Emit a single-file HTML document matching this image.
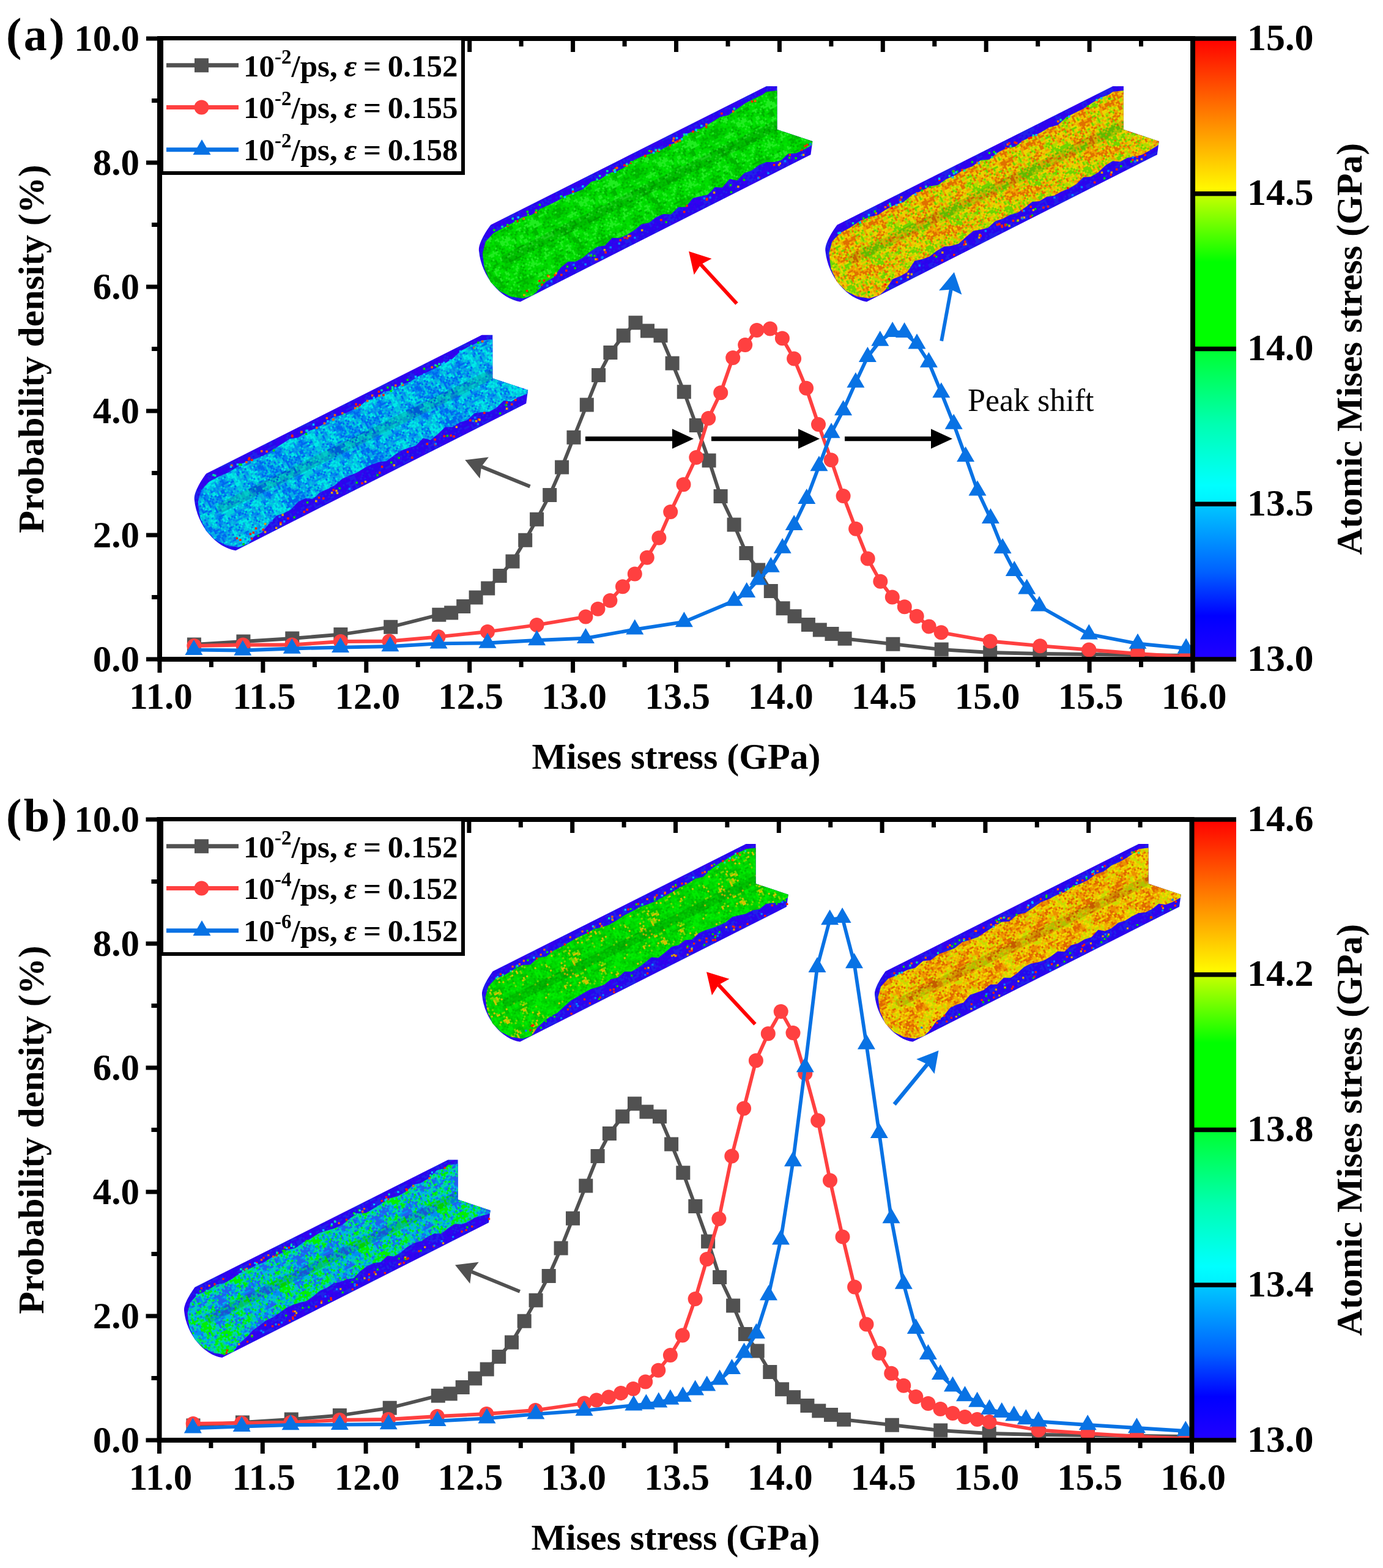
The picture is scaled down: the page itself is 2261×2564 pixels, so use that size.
<!DOCTYPE html><html><head><meta charset="utf-8"><style>html,body{margin:0;padding:0;background:#fff;}svg{display:block;}#fig{width:2261px;height:2564px;overflow:hidden;}</style></head><body><div id="fig">
<svg width="2261" height="2564" viewBox="0 0 2261 2564" font-family="Liberation Serif, Times New Roman, serif" font-weight="bold">
<defs><linearGradient id="jet" x1="0" y1="0" x2="0" y2="1"><stop offset="0" stop-color="#ff0000"/><stop offset="0.125" stop-color="#ff8000"/><stop offset="0.249" stop-color="#ffff00"/><stop offset="0.251" stop-color="#c8ff00"/><stop offset="0.36" stop-color="#00ff00"/><stop offset="0.499" stop-color="#00ff00"/><stop offset="0.501" stop-color="#00ff30"/><stop offset="0.62" stop-color="#00ffb0"/><stop offset="0.72" stop-color="#00ffff"/><stop offset="0.749" stop-color="#00f0ff"/><stop offset="0.751" stop-color="#00c8ff"/><stop offset="0.86" stop-color="#0060ff"/><stop offset="0.93" stop-color="#0000ff"/><stop offset="1" stop-color="#2200ff"/></linearGradient><pattern id="pt_cyan" width="144" height="144" patternUnits="userSpaceOnUse" patternTransform="rotate(-26.7)"><rect width="144" height="144" fill="#0aa0e8"/><path fill="#0068f0" d="M0 0h3v3h-3zm12 0h3v3h-3zm27 0h3v3h-3zm30 0h3v3h-3zm3 0h3v3h-3zm3 0h3v3h-3zm36 0h3v3h-3zm3 0h3v3h-3zm-108 3h3v3h-3zm21 0h3v3h-3zm12 0h3v3h-3zm3 0h3v3h-3zm9 0h3v3h-3zm15 0h3v3h-3zm6 0h3v3h-3zm42 0h3v3h-3zm27 0h3v3h-3zm-108 3h3v3h-3zm3 0h3v3h-3zm9 0h3v3h-3zm9 0h3v3h-3zm12 0h3v3h-3zm6 0h3v3h-3zm3 0h3v3h-3zm36 0h3v3h-3zm3 0h3v3h-3zm3 0h3v3h-3zm3 0h3v3h-3zm-114 3h3v3h-3zm21 0h3v3h-3zm6 0h3v3h-3zm3 0h3v3h-3zm3 0h3v3h-3zm12 0h3v3h-3zm27 0h3v3h-3zm12 0h3v3h-3zm21 0h3v3h-3zm15 0h3v3h-3zm3 0h3v3h-3zm-123 3h3v3h-3zm30 0h3v3h-3zm3 0h3v3h-3zm9 0h3v3h-3zm12 0h3v3h-3zm15 0h3v3h-3zm45 0h3v3h-3zm3 0h3v3h-3zm-84 3h3v3h-3zm12 0h3v3h-3zm3 0h3v3h-3zm21 0h3v3h-3zm12 0h3v3h-3zm18 0h3v3h-3zm3 0h3v3h-3zm-66 3h3v3h-3zm9 0h3v3h-3zm27 0h3v3h-3zm6 0h3v3h-3zm9 0h3v3h-3zm12 0h3v3h-3zm3 0h3v3h-3zm21 0h3v3h-3zm-129 3h3v3h-3zm33 0h3v3h-3zm6 0h3v3h-3zm15 0h3v3h-3zm9 0h3v3h-3zm6 0h3v3h-3zm9 0h3v3h-3zm3 0h3v3h-3zm6 0h3v3h-3zm9 0h3v3h-3zm3 0h3v3h-3zm27 0h3v3h-3zm-120 3h3v3h-3zm27 0h3v3h-3zm3 0h3v3h-3zm15 0h3v3h-3zm6 0h3v3h-3zm12 0h3v3h-3zm9 0h3v3h-3zm6 0h3v3h-3zm9 0h3v3h-3zm6 0h3v3h-3zm6 0h3v3h-3zm3 0h3v3h-3zm12 0h3v3h-3zm-108 3h3v3h-3zm27 0h3v3h-3zm15 0h3v3h-3zm3 0h3v3h-3zm6 0h3v3h-3zm15 0h3v3h-3zm6 0h3v3h-3zm6 0h3v3h-3zm27 0h3v3h-3zm-108 3h3v3h-3zm15 0h3v3h-3zm3 0h3v3h-3zm15 0h3v3h-3zm3 0h3v3h-3zm6 0h3v3h-3zm12 0h3v3h-3zm15 0h3v3h-3zm21 0h3v3h-3zm21 0h3v3h-3zm-117 3h3v3h-3zm3 0h3v3h-3zm6 0h3v3h-3zm3 0h3v3h-3zm24 0h3v3h-3zm9 0h3v3h-3zm3 0h3v3h-3zm12 0h3v3h-3zm3 0h3v3h-3zm3 0h3v3h-3zm-60 3h3v3h-3zm6 0h3v3h-3zm3 0h3v3h-3zm3 0h3v3h-3zm9 0h3v3h-3zm24 0h3v3h-3zm18 0h3v3h-3zm3 0h3v3h-3zm9 0h3v3h-3zm24 0h3v3h-3zm-99 3h3v3h-3zm6 0h3v3h-3zm3 0h3v3h-3zm3 0h3v3h-3zm24 0h3v3h-3zm6 0h3v3h-3zm18 0h3v3h-3zm15 0h3v3h-3zm-72 3h3v3h-3zm3 0h3v3h-3zm3 0h3v3h-3zm3 0h3v3h-3zm63 0h3v3h-3zm-72 3h3v3h-3zm6 0h3v3h-3zm3 0h3v3h-3zm3 0h3v3h-3zm36 0h3v3h-3zm-51 3h3v3h-3zm12 0h3v3h-3zm27 0h3v3h-3zm-42 3h3v3h-3zm21 0h3v3h-3zm21 0h3v3h-3zm12 0h3v3h-3zm24 0h3v3h-3zm3 0h3v3h-3zm3 0h3v3h-3zm21 0h3v3h-3zm30 0h3v3h-3zm-117 3h3v3h-3zm3 0h3v3h-3zm3 0h3v3h-3zm9 0h3v3h-3zm3 0h3v3h-3zm6 0h3v3h-3zm6 0h3v3h-3zm6 0h3v3h-3zm21 0h3v3h-3zm3 0h3v3h-3zm27 0h3v3h-3zm21 0h3v3h-3zm6 0h3v3h-3zm-111 3h3v3h-3zm3 0h3v3h-3zm45 0h3v3h-3zm6 0h3v3h-3zm-54 3h3v3h-3zm24 0h3v3h-3zm3 0h3v3h-3zm6 0h3v3h-3zm3 0h3v3h-3zm33 0h3v3h-3zm6 0h3v3h-3zm12 0h3v3h-3zm3 0h3v3h-3zm18 0h3v3h-3zm-120 3h3v3h-3zm36 0h3v3h-3zm9 0h3v3h-3zm3 0h3v3h-3zm15 0h3v3h-3zm27 0h3v3h-3zm9 0h3v3h-3zm6 0h3v3h-3zm6 0h3v3h-3zm-111 3h3v3h-3zm39 0h3v3h-3zm6 0h3v3h-3zm6 0h3v3h-3zm12 0h3v3h-3zm12 0h3v3h-3zm33 0h3v3h-3zm-120 3h3v3h-3zm63 0h3v3h-3zm3 0h3v3h-3zm3 0h3v3h-3zm63 0h3v3h-3zm-123 3h3v3h-3zm45 0h3v3h-3zm9 0h3v3h-3zm-45 3h3v3h-3zm21 0h3v3h-3zm3 0h3v3h-3zm9 0h3v3h-3zm3 0h3v3h-3zm15 0h3v3h-3zm3 0h3v3h-3zm3 0h3v3h-3zm12 0h3v3h-3zm3 0h3v3h-3zm9 0h3v3h-3zm21 0h3v3h-3zm18 0h3v3h-3zm-132 3h3v3h-3zm9 0h3v3h-3zm30 0h3v3h-3zm6 0h3v3h-3zm3 0h3v3h-3zm9 0h3v3h-3zm3 0h3v3h-3zm18 0h3v3h-3zm3 0h3v3h-3zm45 0h3v3h-3zm-120 3h3v3h-3zm6 0h3v3h-3zm30 0h3v3h-3zm3 0h3v3h-3zm3 0h3v3h-3zm3 0h3v3h-3zm3 0h3v3h-3zm3 0h3v3h-3zm3 0h3v3h-3zm6 0h3v3h-3zm3 0h3v3h-3zm27 0h3v3h-3zm-57 3h3v3h-3zm9 0h3v3h-3zm3 0h3v3h-3zm3 0h3v3h-3zm3 0h3v3h-3zm6 0h3v3h-3zm6 0h3v3h-3zm6 0h3v3h-3zm18 0h3v3h-3zm33 0h3v3h-3zm-120 3h3v3h-3zm30 0h3v3h-3zm3 0h3v3h-3zm9 0h3v3h-3zm15 0h3v3h-3zm18 0h3v3h-3zm15 0h3v3h-3zm21 0h3v3h-3zm12 0h3v3h-3zm-117 3h3v3h-3zm39 0h3v3h-3zm6 0h3v3h-3zm6 0h3v3h-3zm-45 3h3v3h-3zm39 0h3v3h-3zm3 0h3v3h-3zm21 0h3v3h-3zm9 0h3v3h-3zm12 0h3v3h-3zm3 0h3v3h-3zm-105 3h3v3h-3zm21 0h3v3h-3zm39 0h3v3h-3zm18 0h3v3h-3zm3 0h3v3h-3zm21 0h3v3h-3zm-54 3h3v3h-3zm3 0h3v3h-3zm3 0h3v3h-3zm3 0h3v3h-3zm-66 3h3v3h-3zm60 0h3v3h-3zm9 0h3v3h-3zm3 0h3v3h-3zm60 0h3v3h-3zm-81 3h3v3h-3zm9 0h3v3h-3zm3 0h3v3h-3zm3 0h3v3h-3zm3 0h3v3h-3zm3 0h3v3h-3zm15 0h3v3h-3zm27 0h3v3h-3zm-114 3h3v3h-3zm3 0h3v3h-3zm42 0h3v3h-3zm54 0h3v3h-3zm9 0h3v3h-3zm9 0h3v3h-3zm-117 3h3v3h-3zm3 0h3v3h-3zm3 0h3v3h-3zm63 0h3v3h-3zm18 0h3v3h-3zm12 0h3v3h-3zm3 0h3v3h-3zm27 0h3v3h-3zm6 0h3v3h-3zm3 0h3v3h-3zm-102 3h3v3h-3zm3 0h3v3h-3zm9 0h3v3h-3zm75 0h3v3h-3zm15 0h3v3h-3zm-117 3h3v3h-3zm6 0h3v3h-3zm6 0h3v3h-3zm6 0h3v3h-3zm6 0h3v3h-3zm3 0h3v3h-3zm3 0h3v3h-3zm78 0h3v3h-3zm9 0h3v3h-3zm-123 3h3v3h-3zm3 0h3v3h-3zm3 0h3v3h-3zm15 0h3v3h-3zm3 0h3v3h-3zm9 0h3v3h-3zm66 0h3v3h-3zm-93 3h3v3h-3zm15 0h3v3h-3zm3 0h3v3h-3zm18 0h3v3h-3zm15 0h3v3h-3zm-69 3h3v3h-3zm21 0h3v3h-3zm3 0h3v3h-3zm21 0h3v3h-3zm12 0h3v3h-3zm24 0h3v3h-3zm6 0h3v3h-3zm6 0h3v3h-3zm3 0h3v3h-3zm3 0h3v3h-3zm15 0h3v3h-3zm-114 3h3v3h-3zm18 0h3v3h-3zm18 0h3v3h-3zm9 0h3v3h-3zm18 0h3v3h-3zm54 0h3v3h-3zm-120 3h3v3h-3zm18 0h3v3h-3zm27 0h3v3h-3zm15 0h3v3h-3zm3 0h3v3h-3zm-63 3h3v3h-3zm3 0h3v3h-3zm21 0h3v3h-3zm3 0h3v3h-3zm12 0h3v3h-3zm12 0h3v3h-3zm6 0h3v3h-3zm3 0h3v3h-3zm3 0h3v3h-3zm9 0h3v3h-3zm57 0h3v3h-3zm-126 3h3v3h-3zm3 0h3v3h-3zm12 0h3v3h-3zm3 0h3v3h-3zm3 0h3v3h-3zm30 0h3v3h-3zm3 0h3v3h-3zm3 0h3v3h-3zm3 0h3v3h-3zm3 0h3v3h-3zm-30 3h3v3h-3zm33 0h3v3h-3zm9 0h3v3h-3zm42 0h3v3h-3z"/><path fill="#00d0dc" d="M9 0h3v3h-3zm6 0h3v3h-3zm45 0h3v3h-3zm3 0h3v3h-3zm27 0h3v3h-3zm15 0h3v3h-3zm24 0h3v3h-3zm6 0h3v3h-3zm-132 3h3v3h-3zm15 0h3v3h-3zm12 0h3v3h-3zm24 0h3v3h-3zm6 0h3v3h-3zm24 0h3v3h-3zm39 0h3v3h-3zm6 0h3v3h-3zm9 0h3v3h-3zm-138 3h3v3h-3zm3 0h3v3h-3zm3 0h3v3h-3zm36 0h3v3h-3zm6 0h3v3h-3zm12 0h3v3h-3zm24 0h3v3h-3zm3 0h3v3h-3zm6 0h3v3h-3zm45 0h3v3h-3zm-138 3h3v3h-3zm15 0h3v3h-3zm48 0h3v3h-3zm45 0h3v3h-3zm24 0h3v3h-3zm-117 3h3v3h-3zm6 0h3v3h-3zm33 0h3v3h-3zm9 0h3v3h-3zm27 0h3v3h-3zm21 0h3v3h-3zm21 0h3v3h-3zm-132 3h3v3h-3zm21 0h3v3h-3zm24 0h3v3h-3zm12 0h3v3h-3zm12 0h3v3h-3zm3 0h3v3h-3zm12 0h3v3h-3zm12 0h3v3h-3zm6 0h3v3h-3zm-102 3h3v3h-3zm9 0h3v3h-3zm51 0h3v3h-3zm21 0h3v3h-3zm21 0h3v3h-3zm9 0h3v3h-3zm27 0h3v3h-3zm-126 3h3v3h-3zm12 0h3v3h-3zm21 0h3v3h-3zm21 0h3v3h-3zm39 0h3v3h-3zm33 0h3v3h-3zm-135 3h3v3h-3zm24 0h3v3h-3zm15 0h3v3h-3zm3 0h3v3h-3zm27 0h3v3h-3zm39 0h3v3h-3zm12 0h3v3h-3zm9 0h3v3h-3zm6 0h3v3h-3zm-120 3h3v3h-3zm9 0h3v3h-3zm3 0h3v3h-3zm3 0h3v3h-3zm42 0h3v3h-3zm27 0h3v3h-3zm30 0h3v3h-3zm3 0h3v3h-3zm-135 3h3v3h-3zm3 0h3v3h-3zm15 0h3v3h-3zm21 0h3v3h-3zm36 0h3v3h-3zm15 0h3v3h-3zm18 0h3v3h-3zm6 0h3v3h-3zm9 0h3v3h-3zm-36 3h3v3h-3zm24 0h3v3h-3zm9 0h3v3h-3zm6 0h3v3h-3zm9 0h3v3h-3zm6 0h3v3h-3zm-129 3h3v3h-3zm24 0h3v3h-3zm9 0h3v3h-3zm3 0h3v3h-3zm3 0h3v3h-3zm9 0h3v3h-3zm6 0h3v3h-3zm27 0h3v3h-3zm3 0h3v3h-3zm21 0h3v3h-3zm9 0h3v3h-3zm6 0h3v3h-3zm3 0h3v3h-3zm-135 3h3v3h-3zm39 0h3v3h-3zm3 0h3v3h-3zm18 0h3v3h-3zm18 0h3v3h-3zm9 0h3v3h-3zm6 0h3v3h-3zm15 0h3v3h-3zm9 0h3v3h-3zm15 0h3v3h-3zm3 0h3v3h-3zm-132 3h3v3h-3zm24 0h3v3h-3zm6 0h3v3h-3zm9 0h3v3h-3zm3 0h3v3h-3zm15 0h3v3h-3zm6 0h3v3h-3zm3 0h3v3h-3zm6 0h3v3h-3zm3 0h3v3h-3zm24 0h3v3h-3zm6 0h3v3h-3zm21 0h3v3h-3zm6 0h3v3h-3zm6 0h3v3h-3zm-114 3h3v3h-3zm6 0h3v3h-3zm12 0h3v3h-3zm24 0h3v3h-3zm24 0h3v3h-3zm3 0h3v3h-3zm3 0h3v3h-3zm12 0h3v3h-3zm3 0h3v3h-3zm9 0h3v3h-3zm6 0h3v3h-3zm-123 3h3v3h-3zm27 0h3v3h-3zm21 0h3v3h-3zm12 0h3v3h-3zm3 0h3v3h-3zm6 0h3v3h-3zm15 0h3v3h-3zm12 0h3v3h-3zm12 0h3v3h-3zm24 0h3v3h-3zm-135 3h3v3h-3zm33 0h3v3h-3zm3 0h3v3h-3zm27 0h3v3h-3zm6 0h3v3h-3zm24 0h3v3h-3zm3 0h3v3h-3zm3 0h3v3h-3zm3 0h3v3h-3zm3 0h3v3h-3zm12 0h3v3h-3zm-114 3h3v3h-3zm6 0h3v3h-3zm39 0h3v3h-3zm12 0h3v3h-3zm6 0h3v3h-3zm21 0h3v3h-3zm6 0h3v3h-3zm3 0h3v3h-3zm3 0h3v3h-3zm3 0h3v3h-3zm3 0h3v3h-3zm15 0h3v3h-3zm-123 3h3v3h-3zm9 0h3v3h-3zm3 0h3v3h-3zm36 0h3v3h-3zm48 0h3v3h-3zm3 0h3v3h-3zm-93 3h3v3h-3zm39 0h3v3h-3zm21 0h3v3h-3zm3 0h3v3h-3zm30 0h3v3h-3zm12 0h3v3h-3zm30 0h3v3h-3zm-141 3h3v3h-3zm6 0h3v3h-3zm18 0h3v3h-3zm45 0h3v3h-3zm3 0h3v3h-3zm51 0h3v3h-3zm6 0h3v3h-3zm-117 3h3v3h-3zm15 0h3v3h-3zm21 0h3v3h-3zm27 0h3v3h-3zm33 0h3v3h-3zm6 0h3v3h-3zm-108 3h3v3h-3zm3 0h3v3h-3zm15 0h3v3h-3zm9 0h3v3h-3zm3 0h3v3h-3zm42 0h3v3h-3zm51 0h3v3h-3zm9 0h3v3h-3zm-138 3h3v3h-3zm9 0h3v3h-3zm18 0h3v3h-3zm6 0h3v3h-3zm18 0h3v3h-3zm3 0h3v3h-3zm36 0h3v3h-3zm6 0h3v3h-3zm12 0h3v3h-3zm9 0h3v3h-3zm-114 3h3v3h-3zm15 0h3v3h-3zm6 0h3v3h-3zm75 0h3v3h-3zm-96 3h3v3h-3zm33 0h3v3h-3zm15 0h3v3h-3zm45 0h3v3h-3zm6 0h3v3h-3zm15 0h3v3h-3zm6 0h3v3h-3zm-105 3h3v3h-3zm6 0h3v3h-3zm12 0h3v3h-3zm66 0h3v3h-3zm18 0h3v3h-3zm9 0h3v3h-3zm-129 3h3v3h-3zm39 0h3v3h-3zm15 0h3v3h-3zm42 0h3v3h-3zm18 0h3v3h-3zm9 0h3v3h-3zm15 0h3v3h-3zm-135 3h3v3h-3zm18 0h3v3h-3zm6 0h3v3h-3zm9 0h3v3h-3zm48 0h3v3h-3zm18 0h3v3h-3zm9 0h3v3h-3zm3 0h3v3h-3zm6 0h3v3h-3zm3 0h3v3h-3zm12 0h3v3h-3zm6 0h3v3h-3zm-138 3h3v3h-3zm3 0h3v3h-3zm18 0h3v3h-3zm3 0h3v3h-3zm6 0h3v3h-3zm3 0h3v3h-3zm54 0h3v3h-3zm24 0h3v3h-3zm24 0h3v3h-3zm-138 3h3v3h-3zm33 0h3v3h-3zm3 0h3v3h-3zm24 0h3v3h-3zm12 0h3v3h-3zm9 0h3v3h-3zm21 0h3v3h-3zm24 0h3v3h-3zm3 0h3v3h-3zm-117 3h3v3h-3zm3 0h3v3h-3zm108 0h3v3h-3zm-120 3h3v3h-3zm18 0h3v3h-3zm18 0h3v3h-3zm15 0h3v3h-3zm15 0h3v3h-3zm27 0h3v3h-3zm3 0h3v3h-3zm-84 3h3v3h-3zm18 0h3v3h-3zm3 0h3v3h-3zm3 0h3v3h-3zm18 0h3v3h-3zm27 0h3v3h-3zm-78 3h3v3h-3zm12 0h3v3h-3zm60 0h3v3h-3zm3 0h3v3h-3zm21 0h3v3h-3zm9 0h3v3h-3zm18 0h3v3h-3zm3 0h3v3h-3zm-111 3h3v3h-3zm9 0h3v3h-3zm6 0h3v3h-3zm12 0h3v3h-3zm6 0h3v3h-3zm9 0h3v3h-3zm12 0h3v3h-3zm15 0h3v3h-3zm3 0h3v3h-3zm39 0h3v3h-3zm-105 3h3v3h-3zm21 0h3v3h-3zm9 0h3v3h-3zm24 0h3v3h-3zm3 0h3v3h-3zm39 0h3v3h-3zm3 0h3v3h-3zm15 0h3v3h-3zm-135 3h3v3h-3zm63 0h3v3h-3zm3 0h3v3h-3zm9 0h3v3h-3zm6 0h3v3h-3zm6 0h3v3h-3zm9 0h3v3h-3zm3 0h3v3h-3zm21 0h3v3h-3zm-66 3h3v3h-3zm3 0h3v3h-3zm12 0h3v3h-3zm9 0h3v3h-3zm24 0h3v3h-3zm6 0h3v3h-3zm6 0h3v3h-3zm6 0h3v3h-3zm-123 3h3v3h-3zm3 0h3v3h-3zm6 0h3v3h-3zm15 0h3v3h-3zm63 0h3v3h-3zm12 0h3v3h-3zm3 0h3v3h-3zm3 0h3v3h-3zm3 0h3v3h-3zm-102 3h3v3h-3zm9 0h3v3h-3zm30 0h3v3h-3zm18 0h3v3h-3zm3 0h3v3h-3zm21 0h3v3h-3zm12 0h3v3h-3zm24 0h3v3h-3zm3 0h3v3h-3zm3 0h3v3h-3zm-120 3h3v3h-3zm3 0h3v3h-3zm48 0h3v3h-3zm42 0h3v3h-3zm30 0h3v3h-3zm3 0h3v3h-3zm-138 3h3v3h-3zm36 0h3v3h-3zm48 0h3v3h-3zm21 0h3v3h-3zm3 0h3v3h-3zm3 0h3v3h-3zm21 0h3v3h-3zm3 0h3v3h-3zm-99 3h3v3h-3zm99 0h3v3h-3zm-129 3h3v3h-3zm39 0h3v3h-3zm42 0h3v3h-3zm9 0h3v3h-3zm24 0h3v3h-3zm15 0h3v3h-3zm-108 3h3v3h-3zm63 0h3v3h-3zm15 0h3v3h-3zm33 0h3v3h-3zm-120 3h3v3h-3zm15 0h3v3h-3zm27 0h3v3h-3zm24 0h3v3h-3zm24 0h3v3h-3zm27 0h3v3h-3z"/><path fill="#00e8e8" d="M3 0h3v3h-3zm48 0h3v3h-3zm3 0h3v3h-3zm33 0h3v3h-3zm9 0h3v3h-3zm3 0h3v3h-3zm27 0h3v3h-3zm6 0h3v3h-3zm6 0h3v3h-3zm-123 3h3v3h-3zm9 0h3v3h-3zm33 0h3v3h-3zm42 0h3v3h-3zm33 0h3v3h-3zm3 0h3v3h-3zm-117 3h3v3h-3zm39 0h3v3h-3zm6 0h3v3h-3zm15 0h3v3h-3zm57 0h3v3h-3zm-117 3h3v3h-3zm3 0h3v3h-3zm63 0h3v3h-3zm39 0h3v3h-3zm12 0h3v3h-3zm-111 3h3v3h-3zm3 0h3v3h-3zm66 0h3v3h-3zm45 0h3v3h-3zm-120 3h3v3h-3zm72 0h3v3h-3zm3 0h3v3h-3zm30 0h3v3h-3zm3 0h3v3h-3zm6 0h3v3h-3zm3 0h3v3h-3zm3 0h3v3h-3zm-135 3h3v3h-3zm9 0h3v3h-3zm6 0h3v3h-3zm3 0h3v3h-3zm45 0h3v3h-3zm3 0h3v3h-3zm27 0h3v3h-3zm36 0h3v3h-3zm3 0h3v3h-3zm-120 3h3v3h-3zm6 0h3v3h-3zm6 0h3v3h-3zm-9 3h3v3h-3zm3 0h3v3h-3zm-15 3h3v3h-3zm15 0h3v3h-3zm45 0h3v3h-3zm6 0h3v3h-3zm36 0h3v3h-3zm-75 3h3v3h-3zm36 0h3v3h-3zm36 0h3v3h-3zm6 0h3v3h-3zm27 0h3v3h-3zm-138 3h3v3h-3zm42 0h3v3h-3zm33 0h3v3h-3zm15 0h3v3h-3zm12 0h3v3h-3zm3 0h3v3h-3zm24 0h3v3h-3zm9 0h3v3h-3zm-138 3h3v3h-3zm33 0h3v3h-3zm6 0h3v3h-3zm18 0h3v3h-3zm6 0h3v3h-3zm24 0h3v3h-3zm27 0h3v3h-3zm6 0h3v3h-3zm9 0h3v3h-3zm9 0h3v3h-3zm3 0h3v3h-3zm-108 3h3v3h-3zm3 0h3v3h-3zm12 0h3v3h-3zm6 0h3v3h-3zm12 0h3v3h-3zm15 0h3v3h-3zm18 0h3v3h-3zm3 0h3v3h-3zm21 0h3v3h-3zm6 0h3v3h-3zm9 0h3v3h-3zm3 0h3v3h-3zm-117 3h3v3h-3zm6 0h3v3h-3zm6 0h3v3h-3zm3 0h3v3h-3zm12 0h3v3h-3zm3 0h3v3h-3zm18 0h3v3h-3zm21 0h3v3h-3zm3 0h3v3h-3zm3 0h3v3h-3zm27 0h3v3h-3zm-126 3h3v3h-3zm39 0h3v3h-3zm33 0h3v3h-3zm3 0h3v3h-3zm42 0h3v3h-3zm3 0h3v3h-3zm12 0h3v3h-3zm-96 3h3v3h-3zm3 0h3v3h-3zm54 0h3v3h-3zm3 0h3v3h-3zm3 0h3v3h-3zm6 0h3v3h-3zm6 0h3v3h-3zm6 0h3v3h-3zm12 0h3v3h-3zm3 0h3v3h-3zm-63 3h3v3h-3zm45 0h3v3h-3zm12 0h3v3h-3zm-126 3h3v3h-3zm3 0h3v3h-3zm30 0h3v3h-3zm39 0h3v3h-3zm3 0h3v3h-3zm18 0h3v3h-3zm-87 3h3v3h-3zm39 0h3v3h-3zm24 0h3v3h-3zm18 0h3v3h-3zm6 0h3v3h-3zm45 0h3v3h-3zm3 0h3v3h-3zm-141 3h3v3h-3zm3 0h3v3h-3zm6 0h3v3h-3zm12 0h3v3h-3zm18 0h3v3h-3zm33 0h3v3h-3zm15 0h3v3h-3zm6 0h3v3h-3zm33 0h3v3h-3zm3 0h3v3h-3zm-126 3h3v3h-3zm6 0h3v3h-3zm27 0h3v3h-3zm3 0h3v3h-3zm6 0h3v3h-3zm3 0h3v3h-3zm42 0h3v3h-3zm18 0h3v3h-3zm24 0h3v3h-3zm3 0h3v3h-3zm-135 3h3v3h-3zm18 0h3v3h-3zm3 0h3v3h-3zm12 0h3v3h-3zm6 0h3v3h-3zm6 0h3v3h-3zm-30 3h3v3h-3zm24 0h3v3h-3zm12 0h3v3h-3zm39 0h3v3h-3zm42 0h3v3h-3zm-102 3h3v3h-3zm12 0h3v3h-3zm69 0h3v3h-3zm18 0h3v3h-3zm-123 3h3v3h-3zm21 0h3v3h-3zm6 0h3v3h-3zm48 0h3v3h-3zm27 0h3v3h-3zm3 0h3v3h-3zm3 0h3v3h-3zm3 0h3v3h-3zm3 0h3v3h-3zm6 0h3v3h-3zm-120 3h3v3h-3zm6 0h3v3h-3zm12 0h3v3h-3zm3 0h3v3h-3zm6 0h3v3h-3zm9 0h3v3h-3zm18 0h3v3h-3zm51 0h3v3h-3zm9 0h3v3h-3zm6 0h3v3h-3zm-120 3h3v3h-3zm21 0h3v3h-3zm3 0h3v3h-3zm12 0h3v3h-3zm51 0h3v3h-3zm15 0h3v3h-3zm9 0h3v3h-3zm21 0h3v3h-3zm-132 3h3v3h-3zm18 0h3v3h-3zm6 0h3v3h-3zm3 0h3v3h-3zm3 0h3v3h-3zm6 0h3v3h-3zm51 0h3v3h-3zm24 0h3v3h-3zm3 0h3v3h-3zm6 0h3v3h-3zm-102 3h3v3h-3zm9 0h3v3h-3zm6 0h3v3h-3zm3 0h3v3h-3zm51 0h3v3h-3zm3 0h3v3h-3zm21 0h3v3h-3zm-117 3h3v3h-3zm9 0h3v3h-3zm30 0h3v3h-3zm6 0h3v3h-3zm3 0h3v3h-3zm45 0h3v3h-3zm27 0h3v3h-3zm9 0h3v3h-3zm-123 3h3v3h-3zm9 0h3v3h-3zm15 0h3v3h-3zm15 0h3v3h-3zm9 0h3v3h-3zm3 0h3v3h-3zm18 0h3v3h-3zm21 0h3v3h-3zm27 0h3v3h-3zm15 0h3v3h-3zm-138 3h3v3h-3zm18 0h3v3h-3zm3 0h3v3h-3zm3 0h3v3h-3zm3 0h3v3h-3zm9 0h3v3h-3zm3 0h3v3h-3zm12 0h3v3h-3zm3 0h3v3h-3zm39 0h3v3h-3zm3 0h3v3h-3zm3 0h3v3h-3zm3 0h3v3h-3zm3 0h3v3h-3zm36 0h3v3h-3zm-126 3h3v3h-3zm9 0h3v3h-3zm9 0h3v3h-3zm3 0h3v3h-3zm45 0h3v3h-3zm24 0h3v3h-3zm15 0h3v3h-3zm15 0h3v3h-3zm3 0h3v3h-3zm-135 3h3v3h-3zm24 0h3v3h-3zm3 0h3v3h-3zm12 0h3v3h-3zm45 0h3v3h-3zm9 0h3v3h-3zm6 0h3v3h-3zm6 0h3v3h-3zm9 0h3v3h-3zm3 0h3v3h-3zm-111 3h3v3h-3zm12 0h3v3h-3zm3 0h3v3h-3zm6 0h3v3h-3zm3 0h3v3h-3zm9 0h3v3h-3zm3 0h3v3h-3zm54 0h3v3h-3zm6 0h3v3h-3zm3 0h3v3h-3zm12 0h3v3h-3zm-102 3h3v3h-3zm15 0h3v3h-3zm69 0h3v3h-3zm9 0h3v3h-3zm3 0h3v3h-3zm6 0h3v3h-3zm3 0h3v3h-3zm-105 3h3v3h-3zm3 0h3v3h-3zm12 0h3v3h-3zm21 0h3v3h-3zm39 0h3v3h-3zm3 0h3v3h-3zm12 0h3v3h-3zm3 0h3v3h-3zm6 0h3v3h-3zm3 0h3v3h-3zm-96 3h3v3h-3zm30 0h3v3h-3zm6 0h3v3h-3zm15 0h3v3h-3zm24 0h3v3h-3zm9 0h3v3h-3zm6 0h3v3h-3zm3 0h3v3h-3zm-102 3h3v3h-3zm54 0h3v3h-3zm18 0h3v3h-3zm3 0h3v3h-3zm3 0h3v3h-3zm12 0h3v3h-3zm6 0h3v3h-3zm-48 3h3v3h-3zm9 0h3v3h-3zm12 0h3v3h-3zm3 0h3v3h-3zm36 0h3v3h-3zm3 0h3v3h-3zm9 0h3v3h-3zm-111 3h3v3h-3zm3 0h3v3h-3zm36 0h3v3h-3zm18 0h3v3h-3zm18 0h3v3h-3zm15 0h3v3h-3zm21 0h3v3h-3zm3 0h3v3h-3zm-138 3h3v3h-3zm72 0h3v3h-3zm6 0h3v3h-3zm54 0h3v3h-3zm-117 3h3v3h-3zm3 0h3v3h-3zm15 0h3v3h-3zm39 0h3v3h-3zm3 0h3v3h-3zm6 0h3v3h-3zm48 0h3v3h-3zm9 0h3v3h-3zm-69 3h3v3h-3zm6 0h3v3h-3zm3 0h3v3h-3zm3 0h3v3h-3zm3 0h3v3h-3zm6 0h3v3h-3zm3 0h3v3h-3zm6 0h3v3h-3zm3 0h3v3h-3zm3 0h3v3h-3zm3 0h3v3h-3zm6 0h3v3h-3zm12 0h3v3h-3zm3 0h3v3h-3zm3 0h3v3h-3zm-117 3h3v3h-3zm63 0h3v3h-3zm3 0h3v3h-3zm3 0h3v3h-3zm6 0h3v3h-3zm9 0h3v3h-3zm9 0h3v3h-3zm3 0h3v3h-3zm-102 3h3v3h-3zm36 0h3v3h-3zm39 0h3v3h-3zm9 0h3v3h-3zm3 0h3v3h-3zm3 0h3v3h-3zm3 0h3v3h-3zm6 0h3v3h-3zm18 0h3v3h-3zm15 0h3v3h-3zm-129 3h3v3h-3zm3 0h3v3h-3zm15 0h3v3h-3zm12 0h3v3h-3zm15 0h3v3h-3zm30 0h3v3h-3zm3 0h3v3h-3zm3 0h3v3h-3zm12 0h3v3h-3zm12 0h3v3h-3zm9 0h3v3h-3zm3 0h3v3h-3zm3 0h3v3h-3z"/><path fill="#0088f0" d="M21 0h3v3h-3zm9 0h3v3h-3zm3 0h3v3h-3zm45 0h3v3h-3zm6 0h3v3h-3zm18 0h3v3h-3zm15 0h3v3h-3zm24 0h3v3h-3zm-132 3h3v3h-3zm12 0h3v3h-3zm12 0h3v3h-3zm3 0h3v3h-3zm9 0h3v3h-3zm18 0h3v3h-3zm6 0h3v3h-3zm6 0h3v3h-3zm27 0h3v3h-3zm6 0h3v3h-3zm3 0h3v3h-3zm6 0h3v3h-3zm-105 3h3v3h-3zm15 0h3v3h-3zm3 0h3v3h-3zm9 0h3v3h-3zm51 0h3v3h-3zm6 0h3v3h-3zm6 0h3v3h-3zm3 0h3v3h-3zm3 0h3v3h-3zm15 0h3v3h-3zm6 0h3v3h-3zm-117 3h3v3h-3zm18 0h3v3h-3zm42 0h3v3h-3zm9 0h3v3h-3zm12 0h3v3h-3zm3 0h3v3h-3zm6 0h3v3h-3zm-72 3h3v3h-3zm3 0h3v3h-3zm9 0h3v3h-3zm36 0h3v3h-3zm3 0h3v3h-3zm18 0h3v3h-3zm9 0h3v3h-3zm6 0h3v3h-3zm3 0h3v3h-3zm-114 3h3v3h-3zm3 0h3v3h-3zm18 0h3v3h-3zm12 0h3v3h-3zm6 0h3v3h-3zm6 0h3v3h-3zm12 0h3v3h-3zm6 0h3v3h-3zm12 0h3v3h-3zm3 0h3v3h-3zm18 0h3v3h-3zm12 0h3v3h-3zm-105 3h3v3h-3zm9 0h3v3h-3zm12 0h3v3h-3zm3 0h3v3h-3zm3 0h3v3h-3zm3 0h3v3h-3zm18 0h3v3h-3zm21 0h3v3h-3zm24 0h3v3h-3zm18 0h3v3h-3zm-99 3h3v3h-3zm24 0h3v3h-3zm6 0h3v3h-3zm12 0h3v3h-3zm24 0h3v3h-3zm9 0h3v3h-3zm9 0h3v3h-3zm6 0h3v3h-3zm3 0h3v3h-3zm3 0h3v3h-3zm6 0h3v3h-3zm-111 3h3v3h-3zm3 0h3v3h-3zm12 0h3v3h-3zm6 0h3v3h-3zm18 0h3v3h-3zm12 0h3v3h-3zm36 0h3v3h-3zm21 0h3v3h-3zm24 0h3v3h-3zm-138 3h3v3h-3zm6 0h3v3h-3zm33 0h3v3h-3zm3 0h3v3h-3zm6 0h3v3h-3zm9 0h3v3h-3zm27 0h3v3h-3zm9 0h3v3h-3zm3 0h3v3h-3zm30 0h3v3h-3zm-114 3h3v3h-3zm15 0h3v3h-3zm6 0h3v3h-3zm12 0h3v3h-3zm33 0h3v3h-3zm12 0h3v3h-3zm48 0h3v3h-3zm-132 3h3v3h-3zm48 0h3v3h-3zm24 0h3v3h-3zm3 0h3v3h-3zm12 0h3v3h-3zm-90 3h3v3h-3zm18 0h3v3h-3zm18 0h3v3h-3zm57 0h3v3h-3zm12 0h3v3h-3zm-105 3h3v3h-3zm6 0h3v3h-3zm12 0h3v3h-3zm3 0h3v3h-3zm3 0h3v3h-3zm75 0h3v3h-3zm6 0h3v3h-3zm3 0h3v3h-3zm-114 3h3v3h-3zm81 0h3v3h-3zm9 0h3v3h-3zm21 0h3v3h-3zm12 0h3v3h-3zm-75 3h3v3h-3zm3 0h3v3h-3zm3 0h3v3h-3zm12 0h3v3h-3zm-42 3h3v3h-3zm18 0h3v3h-3zm30 0h3v3h-3zm9 0h3v3h-3zm3 0h3v3h-3zm3 0h3v3h-3zm-87 3h3v3h-3zm21 0h3v3h-3zm3 0h3v3h-3zm6 0h3v3h-3zm24 0h3v3h-3zm24 0h3v3h-3zm3 0h3v3h-3zm48 0h3v3h-3zm3 0h3v3h-3zm-111 3h3v3h-3zm36 0h3v3h-3zm30 0h3v3h-3zm42 0h3v3h-3zm-105 3h3v3h-3zm9 0h3v3h-3zm9 0h3v3h-3zm12 0h3v3h-3zm3 0h3v3h-3zm54 0h3v3h-3zm3 0h3v3h-3zm3 0h3v3h-3zm3 0h3v3h-3zm12 0h3v3h-3zm3 0h3v3h-3zm-123 3h3v3h-3zm3 0h3v3h-3zm3 0h3v3h-3zm39 0h3v3h-3zm21 0h3v3h-3zm3 0h3v3h-3zm3 0h3v3h-3zm21 0h3v3h-3zm3 0h3v3h-3zm15 0h3v3h-3zm-105 3h3v3h-3zm3 0h3v3h-3zm21 0h3v3h-3zm12 0h3v3h-3zm3 0h3v3h-3zm24 0h3v3h-3zm6 0h3v3h-3zm9 0h3v3h-3zm3 0h3v3h-3zm18 0h3v3h-3zm24 0h3v3h-3zm-78 3h3v3h-3zm30 0h3v3h-3zm9 0h3v3h-3zm-57 3h3v3h-3zm3 0h3v3h-3zm6 0h3v3h-3zm3 0h3v3h-3zm18 0h3v3h-3zm6 0h3v3h-3zm12 0h3v3h-3zm12 0h3v3h-3zm3 0h3v3h-3zm3 0h3v3h-3zm3 0h3v3h-3zm6 0h3v3h-3zm3 0h3v3h-3zm3 0h3v3h-3zm-123 3h3v3h-3zm12 0h3v3h-3zm3 0h3v3h-3zm21 0h3v3h-3zm30 0h3v3h-3zm6 0h3v3h-3zm12 0h3v3h-3zm45 0h3v3h-3zm3 0h3v3h-3zm3 0h3v3h-3zm3 0h3v3h-3zm-141 3h3v3h-3zm15 0h3v3h-3zm33 0h3v3h-3zm48 0h3v3h-3zm9 0h3v3h-3zm33 0h3v3h-3zm-123 3h3v3h-3zm6 0h3v3h-3zm24 0h3v3h-3zm27 0h3v3h-3zm6 0h3v3h-3zm3 0h3v3h-3zm-42 3h3v3h-3zm9 0h3v3h-3zm39 0h3v3h-3zm12 0h3v3h-3zm27 0h3v3h-3zm6 0h3v3h-3zm3 0h3v3h-3zm-123 3h3v3h-3zm9 0h3v3h-3zm30 0h3v3h-3zm24 0h3v3h-3zm24 0h3v3h-3zm-99 3h3v3h-3zm6 0h3v3h-3zm45 0h3v3h-3zm12 0h3v3h-3zm3 0h3v3h-3zm9 0h3v3h-3zm33 0h3v3h-3zm-96 3h3v3h-3zm6 0h3v3h-3zm33 0h3v3h-3zm3 0h3v3h-3zm27 0h3v3h-3zm3 0h3v3h-3zm39 0h3v3h-3zm-99 3h3v3h-3zm39 0h3v3h-3zm45 0h3v3h-3zm27 0h3v3h-3zm-87 3h3v3h-3zm12 0h3v3h-3zm3 0h3v3h-3zm9 0h3v3h-3zm9 0h3v3h-3zm3 0h3v3h-3zm48 0h3v3h-3zm3 0h3v3h-3zm-135 3h3v3h-3zm6 0h3v3h-3zm6 0h3v3h-3zm15 0h3v3h-3zm21 0h3v3h-3zm27 0h3v3h-3zm39 0h3v3h-3zm12 0h3v3h-3zm-117 3h3v3h-3zm3 0h3v3h-3zm36 0h3v3h-3zm3 0h3v3h-3zm3 0h3v3h-3zm12 0h3v3h-3zm45 0h3v3h-3zm12 0h3v3h-3zm3 0h3v3h-3zm-126 3h3v3h-3zm3 0h3v3h-3zm9 0h3v3h-3zm3 0h3v3h-3zm12 0h3v3h-3zm57 0h3v3h-3zm9 0h3v3h-3zm3 0h3v3h-3zm42 0h3v3h-3zm-126 3h3v3h-3zm54 0h3v3h-3zm3 0h3v3h-3zm69 0h3v3h-3zm3 0h3v3h-3zm-132 3h3v3h-3zm6 0h3v3h-3zm21 0h3v3h-3zm6 0h3v3h-3zm30 0h3v3h-3zm-63 3h3v3h-3zm12 0h3v3h-3zm6 0h3v3h-3zm3 0h3v3h-3zm3 0h3v3h-3zm9 0h3v3h-3zm3 0h3v3h-3zm18 0h3v3h-3zm15 0h3v3h-3zm18 0h3v3h-3zm33 0h3v3h-3zm6 0h3v3h-3zm-111 3h3v3h-3zm6 0h3v3h-3zm48 0h3v3h-3zm54 0h3v3h-3zm3 0h3v3h-3zm-126 3h3v3h-3zm24 0h3v3h-3zm9 0h3v3h-3zm9 0h3v3h-3zm45 0h3v3h-3zm36 0h3v3h-3zm-99 3h3v3h-3zm9 0h3v3h-3zm9 0h3v3h-3zm3 0h3v3h-3zm33 0h3v3h-3zm9 0h3v3h-3zm12 0h3v3h-3zm3 0h3v3h-3zm30 0h3v3h-3zm-99 3h3v3h-3zm3 0h3v3h-3zm9 0h3v3h-3zm3 0h3v3h-3zm9 0h3v3h-3zm21 0h3v3h-3zm27 0h3v3h-3zm6 0h3v3h-3zm3 0h3v3h-3zm18 0h3v3h-3zm-129 3h3v3h-3zm18 0h3v3h-3zm15 0h3v3h-3zm12 0h3v3h-3zm21 0h3v3h-3zm18 0h3v3h-3zm3 0h3v3h-3zm-96 3h3v3h-3zm3 0h3v3h-3zm33 0h3v3h-3zm12 0h3v3h-3zm3 0h3v3h-3zm12 0h3v3h-3zm6 0h3v3h-3zm24 0h3v3h-3zm21 0h3v3h-3zm24 0h3v3h-3zm-132 3h3v3h-3zm12 0h3v3h-3zm9 0h3v3h-3zm6 0h3v3h-3zm6 0h3v3h-3zm12 0h3v3h-3zm12 0h3v3h-3zm51 0h3v3h-3zm6 0h3v3h-3zm-123 3h3v3h-3zm15 0h3v3h-3zm27 0h3v3h-3zm6 0h3v3h-3zm21 0h3v3h-3zm6 0h3v3h-3zm3 0h3v3h-3zm33 0h3v3h-3zm21 0h3v3h-3zm-132 3h3v3h-3zm6 0h3v3h-3zm48 0h3v3h-3zm9 0h3v3h-3zm3 0h3v3h-3zm6 0h3v3h-3zm3 0h3v3h-3zm6 0h3v3h-3zm33 0h3v3h-3z"/><path fill="#00b8e4" d="M18 0h3v3h-3zm27 0h3v3h-3zm3 0h3v3h-3zm33 0h3v3h-3zm12 0h3v3h-3zm27 0h3v3h-3zm3 0h3v3h-3zm-111 3h3v3h-3zm36 0h3v3h-3zm33 0h3v3h-3zm9 0h3v3h-3zm3 0h3v3h-3zm3 0h3v3h-3zm30 0h3v3h-3zm-111 3h3v3h-3zm111 0h3v3h-3zm6 0h3v3h-3zm-129 3h3v3h-3zm42 0h3v3h-3zm21 0h3v3h-3zm9 0h3v3h-3zm45 0h3v3h-3zm18 0h3v3h-3zm3 0h3v3h-3zm-132 3h3v3h-3zm36 0h3v3h-3zm12 0h3v3h-3zm12 0h3v3h-3zm3 0h3v3h-3zm12 0h3v3h-3zm3 0h3v3h-3zm48 0h3v3h-3zm-126 3h3v3h-3zm3 0h3v3h-3zm3 0h3v3h-3zm12 0h3v3h-3zm6 0h3v3h-3zm30 0h3v3h-3zm51 0h3v3h-3zm15 0h3v3h-3zm12 0h3v3h-3zm-117 3h3v3h-3zm15 0h3v3h-3zm6 0h3v3h-3zm3 0h3v3h-3zm9 0h3v3h-3zm6 0h3v3h-3zm24 0h3v3h-3zm27 0h3v3h-3zm12 0h3v3h-3zm15 0h3v3h-3zm-135 3h3v3h-3zm30 0h3v3h-3zm15 0h3v3h-3zm24 0h3v3h-3zm15 0h3v3h-3zm27 0h3v3h-3zm15 0h3v3h-3zm3 0h3v3h-3zm6 0h3v3h-3zm-126 3h3v3h-3zm39 0h3v3h-3zm21 0h3v3h-3zm27 0h3v3h-3zm27 0h3v3h-3zm6 0h3v3h-3zm-120 3h3v3h-3zm9 0h3v3h-3zm24 0h3v3h-3zm57 0h3v3h-3zm6 0h3v3h-3zm9 0h3v3h-3zm6 0h3v3h-3zm12 0h3v3h-3zm3 0h3v3h-3zm-135 3h3v3h-3zm48 0h3v3h-3zm3 0h3v3h-3zm30 0h3v3h-3zm39 0h3v3h-3zm3 0h3v3h-3zm-111 3h3v3h-3zm3 0h3v3h-3zm3 0h3v3h-3zm3 0h3v3h-3zm3 0h3v3h-3zm24 0h3v3h-3zm6 0h3v3h-3zm12 0h3v3h-3zm6 0h3v3h-3zm15 0h3v3h-3zm6 0h3v3h-3zm9 0h3v3h-3zm6 0h3v3h-3zm3 0h3v3h-3zm6 0h3v3h-3zm-45 3h3v3h-3zm3 0h3v3h-3zm21 0h3v3h-3zm-99 3h3v3h-3zm54 0h3v3h-3zm6 0h3v3h-3zm9 0h3v3h-3zm3 0h3v3h-3zm15 0h3v3h-3zm6 0h3v3h-3zm24 0h3v3h-3zm6 0h3v3h-3zm-69 3h3v3h-3zm48 0h3v3h-3zm9 0h3v3h-3zm24 0h3v3h-3zm-135 3h3v3h-3zm6 0h3v3h-3zm6 0h3v3h-3zm27 0h3v3h-3zm15 0h3v3h-3zm30 0h3v3h-3zm3 0h3v3h-3zm15 0h3v3h-3zm3 0h3v3h-3zm27 0h3v3h-3zm3 0h3v3h-3zm3 0h3v3h-3zm-138 3h3v3h-3zm12 0h3v3h-3zm30 0h3v3h-3zm12 0h3v3h-3zm51 0h3v3h-3zm12 0h3v3h-3zm3 0h3v3h-3zm3 0h3v3h-3zm9 0h3v3h-3zm6 0h3v3h-3zm-132 3h3v3h-3zm3 0h3v3h-3zm6 0h3v3h-3zm24 0h3v3h-3zm3 0h3v3h-3zm18 0h3v3h-3zm12 0h3v3h-3zm48 0h3v3h-3zm15 0h3v3h-3zm-129 3h3v3h-3zm9 0h3v3h-3zm48 0h3v3h-3zm12 0h3v3h-3zm42 0h3v3h-3zm6 0h3v3h-3zm9 0h3v3h-3zm6 0h3v3h-3zm-138 3h3v3h-3zm48 0h3v3h-3zm9 0h3v3h-3zm3 0h3v3h-3zm9 0h3v3h-3zm6 0h3v3h-3zm12 0h3v3h-3zm15 0h3v3h-3zm-69 3h3v3h-3zm6 0h3v3h-3zm6 0h3v3h-3zm42 0h3v3h-3zm30 0h3v3h-3zm12 0h3v3h-3zm-120 3h3v3h-3zm18 0h3v3h-3zm63 0h3v3h-3zm9 0h3v3h-3zm-93 3h3v3h-3zm15 0h3v3h-3zm6 0h3v3h-3zm6 0h3v3h-3zm21 0h3v3h-3zm24 0h3v3h-3zm3 0h3v3h-3zm15 0h3v3h-3zm18 0h3v3h-3zm9 0h3v3h-3zm3 0h3v3h-3zm9 0h3v3h-3zm-138 3h3v3h-3zm18 0h3v3h-3zm3 0h3v3h-3zm6 0h3v3h-3zm15 0h3v3h-3zm18 0h3v3h-3zm3 0h3v3h-3zm33 0h3v3h-3zm3 0h3v3h-3zm-93 3h3v3h-3zm18 0h3v3h-3zm12 0h3v3h-3zm36 0h3v3h-3zm6 0h3v3h-3zm3 0h3v3h-3zm3 0h3v3h-3zm21 0h3v3h-3zm9 0h3v3h-3zm6 0h3v3h-3zm-111 3h3v3h-3zm3 0h3v3h-3zm18 0h3v3h-3zm6 0h3v3h-3zm3 0h3v3h-3zm12 0h3v3h-3zm12 0h3v3h-3zm3 0h3v3h-3zm21 0h3v3h-3zm42 0h3v3h-3zm-66 3h3v3h-3zm30 0h3v3h-3zm6 0h3v3h-3zm6 0h3v3h-3zm24 0h3v3h-3zm3 0h3v3h-3zm-129 3h3v3h-3zm30 0h3v3h-3zm12 0h3v3h-3zm39 0h3v3h-3zm57 0h3v3h-3zm-138 3h3v3h-3zm42 0h3v3h-3zm42 0h3v3h-3zm3 0h3v3h-3zm15 0h3v3h-3zm27 0h3v3h-3zm-123 3h3v3h-3zm9 0h3v3h-3zm12 0h3v3h-3zm51 0h3v3h-3zm18 0h3v3h-3zm-69 3h3v3h-3zm12 0h3v3h-3zm27 0h3v3h-3zm9 0h3v3h-3zm9 0h3v3h-3zm9 0h3v3h-3zm3 0h3v3h-3zm9 0h3v3h-3zm3 0h3v3h-3zm6 0h3v3h-3zm9 0h3v3h-3zm6 0h3v3h-3zm9 0h3v3h-3zm-138 3h3v3h-3zm6 0h3v3h-3zm3 0h3v3h-3zm27 0h3v3h-3zm3 0h3v3h-3zm36 0h3v3h-3zm27 0h3v3h-3zm12 0h3v3h-3zm3 0h3v3h-3zm21 0h3v3h-3zm-138 3h3v3h-3zm3 0h3v3h-3zm36 0h3v3h-3zm3 0h3v3h-3zm33 0h3v3h-3zm30 0h3v3h-3zm9 0h3v3h-3zm3 0h3v3h-3zm6 0h3v3h-3zm3 0h3v3h-3zm9 0h3v3h-3zm-129 3h3v3h-3zm9 0h3v3h-3zm24 0h3v3h-3zm3 0h3v3h-3zm6 0h3v3h-3zm36 0h3v3h-3zm15 0h3v3h-3zm27 0h3v3h-3zm-111 3h3v3h-3zm6 0h3v3h-3zm21 0h3v3h-3zm45 0h3v3h-3zm3 0h3v3h-3zm6 0h3v3h-3zm6 0h3v3h-3zm9 0h3v3h-3zm15 0h3v3h-3zm-75 3h3v3h-3zm3 0h3v3h-3zm69 0h3v3h-3zm-120 3h3v3h-3zm9 0h3v3h-3zm9 0h3v3h-3zm33 0h3v3h-3zm15 0h3v3h-3zm9 0h3v3h-3zm3 0h3v3h-3zm42 0h3v3h-3zm3 0h3v3h-3zm6 0h3v3h-3zm-123 3h3v3h-3zm18 0h3v3h-3zm15 0h3v3h-3zm6 0h3v3h-3zm12 0h3v3h-3zm12 0h3v3h-3zm3 0h3v3h-3zm36 0h3v3h-3zm18 0h3v3h-3zm-132 3h3v3h-3zm18 0h3v3h-3zm39 0h3v3h-3zm27 0h3v3h-3zm6 0h3v3h-3zm30 0h3v3h-3zm12 0h3v3h-3zm-126 3h3v3h-3zm12 0h3v3h-3zm39 0h3v3h-3zm39 0h3v3h-3zm3 0h3v3h-3zm18 0h3v3h-3zm6 0h3v3h-3zm-99 3h3v3h-3zm30 0h3v3h-3zm3 0h3v3h-3zm9 0h3v3h-3zm3 0h3v3h-3zm69 0h3v3h-3zm-138 3h3v3h-3zm3 0h3v3h-3zm12 0h3v3h-3zm15 0h3v3h-3zm15 0h3v3h-3zm33 0h3v3h-3zm45 0h3v3h-3zm-117 3h3v3h-3zm3 0h3v3h-3zm9 0h3v3h-3zm12 0h3v3h-3zm3 0h3v3h-3zm36 0h3v3h-3zm12 0h3v3h-3zm45 0h3v3h-3zm3 0h3v3h-3zm-120 3h3v3h-3zm15 0h3v3h-3zm3 0h3v3h-3zm15 0h3v3h-3zm18 0h3v3h-3zm33 0h3v3h-3zm9 0h3v3h-3zm21 0h3v3h-3zm3 0h3v3h-3zm-114 3h3v3h-3zm9 0h3v3h-3zm3 0h3v3h-3zm6 0h3v3h-3zm3 0h3v3h-3zm15 0h3v3h-3zm39 0h3v3h-3zm24 0h3v3h-3zm9 0h3v3h-3zm3 0h3v3h-3zm-111 3h3v3h-3zm6 0h3v3h-3zm30 0h3v3h-3zm54 0h3v3h-3zm30 0h3v3h-3zm6 0h3v3h-3zm-126 3h3v3h-3zm21 0h3v3h-3zm3 0h3v3h-3zm15 0h3v3h-3zm30 0h3v3h-3zm6 0h3v3h-3zm27 0h3v3h-3zm15 0h3v3h-3zm6 0h3v3h-3zm-132 3h3v3h-3zm18 0h3v3h-3zm3 0h3v3h-3zm24 0h3v3h-3zm48 0h3v3h-3zm3 0h3v3h-3zm12 0h3v3h-3zm12 0h3v3h-3zm15 0h3v3h-3z"/></pattern>
<pattern id="pt_green" width="144" height="144" patternUnits="userSpaceOnUse" patternTransform="rotate(-26.7)"><rect width="144" height="144" fill="#00d400"/><path fill="#00dc00" d="M0 0h3v3h-3zm18 0h3v3h-3zm3 0h3v3h-3zm12 0h3v3h-3zm-27 3h3v3h-3zm3 0h3v3h-3zm6 0h3v3h-3zm87 0h3v3h-3zm3 0h3v3h-3zm3 0h3v3h-3zm30 0h3v3h-3zm-132 3h3v3h-3zm21 0h3v3h-3zm15 0h3v3h-3zm3 0h3v3h-3zm57 0h3v3h-3zm33 0h3v3h-3zm-111 3h3v3h-3zm21 0h3v3h-3zm9 0h3v3h-3zm12 0h3v3h-3zm3 0h3v3h-3zm9 0h3v3h-3zm3 0h3v3h-3zm3 0h3v3h-3zm6 0h3v3h-3zm21 0h3v3h-3zm6 0h3v3h-3zm3 0h3v3h-3zm3 0h3v3h-3zm-120 3h3v3h-3zm36 0h3v3h-3zm3 0h3v3h-3zm24 0h3v3h-3zm3 0h3v3h-3zm42 0h3v3h-3zm3 0h3v3h-3zm15 0h3v3h-3zm9 0h3v3h-3zm-87 3h3v3h-3zm3 0h3v3h-3zm3 0h3v3h-3zm12 0h3v3h-3zm24 0h3v3h-3zm24 0h3v3h-3zm15 0h3v3h-3zm-132 3h3v3h-3zm9 0h3v3h-3zm9 0h3v3h-3zm6 0h3v3h-3zm6 0h3v3h-3zm6 0h3v3h-3zm12 0h3v3h-3zm3 0h3v3h-3zm3 0h3v3h-3zm3 0h3v3h-3zm3 0h3v3h-3zm12 0h3v3h-3zm21 0h3v3h-3zm6 0h3v3h-3zm3 0h3v3h-3zm3 0h3v3h-3zm15 0h3v3h-3zm15 0h3v3h-3zm6 0h3v3h-3zm-72 3h3v3h-3zm18 0h3v3h-3zm36 0h3v3h-3zm3 0h3v3h-3zm-102 3h3v3h-3zm9 0h3v3h-3zm30 0h3v3h-3zm27 0h3v3h-3zm30 0h3v3h-3zm18 0h3v3h-3zm-138 3h3v3h-3zm6 0h3v3h-3zm3 0h3v3h-3zm18 0h3v3h-3zm3 0h3v3h-3zm9 0h3v3h-3zm24 0h3v3h-3zm6 0h3v3h-3zm24 0h3v3h-3zm3 0h3v3h-3zm6 0h3v3h-3zm9 0h3v3h-3zm-78 3h3v3h-3zm15 0h3v3h-3zm6 0h3v3h-3zm12 0h3v3h-3zm39 0h3v3h-3zm9 0h3v3h-3zm3 0h3v3h-3zm6 0h3v3h-3zm9 0h3v3h-3zm-126 3h3v3h-3zm15 0h3v3h-3zm12 0h3v3h-3zm36 0h3v3h-3zm36 0h3v3h-3zm3 0h3v3h-3zm3 0h3v3h-3zm6 0h3v3h-3zm21 0h3v3h-3zm-135 3h3v3h-3zm12 0h3v3h-3zm6 0h3v3h-3zm6 0h3v3h-3zm12 0h3v3h-3zm6 0h3v3h-3zm3 0h3v3h-3zm24 0h3v3h-3zm36 0h3v3h-3zm9 0h3v3h-3zm-93 3h3v3h-3zm9 0h3v3h-3zm6 0h3v3h-3zm18 0h3v3h-3zm3 0h3v3h-3zm3 0h3v3h-3zm24 0h3v3h-3zm-84 3h3v3h-3zm9 0h3v3h-3zm18 0h3v3h-3zm9 0h3v3h-3zm27 0h3v3h-3zm9 0h3v3h-3zm12 0h3v3h-3zm36 0h3v3h-3zm12 0h3v3h-3zm6 0h3v3h-3zm-126 3h3v3h-3zm6 0h3v3h-3zm33 0h3v3h-3zm18 0h3v3h-3zm33 0h3v3h-3zm6 0h3v3h-3zm12 0h3v3h-3zm9 0h3v3h-3zm6 0h3v3h-3zm3 0h3v3h-3zm-114 3h3v3h-3zm3 0h3v3h-3zm21 0h3v3h-3zm48 0h3v3h-3zm9 0h3v3h-3zm3 0h3v3h-3zm3 0h3v3h-3zm6 0h3v3h-3zm12 0h3v3h-3zm-66 3h3v3h-3zm3 0h3v3h-3zm6 0h3v3h-3zm54 0h3v3h-3zm9 0h3v3h-3zm-135 3h3v3h-3zm15 0h3v3h-3zm48 0h3v3h-3zm15 0h3v3h-3zm39 0h3v3h-3zm6 0h3v3h-3zm6 0h3v3h-3zm-114 3h3v3h-3zm18 0h3v3h-3zm18 0h3v3h-3zm9 0h3v3h-3zm51 0h3v3h-3zm9 0h3v3h-3zm18 0h3v3h-3zm-120 3h3v3h-3zm12 0h3v3h-3zm24 0h3v3h-3zm3 0h3v3h-3zm3 0h3v3h-3zm15 0h3v3h-3zm24 0h3v3h-3zm6 0h3v3h-3zm30 0h3v3h-3zm-138 3h3v3h-3zm6 0h3v3h-3zm6 0h3v3h-3zm15 0h3v3h-3zm3 0h3v3h-3zm3 0h3v3h-3zm3 0h3v3h-3zm21 0h3v3h-3zm3 0h3v3h-3zm3 0h3v3h-3zm33 0h3v3h-3zm9 0h3v3h-3zm21 0h3v3h-3zm9 0h3v3h-3zm-114 3h3v3h-3zm51 0h3v3h-3zm33 0h3v3h-3zm3 0h3v3h-3zm30 0h3v3h-3zm-138 3h3v3h-3zm33 0h3v3h-3zm6 0h3v3h-3zm24 0h3v3h-3zm6 0h3v3h-3zm39 0h3v3h-3zm6 0h3v3h-3zm15 0h3v3h-3zm-117 3h3v3h-3zm9 0h3v3h-3zm6 0h3v3h-3zm3 0h3v3h-3zm6 0h3v3h-3zm6 0h3v3h-3zm30 0h3v3h-3zm18 0h3v3h-3zm9 0h3v3h-3zm12 0h3v3h-3zm24 0h3v3h-3zm-132 3h3v3h-3zm3 0h3v3h-3zm15 0h3v3h-3zm6 0h3v3h-3zm12 0h3v3h-3zm9 0h3v3h-3zm9 0h3v3h-3zm3 0h3v3h-3zm6 0h3v3h-3zm48 0h3v3h-3zm3 0h3v3h-3zm-117 3h3v3h-3zm15 0h3v3h-3zm6 0h3v3h-3zm9 0h3v3h-3zm3 0h3v3h-3zm9 0h3v3h-3zm18 0h3v3h-3zm3 0h3v3h-3zm3 0h3v3h-3zm24 0h3v3h-3zm12 0h3v3h-3zm-96 3h3v3h-3zm27 0h3v3h-3zm108 0h3v3h-3zm-135 3h3v3h-3zm9 0h3v3h-3zm6 0h3v3h-3zm15 0h3v3h-3zm57 0h3v3h-3zm3 0h3v3h-3zm18 0h3v3h-3zm18 0h3v3h-3zm-102 3h3v3h-3zm12 0h3v3h-3zm15 0h3v3h-3zm3 0h3v3h-3zm24 0h3v3h-3zm-72 3h3v3h-3zm12 0h3v3h-3zm15 0h3v3h-3zm27 0h3v3h-3zm63 0h3v3h-3zm9 0h3v3h-3zm-111 3h3v3h-3zm6 0h3v3h-3zm9 0h3v3h-3zm51 0h3v3h-3zm21 0h3v3h-3zm6 0h3v3h-3zm-90 3h3v3h-3zm60 0h3v3h-3zm33 0h3v3h-3zm3 0h3v3h-3zm3 0h3v3h-3zm-129 3h3v3h-3zm3 0h3v3h-3zm3 0h3v3h-3zm57 0h3v3h-3zm21 0h3v3h-3zm12 0h3v3h-3zm3 0h3v3h-3zm-96 3h3v3h-3zm21 0h3v3h-3zm3 0h3v3h-3zm75 0h3v3h-3zm36 0h3v3h-3zm3 0h3v3h-3zm-141 3h3v3h-3zm9 0h3v3h-3zm12 0h3v3h-3zm6 0h3v3h-3zm33 0h3v3h-3zm33 0h3v3h-3zm6 0h3v3h-3zm21 0h3v3h-3zm9 0h3v3h-3zm-120 3h3v3h-3zm3 0h3v3h-3zm24 0h3v3h-3zm12 0h3v3h-3zm9 0h3v3h-3zm81 0h3v3h-3zm-126 3h3v3h-3zm9 0h3v3h-3zm3 0h3v3h-3zm6 0h3v3h-3zm21 0h3v3h-3zm12 0h3v3h-3zm27 0h3v3h-3zm6 0h3v3h-3zm24 0h3v3h-3zm-36 3h3v3h-3zm3 0h3v3h-3zm6 0h3v3h-3zm24 0h3v3h-3zm6 0h3v3h-3zm3 0h3v3h-3zm12 0h3v3h-3zm-129 3h3v3h-3zm9 0h3v3h-3zm15 0h3v3h-3zm3 0h3v3h-3zm15 0h3v3h-3zm27 0h3v3h-3zm6 0h3v3h-3zm3 0h3v3h-3zm3 0h3v3h-3zm6 0h3v3h-3zm18 0h3v3h-3zm6 0h3v3h-3zm6 0h3v3h-3zm-120 3h3v3h-3zm9 0h3v3h-3zm15 0h3v3h-3zm27 0h3v3h-3zm9 0h3v3h-3zm15 0h3v3h-3zm3 0h3v3h-3zm42 0h3v3h-3zm-120 3h3v3h-3zm6 0h3v3h-3zm9 0h3v3h-3zm6 0h3v3h-3zm9 0h3v3h-3zm3 0h3v3h-3zm39 0h3v3h-3zm15 0h3v3h-3zm6 0h3v3h-3zm15 0h3v3h-3zm3 0h3v3h-3zm9 0h3v3h-3zm-126 3h3v3h-3zm27 0h3v3h-3zm9 0h3v3h-3zm36 0h3v3h-3zm3 0h3v3h-3zm21 0h3v3h-3zm24 0h3v3h-3zm-81 3h3v3h-3zm15 0h3v3h-3zm24 0h3v3h-3zm24 0h3v3h-3zm-84 3h3v3h-3zm12 0h3v3h-3zm6 0h3v3h-3zm42 0h3v3h-3zm36 0h3v3h-3zm9 0h3v3h-3zm-117 3h3v3h-3zm24 0h3v3h-3zm72 0h3v3h-3zm9 0h3v3h-3zm-81 3h3v3h-3zm27 0h3v3h-3zm6 0h3v3h-3zm27 0h3v3h-3zm21 0h3v3h-3zm18 0h3v3h-3zm-60 3h3v3h-3zm6 0h3v3h-3zm24 0h3v3h-3zm3 0h3v3h-3zm3 0h3v3h-3zm15 0h3v3h-3zm3 0h3v3h-3zm15 0h3v3h-3z"/><path fill="#00c800" d="M6 0h3v3h-3zm21 0h3v3h-3zm30 0h3v3h-3zm15 0h3v3h-3zm9 0h3v3h-3zm6 0h3v3h-3zm18 0h3v3h-3zm-105 3h3v3h-3zm33 0h3v3h-3zm24 0h3v3h-3zm6 0h3v3h-3zm3 0h3v3h-3zm3 0h3v3h-3zm3 0h3v3h-3zm3 0h3v3h-3zm15 0h3v3h-3zm6 0h3v3h-3zm3 0h3v3h-3zm15 0h3v3h-3zm27 0h3v3h-3zm-123 3h3v3h-3zm15 0h3v3h-3zm21 0h3v3h-3zm12 0h3v3h-3zm6 0h3v3h-3zm3 0h3v3h-3zm15 0h3v3h-3zm6 0h3v3h-3zm9 0h3v3h-3zm6 0h3v3h-3zm3 0h3v3h-3zm3 0h3v3h-3zm-117 3h3v3h-3zm27 0h3v3h-3zm21 0h3v3h-3zm3 0h3v3h-3zm9 0h3v3h-3zm3 0h3v3h-3zm24 0h3v3h-3zm-72 3h3v3h-3zm15 0h3v3h-3zm24 0h3v3h-3zm6 0h3v3h-3zm12 0h3v3h-3zm9 0h3v3h-3zm3 0h3v3h-3zm36 0h3v3h-3zm-102 3h3v3h-3zm12 0h3v3h-3zm30 0h3v3h-3zm81 0h3v3h-3zm-138 3h3v3h-3zm18 0h3v3h-3zm48 0h3v3h-3zm54 0h3v3h-3zm-42 3h3v3h-3zm57 0h3v3h-3zm-111 3h3v3h-3zm57 0h3v3h-3zm12 0h3v3h-3zm15 0h3v3h-3zm30 0h3v3h-3zm-138 3h3v3h-3zm30 0h3v3h-3zm27 0h3v3h-3zm12 0h3v3h-3zm3 0h3v3h-3zm6 0h3v3h-3zm9 0h3v3h-3zm24 0h3v3h-3zm-93 3h3v3h-3zm15 0h3v3h-3zm39 0h3v3h-3zm27 0h3v3h-3zm6 0h3v3h-3zm12 0h3v3h-3zm-120 3h3v3h-3zm15 0h3v3h-3zm99 0h3v3h-3zm9 0h3v3h-3zm-123 3h3v3h-3zm30 0h3v3h-3zm6 0h3v3h-3zm48 0h3v3h-3zm27 0h3v3h-3zm15 0h3v3h-3zm-111 3h3v3h-3zm21 0h3v3h-3zm15 0h3v3h-3zm24 0h3v3h-3zm9 0h3v3h-3zm15 0h3v3h-3zm3 0h3v3h-3zm6 0h3v3h-3zm3 0h3v3h-3zm3 0h3v3h-3zm3 0h3v3h-3zm6 0h3v3h-3zm6 0h3v3h-3zm-87 3h3v3h-3zm9 0h3v3h-3zm6 0h3v3h-3zm21 0h3v3h-3zm6 0h3v3h-3zm21 0h3v3h-3zm9 0h3v3h-3zm3 0h3v3h-3zm9 0h3v3h-3zm-120 3h3v3h-3zm18 0h3v3h-3zm9 0h3v3h-3zm12 0h3v3h-3zm15 0h3v3h-3zm24 0h3v3h-3zm51 0h3v3h-3zm-129 3h3v3h-3zm6 0h3v3h-3zm9 0h3v3h-3zm15 0h3v3h-3zm3 0h3v3h-3zm3 0h3v3h-3zm3 0h3v3h-3zm33 0h3v3h-3zm3 0h3v3h-3zm15 0h3v3h-3zm21 0h3v3h-3zm-102 3h3v3h-3zm6 0h3v3h-3zm6 0h3v3h-3zm24 0h3v3h-3zm39 0h3v3h-3zm-69 3h3v3h-3zm3 0h3v3h-3zm24 0h3v3h-3zm6 0h3v3h-3zm42 0h3v3h-3zm21 0h3v3h-3zm12 0h3v3h-3zm-108 3h3v3h-3zm21 0h3v3h-3zm6 0h3v3h-3zm33 0h3v3h-3zm27 0h3v3h-3zm18 0h3v3h-3zm3 0h3v3h-3zm-45 3h3v3h-3zm12 0h3v3h-3zm27 0h3v3h-3zm6 0h3v3h-3zm-90 3h3v3h-3zm42 0h3v3h-3zm6 0h3v3h-3zm33 0h3v3h-3zm3 0h3v3h-3zm18 0h3v3h-3zm-132 3h3v3h-3zm18 0h3v3h-3zm15 0h3v3h-3zm9 0h3v3h-3zm15 0h3v3h-3zm12 0h3v3h-3zm-75 3h3v3h-3zm18 0h3v3h-3zm27 0h3v3h-3zm24 0h3v3h-3zm9 0h3v3h-3zm15 0h3v3h-3zm24 0h3v3h-3zm18 0h3v3h-3zm-114 3h3v3h-3zm33 0h3v3h-3zm24 0h3v3h-3zm3 0h3v3h-3zm12 0h3v3h-3zm9 0h3v3h-3zm36 0h3v3h-3zm-141 3h3v3h-3zm84 0h3v3h-3zm3 0h3v3h-3zm6 0h3v3h-3zm6 0h3v3h-3zm6 0h3v3h-3zm18 0h3v3h-3zm6 0h3v3h-3zm3 0h3v3h-3zm3 0h3v3h-3zm-84 3h3v3h-3zm6 0h3v3h-3zm12 0h3v3h-3zm15 0h3v3h-3zm12 0h3v3h-3zm12 0h3v3h-3zm3 0h3v3h-3zm9 0h3v3h-3zm12 0h3v3h-3zm3 0h3v3h-3zm3 0h3v3h-3zm3 0h3v3h-3zm-132 3h3v3h-3zm3 0h3v3h-3zm24 0h3v3h-3zm3 0h3v3h-3zm12 0h3v3h-3zm3 0h3v3h-3zm6 0h3v3h-3zm3 0h3v3h-3zm12 0h3v3h-3zm3 0h3v3h-3zm9 0h3v3h-3zm3 0h3v3h-3zm9 0h3v3h-3zm18 0h3v3h-3zm15 0h3v3h-3zm-108 3h3v3h-3zm3 0h3v3h-3zm21 0h3v3h-3zm9 0h3v3h-3zm21 0h3v3h-3zm3 0h3v3h-3zm6 0h3v3h-3zm18 0h3v3h-3zm12 0h3v3h-3zm3 0h3v3h-3zm6 0h3v3h-3zm-114 3h3v3h-3zm15 0h3v3h-3zm21 0h3v3h-3zm30 0h3v3h-3zm18 0h3v3h-3zm6 0h3v3h-3zm21 0h3v3h-3zm3 0h3v3h-3zm9 0h3v3h-3zm3 0h3v3h-3zm-138 3h3v3h-3zm9 0h3v3h-3zm6 0h3v3h-3zm3 0h3v3h-3zm33 0h3v3h-3zm48 0h3v3h-3zm9 0h3v3h-3zm3 0h3v3h-3zm6 0h3v3h-3zm3 0h3v3h-3zm3 0h3v3h-3zm-120 3h3v3h-3zm3 0h3v3h-3zm45 0h3v3h-3zm6 0h3v3h-3zm6 0h3v3h-3zm3 0h3v3h-3zm15 0h3v3h-3zm6 0h3v3h-3zm48 0h3v3h-3zm6 0h3v3h-3zm-138 3h3v3h-3zm45 0h3v3h-3zm12 0h3v3h-3zm12 0h3v3h-3zm6 0h3v3h-3zm9 0h3v3h-3zm24 0h3v3h-3zm-96 3h3v3h-3zm9 0h3v3h-3zm12 0h3v3h-3zm18 0h3v3h-3zm6 0h3v3h-3zm9 0h3v3h-3zm6 0h3v3h-3zm3 0h3v3h-3zm15 0h3v3h-3zm18 0h3v3h-3zm24 0h3v3h-3zm-102 3h3v3h-3zm3 0h3v3h-3zm63 0h3v3h-3zm18 0h3v3h-3zm18 0h3v3h-3zm-120 3h3v3h-3zm24 0h3v3h-3zm39 0h3v3h-3zm3 0h3v3h-3zm15 0h3v3h-3zm6 0h3v3h-3zm6 0h3v3h-3zm-102 3h3v3h-3zm33 0h3v3h-3zm21 0h3v3h-3zm3 0h3v3h-3zm21 0h3v3h-3zm33 0h3v3h-3zm18 0h3v3h-3zm-126 3h3v3h-3zm6 0h3v3h-3zm21 0h3v3h-3zm6 0h3v3h-3zm3 0h3v3h-3zm39 0h3v3h-3zm3 0h3v3h-3zm27 0h3v3h-3zm3 0h3v3h-3zm9 0h3v3h-3zm-123 3h3v3h-3zm33 0h3v3h-3zm6 0h3v3h-3zm27 0h3v3h-3zm36 0h3v3h-3zm36 0h3v3h-3zm-126 3h3v3h-3zm33 0h3v3h-3zm6 0h3v3h-3zm15 0h3v3h-3zm36 0h3v3h-3zm3 0h3v3h-3zm15 0h3v3h-3zm6 0h3v3h-3zm6 0h3v3h-3zm-123 3h3v3h-3zm39 0h3v3h-3zm36 0h3v3h-3zm3 0h3v3h-3zm18 0h3v3h-3zm15 0h3v3h-3zm-120 3h3v3h-3zm12 0h3v3h-3zm15 0h3v3h-3zm15 0h3v3h-3zm3 0h3v3h-3zm12 0h3v3h-3zm30 0h3v3h-3zm6 0h3v3h-3zm6 0h3v3h-3zm6 0h3v3h-3zm24 0h3v3h-3zm3 0h3v3h-3zm3 0h3v3h-3zm-132 3h3v3h-3zm36 0h3v3h-3zm6 0h3v3h-3zm18 0h3v3h-3zm51 0h3v3h-3zm6 0h3v3h-3zm-78 3h3v3h-3zm3 0h3v3h-3zm27 0h3v3h-3zm45 0h3v3h-3zm-69 3h3v3h-3zm6 0h3v3h-3zm3 0h3v3h-3zm27 0h3v3h-3zm3 0h3v3h-3zm6 0h3v3h-3zm15 0h3v3h-3zm21 0h3v3h-3zm3 0h3v3h-3zm-120 3h3v3h-3zm9 0h3v3h-3zm3 0h3v3h-3zm15 0h3v3h-3zm3 0h3v3h-3zm39 0h3v3h-3zm3 0h3v3h-3zm3 0h3v3h-3zm24 0h3v3h-3zm6 0h3v3h-3zm6 0h3v3h-3zm12 0h3v3h-3zm-138 3h3v3h-3zm45 0h3v3h-3zm3 0h3v3h-3zm12 0h3v3h-3zm6 0h3v3h-3zm6 0h3v3h-3zm33 0h3v3h-3zm-105 3h3v3h-3zm9 0h3v3h-3zm9 0h3v3h-3zm6 0h3v3h-3zm30 0h3v3h-3zm3 0h3v3h-3zm9 0h3v3h-3zm30 0h3v3h-3zm15 0h3v3h-3zm18 0h3v3h-3z"/><path fill="#00b400" d="M3 0h3v3h-3zm12 0h3v3h-3zm9 0h3v3h-3zm36 0h3v3h-3zm3 0h3v3h-3zm3 0h3v3h-3zm9 0h3v3h-3zm3 0h3v3h-3zm6 0h3v3h-3zm6 0h3v3h-3zm3 0h3v3h-3zm6 0h3v3h-3zm-78 3h3v3h-3zm3 0h3v3h-3zm30 0h3v3h-3zm24 0h3v3h-3zm3 0h3v3h-3zm3 0h3v3h-3zm3 0h3v3h-3zm24 0h3v3h-3zm-111 3h3v3h-3zm21 0h3v3h-3zm15 0h3v3h-3zm3 0h3v3h-3zm12 0h3v3h-3zm9 0h3v3h-3zm18 0h3v3h-3zm3 0h3v3h-3zm12 0h3v3h-3zm-72 3h3v3h-3zm9 0h3v3h-3zm3 0h3v3h-3zm3 0h3v3h-3zm72 0h3v3h-3zm6 0h3v3h-3zm-81 3h3v3h-3zm3 0h3v3h-3zm15 0h3v3h-3zm6 0h3v3h-3zm60 0h3v3h-3zm-84 3h3v3h-3zm3 0h3v3h-3zm27 0h3v3h-3zm3 0h3v3h-3zm48 0h3v3h-3zm24 0h3v3h-3zm-24 3h3v3h-3zm3 0h3v3h-3zm21 0h3v3h-3zm-138 3h3v3h-3zm3 0h3v3h-3zm3 0h3v3h-3zm60 0h3v3h-3zm27 0h3v3h-3zm48 0h3v3h-3zm-123 3h3v3h-3zm42 0h3v3h-3zm6 0h3v3h-3zm3 0h3v3h-3zm6 0h3v3h-3zm24 0h3v3h-3zm24 0h3v3h-3zm-45 3h3v3h-3zm21 0h3v3h-3zm18 0h3v3h-3zm21 0h3v3h-3zm-126 3h3v3h-3zm60 0h3v3h-3zm6 0h3v3h-3zm3 0h3v3h-3zm12 0h3v3h-3zm3 0h3v3h-3zm3 0h3v3h-3zm-90 3h3v3h-3zm9 0h3v3h-3zm12 0h3v3h-3zm6 0h3v3h-3zm12 0h3v3h-3zm30 0h3v3h-3zm12 0h3v3h-3zm3 0h3v3h-3zm27 0h3v3h-3zm12 0h3v3h-3zm-114 3h3v3h-3zm15 0h3v3h-3zm18 0h3v3h-3zm3 0h3v3h-3zm21 0h3v3h-3zm3 0h3v3h-3zm3 0h3v3h-3zm6 0h3v3h-3zm18 0h3v3h-3zm15 0h3v3h-3zm3 0h3v3h-3zm6 0h3v3h-3zm3 0h3v3h-3zm3 0h3v3h-3zm3 0h3v3h-3zm-111 3h3v3h-3zm3 0h3v3h-3zm12 0h3v3h-3zm39 0h3v3h-3zm24 0h3v3h-3zm15 0h3v3h-3zm12 0h3v3h-3zm3 0h3v3h-3zm6 0h3v3h-3zm-141 3h3v3h-3zm24 0h3v3h-3zm3 0h3v3h-3zm18 0h3v3h-3zm3 0h3v3h-3zm6 0h3v3h-3zm9 0h3v3h-3zm6 0h3v3h-3zm12 0h3v3h-3zm27 0h3v3h-3zm3 0h3v3h-3zm27 0h3v3h-3zm-120 3h3v3h-3zm9 0h3v3h-3zm21 0h3v3h-3zm3 0h3v3h-3zm27 0h3v3h-3zm30 0h3v3h-3zm6 0h3v3h-3zm-90 3h3v3h-3zm60 0h3v3h-3zm3 0h3v3h-3zm51 0h3v3h-3zm-60 3h3v3h-3zm6 0h3v3h-3zm3 0h3v3h-3zm6 0h3v3h-3zm39 0h3v3h-3zm-48 3h3v3h-3zm3 0h3v3h-3zm3 0h3v3h-3zm45 0h3v3h-3zm-78 3h3v3h-3zm3 0h3v3h-3zm27 0h3v3h-3zm3 0h3v3h-3zm42 0h3v3h-3zm-105 3h3v3h-3zm21 0h3v3h-3zm42 0h3v3h-3zm3 0h3v3h-3zm33 0h3v3h-3zm9 0h3v3h-3zm-93 3h3v3h-3zm3 0h3v3h-3zm6 0h3v3h-3zm3 0h3v3h-3zm12 0h3v3h-3zm24 0h3v3h-3zm9 0h3v3h-3zm3 0h3v3h-3zm27 0h3v3h-3zm-84 3h3v3h-3zm3 0h3v3h-3zm6 0h3v3h-3zm3 0h3v3h-3zm12 0h3v3h-3zm15 0h3v3h-3zm3 0h3v3h-3zm3 0h3v3h-3zm3 0h3v3h-3zm27 0h3v3h-3zm9 0h3v3h-3zm3 0h3v3h-3zm-90 3h3v3h-3zm3 0h3v3h-3zm39 0h3v3h-3zm6 0h3v3h-3zm3 0h3v3h-3zm33 0h3v3h-3zm-120 3h3v3h-3zm9 0h3v3h-3zm3 0h3v3h-3zm21 0h3v3h-3zm9 0h3v3h-3zm6 0h3v3h-3zm33 0h3v3h-3zm27 0h3v3h-3zm3 0h3v3h-3zm3 0h3v3h-3zm3 0h3v3h-3zm3 0h3v3h-3zm3 0h3v3h-3zm3 0h3v3h-3zm6 0h3v3h-3zm-96 3h3v3h-3zm39 0h3v3h-3zm45 0h3v3h-3zm12 0h3v3h-3zm3 0h3v3h-3zm-93 3h3v3h-3zm6 0h3v3h-3zm33 0h3v3h-3zm30 0h3v3h-3zm6 0h3v3h-3zm3 0h3v3h-3zm3 0h3v3h-3zm-72 3h3v3h-3zm15 0h3v3h-3zm9 0h3v3h-3zm15 0h3v3h-3zm6 0h3v3h-3zm9 0h3v3h-3zm9 0h3v3h-3zm9 0h3v3h-3zm-90 3h3v3h-3zm3 0h3v3h-3zm3 0h3v3h-3zm6 0h3v3h-3zm3 0h3v3h-3zm12 0h3v3h-3zm33 0h3v3h-3zm3 0h3v3h-3zm6 0h3v3h-3zm27 0h3v3h-3zm-96 3h3v3h-3zm12 0h3v3h-3zm3 0h3v3h-3zm18 0h3v3h-3zm3 0h3v3h-3zm6 0h3v3h-3zm24 0h3v3h-3zm3 0h3v3h-3zm3 0h3v3h-3zm3 0h3v3h-3zm-84 3h3v3h-3zm6 0h3v3h-3zm9 0h3v3h-3zm3 0h3v3h-3zm9 0h3v3h-3zm18 0h3v3h-3zm3 0h3v3h-3zm3 0h3v3h-3zm24 0h3v3h-3zm36 0h3v3h-3zm-141 3h3v3h-3zm9 0h3v3h-3zm6 0h3v3h-3zm15 0h3v3h-3zm6 0h3v3h-3zm18 0h3v3h-3zm15 0h3v3h-3zm3 0h3v3h-3zm6 0h3v3h-3zm6 0h3v3h-3zm21 0h3v3h-3zm3 0h3v3h-3zm15 0h3v3h-3zm6 0h3v3h-3zm-123 3h3v3h-3zm6 0h3v3h-3zm21 0h3v3h-3zm18 0h3v3h-3zm3 0h3v3h-3zm9 0h3v3h-3zm3 0h3v3h-3zm36 0h3v3h-3zm3 0h3v3h-3zm3 0h3v3h-3zm6 0h3v3h-3zm24 0h3v3h-3zm-108 3h3v3h-3zm9 0h3v3h-3zm27 0h3v3h-3zm15 0h3v3h-3zm6 0h3v3h-3zm18 0h3v3h-3zm3 0h3v3h-3zm30 0h3v3h-3zm-129 3h3v3h-3zm3 0h3v3h-3zm30 0h3v3h-3zm18 0h3v3h-3zm3 0h3v3h-3zm6 0h3v3h-3zm15 0h3v3h-3zm3 0h3v3h-3zm18 0h3v3h-3zm3 0h3v3h-3zm3 0h3v3h-3zm3 0h3v3h-3zm-81 3h3v3h-3zm3 0h3v3h-3zm6 0h3v3h-3zm21 0h3v3h-3zm3 0h3v3h-3zm6 0h3v3h-3zm12 0h3v3h-3zm21 0h3v3h-3zm6 0h3v3h-3zm3 0h3v3h-3zm24 0h3v3h-3zm-96 3h3v3h-3zm3 0h3v3h-3zm45 0h3v3h-3zm15 0h3v3h-3zm3 0h3v3h-3zm3 0h3v3h-3zm3 0h3v3h-3zm6 0h3v3h-3zm21 0h3v3h-3zm-102 3h3v3h-3zm9 0h3v3h-3zm18 0h3v3h-3zm39 0h3v3h-3zm3 0h3v3h-3zm3 0h3v3h-3zm30 0h3v3h-3zm-129 3h3v3h-3zm3 0h3v3h-3zm24 0h3v3h-3zm6 0h3v3h-3zm3 0h3v3h-3zm3 0h3v3h-3zm15 0h3v3h-3zm42 0h3v3h-3zm3 0h3v3h-3zm-99 3h3v3h-3zm9 0h3v3h-3zm18 0h3v3h-3zm3 0h3v3h-3zm3 0h3v3h-3zm18 0h3v3h-3zm12 0h3v3h-3zm66 0h3v3h-3zm-120 3h3v3h-3zm21 0h3v3h-3zm3 0h3v3h-3zm3 0h3v3h-3zm6 0h3v3h-3zm6 0h3v3h-3zm72 0h3v3h-3zm-81 3h3v3h-3zm3 0h3v3h-3zm3 0h3v3h-3zm-39 3h3v3h-3zm27 0h3v3h-3zm6 0h3v3h-3zm3 0h3v3h-3zm9 0h3v3h-3zm36 0h3v3h-3zm-99 3h3v3h-3zm3 0h3v3h-3zm21 0h3v3h-3zm27 0h3v3h-3zm6 0h3v3h-3zm39 0h3v3h-3zm15 0h3v3h-3zm6 0h3v3h-3zm12 0h3v3h-3zm3 0h3v3h-3zm3 0h3v3h-3zm6 0h3v3h-3zm-141 3h3v3h-3zm3 0h3v3h-3zm42 0h3v3h-3zm3 0h3v3h-3zm21 0h3v3h-3zm15 0h3v3h-3zm54 0h3v3h-3zm-90 3h3v3h-3zm18 0h3v3h-3zm12 0h3v3h-3zm51 0h3v3h-3zm-54 3h3v3h-3zm3 0h3v3h-3zm3 0h3v3h-3zm3 0h3v3h-3zm3 0h3v3h-3zm-81 3h3v3h-3zm54 0h3v3h-3zm12 0h3v3h-3zm9 0h3v3h-3zm3 0h3v3h-3zm3 0h3v3h-3zm6 0h3v3h-3zm48 0h3v3h-3z"/><path fill="#00e400" d="M9 0h3v3h-3zm21 0h3v3h-3zm18 0h3v3h-3zm3 0h3v3h-3zm45 0h3v3h-3zm30 0h3v3h-3zm12 0h3v3h-3zm-111 3h3v3h-3zm24 0h3v3h-3zm66 0h3v3h-3zm-114 3h3v3h-3zm27 0h3v3h-3zm18 0h3v3h-3zm15 0h3v3h-3zm6 0h3v3h-3zm57 0h3v3h-3zm6 0h3v3h-3zm-129 3h3v3h-3zm3 0h3v3h-3zm12 0h3v3h-3zm21 0h3v3h-3zm18 0h3v3h-3zm39 0h3v3h-3zm3 0h3v3h-3zm33 0h3v3h-3zm3 0h3v3h-3zm3 0h3v3h-3zm-138 3h3v3h-3zm9 0h3v3h-3zm9 0h3v3h-3zm3 0h3v3h-3zm6 0h3v3h-3zm18 0h3v3h-3zm3 0h3v3h-3zm39 0h3v3h-3zm36 0h3v3h-3zm-123 3h3v3h-3zm9 0h3v3h-3zm15 0h3v3h-3zm15 0h3v3h-3zm33 0h3v3h-3zm9 0h3v3h-3zm9 0h3v3h-3zm12 0h3v3h-3zm9 0h3v3h-3zm12 0h3v3h-3zm3 0h3v3h-3zm-120 3h3v3h-3zm21 0h3v3h-3zm12 0h3v3h-3zm39 0h3v3h-3zm6 0h3v3h-3zm3 0h3v3h-3zm24 0h3v3h-3zm15 0h3v3h-3zm3 0h3v3h-3zm3 0h3v3h-3zm-123 3h3v3h-3zm3 0h3v3h-3zm3 0h3v3h-3zm9 0h3v3h-3zm3 0h3v3h-3zm12 0h3v3h-3zm6 0h3v3h-3zm12 0h3v3h-3zm18 0h3v3h-3zm27 0h3v3h-3zm3 0h3v3h-3zm3 0h3v3h-3zm9 0h3v3h-3zm3 0h3v3h-3zm-117 3h3v3h-3zm9 0h3v3h-3zm3 0h3v3h-3zm21 0h3v3h-3zm9 0h3v3h-3zm9 0h3v3h-3zm48 0h3v3h-3zm30 0h3v3h-3zm-114 3h3v3h-3zm6 0h3v3h-3zm12 0h3v3h-3zm48 0h3v3h-3zm21 0h3v3h-3zm21 0h3v3h-3zm9 0h3v3h-3zm-126 3h3v3h-3zm15 0h3v3h-3zm18 0h3v3h-3zm3 0h3v3h-3zm6 0h3v3h-3zm9 0h3v3h-3zm3 0h3v3h-3zm6 0h3v3h-3zm15 0h3v3h-3zm-81 3h3v3h-3zm24 0h3v3h-3zm15 0h3v3h-3zm12 0h3v3h-3zm3 0h3v3h-3zm3 0h3v3h-3zm15 0h3v3h-3zm9 0h3v3h-3zm3 0h3v3h-3zm48 0h3v3h-3zm-78 3h3v3h-3zm9 0h3v3h-3zm3 0h3v3h-3zm27 0h3v3h-3zm-87 3h3v3h-3zm9 0h3v3h-3zm120 0h3v3h-3zm-132 3h3v3h-3zm27 0h3v3h-3zm39 0h3v3h-3zm21 0h3v3h-3zm3 0h3v3h-3zm3 0h3v3h-3zm3 0h3v3h-3zm30 0h3v3h-3zm-120 3h3v3h-3zm57 0h3v3h-3zm24 0h3v3h-3zm6 0h3v3h-3zm3 0h3v3h-3zm15 0h3v3h-3zm9 0h3v3h-3zm-126 3h3v3h-3zm3 0h3v3h-3zm45 0h3v3h-3zm9 0h3v3h-3zm3 0h3v3h-3zm6 0h3v3h-3zm9 0h3v3h-3zm15 0h3v3h-3zm33 0h3v3h-3zm6 0h3v3h-3zm6 0h3v3h-3zm-135 3h3v3h-3zm6 0h3v3h-3zm18 0h3v3h-3zm18 0h3v3h-3zm3 0h3v3h-3zm15 0h3v3h-3zm57 0h3v3h-3zm3 0h3v3h-3zm-108 3h3v3h-3zm15 0h3v3h-3zm12 0h3v3h-3zm6 0h3v3h-3zm6 0h3v3h-3zm12 0h3v3h-3zm12 0h3v3h-3zm3 0h3v3h-3zm21 0h3v3h-3zm3 0h3v3h-3zm3 0h3v3h-3zm6 0h3v3h-3zm30 0h3v3h-3zm-141 3h3v3h-3zm15 0h3v3h-3zm9 0h3v3h-3zm3 0h3v3h-3zm51 0h3v3h-3zm6 0h3v3h-3zm12 0h3v3h-3zm9 0h3v3h-3zm6 0h3v3h-3zm24 0h3v3h-3zm3 0h3v3h-3zm-114 3h3v3h-3zm12 0h3v3h-3zm6 0h3v3h-3zm3 0h3v3h-3zm9 0h3v3h-3zm21 0h3v3h-3zm6 0h3v3h-3zm30 0h3v3h-3zm9 0h3v3h-3zm12 0h3v3h-3zm-117 3h3v3h-3zm3 0h3v3h-3zm51 0h3v3h-3zm45 0h3v3h-3zm24 0h3v3h-3zm-135 3h3v3h-3zm3 0h3v3h-3zm12 0h3v3h-3zm12 0h3v3h-3zm3 0h3v3h-3zm6 0h3v3h-3zm21 0h3v3h-3zm57 0h3v3h-3zm24 0h3v3h-3zm-129 3h3v3h-3zm18 0h3v3h-3zm21 0h3v3h-3zm15 0h3v3h-3zm36 0h3v3h-3zm15 0h3v3h-3zm6 0h3v3h-3zm-123 3h3v3h-3zm9 0h3v3h-3zm54 0h3v3h-3zm30 0h3v3h-3zm-78 3h3v3h-3zm15 0h3v3h-3zm15 0h3v3h-3zm9 0h3v3h-3zm15 0h3v3h-3zm3 0h3v3h-3zm24 0h3v3h-3zm12 0h3v3h-3zm3 0h3v3h-3zm-108 3h3v3h-3zm42 0h3v3h-3zm48 0h3v3h-3zm-90 3h3v3h-3zm18 0h3v3h-3zm9 0h3v3h-3zm12 0h3v3h-3zm66 0h3v3h-3zm-108 3h3v3h-3zm12 0h3v3h-3zm6 0h3v3h-3zm12 0h3v3h-3zm3 0h3v3h-3zm39 0h3v3h-3zm3 0h3v3h-3zm9 0h3v3h-3zm54 0h3v3h-3zm3 0h3v3h-3zm-132 3h3v3h-3zm6 0h3v3h-3zm3 0h3v3h-3zm6 0h3v3h-3zm63 0h3v3h-3zm12 0h3v3h-3zm42 0h3v3h-3zm-138 3h3v3h-3zm18 0h3v3h-3zm21 0h3v3h-3zm45 0h3v3h-3zm3 0h3v3h-3zm12 0h3v3h-3zm30 0h3v3h-3zm-111 3h3v3h-3zm54 0h3v3h-3zm51 0h3v3h-3zm12 0h3v3h-3zm-123 3h3v3h-3zm3 0h3v3h-3zm6 0h3v3h-3zm21 0h3v3h-3zm12 0h3v3h-3zm18 0h3v3h-3zm9 0h3v3h-3zm15 0h3v3h-3zm21 0h3v3h-3zm15 0h3v3h-3zm6 0h3v3h-3zm-129 3h3v3h-3zm36 0h3v3h-3zm75 0h3v3h-3zm6 0h3v3h-3zm-129 3h3v3h-3zm6 0h3v3h-3zm9 0h3v3h-3zm15 0h3v3h-3zm15 0h3v3h-3zm3 0h3v3h-3zm18 0h3v3h-3zm15 0h3v3h-3zm9 0h3v3h-3zm3 0h3v3h-3zm27 0h3v3h-3zm3 0h3v3h-3zm6 0h3v3h-3zm-111 3h3v3h-3zm36 0h3v3h-3zm72 0h3v3h-3zm9 0h3v3h-3zm6 0h3v3h-3zm-126 3h3v3h-3zm3 0h3v3h-3zm3 0h3v3h-3zm3 0h3v3h-3zm3 0h3v3h-3zm45 0h3v3h-3zm6 0h3v3h-3zm3 0h3v3h-3zm6 0h3v3h-3zm15 0h3v3h-3zm21 0h3v3h-3zm3 0h3v3h-3zm3 0h3v3h-3zm-126 3h3v3h-3zm30 0h3v3h-3zm24 0h3v3h-3zm24 0h3v3h-3zm12 0h3v3h-3zm6 0h3v3h-3zm24 0h3v3h-3zm6 0h3v3h-3zm-123 3h3v3h-3zm12 0h3v3h-3zm9 0h3v3h-3zm36 0h3v3h-3zm27 0h3v3h-3zm24 0h3v3h-3zm15 0h3v3h-3zm-126 3h3v3h-3zm3 0h3v3h-3zm87 0h3v3h-3zm6 0h3v3h-3zm3 0h3v3h-3zm9 0h3v3h-3zm6 0h3v3h-3zm21 0h3v3h-3zm-135 3h3v3h-3zm24 0h3v3h-3zm6 0h3v3h-3zm3 0h3v3h-3zm27 0h3v3h-3zm9 0h3v3h-3zm3 0h3v3h-3zm18 0h3v3h-3zm3 0h3v3h-3zm-54 3h3v3h-3zm45 0h3v3h-3zm24 0h3v3h-3zm9 0h3v3h-3zm9 0h3v3h-3zm12 0h3v3h-3zm-138 3h3v3h-3zm9 0h3v3h-3zm9 0h3v3h-3zm12 0h3v3h-3zm36 0h3v3h-3zm15 0h3v3h-3zm9 0h3v3h-3zm12 0h3v3h-3zm6 0h3v3h-3zm15 0h3v3h-3zm6 0h3v3h-3zm-126 3h3v3h-3zm9 0h3v3h-3zm18 0h3v3h-3zm3 0h3v3h-3zm24 0h3v3h-3zm9 0h3v3h-3zm12 0h3v3h-3zm9 0h3v3h-3zm48 0h3v3h-3zm-132 3h3v3h-3zm3 0h3v3h-3zm3 0h3v3h-3zm3 0h3v3h-3zm6 0h3v3h-3zm3 0h3v3h-3zm48 0h3v3h-3zm-69 3h3v3h-3zm6 0h3v3h-3zm3 0h3v3h-3zm9 0h3v3h-3zm12 0h3v3h-3zm27 0h3v3h-3zm21 0h3v3h-3zm15 0h3v3h-3zm3 0h3v3h-3zm18 0h3v3h-3zm6 0h3v3h-3zm12 0h3v3h-3zm-129 3h3v3h-3zm93 0h3v3h-3zm3 0h3v3h-3zm6 0h3v3h-3zm12 0h3v3h-3zm3 0h3v3h-3zm18 0h3v3h-3zm-138 3h3v3h-3zm48 0h3v3h-3zm57 0h3v3h-3zm27 0h3v3h-3z"/><path fill="#20ec20" d="M36 0h3v3h-3zm6 0h3v3h-3zm3 0h3v3h-3zm75 0h3v3h-3zm3 0h3v3h-3zm6 0h3v3h-3zm3 0h3v3h-3zm3 0h3v3h-3zm-117 3h3v3h-3zm12 0h3v3h-3zm6 0h3v3h-3zm3 0h3v3h-3zm3 0h3v3h-3zm3 0h3v3h-3zm3 0h3v3h-3zm72 0h3v3h-3zm3 0h3v3h-3zm3 0h3v3h-3zm3 0h3v3h-3zm3 0h3v3h-3zm3 0h3v3h-3zm-126 3h3v3h-3zm3 0h3v3h-3zm96 0h3v3h-3zm12 0h3v3h-3zm3 0h3v3h-3zm6 0h3v3h-3zm9 0h3v3h-3zm3 0h3v3h-3zm-132 3h3v3h-3zm3 0h3v3h-3zm60 0h3v3h-3zm30 0h3v3h-3zm24 0h3v3h-3zm3 0h3v3h-3zm12 0h3v3h-3zm-135 3h3v3h-3zm57 0h3v3h-3zm30 0h3v3h-3zm3 0h3v3h-3zm3 0h3v3h-3zm3 0h3v3h-3zm3 0h3v3h-3zm3 0h3v3h-3zm24 0h3v3h-3zm9 0h3v3h-3zm-135 3h3v3h-3zm6 0h3v3h-3zm3 0h3v3h-3zm6 0h3v3h-3zm24 0h3v3h-3zm30 0h3v3h-3zm3 0h3v3h-3zm18 0h3v3h-3zm3 0h3v3h-3zm6 0h3v3h-3zm24 0h3v3h-3zm6 0h3v3h-3zm-123 3h3v3h-3zm3 0h3v3h-3zm18 0h3v3h-3zm9 0h3v3h-3zm66 0h3v3h-3zm-90 3h3v3h-3zm12 0h3v3h-3zm3 0h3v3h-3zm3 0h3v3h-3zm6 0h3v3h-3zm6 0h3v3h-3zm3 0h3v3h-3zm9 0h3v3h-3zm18 0h3v3h-3zm6 0h3v3h-3zm12 0h3v3h-3zm36 0h3v3h-3zm-132 3h3v3h-3zm6 0h3v3h-3zm3 0h3v3h-3zm12 0h3v3h-3zm9 0h3v3h-3zm9 0h3v3h-3zm3 0h3v3h-3zm9 0h3v3h-3zm6 0h3v3h-3zm15 0h3v3h-3zm9 0h3v3h-3zm6 0h3v3h-3zm21 0h3v3h-3zm18 0h3v3h-3zm-111 3h3v3h-3zm6 0h3v3h-3zm21 0h3v3h-3zm3 0h3v3h-3zm3 0h3v3h-3zm3 0h3v3h-3zm3 0h3v3h-3zm3 0h3v3h-3zm30 0h3v3h-3zm21 0h3v3h-3zm12 0h3v3h-3zm3 0h3v3h-3zm6 0h3v3h-3zm12 0h3v3h-3zm-141 3h3v3h-3zm27 0h3v3h-3zm30 0h3v3h-3zm-33 3h3v3h-3zm27 0h3v3h-3zm15 0h3v3h-3zm6 0h3v3h-3zm9 0h3v3h-3zm-72 3h3v3h-3zm54 0h3v3h-3zm30 0h3v3h-3zm6 0h3v3h-3zm-87 3h3v3h-3zm57 0h3v3h-3zm3 0h3v3h-3zm18 0h3v3h-3zm3 0h3v3h-3zm3 0h3v3h-3zm30 0h3v3h-3zm-117 3h3v3h-3zm27 0h3v3h-3zm24 0h3v3h-3zm30 0h3v3h-3zm-87 3h3v3h-3zm33 0h3v3h-3zm3 0h3v3h-3zm24 0h3v3h-3zm3 0h3v3h-3zm9 0h3v3h-3zm15 0h3v3h-3zm6 0h3v3h-3zm24 0h3v3h-3zm9 0h3v3h-3zm-120 3h3v3h-3zm6 0h3v3h-3zm18 0h3v3h-3zm21 0h3v3h-3zm9 0h3v3h-3zm30 0h3v3h-3zm12 0h3v3h-3zm21 0h3v3h-3zm-123 3h3v3h-3zm6 0h3v3h-3zm9 0h3v3h-3zm15 0h3v3h-3zm6 0h3v3h-3zm9 0h3v3h-3zm15 0h3v3h-3zm42 0h3v3h-3zm3 0h3v3h-3zm15 0h3v3h-3zm3 0h3v3h-3zm9 0h3v3h-3zm6 0h3v3h-3zm-141 3h3v3h-3zm6 0h3v3h-3zm3 0h3v3h-3zm6 0h3v3h-3zm15 0h3v3h-3zm3 0h3v3h-3zm3 0h3v3h-3zm6 0h3v3h-3zm15 0h3v3h-3zm3 0h3v3h-3zm9 0h3v3h-3zm3 0h3v3h-3zm21 0h3v3h-3zm15 0h3v3h-3zm15 0h3v3h-3zm-120 3h3v3h-3zm3 0h3v3h-3zm3 0h3v3h-3zm3 0h3v3h-3zm18 0h3v3h-3zm42 0h3v3h-3zm3 0h3v3h-3zm18 0h3v3h-3zm9 0h3v3h-3zm15 0h3v3h-3zm3 0h3v3h-3zm-120 3h3v3h-3zm6 0h3v3h-3zm6 0h3v3h-3zm3 0h3v3h-3zm3 0h3v3h-3zm48 0h3v3h-3zm3 0h3v3h-3zm3 0h3v3h-3zm33 0h3v3h-3zm36 0h3v3h-3zm-120 3h3v3h-3zm51 0h3v3h-3zm36 0h3v3h-3zm3 0h3v3h-3zm6 0h3v3h-3zm-117 3h3v3h-3zm63 0h3v3h-3zm12 0h3v3h-3zm24 0h3v3h-3zm24 0h3v3h-3zm-63 3h3v3h-3zm15 0h3v3h-3zm36 0h3v3h-3zm24 0h3v3h-3zm6 0h3v3h-3zm-138 3h3v3h-3zm30 0h3v3h-3zm27 0h3v3h-3zm15 0h3v3h-3zm33 0h3v3h-3zm-99 3h3v3h-3zm3 0h3v3h-3zm6 0h3v3h-3zm6 0h3v3h-3zm9 0h3v3h-3zm3 0h3v3h-3zm27 0h3v3h-3zm15 0h3v3h-3zm24 0h3v3h-3zm-96 3h3v3h-3zm3 0h3v3h-3zm3 0h3v3h-3zm6 0h3v3h-3zm6 0h3v3h-3zm3 0h3v3h-3zm45 0h3v3h-3zm9 0h3v3h-3zm18 0h3v3h-3zm15 0h3v3h-3zm-99 3h3v3h-3zm9 0h3v3h-3zm3 0h3v3h-3zm-24 3h3v3h-3zm6 0h3v3h-3zm60 0h3v3h-3zm42 0h3v3h-3zm-111 3h3v3h-3zm3 0h3v3h-3zm60 0h3v3h-3zm3 0h3v3h-3zm3 0h3v3h-3zm21 0h3v3h-3zm-63 3h3v3h-3zm6 0h3v3h-3zm27 0h3v3h-3zm3 0h3v3h-3zm63 0h3v3h-3zm-102 3h3v3h-3zm66 0h3v3h-3zm9 0h3v3h-3zm-99 3h3v3h-3zm21 0h3v3h-3zm6 0h3v3h-3zm12 0h3v3h-3zm3 0h3v3h-3zm51 0h3v3h-3zm3 0h3v3h-3zm21 0h3v3h-3zm-99 3h3v3h-3zm3 0h3v3h-3zm6 0h3v3h-3zm24 0h3v3h-3zm21 0h3v3h-3zm45 0h3v3h-3zm3 0h3v3h-3zm6 0h3v3h-3zm-108 3h3v3h-3zm3 0h3v3h-3zm30 0h3v3h-3zm3 0h3v3h-3zm3 0h3v3h-3zm15 0h3v3h-3zm3 0h3v3h-3zm21 0h3v3h-3zm30 0h3v3h-3zm6 0h3v3h-3zm-126 3h3v3h-3zm18 0h3v3h-3zm6 0h3v3h-3zm15 0h3v3h-3zm3 0h3v3h-3zm3 0h3v3h-3zm24 0h3v3h-3zm57 0h3v3h-3zm-129 3h3v3h-3zm51 0h3v3h-3zm39 0h3v3h-3zm3 0h3v3h-3zm3 0h3v3h-3zm-99 3h3v3h-3zm18 0h3v3h-3zm9 0h3v3h-3zm27 0h3v3h-3zm6 0h3v3h-3zm12 0h3v3h-3zm3 0h3v3h-3zm57 0h3v3h-3zm-123 3h3v3h-3zm12 0h3v3h-3zm3 0h3v3h-3zm33 0h3v3h-3zm18 0h3v3h-3zm3 0h3v3h-3zm3 0h3v3h-3zm15 0h3v3h-3zm3 0h3v3h-3zm-75 3h3v3h-3zm3 0h3v3h-3zm33 0h3v3h-3zm21 0h3v3h-3zm-81 3h3v3h-3zm9 0h3v3h-3zm69 0h3v3h-3zm21 0h3v3h-3zm3 0h3v3h-3zm9 0h3v3h-3zm6 0h3v3h-3zm3 0h3v3h-3zm9 0h3v3h-3zm6 0h3v3h-3zm-135 3h3v3h-3zm24 0h3v3h-3zm9 0h3v3h-3zm36 0h3v3h-3zm12 0h3v3h-3zm24 0h3v3h-3zm-96 3h3v3h-3zm30 0h3v3h-3zm39 0h3v3h-3zm3 0h3v3h-3zm6 0h3v3h-3zm3 0h3v3h-3zm12 0h3v3h-3zm36 0h3v3h-3zm-126 3h3v3h-3zm6 0h3v3h-3zm48 0h3v3h-3zm18 0h3v3h-3zm15 0h3v3h-3zm6 0h3v3h-3zm3 0h3v3h-3zm-81 3h3v3h-3zm6 0h3v3h-3zm6 0h3v3h-3zm24 0h3v3h-3zm39 0h3v3h-3zm3 0h3v3h-3zm3 0h3v3h-3zm-72 3h3v3h-3zm3 0h3v3h-3zm12 0h3v3h-3zm3 0h3v3h-3zm3 0h3v3h-3zm6 0h3v3h-3zm42 0h3v3h-3zm-96 3h3v3h-3zm3 0h3v3h-3zm3 0h3v3h-3zm9 0h3v3h-3zm3 0h3v3h-3zm6 0h3v3h-3zm3 0h3v3h-3zm3 0h3v3h-3zm3 0h3v3h-3zm72 0h3v3h-3zm3 0h3v3h-3zm9 0h3v3h-3zm12 0h3v3h-3zm-126 3h3v3h-3zm9 0h3v3h-3zm6 0h3v3h-3zm3 0h3v3h-3zm3 0h3v3h-3zm3 0h3v3h-3zm3 0h3v3h-3zm3 0h3v3h-3zm3 0h3v3h-3zm33 0h3v3h-3zm39 0h3v3h-3zm9 0h3v3h-3zm6 0h3v3h-3z"/></pattern>
<pattern id="pt_orange" width="144" height="144" patternUnits="userSpaceOnUse" patternTransform="rotate(-26.7)"><rect width="144" height="144" fill="#f0c400"/><path fill="#70d400" d="M0 0h3v3h-3zm18 0h3v3h-3zm6 0h3v3h-3zm6 0h3v3h-3zm3 0h3v3h-3zm3 0h3v3h-3zm3 0h3v3h-3zm27 0h3v3h-3zm3 0h3v3h-3zm3 0h3v3h-3zm6 0h3v3h-3zm3 0h3v3h-3zm6 0h3v3h-3zm9 0h3v3h-3zm3 0h3v3h-3zm6 0h3v3h-3zm6 0h3v3h-3zm-81 3h3v3h-3zm3 0h3v3h-3zm27 0h3v3h-3zm12 0h3v3h-3zm3 0h3v3h-3zm3 0h3v3h-3zm3 0h3v3h-3zm21 0h3v3h-3zm9 0h3v3h-3zm3 0h3v3h-3zm-90 3h3v3h-3zm3 0h3v3h-3zm6 0h3v3h-3zm33 0h3v3h-3zm6 0h3v3h-3zm3 0h3v3h-3zm15 0h3v3h-3zm9 0h3v3h-3zm-24 3h3v3h-3zm3 0h3v3h-3zm6 0h3v3h-3zm3 0h3v3h-3zm48 0h3v3h-3zm-123 3h3v3h-3zm9 0h3v3h-3zm42 0h3v3h-3zm9 0h3v3h-3zm6 0h3v3h-3zm3 0h3v3h-3zm3 0h3v3h-3zm3 0h3v3h-3zm12 0h3v3h-3zm3 0h3v3h-3zm-78 3h3v3h-3zm48 0h3v3h-3zm6 0h3v3h-3zm9 0h3v3h-3zm9 0h3v3h-3zm3 0h3v3h-3zm9 0h3v3h-3zm12 0h3v3h-3zm15 0h3v3h-3zm-126 3h3v3h-3zm6 0h3v3h-3zm6 0h3v3h-3zm39 0h3v3h-3zm21 0h3v3h-3zm3 0h3v3h-3zm6 0h3v3h-3zm3 0h3v3h-3zm6 0h3v3h-3zm15 0h3v3h-3zm3 0h3v3h-3zm3 0h3v3h-3zm12 0h3v3h-3zm-54 3h3v3h-3zm3 0h3v3h-3zm3 0h3v3h-3zm3 0h3v3h-3zm30 0h3v3h-3zm21 0h3v3h-3zm-138 3h3v3h-3zm21 0h3v3h-3zm63 0h3v3h-3zm3 0h3v3h-3zm12 0h3v3h-3zm6 0h3v3h-3zm24 0h3v3h-3zm-126 3h3v3h-3zm18 0h3v3h-3zm6 0h3v3h-3zm105 0h3v3h-3zm3 0h3v3h-3zm3 0h3v3h-3zm3 0h3v3h-3zm-141 3h3v3h-3zm6 0h3v3h-3zm21 0h3v3h-3zm12 0h3v3h-3zm18 0h3v3h-3zm39 0h3v3h-3zm33 0h3v3h-3zm9 0h3v3h-3zm3 0h3v3h-3zm-141 3h3v3h-3zm3 0h3v3h-3zm15 0h3v3h-3zm3 0h3v3h-3zm3 0h3v3h-3zm6 0h3v3h-3zm60 0h3v3h-3zm12 0h3v3h-3zm12 0h3v3h-3zm6 0h3v3h-3zm6 0h3v3h-3zm-120 3h3v3h-3zm9 0h3v3h-3zm3 0h3v3h-3zm3 0h3v3h-3zm3 0h3v3h-3zm3 0h3v3h-3zm6 0h3v3h-3zm9 0h3v3h-3zm9 0h3v3h-3zm6 0h3v3h-3zm18 0h3v3h-3zm42 0h3v3h-3zm-99 3h3v3h-3zm6 0h3v3h-3zm3 0h3v3h-3zm6 0h3v3h-3zm15 0h3v3h-3zm33 0h3v3h-3zm30 0h3v3h-3zm3 0h3v3h-3zm-114 3h3v3h-3zm12 0h3v3h-3zm9 0h3v3h-3zm3 0h3v3h-3zm3 0h3v3h-3zm12 0h3v3h-3zm9 0h3v3h-3zm6 0h3v3h-3zm21 0h3v3h-3zm3 0h3v3h-3zm3 0h3v3h-3zm3 0h3v3h-3zm36 0h3v3h-3zm18 0h3v3h-3zm-120 3h3v3h-3zm6 0h3v3h-3zm15 0h3v3h-3zm24 0h3v3h-3zm12 0h3v3h-3zm3 0h3v3h-3zm30 0h3v3h-3zm9 0h3v3h-3zm-90 3h3v3h-3zm3 0h3v3h-3zm30 0h3v3h-3zm6 0h3v3h-3zm21 0h3v3h-3zm6 0h3v3h-3zm27 0h3v3h-3zm3 0h3v3h-3zm-96 3h3v3h-3zm24 0h3v3h-3zm3 0h3v3h-3zm18 0h3v3h-3zm9 0h3v3h-3zm3 0h3v3h-3zm6 0h3v3h-3zm36 0h3v3h-3zm-93 3h3v3h-3zm3 0h3v3h-3zm3 0h3v3h-3zm39 0h3v3h-3zm3 0h3v3h-3zm6 0h3v3h-3zm-84 3h3v3h-3zm6 0h3v3h-3zm120 0h3v3h-3zm-123 3h3v3h-3zm27 0h3v3h-3zm9 0h3v3h-3zm15 0h3v3h-3zm6 0h3v3h-3zm27 0h3v3h-3zm39 0h3v3h-3zm-126 3h3v3h-3zm3 0h3v3h-3zm3 0h3v3h-3zm3 0h3v3h-3zm36 0h3v3h-3zm-39 3h3v3h-3zm3 0h3v3h-3zm-9 3h3v3h-3zm3 0h3v3h-3zm3 0h3v3h-3zm3 0h3v3h-3zm3 0h3v3h-3zm30 0h3v3h-3zm18 0h3v3h-3zm-60 3h3v3h-3zm6 0h3v3h-3zm3 0h3v3h-3zm27 0h3v3h-3zm3 0h3v3h-3zm30 0h3v3h-3zm12 0h3v3h-3zm-78 3h3v3h-3zm3 0h3v3h-3zm30 0h3v3h-3zm3 0h3v3h-3zm3 0h3v3h-3zm15 0h3v3h-3zm21 0h3v3h-3zm3 0h3v3h-3zm6 0h3v3h-3zm3 0h3v3h-3zm6 0h3v3h-3zm-93 3h3v3h-3zm6 0h3v3h-3zm3 0h3v3h-3zm9 0h3v3h-3zm3 0h3v3h-3zm3 0h3v3h-3zm9 0h3v3h-3zm3 0h3v3h-3zm27 0h3v3h-3zm12 0h3v3h-3zm18 0h3v3h-3zm-99 3h3v3h-3zm24 0h3v3h-3zm18 0h3v3h-3zm3 0h3v3h-3zm48 0h3v3h-3zm3 0h3v3h-3zm15 0h3v3h-3zm3 0h3v3h-3zm3 0h3v3h-3zm9 0h3v3h-3zm12 0h3v3h-3zm-114 3h3v3h-3zm39 0h3v3h-3zm15 0h3v3h-3zm15 0h3v3h-3zm6 0h3v3h-3zm3 0h3v3h-3zm3 0h3v3h-3zm-84 3h3v3h-3zm3 0h3v3h-3zm81 0h3v3h-3zm18 0h3v3h-3zm6 0h3v3h-3zm6 0h3v3h-3zm-126 3h3v3h-3zm9 0h3v3h-3zm3 0h3v3h-3zm3 0h3v3h-3zm3 0h3v3h-3zm6 0h3v3h-3zm45 0h3v3h-3zm3 0h3v3h-3zm-57 3h3v3h-3zm3 0h3v3h-3zm45 0h3v3h-3zm3 0h3v3h-3zm3 0h3v3h-3zm3 0h3v3h-3zm3 0h3v3h-3zm6 0h3v3h-3zm3 0h3v3h-3zm-72 3h3v3h-3zm60 0h3v3h-3zm-63 3h3v3h-3zm9 0h3v3h-3zm18 0h3v3h-3zm-21 3h3v3h-3zm21 0h3v3h-3zm24 0h3v3h-3zm12 3h3v3h-3zm48 0h3v3h-3zm3 0h3v3h-3zm3 0h3v3h-3zm-129 3h3v3h-3zm12 0h3v3h-3zm51 0h3v3h-3zm3 0h3v3h-3zm6 0h3v3h-3zm-60 3h3v3h-3zm12 0h3v3h-3zm3 0h3v3h-3zm3 0h3v3h-3zm96 0h3v3h-3zm9 0h3v3h-3zm-111 3h3v3h-3zm45 0h3v3h-3zm24 0h3v3h-3zm27 0h3v3h-3zm3 0h3v3h-3zm-108 3h3v3h-3zm42 0h3v3h-3zm12 0h3v3h-3zm15 0h3v3h-3zm12 0h3v3h-3zm21 0h3v3h-3zm6 0h3v3h-3zm-120 3h3v3h-3zm18 0h3v3h-3zm9 0h3v3h-3zm3 0h3v3h-3zm24 0h3v3h-3zm12 0h3v3h-3zm51 0h3v3h-3zm6 0h3v3h-3zm-78 3h3v3h-3zm36 0h3v3h-3zm42 0h3v3h-3zm-120 3h3v3h-3zm117 0h3v3h-3zm3 0h3v3h-3zm3 0h3v3h-3zm6 0h3v3h-3zm-141 3h3v3h-3zm3 0h3v3h-3zm3 0h3v3h-3zm3 0h3v3h-3zm3 0h3v3h-3zm30 0h3v3h-3zm42 0h3v3h-3zm3 0h3v3h-3zm9 0h3v3h-3zm21 0h3v3h-3zm9 0h3v3h-3zm3 0h3v3h-3zm6 0h3v3h-3zm3 0h3v3h-3zm-138 3h3v3h-3zm3 0h3v3h-3zm3 0h3v3h-3zm3 0h3v3h-3zm3 0h3v3h-3zm3 0h3v3h-3zm54 0h3v3h-3zm15 0h3v3h-3zm36 0h3v3h-3zm15 0h3v3h-3zm3 0h3v3h-3zm3 0h3v3h-3zm-132 3h3v3h-3zm9 0h3v3h-3zm18 0h3v3h-3zm33 0h3v3h-3zm6 0h3v3h-3zm6 0h3v3h-3zm9 0h3v3h-3zm6 0h3v3h-3zm18 0h3v3h-3zm12 0h3v3h-3zm6 0h3v3h-3zm3 0h3v3h-3zm6 0h3v3h-3zm-138 3h3v3h-3zm9 0h3v3h-3zm3 0h3v3h-3zm48 0h3v3h-3zm3 0h3v3h-3zm3 0h3v3h-3zm9 0h3v3h-3zm6 0h3v3h-3zm3 0h3v3h-3zm3 0h3v3h-3zm3 0h3v3h-3zm15 0h3v3h-3zm-102 3h3v3h-3zm33 0h3v3h-3zm30 0h3v3h-3zm3 0h3v3h-3zm3 0h3v3h-3zm6 0h3v3h-3zm3 0h3v3h-3zm3 0h3v3h-3zm3 0h3v3h-3zm6 0h3v3h-3zm3 0h3v3h-3zm36 0h3v3h-3z"/><path fill="#e07000" d="M3 0h3v3h-3zm6 0h3v3h-3zm36 0h3v3h-3zm6 0h3v3h-3zm81 0h3v3h-3zm3 0h3v3h-3zm-135 3h3v3h-3zm12 0h3v3h-3zm39 0h3v3h-3zm15 0h3v3h-3zm-60 3h3v3h-3zm6 0h3v3h-3zm3 0h3v3h-3zm24 0h3v3h-3zm9 0h3v3h-3zm60 0h3v3h-3zm12 0h3v3h-3zm6 0h3v3h-3zm-123 3h3v3h-3zm9 0h3v3h-3zm36 0h3v3h-3zm18 0h3v3h-3zm48 0h3v3h-3zm3 0h3v3h-3zm9 0h3v3h-3zm-96 3h3v3h-3zm3 0h3v3h-3zm3 0h3v3h-3zm75 0h3v3h-3zm18 0h3v3h-3zm-123 3h3v3h-3zm9 0h3v3h-3zm6 0h3v3h-3zm6 0h3v3h-3zm12 0h3v3h-3zm9 0h3v3h-3zm3 0h3v3h-3zm33 0h3v3h-3zm30 0h3v3h-3zm9 0h3v3h-3zm9 0h3v3h-3zm-102 3h3v3h-3zm9 0h3v3h-3zm3 0h3v3h-3zm24 0h3v3h-3zm3 0h3v3h-3zm-42 3h3v3h-3zm6 0h3v3h-3zm3 0h3v3h-3zm3 0h3v3h-3zm3 0h3v3h-3zm6 0h3v3h-3zm3 0h3v3h-3zm9 0h3v3h-3zm6 0h3v3h-3zm6 0h3v3h-3zm27 0h3v3h-3zm21 0h3v3h-3zm-90 3h3v3h-3zm3 0h3v3h-3zm12 0h3v3h-3zm6 0h3v3h-3zm3 0h3v3h-3zm3 0h3v3h-3zm6 0h3v3h-3zm6 0h3v3h-3zm9 0h3v3h-3zm15 0h3v3h-3zm-81 3h3v3h-3zm18 0h3v3h-3zm24 0h3v3h-3zm6 0h3v3h-3zm3 0h3v3h-3zm6 0h3v3h-3zm9 0h3v3h-3zm3 0h3v3h-3zm6 0h3v3h-3zm21 0h3v3h-3zm3 0h3v3h-3zm-69 3h3v3h-3zm18 0h3v3h-3zm9 0h3v3h-3zm9 0h3v3h-3zm3 0h3v3h-3zm3 0h3v3h-3zm9 0h3v3h-3zm-84 3h3v3h-3zm45 0h3v3h-3zm9 0h3v3h-3zm9 0h3v3h-3zm27 0h3v3h-3zm12 0h3v3h-3zm6 0h3v3h-3zm-48 3h3v3h-3zm15 0h3v3h-3zm15 0h3v3h-3zm30 0h3v3h-3zm-120 3h3v3h-3zm75 0h3v3h-3zm3 0h3v3h-3zm42 0h3v3h-3zm-120 3h3v3h-3zm33 0h3v3h-3zm-36 3h3v3h-3zm9 0h3v3h-3zm39 0h3v3h-3zm48 0h3v3h-3zm-102 3h3v3h-3zm3 0h3v3h-3zm9 0h3v3h-3zm21 0h3v3h-3zm6 0h3v3h-3zm6 0h3v3h-3zm3 0h3v3h-3zm57 0h3v3h-3zm-102 3h3v3h-3zm6 0h3v3h-3zm36 0h3v3h-3zm15 0h3v3h-3zm18 0h3v3h-3zm24 0h3v3h-3zm36 0h3v3h-3zm-126 3h3v3h-3zm3 0h3v3h-3zm3 0h3v3h-3zm6 0h3v3h-3zm3 0h3v3h-3zm33 0h3v3h-3zm24 0h3v3h-3zm18 0h3v3h-3zm18 0h3v3h-3zm9 0h3v3h-3zm-108 3h3v3h-3zm39 0h3v3h-3zm3 0h3v3h-3zm6 0h3v3h-3zm3 0h3v3h-3zm27 0h3v3h-3zm12 0h3v3h-3zm3 0h3v3h-3zm3 0h3v3h-3zm-102 3h3v3h-3zm6 0h3v3h-3zm51 0h3v3h-3zm15 0h3v3h-3zm6 0h3v3h-3zm3 0h3v3h-3zm9 0h3v3h-3zm6 0h3v3h-3zm3 0h3v3h-3zm3 0h3v3h-3zm3 0h3v3h-3zm12 0h3v3h-3zm3 0h3v3h-3zm3 0h3v3h-3zm3 0h3v3h-3zm-114 3h3v3h-3zm3 0h3v3h-3zm6 0h3v3h-3zm6 0h3v3h-3zm33 0h3v3h-3zm3 0h3v3h-3zm21 0h3v3h-3zm3 0h3v3h-3zm6 0h3v3h-3zm6 0h3v3h-3zm-81 3h3v3h-3zm3 0h3v3h-3zm6 0h3v3h-3zm15 0h3v3h-3zm15 0h3v3h-3zm21 0h3v3h-3zm3 0h3v3h-3zm3 0h3v3h-3zm6 0h3v3h-3zm9 0h3v3h-3zm12 0h3v3h-3zm6 0h3v3h-3zm9 0h3v3h-3zm-90 3h3v3h-3zm3 0h3v3h-3zm24 0h3v3h-3zm18 0h3v3h-3zm6 0h3v3h-3zm3 0h3v3h-3zm3 0h3v3h-3zm3 0h3v3h-3zm21 0h3v3h-3zm9 0h3v3h-3zm-33 3h3v3h-3zm3 0h3v3h-3zm6 0h3v3h-3zm3 0h3v3h-3zm15 0h3v3h-3zm-84 3h3v3h-3zm6 0h3v3h-3zm57 0h3v3h-3zm12 0h3v3h-3zm-108 3h3v3h-3zm39 0h3v3h-3zm63 0h3v3h-3zm6 0h3v3h-3zm-111 3h3v3h-3zm12 0h3v3h-3zm6 0h3v3h-3zm87 0h3v3h-3zm-117 3h3v3h-3zm108 0h3v3h-3zm-102 3h3v3h-3zm3 0h3v3h-3zm21 0h3v3h-3zm3 0h3v3h-3zm84 0h3v3h-3zm6 0h3v3h-3zm-69 3h3v3h-3zm3 0h3v3h-3zm6 0h3v3h-3zm21 0h3v3h-3zm3 0h3v3h-3zm24 0h3v3h-3zm6 0h3v3h-3zm3 0h3v3h-3zm9 0h3v3h-3zm-129 3h3v3h-3zm9 0h3v3h-3zm27 0h3v3h-3zm3 0h3v3h-3zm9 0h3v3h-3zm6 0h3v3h-3zm12 0h3v3h-3zm39 0h3v3h-3zm6 0h3v3h-3zm3 0h3v3h-3zm3 0h3v3h-3zm18 0h3v3h-3zm-138 3h3v3h-3zm3 0h3v3h-3zm3 0h3v3h-3zm6 0h3v3h-3zm12 0h3v3h-3zm15 0h3v3h-3zm12 0h3v3h-3zm3 0h3v3h-3zm3 0h3v3h-3zm3 0h3v3h-3zm18 0h3v3h-3zm9 0h3v3h-3zm27 0h3v3h-3zm6 0h3v3h-3zm9 0h3v3h-3zm3 0h3v3h-3zm9 0h3v3h-3zm-129 3h3v3h-3zm18 0h3v3h-3zm9 0h3v3h-3zm18 0h3v3h-3zm9 0h3v3h-3zm21 0h3v3h-3zm9 0h3v3h-3zm3 0h3v3h-3zm3 0h3v3h-3zm6 0h3v3h-3zm3 0h3v3h-3zm3 0h3v3h-3zm6 0h3v3h-3zm3 0h3v3h-3zm3 0h3v3h-3zm12 0h3v3h-3zm3 0h3v3h-3zm-138 3h3v3h-3zm36 0h3v3h-3zm18 0h3v3h-3zm18 0h3v3h-3zm15 0h3v3h-3zm6 0h3v3h-3zm3 0h3v3h-3zm3 0h3v3h-3zm3 0h3v3h-3zm3 0h3v3h-3zm24 0h3v3h-3zm-129 3h3v3h-3zm6 0h3v3h-3zm6 0h3v3h-3zm3 0h3v3h-3zm15 0h3v3h-3zm18 0h3v3h-3zm39 0h3v3h-3zm3 0h3v3h-3zm9 0h3v3h-3zm6 0h3v3h-3zm6 0h3v3h-3zm3 0h3v3h-3zm21 0h3v3h-3zm-138 3h3v3h-3zm45 0h3v3h-3zm3 0h3v3h-3zm3 0h3v3h-3zm9 0h3v3h-3zm3 0h3v3h-3zm3 0h3v3h-3zm51 0h3v3h-3zm-96 3h3v3h-3zm6 0h3v3h-3zm18 0h3v3h-3zm3 0h3v3h-3zm3 0h3v3h-3zm3 0h3v3h-3zm3 0h3v3h-3zm3 0h3v3h-3zm3 0h3v3h-3zm9 0h3v3h-3zm42 0h3v3h-3zm6 0h3v3h-3zm18 0h3v3h-3zm-126 3h3v3h-3zm36 0h3v3h-3zm3 0h3v3h-3zm12 0h3v3h-3zm21 0h3v3h-3zm12 0h3v3h-3zm9 0h3v3h-3zm9 0h3v3h-3zm3 0h3v3h-3zm21 0h3v3h-3zm-132 3h3v3h-3zm9 0h3v3h-3zm9 0h3v3h-3zm21 0h3v3h-3zm3 0h3v3h-3zm6 0h3v3h-3zm3 0h3v3h-3zm57 0h3v3h-3zm3 0h3v3h-3zm15 0h3v3h-3zm-129 3h3v3h-3zm39 0h3v3h-3zm6 0h3v3h-3zm57 0h3v3h-3zm-84 3h3v3h-3zm9 0h3v3h-3zm9 0h3v3h-3zm21 0h3v3h-3zm33 0h3v3h-3zm6 0h3v3h-3zm3 0h3v3h-3zm9 0h3v3h-3zm-84 3h3v3h-3zm15 0h3v3h-3zm6 0h3v3h-3zm15 0h3v3h-3zm3 0h3v3h-3zm6 0h3v3h-3zm24 0h3v3h-3zm9 0h3v3h-3zm3 0h3v3h-3zm-84 3h3v3h-3zm6 0h3v3h-3zm9 0h3v3h-3zm21 0h3v3h-3zm33 0h3v3h-3zm6 0h3v3h-3zm3 0h3v3h-3zm-78 3h3v3h-3zm9 0h3v3h-3zm3 0h3v3h-3zm21 0h3v3h-3zm15 0h3v3h-3zm-45 3h3v3h-3zm3 0h3v3h-3zm3 0h3v3h-3zm12 0h3v3h-3zm6 0h3v3h-3zm6 0h3v3h-3zm-21 3h3v3h-3zm12 0h3v3h-3zm3 0h3v3h-3zm48 0h3v3h-3zm15 0h3v3h-3zm6 0h3v3h-3zm3 0h3v3h-3zm-75 3h3v3h-3zm3 0h3v3h-3zm6 0h3v3h-3zm57 0h3v3h-3z"/><path fill="#b0dc00" d="M15 0h3v3h-3zm45 0h3v3h-3zm24 0h3v3h-3zm6 0h3v3h-3zm18 0h3v3h-3zm6 0h3v3h-3zm15 0h3v3h-3zm-126 3h3v3h-3zm15 0h3v3h-3zm6 0h3v3h-3zm12 0h3v3h-3zm3 0h3v3h-3zm30 0h3v3h-3zm15 0h3v3h-3zm6 0h3v3h-3zm3 0h3v3h-3zm3 0h3v3h-3zm3 0h3v3h-3zm9 0h3v3h-3zm12 0h3v3h-3zm12 0h3v3h-3zm6 0h3v3h-3zm-138 3h3v3h-3zm18 0h3v3h-3zm12 0h3v3h-3zm15 0h3v3h-3zm12 0h3v3h-3zm3 0h3v3h-3zm3 0h3v3h-3zm18 0h3v3h-3zm3 0h3v3h-3zm3 0h3v3h-3zm9 0h3v3h-3zm9 0h3v3h-3zm27 0h3v3h-3zm3 0h3v3h-3zm-135 3h3v3h-3zm21 0h3v3h-3zm3 0h3v3h-3zm21 0h3v3h-3zm27 0h3v3h-3zm-72 3h3v3h-3zm18 0h3v3h-3zm39 0h3v3h-3zm3 0h3v3h-3zm33 0h3v3h-3zm3 0h3v3h-3zm24 0h3v3h-3zm3 0h3v3h-3zm-114 3h3v3h-3zm45 0h3v3h-3zm12 0h3v3h-3zm15 0h3v3h-3zm12 0h3v3h-3zm9 0h3v3h-3zm3 0h3v3h-3zm33 0h3v3h-3zm-87 3h3v3h-3zm21 0h3v3h-3zm3 0h3v3h-3zm12 0h3v3h-3zm18 0h3v3h-3zm6 0h3v3h-3zm12 0h3v3h-3zm-120 3h3v3h-3zm12 0h3v3h-3zm60 0h3v3h-3zm18 0h3v3h-3zm9 0h3v3h-3zm6 0h3v3h-3zm3 0h3v3h-3zm3 0h3v3h-3zm9 0h3v3h-3zm12 0h3v3h-3zm-111 3h3v3h-3zm3 0h3v3h-3zm9 0h3v3h-3zm66 0h3v3h-3zm6 0h3v3h-3zm12 0h3v3h-3zm18 0h3v3h-3zm3 0h3v3h-3zm-141 3h3v3h-3zm9 0h3v3h-3zm15 0h3v3h-3zm66 0h3v3h-3zm30 0h3v3h-3zm-111 3h3v3h-3zm24 0h3v3h-3zm18 0h3v3h-3zm15 0h3v3h-3zm42 0h3v3h-3zm9 0h3v3h-3zm-111 3h3v3h-3zm6 0h3v3h-3zm30 0h3v3h-3zm3 0h3v3h-3zm39 0h3v3h-3zm21 0h3v3h-3zm27 0h3v3h-3zm3 0h3v3h-3zm3 0h3v3h-3zm-138 3h3v3h-3zm9 0h3v3h-3zm27 0h3v3h-3zm3 0h3v3h-3zm9 0h3v3h-3zm15 0h3v3h-3zm9 0h3v3h-3zm9 0h3v3h-3zm15 0h3v3h-3zm-96 3h3v3h-3zm21 0h3v3h-3zm18 0h3v3h-3zm6 0h3v3h-3zm9 0h3v3h-3zm6 0h3v3h-3zm3 0h3v3h-3zm15 0h3v3h-3zm12 0h3v3h-3zm3 0h3v3h-3zm12 0h3v3h-3zm15 0h3v3h-3zm18 0h3v3h-3zm3 0h3v3h-3zm-123 3h3v3h-3zm45 0h3v3h-3zm3 0h3v3h-3zm6 0h3v3h-3zm21 0h3v3h-3zm6 0h3v3h-3zm15 0h3v3h-3zm3 0h3v3h-3zm6 0h3v3h-3zm3 0h3v3h-3zm6 0h3v3h-3zm-123 3h3v3h-3zm12 0h3v3h-3zm6 0h3v3h-3zm21 0h3v3h-3zm18 0h3v3h-3zm24 0h3v3h-3zm3 0h3v3h-3zm3 0h3v3h-3zm27 0h3v3h-3zm3 0h3v3h-3zm3 0h3v3h-3zm6 0h3v3h-3zm-117 3h3v3h-3zm6 0h3v3h-3zm45 0h3v3h-3zm15 0h3v3h-3zm6 0h3v3h-3zm27 0h3v3h-3zm12 0h3v3h-3zm-129 3h3v3h-3zm33 0h3v3h-3zm3 0h3v3h-3zm39 0h3v3h-3zm18 0h3v3h-3zm27 0h3v3h-3zm12 0h3v3h-3zm3 0h3v3h-3zm-72 3h3v3h-3zm3 0h3v3h-3zm66 0h3v3h-3zm-132 3h3v3h-3zm24 0h3v3h-3zm6 0h3v3h-3zm6 0h3v3h-3zm6 0h3v3h-3zm51 0h3v3h-3zm15 0h3v3h-3zm27 0h3v3h-3zm3 0h3v3h-3zm3 0h3v3h-3zm-132 3h3v3h-3zm3 0h3v3h-3zm12 0h3v3h-3zm3 0h3v3h-3zm81 0h3v3h-3zm15 0h3v3h-3zm3 0h3v3h-3zm-126 3h3v3h-3zm45 0h3v3h-3zm78 0h3v3h-3zm3 0h3v3h-3zm-120 3h3v3h-3zm9 0h3v3h-3zm54 0h3v3h-3zm6 0h3v3h-3zm9 0h3v3h-3zm-36 3h3v3h-3zm9 0h3v3h-3zm18 0h3v3h-3zm45 0h3v3h-3zm15 0h3v3h-3zm-129 3h3v3h-3zm9 0h3v3h-3zm21 0h3v3h-3zm9 0h3v3h-3zm42 0h3v3h-3zm-18 3h3v3h-3zm6 0h3v3h-3zm21 0h3v3h-3zm6 0h3v3h-3zm6 0h3v3h-3zm-108 3h3v3h-3zm9 0h3v3h-3zm24 0h3v3h-3zm21 0h3v3h-3zm6 0h3v3h-3zm3 0h3v3h-3zm9 0h3v3h-3zm3 0h3v3h-3zm27 0h3v3h-3zm36 0h3v3h-3zm-117 3h3v3h-3zm9 0h3v3h-3zm6 0h3v3h-3zm3 0h3v3h-3zm21 0h3v3h-3zm39 0h3v3h-3zm3 0h3v3h-3zm6 0h3v3h-3zm15 0h3v3h-3zm6 0h3v3h-3zm3 0h3v3h-3zm3 0h3v3h-3zm6 0h3v3h-3zm-99 3h3v3h-3zm24 0h3v3h-3zm6 0h3v3h-3zm3 0h3v3h-3zm9 0h3v3h-3zm3 0h3v3h-3zm9 0h3v3h-3zm27 0h3v3h-3zm18 0h3v3h-3zm-138 3h3v3h-3zm27 0h3v3h-3zm18 0h3v3h-3zm18 0h3v3h-3zm12 0h3v3h-3zm3 0h3v3h-3zm12 0h3v3h-3zm6 0h3v3h-3zm-96 3h3v3h-3zm72 0h3v3h-3zm18 0h3v3h-3zm6 0h3v3h-3zm3 0h3v3h-3zm-102 3h3v3h-3zm15 0h3v3h-3zm6 0h3v3h-3zm78 0h3v3h-3zm33 0h3v3h-3zm-105 3h3v3h-3zm3 0h3v3h-3zm33 0h3v3h-3zm21 0h3v3h-3zm15 0h3v3h-3zm9 0h3v3h-3zm3 0h3v3h-3zm-105 3h3v3h-3zm9 0h3v3h-3zm6 0h3v3h-3zm42 0h3v3h-3zm6 0h3v3h-3zm48 0h3v3h-3zm-105 3h3v3h-3zm9 0h3v3h-3zm12 0h3v3h-3zm15 0h3v3h-3zm24 0h3v3h-3zm51 0h3v3h-3zm6 0h3v3h-3zm6 0h3v3h-3zm-114 3h3v3h-3zm3 0h3v3h-3zm39 0h3v3h-3zm12 0h3v3h-3zm24 0h3v3h-3zm21 0h3v3h-3zm3 0h3v3h-3zm-108 3h3v3h-3zm12 0h3v3h-3zm54 0h3v3h-3zm21 0h3v3h-3zm33 0h3v3h-3zm6 0h3v3h-3zm-75 3h3v3h-3zm9 0h3v3h-3zm6 0h3v3h-3zm18 0h3v3h-3zm6 0h3v3h-3zm3 0h3v3h-3zm18 0h3v3h-3zm-111 3h3v3h-3zm75 0h3v3h-3zm3 0h3v3h-3zm9 0h3v3h-3zm18 0h3v3h-3zm3 0h3v3h-3zm9 0h3v3h-3zm3 0h3v3h-3zm-105 3h3v3h-3zm42 0h3v3h-3zm6 0h3v3h-3zm3 0h3v3h-3zm3 0h3v3h-3zm9 0h3v3h-3zm18 0h3v3h-3zm9 0h3v3h-3zm6 0h3v3h-3zm15 0h3v3h-3zm-135 3h3v3h-3zm12 0h3v3h-3zm48 0h3v3h-3zm6 0h3v3h-3zm48 0h3v3h-3zm15 0h3v3h-3zm3 0h3v3h-3zm3 0h3v3h-3zm-132 3h3v3h-3zm36 0h3v3h-3zm6 0h3v3h-3zm24 0h3v3h-3zm3 0h3v3h-3zm9 0h3v3h-3zm9 0h3v3h-3zm30 0h3v3h-3zm9 0h3v3h-3zm3 0h3v3h-3zm-129 3h3v3h-3zm21 0h3v3h-3zm6 0h3v3h-3zm15 0h3v3h-3zm18 0h3v3h-3zm18 0h3v3h-3zm-72 3h3v3h-3zm6 0h3v3h-3zm33 0h3v3h-3zm12 0h3v3h-3zm3 0h3v3h-3zm3 0h3v3h-3zm9 0h3v3h-3zm27 0h3v3h-3zm12 0h3v3h-3zm3 0h3v3h-3zm9 0h3v3h-3zm-90 3h3v3h-3zm9 0h3v3h-3zm24 0h3v3h-3zm18 0h3v3h-3zm3 0h3v3h-3zm6 0h3v3h-3zm27 0h3v3h-3zm-129 3h3v3h-3zm6 0h3v3h-3zm9 0h3v3h-3zm24 0h3v3h-3zm9 0h3v3h-3zm15 0h3v3h-3zm15 0h3v3h-3zm15 0h3v3h-3zm6 0h3v3h-3zm-99 3h3v3h-3zm18 0h3v3h-3zm54 0h3v3h-3zm54 0h3v3h-3zm15 0h3v3h-3zm-141 3h3v3h-3zm9 0h3v3h-3zm6 0h3v3h-3zm3 0h3v3h-3zm6 0h3v3h-3zm6 0h3v3h-3zm36 0h3v3h-3zm12 0h3v3h-3zm15 0h3v3h-3zm18 0h3v3h-3zm9 0h3v3h-3zm12 0h3v3h-3z"/><path fill="#e8d800" d="M93 0h3v3h-3zm27 0h3v3h-3zm3 0h3v3h-3zm-102 3h3v3h-3zm36 0h3v3h-3zm6 0h3v3h-3zm24 0h3v3h-3zm30 0h3v3h-3zm12 0h3v3h-3zm12 0h3v3h-3zm-138 3h3v3h-3zm18 0h3v3h-3zm15 0h3v3h-3zm15 0h3v3h-3zm42 0h3v3h-3zm9 0h3v3h-3zm39 0h3v3h-3zm-126 3h3v3h-3zm3 0h3v3h-3zm36 0h3v3h-3zm42 0h3v3h-3zm6 0h3v3h-3zm3 0h3v3h-3zm3 0h3v3h-3zm24 0h3v3h-3zm-126 3h3v3h-3zm3 0h3v3h-3zm66 0h3v3h-3zm15 0h3v3h-3zm36 0h3v3h-3zm12 0h3v3h-3zm-138 3h3v3h-3zm126 0h3v3h-3zm-123 3h3v3h-3zm9 0h3v3h-3zm12 0h3v3h-3zm12 0h3v3h-3zm18 0h3v3h-3zm3 0h3v3h-3zm6 0h3v3h-3zm33 0h3v3h-3zm33 0h3v3h-3zm6 0h3v3h-3zm-129 3h3v3h-3zm12 0h3v3h-3zm87 0h3v3h-3zm27 0h3v3h-3zm9 0h3v3h-3zm-138 3h3v3h-3zm3 0h3v3h-3zm3 0h3v3h-3zm9 0h3v3h-3zm48 0h3v3h-3zm6 0h3v3h-3zm9 0h3v3h-3zm36 0h3v3h-3zm6 0h3v3h-3zm3 0h3v3h-3zm9 0h3v3h-3zm-129 3h3v3h-3zm9 0h3v3h-3zm18 0h3v3h-3zm42 0h3v3h-3zm9 0h3v3h-3zm21 0h3v3h-3zm18 0h3v3h-3zm6 0h3v3h-3zm-105 3h3v3h-3zm21 0h3v3h-3zm18 0h3v3h-3zm51 0h3v3h-3zm6 0h3v3h-3zm6 0h3v3h-3zm9 0h3v3h-3zm-120 3h3v3h-3zm18 0h3v3h-3zm3 0h3v3h-3zm3 0h3v3h-3zm18 0h3v3h-3zm30 0h3v3h-3zm21 0h3v3h-3zm21 0h3v3h-3zm12 0h3v3h-3zm-129 3h3v3h-3zm48 0h3v3h-3zm33 0h3v3h-3zm30 0h3v3h-3zm3 0h3v3h-3zm15 0h3v3h-3zm-135 3h3v3h-3zm9 0h3v3h-3zm15 0h3v3h-3zm21 0h3v3h-3zm6 0h3v3h-3zm15 0h3v3h-3zm3 0h3v3h-3zm21 0h3v3h-3zm12 0h3v3h-3zm18 0h3v3h-3zm9 0h3v3h-3zm-129 3h3v3h-3zm81 0h3v3h-3zm3 0h3v3h-3zm39 0h3v3h-3zm12 0h3v3h-3zm-108 3h3v3h-3zm18 0h3v3h-3zm30 0h3v3h-3zm24 0h3v3h-3zm6 0h3v3h-3zm9 0h3v3h-3zm12 0h3v3h-3zm-123 3h3v3h-3zm42 0h3v3h-3zm3 0h3v3h-3zm27 0h3v3h-3zm15 0h3v3h-3zm12 0h3v3h-3zm24 0h3v3h-3zm3 0h3v3h-3zm-87 3h3v3h-3zm15 0h3v3h-3zm3 0h3v3h-3zm3 0h3v3h-3zm18 0h3v3h-3zm27 0h3v3h-3zm9 0h3v3h-3zm-123 3h3v3h-3zm6 0h3v3h-3zm3 0h3v3h-3zm39 0h3v3h-3zm3 0h3v3h-3zm18 0h3v3h-3zm6 0h3v3h-3zm30 0h3v3h-3zm21 0h3v3h-3zm15 0h3v3h-3zm-129 3h3v3h-3zm3 0h3v3h-3zm12 0h3v3h-3zm18 0h3v3h-3zm9 0h3v3h-3zm12 0h3v3h-3zm15 0h3v3h-3zm6 0h3v3h-3zm3 0h3v3h-3zm30 0h3v3h-3zm3 0h3v3h-3zm-123 3h3v3h-3zm39 0h3v3h-3zm6 0h3v3h-3zm6 0h3v3h-3zm9 0h3v3h-3zm15 0h3v3h-3zm-60 3h3v3h-3zm3 0h3v3h-3zm3 0h3v3h-3zm3 0h3v3h-3zm15 0h3v3h-3zm21 0h3v3h-3zm21 0h3v3h-3zm3 0h3v3h-3zm6 0h3v3h-3zm21 0h3v3h-3zm6 0h3v3h-3zm12 0h3v3h-3zm6 0h3v3h-3zm-105 3h3v3h-3zm15 0h3v3h-3zm3 0h3v3h-3zm75 0h3v3h-3zm6 0h3v3h-3zm-99 3h3v3h-3zm6 0h3v3h-3zm6 0h3v3h-3zm24 0h3v3h-3zm3 0h3v3h-3zm3 0h3v3h-3zm18 0h3v3h-3zm9 0h3v3h-3zm15 0h3v3h-3zm15 0h3v3h-3zm9 0h3v3h-3zm-114 3h3v3h-3zm36 0h3v3h-3zm3 0h3v3h-3zm6 0h3v3h-3zm30 0h3v3h-3zm27 0h3v3h-3zm6 0h3v3h-3zm6 0h3v3h-3zm-108 3h3v3h-3zm3 0h3v3h-3zm39 0h3v3h-3zm6 0h3v3h-3zm9 0h3v3h-3zm36 0h3v3h-3zm9 0h3v3h-3zm-129 3h3v3h-3zm33 0h3v3h-3zm9 0h3v3h-3zm3 0h3v3h-3zm36 0h3v3h-3zm3 0h3v3h-3zm6 0h3v3h-3zm36 0h3v3h-3zm3 0h3v3h-3zm3 0h3v3h-3zm6 0h3v3h-3zm-135 3h3v3h-3zm42 0h3v3h-3zm6 0h3v3h-3zm3 0h3v3h-3zm6 0h3v3h-3zm12 0h3v3h-3zm15 0h3v3h-3zm15 0h3v3h-3zm-87 3h3v3h-3zm27 0h3v3h-3zm12 0h3v3h-3zm63 0h3v3h-3zm6 0h3v3h-3zm6 0h3v3h-3zm3 0h3v3h-3zm-129 3h3v3h-3zm39 0h3v3h-3zm15 0h3v3h-3zm15 0h3v3h-3zm33 0h3v3h-3zm6 0h3v3h-3zm24 0h3v3h-3zm-123 3h3v3h-3zm24 0h3v3h-3zm3 0h3v3h-3zm30 0h3v3h-3zm36 0h3v3h-3zm21 0h3v3h-3zm9 0h3v3h-3zm-132 3h3v3h-3zm27 0h3v3h-3zm3 0h3v3h-3zm30 0h3v3h-3zm21 0h3v3h-3zm15 0h3v3h-3zm27 0h3v3h-3zm-111 3h3v3h-3zm18 0h3v3h-3zm6 0h3v3h-3zm33 0h3v3h-3zm21 0h3v3h-3zm-87 3h3v3h-3zm33 0h3v3h-3zm6 0h3v3h-3zm33 0h3v3h-3zm3 0h3v3h-3zm48 0h3v3h-3zm-123 3h3v3h-3zm9 0h3v3h-3zm12 0h3v3h-3zm6 0h3v3h-3zm6 0h3v3h-3zm39 0h3v3h-3zm-81 3h3v3h-3zm45 0h3v3h-3zm12 0h3v3h-3zm12 0h3v3h-3zm3 0h3v3h-3zm6 0h3v3h-3zm63 0h3v3h-3zm-138 3h3v3h-3zm6 0h3v3h-3zm3 0h3v3h-3zm18 0h3v3h-3zm3 0h3v3h-3zm3 0h3v3h-3zm39 0h3v3h-3zm12 0h3v3h-3zm3 0h3v3h-3zm3 0h3v3h-3zm6 0h3v3h-3zm6 0h3v3h-3zm24 0h3v3h-3zm3 0h3v3h-3zm-123 3h3v3h-3zm30 0h3v3h-3zm48 0h3v3h-3zm3 0h3v3h-3zm6 0h3v3h-3zm6 0h3v3h-3zm9 0h3v3h-3zm18 0h3v3h-3zm-120 3h3v3h-3zm27 0h3v3h-3zm3 0h3v3h-3zm3 0h3v3h-3zm30 0h3v3h-3zm6 0h3v3h-3zm3 0h3v3h-3zm6 0h3v3h-3zm21 0h3v3h-3zm3 0h3v3h-3zm-84 3h3v3h-3zm9 0h3v3h-3zm30 0h3v3h-3zm3 0h3v3h-3zm30 0h3v3h-3zm-84 3h3v3h-3zm9 0h3v3h-3zm21 0h3v3h-3zm6 0h3v3h-3zm3 0h3v3h-3zm30 0h3v3h-3zm3 0h3v3h-3zm9 0h3v3h-3zm3 0h3v3h-3zm12 0h3v3h-3zm6 0h3v3h-3zm12 0h3v3h-3zm-126 3h3v3h-3zm15 0h3v3h-3zm9 0h3v3h-3zm9 0h3v3h-3zm72 0h3v3h-3zm6 0h3v3h-3zm27 0h3v3h-3zm-141 3h3v3h-3zm3 0h3v3h-3zm12 0h3v3h-3zm3 0h3v3h-3zm39 0h3v3h-3zm24 0h3v3h-3zm3 0h3v3h-3zm15 0h3v3h-3zm39 0h3v3h-3zm-120 3h3v3h-3zm15 0h3v3h-3zm3 0h3v3h-3zm9 0h3v3h-3zm6 0h3v3h-3zm12 0h3v3h-3zm12 0h3v3h-3zm30 0h3v3h-3zm6 0h3v3h-3zm30 0h3v3h-3zm-123 3h3v3h-3zm27 0h3v3h-3zm21 0h3v3h-3zm39 0h3v3h-3zm3 0h3v3h-3zm3 0h3v3h-3zm3 0h3v3h-3zm-111 3h3v3h-3zm9 0h3v3h-3zm48 0h3v3h-3zm6 0h3v3h-3zm18 0h3v3h-3zm3 0h3v3h-3zm15 0h3v3h-3zm9 0h3v3h-3zm9 0h3v3h-3zm3 0h3v3h-3zm6 0h3v3h-3zm9 0h3v3h-3zm-132 3h3v3h-3zm3 0h3v3h-3zm12 0h3v3h-3zm3 0h3v3h-3zm18 0h3v3h-3zm3 0h3v3h-3zm12 0h3v3h-3zm18 0h3v3h-3zm21 0h3v3h-3zm6 0h3v3h-3zm27 0h3v3h-3zm3 0h3v3h-3zm-129 3h3v3h-3zm9 0h3v3h-3zm21 0h3v3h-3zm3 0h3v3h-3zm6 0h3v3h-3zm3 0h3v3h-3zm15 0h3v3h-3zm63 0h3v3h-3zm15 0h3v3h-3z"/><path fill="#f0a000" d="M12 0h3v3h-3zm30 0h3v3h-3zm6 0h3v3h-3zm15 0h3v3h-3zm12 0h3v3h-3zm66 0h3v3h-3zm-132 3h3v3h-3zm6 0h3v3h-3zm12 0h3v3h-3zm21 0h3v3h-3zm75 0h3v3h-3zm3 0h3v3h-3zm9 0h3v3h-3zm-126 3h3v3h-3zm33 0h3v3h-3zm27 0h3v3h-3zm48 0h3v3h-3zm6 0h3v3h-3zm6 0h3v3h-3zm9 0h3v3h-3zm-105 3h3v3h-3zm3 0h3v3h-3zm3 0h3v3h-3zm3 0h3v3h-3zm9 0h3v3h-3zm18 0h3v3h-3zm24 0h3v3h-3zm18 0h3v3h-3zm9 0h3v3h-3zm-117 3h3v3h-3zm36 0h3v3h-3zm6 0h3v3h-3zm9 0h3v3h-3zm15 0h3v3h-3zm39 0h3v3h-3zm9 0h3v3h-3zm15 0h3v3h-3zm9 0h3v3h-3zm-105 3h3v3h-3zm6 0h3v3h-3zm3 0h3v3h-3zm12 0h3v3h-3zm6 0h3v3h-3zm78 0h3v3h-3zm-123 3h3v3h-3zm9 0h3v3h-3zm18 0h3v3h-3zm3 0h3v3h-3zm54 0h3v3h-3zm36 0h3v3h-3zm3 0h3v3h-3zm-129 3h3v3h-3zm18 0h3v3h-3zm15 0h3v3h-3zm9 0h3v3h-3zm3 0h3v3h-3zm6 0h3v3h-3zm6 0h3v3h-3zm-30 3h3v3h-3zm21 0h3v3h-3zm15 0h3v3h-3zm15 0h3v3h-3zm21 0h3v3h-3zm21 0h3v3h-3zm-36 3h3v3h-3zm3 0h3v3h-3zm18 0h3v3h-3zm9 0h3v3h-3zm-123 3h3v3h-3zm9 0h3v3h-3zm6 0h3v3h-3zm12 0h3v3h-3zm24 0h3v3h-3zm18 0h3v3h-3zm3 0h3v3h-3zm12 0h3v3h-3zm3 0h3v3h-3zm33 0h3v3h-3zm-72 3h3v3h-3zm9 0h3v3h-3zm9 0h3v3h-3zm9 0h3v3h-3zm3 0h3v3h-3zm12 0h3v3h-3zm3 0h3v3h-3zm27 0h3v3h-3zm-120 3h3v3h-3zm42 0h3v3h-3zm60 0h3v3h-3zm3 0h3v3h-3zm6 0h3v3h-3zm6 0h3v3h-3zm12 0h3v3h-3zm-120 3h3v3h-3zm30 0h3v3h-3zm24 0h3v3h-3zm3 0h3v3h-3zm30 0h3v3h-3zm18 0h3v3h-3zm-114 3h3v3h-3zm27 0h3v3h-3zm3 0h3v3h-3zm12 0h3v3h-3zm12 0h3v3h-3zm12 0h3v3h-3zm27 0h3v3h-3zm39 0h3v3h-3zm-123 3h3v3h-3zm33 0h3v3h-3zm12 0h3v3h-3zm15 0h3v3h-3zm12 0h3v3h-3zm15 0h3v3h-3zm15 0h3v3h-3zm24 0h3v3h-3zm3 0h3v3h-3zm-135 3h3v3h-3zm9 0h3v3h-3zm27 0h3v3h-3zm15 0h3v3h-3zm15 0h3v3h-3zm3 0h3v3h-3zm27 0h3v3h-3zm9 0h3v3h-3zm3 0h3v3h-3zm27 0h3v3h-3zm-135 3h3v3h-3zm12 0h3v3h-3zm6 0h3v3h-3zm6 0h3v3h-3zm9 0h3v3h-3zm3 0h3v3h-3zm15 0h3v3h-3zm39 0h3v3h-3zm12 0h3v3h-3zm9 0h3v3h-3zm12 0h3v3h-3zm12 0h3v3h-3zm-99 3h3v3h-3zm3 0h3v3h-3zm9 0h3v3h-3zm3 0h3v3h-3zm15 0h3v3h-3zm27 0h3v3h-3zm9 0h3v3h-3zm6 0h3v3h-3zm3 0h3v3h-3zm-78 3h3v3h-3zm9 0h3v3h-3zm9 0h3v3h-3zm27 0h3v3h-3zm12 0h3v3h-3zm6 0h3v3h-3zm24 0h3v3h-3zm6 0h3v3h-3zm-129 3h3v3h-3zm15 0h3v3h-3zm12 0h3v3h-3zm6 0h3v3h-3zm18 0h3v3h-3zm12 0h3v3h-3zm3 0h3v3h-3zm9 0h3v3h-3zm6 0h3v3h-3zm18 0h3v3h-3zm-45 3h3v3h-3zm6 0h3v3h-3zm3 0h3v3h-3zm3 0h3v3h-3zm18 0h3v3h-3zm9 0h3v3h-3zm9 0h3v3h-3zm15 0h3v3h-3zm18 0h3v3h-3zm-138 3h3v3h-3zm3 0h3v3h-3zm18 0h3v3h-3zm18 0h3v3h-3zm27 0h3v3h-3zm12 0h3v3h-3zm9 0h3v3h-3zm3 0h3v3h-3zm12 0h3v3h-3zm15 0h3v3h-3zm18 0h3v3h-3zm-135 3h3v3h-3zm21 0h3v3h-3zm12 0h3v3h-3zm48 0h3v3h-3zm6 0h3v3h-3zm36 0h3v3h-3zm3 0h3v3h-3zm-126 3h3v3h-3zm18 0h3v3h-3zm3 0h3v3h-3zm6 0h3v3h-3zm3 0h3v3h-3zm24 0h3v3h-3zm24 0h3v3h-3zm15 0h3v3h-3zm12 0h3v3h-3zm9 0h3v3h-3zm-93 3h3v3h-3zm6 0h3v3h-3zm9 0h3v3h-3zm18 0h3v3h-3zm66 0h3v3h-3zm18 0h3v3h-3zm3 0h3v3h-3zm-36 3h3v3h-3zm3 0h3v3h-3zm6 0h3v3h-3zm3 0h3v3h-3zm-114 3h3v3h-3zm6 0h3v3h-3zm42 0h3v3h-3zm27 0h3v3h-3zm9 0h3v3h-3zm-87 3h3v3h-3zm9 0h3v3h-3zm3 0h3v3h-3zm15 0h3v3h-3zm6 0h3v3h-3zm6 0h3v3h-3zm9 0h3v3h-3zm3 0h3v3h-3zm18 0h3v3h-3zm12 0h3v3h-3zm9 0h3v3h-3zm18 0h3v3h-3zm6 0h3v3h-3zm3 0h3v3h-3zm12 0h3v3h-3zm9 0h3v3h-3zm-138 3h3v3h-3zm15 0h3v3h-3zm12 0h3v3h-3zm12 0h3v3h-3zm12 0h3v3h-3zm3 0h3v3h-3zm3 0h3v3h-3zm6 0h3v3h-3zm21 0h3v3h-3zm6 0h3v3h-3zm27 0h3v3h-3zm24 0h3v3h-3zm-141 3h3v3h-3zm12 0h3v3h-3zm33 0h3v3h-3zm3 0h3v3h-3zm6 0h3v3h-3zm9 0h3v3h-3zm6 0h3v3h-3zm36 0h3v3h-3zm21 0h3v3h-3zm9 0h3v3h-3zm6 0h3v3h-3zm-123 3h3v3h-3zm12 0h3v3h-3zm15 0h3v3h-3zm3 0h3v3h-3zm57 0h3v3h-3zm30 0h3v3h-3zm-90 3h3v3h-3zm21 0h3v3h-3zm6 0h3v3h-3zm18 0h3v3h-3zm12 0h3v3h-3zm21 0h3v3h-3zm12 0h3v3h-3zm3 0h3v3h-3zm-138 3h3v3h-3zm3 0h3v3h-3zm33 0h3v3h-3zm15 0h3v3h-3zm9 0h3v3h-3zm12 0h3v3h-3zm18 0h3v3h-3zm-84 3h3v3h-3zm9 0h3v3h-3zm12 0h3v3h-3zm57 0h3v3h-3zm3 0h3v3h-3zm6 0h3v3h-3zm18 0h3v3h-3zm6 0h3v3h-3zm21 0h3v3h-3zm-126 3h3v3h-3zm15 0h3v3h-3zm9 0h3v3h-3zm24 0h3v3h-3zm6 0h3v3h-3zm18 0h3v3h-3zm3 0h3v3h-3zm9 0h3v3h-3zm9 0h3v3h-3zm21 0h3v3h-3zm-105 3h3v3h-3zm21 0h3v3h-3zm12 0h3v3h-3zm3 0h3v3h-3zm27 0h3v3h-3zm12 0h3v3h-3zm12 0h3v3h-3zm3 0h3v3h-3zm27 0h3v3h-3zm-138 3h3v3h-3zm24 0h3v3h-3zm18 0h3v3h-3zm27 0h3v3h-3zm9 0h3v3h-3zm6 0h3v3h-3zm33 0h3v3h-3zm6 0h3v3h-3zm-120 3h3v3h-3zm21 0h3v3h-3zm21 0h3v3h-3zm12 0h3v3h-3zm3 0h3v3h-3zm9 0h3v3h-3zm-69 3h3v3h-3zm3 0h3v3h-3zm9 0h3v3h-3zm6 0h3v3h-3zm21 0h3v3h-3zm3 0h3v3h-3zm63 0h3v3h-3zm3 0h3v3h-3zm-108 3h3v3h-3zm30 0h3v3h-3zm3 0h3v3h-3zm48 0h3v3h-3zm9 0h3v3h-3zm12 0h3v3h-3zm6 0h3v3h-3zm-102 3h3v3h-3zm6 0h3v3h-3zm21 0h3v3h-3zm9 0h3v3h-3zm6 0h3v3h-3zm21 0h3v3h-3zm3 0h3v3h-3zm12 0h3v3h-3zm21 0h3v3h-3zm15 0h3v3h-3zm3 0h3v3h-3zm-117 3h3v3h-3zm15 0h3v3h-3zm3 0h3v3h-3zm9 0h3v3h-3zm21 0h3v3h-3zm24 0h3v3h-3zm15 0h3v3h-3zm9 0h3v3h-3zm12 0h3v3h-3zm-87 3h3v3h-3zm30 0h3v3h-3zm21 0h3v3h-3zm-51 3h3v3h-3zm12 0h3v3h-3zm9 0h3v3h-3zm6 0h3v3h-3zm6 0h3v3h-3zm18 0h3v3h-3zm9 0h3v3h-3zm12 0h3v3h-3zm24 0h3v3h-3zm-102 3h3v3h-3zm3 0h3v3h-3zm18 0h3v3h-3zm12 0h3v3h-3zm54 0h3v3h-3zm9 0h3v3h-3zm-87 3h3v3h-3zm24 0h3v3h-3zm57 0h3v3h-3zm6 0h3v3h-3zm-96 3h3v3h-3zm42 0h3v3h-3zm45 0h3v3h-3zm9 0h3v3h-3zm9 0h3v3h-3zm3 0h3v3h-3zm12 0h3v3h-3z"/></pattern>
<pattern id="pt_teal" width="144" height="144" patternUnits="userSpaceOnUse" patternTransform="rotate(-26.7)"><rect width="144" height="144" fill="#00b8e0"/><path fill="#0090f0" d="M15 0h3v3h-3zm3 0h3v3h-3zm6 0h3v3h-3zm15 0h3v3h-3zm6 0h3v3h-3zm30 0h3v3h-3zm27 0h3v3h-3zm-99 3h3v3h-3zm9 0h3v3h-3zm18 0h3v3h-3zm15 0h3v3h-3zm6 0h3v3h-3zm3 0h3v3h-3zm9 0h3v3h-3zm6 0h3v3h-3zm18 0h3v3h-3zm21 0h3v3h-3zm3 0h3v3h-3zm-111 3h3v3h-3zm9 0h3v3h-3zm3 0h3v3h-3zm45 0h3v3h-3zm15 0h3v3h-3zm21 0h3v3h-3zm24 0h3v3h-3zm3 0h3v3h-3zm6 0h3v3h-3zm-123 3h3v3h-3zm21 0h3v3h-3zm36 0h3v3h-3zm9 0h3v3h-3zm27 0h3v3h-3zm15 0h3v3h-3zm12 0h3v3h-3zm-123 3h3v3h-3zm6 0h3v3h-3zm6 0h3v3h-3zm24 0h3v3h-3zm24 0h3v3h-3zm3 0h3v3h-3zm3 0h3v3h-3zm30 0h3v3h-3zm-69 3h3v3h-3zm3 0h3v3h-3zm9 0h3v3h-3zm3 0h3v3h-3zm3 0h3v3h-3zm54 0h3v3h-3zm21 0h3v3h-3zm-105 3h3v3h-3zm6 0h3v3h-3zm6 0h3v3h-3zm9 0h3v3h-3zm9 0h3v3h-3zm15 0h3v3h-3zm15 0h3v3h-3zm18 0h3v3h-3zm-69 3h3v3h-3zm6 0h3v3h-3zm6 0h3v3h-3zm9 0h3v3h-3zm21 0h3v3h-3zm6 0h3v3h-3zm6 0h3v3h-3zm21 0h3v3h-3zm3 0h3v3h-3zm-48 3h3v3h-3zm87 0h3v3h-3zm-135 3h3v3h-3zm12 0h3v3h-3zm9 0h3v3h-3zm30 0h3v3h-3zm9 0h3v3h-3zm66 0h3v3h-3zm-132 3h3v3h-3zm45 0h3v3h-3zm9 0h3v3h-3zm3 0h3v3h-3zm6 0h3v3h-3zm15 0h3v3h-3zm36 0h3v3h-3zm24 0h3v3h-3zm-138 3h3v3h-3zm9 0h3v3h-3zm3 0h3v3h-3zm15 0h3v3h-3zm9 0h3v3h-3zm21 0h3v3h-3zm6 0h3v3h-3zm6 0h3v3h-3zm3 0h3v3h-3zm33 0h3v3h-3zm6 0h3v3h-3zm6 0h3v3h-3zm-117 3h3v3h-3zm15 0h3v3h-3zm18 0h3v3h-3zm15 0h3v3h-3zm9 0h3v3h-3zm18 0h3v3h-3zm21 0h3v3h-3zm21 0h3v3h-3zm21 0h3v3h-3zm3 0h3v3h-3zm-129 3h3v3h-3zm3 0h3v3h-3zm63 0h3v3h-3zm3 0h3v3h-3zm18 0h3v3h-3zm9 0h3v3h-3zm3 0h3v3h-3zm3 0h3v3h-3zm6 0h3v3h-3zm9 0h3v3h-3zm12 0h3v3h-3zm-93 3h3v3h-3zm27 0h3v3h-3zm3 0h3v3h-3zm12 0h3v3h-3zm6 0h3v3h-3zm15 0h3v3h-3zm15 0h3v3h-3zm12 0h3v3h-3zm3 0h3v3h-3zm-138 3h3v3h-3zm3 0h3v3h-3zm15 0h3v3h-3zm42 0h3v3h-3zm3 0h3v3h-3zm3 0h3v3h-3zm24 0h3v3h-3zm18 0h3v3h-3zm6 0h3v3h-3zm18 0h3v3h-3zm6 0h3v3h-3zm-138 3h3v3h-3zm48 0h3v3h-3zm12 0h3v3h-3zm12 0h3v3h-3zm36 0h3v3h-3zm-105 3h3v3h-3zm9 0h3v3h-3zm12 0h3v3h-3zm9 0h3v3h-3zm45 0h3v3h-3zm12 0h3v3h-3zm3 0h3v3h-3zm24 0h3v3h-3zm3 0h3v3h-3zm3 0h3v3h-3zm3 0h3v3h-3zm3 0h3v3h-3zm3 0h3v3h-3zm-126 3h3v3h-3zm9 0h3v3h-3zm15 0h3v3h-3zm9 0h3v3h-3zm12 0h3v3h-3zm18 0h3v3h-3zm12 0h3v3h-3zm3 0h3v3h-3zm36 0h3v3h-3zm-114 3h3v3h-3zm3 0h3v3h-3zm36 0h3v3h-3zm9 0h3v3h-3zm6 0h3v3h-3zm21 0h3v3h-3zm24 0h3v3h-3zm30 0h3v3h-3zm3 0h3v3h-3zm-132 3h3v3h-3zm9 0h3v3h-3zm3 0h3v3h-3zm51 0h3v3h-3zm6 0h3v3h-3zm3 0h3v3h-3zm21 0h3v3h-3zm3 0h3v3h-3zm-93 3h3v3h-3zm6 0h3v3h-3zm42 0h3v3h-3zm30 0h3v3h-3zm6 0h3v3h-3zm12 0h3v3h-3zm-96 3h3v3h-3zm24 0h3v3h-3zm30 0h3v3h-3zm6 0h3v3h-3zm9 0h3v3h-3zm9 0h3v3h-3zm3 0h3v3h-3zm3 0h3v3h-3zm-75 3h3v3h-3zm3 0h3v3h-3zm6 0h3v3h-3zm6 0h3v3h-3zm27 0h3v3h-3zm3 0h3v3h-3zm3 0h3v3h-3zm3 0h3v3h-3zm6 0h3v3h-3zm3 0h3v3h-3zm3 0h3v3h-3zm51 0h3v3h-3zm-135 3h3v3h-3zm15 0h3v3h-3zm9 0h3v3h-3zm6 0h3v3h-3zm33 0h3v3h-3zm3 0h3v3h-3zm6 0h3v3h-3zm6 0h3v3h-3zm51 0h3v3h-3zm-126 3h3v3h-3zm3 0h3v3h-3zm6 0h3v3h-3zm12 0h3v3h-3zm3 0h3v3h-3zm3 0h3v3h-3zm3 0h3v3h-3zm63 0h3v3h-3zm21 0h3v3h-3zm24 0h3v3h-3zm-141 3h3v3h-3zm18 0h3v3h-3zm9 0h3v3h-3zm3 0h3v3h-3zm3 0h3v3h-3zm3 0h3v3h-3zm33 0h3v3h-3zm3 0h3v3h-3zm24 0h3v3h-3zm3 0h3v3h-3zm15 0h3v3h-3zm3 0h3v3h-3zm9 0h3v3h-3zm-126 3h3v3h-3zm84 0h3v3h-3zm12 0h3v3h-3zm18 0h3v3h-3zm6 0h3v3h-3zm18 0h3v3h-3zm-135 3h3v3h-3zm30 0h3v3h-3zm39 0h3v3h-3zm9 0h3v3h-3zm15 0h3v3h-3zm27 0h3v3h-3zm15 0h3v3h-3zm3 0h3v3h-3zm-138 3h3v3h-3zm6 0h3v3h-3zm9 0h3v3h-3zm12 0h3v3h-3zm3 0h3v3h-3zm3 0h3v3h-3zm9 0h3v3h-3zm15 0h3v3h-3zm9 0h3v3h-3zm-69 3h3v3h-3zm63 0h3v3h-3zm9 0h3v3h-3zm21 0h3v3h-3zm3 0h3v3h-3zm3 0h3v3h-3zm33 0h3v3h-3zm-129 3h3v3h-3zm36 0h3v3h-3zm15 0h3v3h-3zm36 0h3v3h-3zm36 0h3v3h-3zm3 0h3v3h-3zm-129 3h3v3h-3zm36 0h3v3h-3zm15 0h3v3h-3zm36 0h3v3h-3zm6 0h3v3h-3zm33 0h3v3h-3zm6 0h3v3h-3zm-114 3h3v3h-3zm15 0h3v3h-3zm9 0h3v3h-3zm27 0h3v3h-3zm33 0h3v3h-3zm12 0h3v3h-3zm12 0h3v3h-3zm12 0h3v3h-3zm3 0h3v3h-3zm-138 3h3v3h-3zm18 0h3v3h-3zm93 0h3v3h-3zm21 0h3v3h-3zm-126 3h3v3h-3zm3 0h3v3h-3zm9 0h3v3h-3zm9 0h3v3h-3zm63 0h3v3h-3zm6 0h3v3h-3zm12 0h3v3h-3zm9 0h3v3h-3zm-78 3h3v3h-3zm54 0h3v3h-3zm6 0h3v3h-3zm12 0h3v3h-3zm18 0h3v3h-3zm9 0h3v3h-3zm-117 3h3v3h-3zm3 0h3v3h-3zm6 0h3v3h-3zm30 0h3v3h-3zm9 0h3v3h-3zm3 0h3v3h-3zm9 0h3v3h-3zm6 0h3v3h-3zm3 0h3v3h-3zm15 0h3v3h-3zm6 0h3v3h-3zm9 0h3v3h-3zm9 0h3v3h-3zm-102 3h3v3h-3zm36 0h3v3h-3zm15 0h3v3h-3zm24 0h3v3h-3zm30 0h3v3h-3zm3 0h3v3h-3zm-117 3h3v3h-3zm9 0h3v3h-3zm3 0h3v3h-3zm33 0h3v3h-3zm30 0h3v3h-3zm12 0h3v3h-3zm15 0h3v3h-3zm-51 3h3v3h-3zm9 0h3v3h-3zm9 0h3v3h-3zm39 0h3v3h-3zm-114 3h3v3h-3zm3 0h3v3h-3zm6 0h3v3h-3zm51 0h3v3h-3zm3 0h3v3h-3zm6 0h3v3h-3zm18 0h3v3h-3zm12 0h3v3h-3zm3 0h3v3h-3zm-48 3h3v3h-3zm42 0h3v3h-3zm-99 3h3v3h-3zm3 0h3v3h-3zm72 0h3v3h-3zm18 0h3v3h-3zm6 0h3v3h-3zm27 0h3v3h-3zm-123 3h3v3h-3zm9 0h3v3h-3zm15 0h3v3h-3zm9 0h3v3h-3zm51 0h3v3h-3zm-84 3h3v3h-3zm9 0h3v3h-3zm6 0h3v3h-3zm15 0h3v3h-3zm51 0h3v3h-3zm3 0h3v3h-3zm15 0h3v3h-3zm24 0h3v3h-3zm-123 3h3v3h-3zm6 0h3v3h-3zm3 0h3v3h-3zm21 0h3v3h-3zm33 0h3v3h-3zm12 0h3v3h-3zm12 0h3v3h-3zm3 0h3v3h-3zm12 0h3v3h-3zm18 0h3v3h-3zm-129 3h3v3h-3zm15 0h3v3h-3zm24 0h3v3h-3zm27 0h3v3h-3zm39 0h3v3h-3zm15 0h3v3h-3zm6 0h3v3h-3z"/><path fill="#00f000" d="M66 0h3v3h-3zm30 0h3v3h-3zm39 0h3v3h-3zm3 0h3v3h-3zm3 0h3v3h-3zm-105 3h3v3h-3zm36 0h3v3h-3zm9 0h3v3h-3zm18 0h3v3h-3zm36 0h3v3h-3zm3 0h3v3h-3zm-90 3h3v3h-3zm3 0h3v3h-3zm87 0h3v3h-3zm-117 3h3v3h-3zm12 0h3v3h-3zm9 0h3v3h-3zm3 0h3v3h-3zm39 0h3v3h-3zm3 0h3v3h-3zm18 0h3v3h-3zm21 0h3v3h-3zm12 0h3v3h-3zm-135 3h3v3h-3zm45 0h3v3h-3zm24 0h3v3h-3zm3 0h3v3h-3zm6 0h3v3h-3zm6 0h3v3h-3zm12 0h3v3h-3zm9 0h3v3h-3zm27 0h3v3h-3zm3 0h3v3h-3zm3 0h3v3h-3zm-141 3h3v3h-3zm51 0h3v3h-3zm24 0h3v3h-3zm6 0h3v3h-3zm3 0h3v3h-3zm3 0h3v3h-3zm18 0h3v3h-3zm27 0h3v3h-3zm6 0h3v3h-3zm-138 3h3v3h-3zm9 0h3v3h-3zm3 0h3v3h-3zm39 0h3v3h-3zm6 0h3v3h-3zm15 0h3v3h-3zm9 0h3v3h-3zm6 0h3v3h-3zm15 0h3v3h-3zm6 0h3v3h-3zm3 0h3v3h-3zm18 0h3v3h-3zm9 0h3v3h-3zm-99 3h3v3h-3zm30 0h3v3h-3zm39 0h3v3h-3zm6 0h3v3h-3zm9 0h3v3h-3zm9 0h3v3h-3zm-129 3h3v3h-3zm3 0h3v3h-3zm12 0h3v3h-3zm45 0h3v3h-3zm6 0h3v3h-3zm3 0h3v3h-3zm3 0h3v3h-3zm3 0h3v3h-3zm27 0h3v3h-3zm9 0h3v3h-3zm3 0h3v3h-3zm3 0h3v3h-3zm3 0h3v3h-3zm6 0h3v3h-3zm9 0h3v3h-3zm-66 3h3v3h-3zm12 0h3v3h-3zm36 0h3v3h-3zm3 0h3v3h-3zm3 0h3v3h-3zm3 0h3v3h-3zm-87 3h3v3h-3zm27 0h3v3h-3zm51 0h3v3h-3zm3 0h3v3h-3zm3 0h3v3h-3zm3 0h3v3h-3zm3 0h3v3h-3zm-117 3h3v3h-3zm36 0h3v3h-3zm75 0h3v3h-3zm15 0h3v3h-3zm-138 3h3v3h-3zm9 0h3v3h-3zm57 0h3v3h-3zm51 0h3v3h-3zm3 0h3v3h-3zm9 0h3v3h-3zm-132 3h3v3h-3zm21 0h3v3h-3zm54 0h3v3h-3zm48 0h3v3h-3zm9 0h3v3h-3zm3 0h3v3h-3zm-117 3h3v3h-3zm39 0h3v3h-3zm42 0h3v3h-3zm33 0h3v3h-3zm-99 3h3v3h-3zm9 0h3v3h-3zm3 0h3v3h-3zm3 0h3v3h-3zm-3 3h3v3h-3zm12 0h3v3h-3zm12 0h3v3h-3zm36 0h3v3h-3zm12 0h3v3h-3zm-99 3h3v3h-3zm6 0h3v3h-3zm6 0h3v3h-3zm36 0h3v3h-3zm39 0h3v3h-3zm9 0h3v3h-3zm3 0h3v3h-3zm-111 3h3v3h-3zm18 0h3v3h-3zm6 0h3v3h-3zm9 0h3v3h-3zm24 0h3v3h-3zm6 0h3v3h-3zm42 0h3v3h-3zm3 0h3v3h-3zm-111 3h3v3h-3zm24 0h3v3h-3zm3 0h3v3h-3zm3 0h3v3h-3zm3 0h3v3h-3zm18 0h3v3h-3zm-24 3h3v3h-3zm12 0h3v3h-3zm3 0h3v3h-3zm15 0h3v3h-3zm15 0h3v3h-3zm51 0h3v3h-3zm-90 3h3v3h-3zm18 0h3v3h-3zm66 0h3v3h-3zm3 0h3v3h-3zm3 0h3v3h-3zm-84 3h3v3h-3zm3 0h3v3h-3zm3 0h3v3h-3zm6 0h3v3h-3zm48 0h3v3h-3zm24 0h3v3h-3zm9 0h3v3h-3zm-96 3h3v3h-3zm3 0h3v3h-3zm3 0h3v3h-3zm3 0h3v3h-3zm6 0h3v3h-3zm45 0h3v3h-3zm-90 3h3v3h-3zm12 0h3v3h-3zm15 0h3v3h-3zm6 0h3v3h-3zm3 0h3v3h-3zm6 0h3v3h-3zm39 0h3v3h-3zm36 0h3v3h-3zm12 0h3v3h-3zm3 0h3v3h-3zm-105 3h3v3h-3zm3 0h3v3h-3zm3 0h3v3h-3zm3 0h3v3h-3zm3 0h3v3h-3zm3 0h3v3h-3zm9 0h3v3h-3zm33 0h3v3h-3zm6 0h3v3h-3zm3 0h3v3h-3zm6 0h3v3h-3zm-69 3h3v3h-3zm9 0h3v3h-3zm3 0h3v3h-3zm6 0h3v3h-3zm24 0h3v3h-3zm21 0h3v3h-3zm6 0h3v3h-3zm33 0h3v3h-3zm-99 3h3v3h-3zm3 0h3v3h-3zm3 0h3v3h-3zm6 0h3v3h-3zm33 0h3v3h-3zm18 0h3v3h-3zm6 0h3v3h-3zm15 0h3v3h-3zm-120 3h3v3h-3zm36 0h3v3h-3zm6 0h3v3h-3zm21 0h3v3h-3zm6 0h3v3h-3zm3 0h3v3h-3zm6 0h3v3h-3zm33 0h3v3h-3zm12 0h3v3h-3zm-102 3h3v3h-3zm15 0h3v3h-3zm6 0h3v3h-3zm15 0h3v3h-3zm12 0h3v3h-3zm3 0h3v3h-3zm3 0h3v3h-3zm18 0h3v3h-3zm15 0h3v3h-3zm24 0h3v3h-3zm-99 3h3v3h-3zm9 0h3v3h-3zm9 0h3v3h-3zm27 0h3v3h-3zm21 0h3v3h-3zm9 0h3v3h-3zm-96 3h3v3h-3zm45 0h3v3h-3zm3 0h3v3h-3zm3 0h3v3h-3zm3 0h3v3h-3zm6 0h3v3h-3zm15 0h3v3h-3zm9 0h3v3h-3zm6 0h3v3h-3zm3 0h3v3h-3zm3 0h3v3h-3zm18 0h3v3h-3zm-108 3h3v3h-3zm36 0h3v3h-3zm6 0h3v3h-3zm3 0h3v3h-3zm3 0h3v3h-3zm3 0h3v3h-3zm15 0h3v3h-3zm15 0h3v3h-3zm6 0h3v3h-3zm-87 3h3v3h-3zm6 0h3v3h-3zm21 0h3v3h-3zm3 0h3v3h-3zm3 0h3v3h-3zm3 0h3v3h-3zm3 0h3v3h-3zm3 0h3v3h-3zm6 0h3v3h-3zm3 0h3v3h-3zm3 0h3v3h-3zm6 0h3v3h-3zm6 0h3v3h-3zm9 0h3v3h-3zm33 0h3v3h-3zm-123 3h3v3h-3zm18 0h3v3h-3zm3 0h3v3h-3zm18 0h3v3h-3zm3 0h3v3h-3zm6 0h3v3h-3zm9 0h3v3h-3zm3 0h3v3h-3zm3 0h3v3h-3zm3 0h3v3h-3zm12 0h3v3h-3zm-72 3h3v3h-3zm9 0h3v3h-3zm9 0h3v3h-3zm12 0h3v3h-3zm3 0h3v3h-3zm15 0h3v3h-3zm6 0h3v3h-3zm18 0h3v3h-3zm51 0h3v3h-3zm-126 3h3v3h-3zm12 0h3v3h-3zm30 0h3v3h-3zm15 0h3v3h-3zm6 0h3v3h-3zm12 0h3v3h-3zm3 0h3v3h-3zm-42 3h3v3h-3zm6 0h3v3h-3zm24 0h3v3h-3zm57 0h3v3h-3zm-126 3h3v3h-3zm9 0h3v3h-3zm9 0h3v3h-3zm18 0h3v3h-3zm9 0h3v3h-3zm18 0h3v3h-3zm6 0h3v3h-3zm18 0h3v3h-3zm3 0h3v3h-3zm42 0h3v3h-3zm-138 3h3v3h-3zm12 0h3v3h-3zm3 0h3v3h-3zm27 0h3v3h-3zm6 0h3v3h-3zm9 0h3v3h-3zm3 0h3v3h-3zm18 0h3v3h-3zm18 0h3v3h-3zm12 0h3v3h-3zm-99 3h3v3h-3zm24 0h3v3h-3zm15 0h3v3h-3zm3 0h3v3h-3zm3 0h3v3h-3zm3 0h3v3h-3zm78 0h3v3h-3zm-138 3h3v3h-3zm3 0h3v3h-3zm3 0h3v3h-3zm21 0h3v3h-3zm21 0h3v3h-3zm3 0h3v3h-3zm6 0h3v3h-3zm3 0h3v3h-3zm12 0h3v3h-3zm18 0h3v3h-3zm42 0h3v3h-3zm3 0h3v3h-3zm-135 3h3v3h-3zm3 0h3v3h-3zm3 0h3v3h-3zm42 0h3v3h-3zm6 0h3v3h-3zm6 0h3v3h-3zm3 0h3v3h-3zm3 0h3v3h-3zm18 0h3v3h-3zm18 0h3v3h-3zm30 0h3v3h-3zm6 0h3v3h-3zm-132 3h3v3h-3zm33 0h3v3h-3zm15 0h3v3h-3zm6 0h3v3h-3zm21 0h3v3h-3zm21 0h3v3h-3zm27 0h3v3h-3zm3 0h3v3h-3zm9 0h3v3h-3zm-141 3h3v3h-3zm42 0h3v3h-3zm9 0h3v3h-3zm3 0h3v3h-3zm3 0h3v3h-3zm12 0h3v3h-3zm3 0h3v3h-3zm6 0h3v3h-3zm9 0h3v3h-3zm42 0h3v3h-3zm3 0h3v3h-3zm-126 3h3v3h-3zm27 0h3v3h-3zm15 0h3v3h-3zm9 0h3v3h-3zm6 0h3v3h-3zm3 0h3v3h-3zm3 0h3v3h-3zm3 0h3v3h-3zm6 0h3v3h-3zm42 0h3v3h-3zm-60 3h3v3h-3zm12 0h3v3h-3zm60 0h3v3h-3zm-96 3h3v3h-3zm33 0h3v3h-3zm6 0h3v3h-3zm3 0h3v3h-3zm51 0h3v3h-3zm9 0h3v3h-3zm3 0h3v3h-3z"/><path fill="#00e070" d="M3 0h3v3h-3zm27 0h3v3h-3zm3 0h3v3h-3zm3 0h3v3h-3zm24 0h3v3h-3zm12 0h3v3h-3zm15 0h3v3h-3zm30 0h3v3h-3zm15 0h3v3h-3zm-117 3h3v3h-3zm27 0h3v3h-3zm24 0h3v3h-3zm12 0h3v3h-3zm6 0h3v3h-3zm18 0h3v3h-3zm30 0h3v3h-3zm-117 3h3v3h-3zm3 0h3v3h-3zm21 0h3v3h-3zm21 0h3v3h-3zm42 0h3v3h-3zm12 0h3v3h-3zm15 0h3v3h-3zm3 0h3v3h-3zm9 0h3v3h-3zm-126 3h3v3h-3zm21 0h3v3h-3zm15 0h3v3h-3zm48 0h3v3h-3zm9 0h3v3h-3zm24 0h3v3h-3zm-105 3h3v3h-3zm6 0h3v3h-3zm9 0h3v3h-3zm3 0h3v3h-3zm24 0h3v3h-3zm9 0h3v3h-3zm6 0h3v3h-3zm27 0h3v3h-3zm12 0h3v3h-3zm6 0h3v3h-3zm-60 3h3v3h-3zm9 0h3v3h-3zm15 0h3v3h-3zm15 0h3v3h-3zm3 0h3v3h-3zm3 0h3v3h-3zm3 0h3v3h-3zm6 0h3v3h-3zm18 0h3v3h-3zm-99 3h3v3h-3zm24 0h3v3h-3zm24 0h3v3h-3zm30 0h3v3h-3zm3 0h3v3h-3zm18 0h3v3h-3zm-141 3h3v3h-3zm3 0h3v3h-3zm9 0h3v3h-3zm30 0h3v3h-3zm12 0h3v3h-3zm9 0h3v3h-3zm12 0h3v3h-3zm6 0h3v3h-3zm6 0h3v3h-3zm24 0h3v3h-3zm9 0h3v3h-3zm6 0h3v3h-3zm3 0h3v3h-3zm-129 3h3v3h-3zm9 0h3v3h-3zm12 0h3v3h-3zm27 0h3v3h-3zm51 0h3v3h-3zm9 0h3v3h-3zm-105 3h3v3h-3zm6 0h3v3h-3zm27 0h3v3h-3zm6 0h3v3h-3zm6 0h3v3h-3zm51 0h3v3h-3zm6 0h3v3h-3zm9 0h3v3h-3zm21 0h3v3h-3zm-132 3h3v3h-3zm3 0h3v3h-3zm81 0h3v3h-3zm6 0h3v3h-3zm-60 3h3v3h-3zm21 0h3v3h-3zm75 0h3v3h-3zm9 0h3v3h-3zm-102 3h3v3h-3zm54 0h3v3h-3zm36 0h3v3h-3zm9 0h3v3h-3zm-129 3h3v3h-3zm21 0h3v3h-3zm39 0h3v3h-3zm6 0h3v3h-3zm66 0h3v3h-3zm-126 3h3v3h-3zm21 0h3v3h-3zm9 0h3v3h-3zm9 0h3v3h-3zm30 0h3v3h-3zm33 0h3v3h-3zm3 0h3v3h-3zm6 0h3v3h-3zm6 0h3v3h-3zm6 0h3v3h-3zm-120 3h3v3h-3zm3 0h3v3h-3zm36 0h3v3h-3zm6 0h3v3h-3zm12 0h3v3h-3zm27 0h3v3h-3zm-93 3h3v3h-3zm6 0h3v3h-3zm3 0h3v3h-3zm6 0h3v3h-3zm9 0h3v3h-3zm9 0h3v3h-3zm3 0h3v3h-3zm6 0h3v3h-3zm48 0h3v3h-3zm6 0h3v3h-3zm39 0h3v3h-3zm-87 3h3v3h-3zm6 0h3v3h-3zm9 0h3v3h-3zm30 0h3v3h-3zm3 0h3v3h-3zm-81 3h3v3h-3zm78 0h3v3h-3zm9 0h3v3h-3zm9 0h3v3h-3zm3 0h3v3h-3zm-120 3h3v3h-3zm24 0h3v3h-3zm15 0h3v3h-3zm3 0h3v3h-3zm9 0h3v3h-3zm30 0h3v3h-3zm15 0h3v3h-3zm3 0h3v3h-3zm3 0h3v3h-3zm12 0h3v3h-3zm6 0h3v3h-3zm6 0h3v3h-3zm-123 3h3v3h-3zm48 0h3v3h-3zm3 0h3v3h-3zm9 0h3v3h-3zm24 0h3v3h-3zm9 0h3v3h-3zm18 0h3v3h-3zm-75 3h3v3h-3zm3 0h3v3h-3zm3 0h3v3h-3zm12 0h3v3h-3zm9 0h3v3h-3zm36 0h3v3h-3zm9 0h3v3h-3zm3 0h3v3h-3zm18 0h3v3h-3zm-105 3h3v3h-3zm12 0h3v3h-3zm12 0h3v3h-3zm9 0h3v3h-3zm9 0h3v3h-3zm39 0h3v3h-3zm3 0h3v3h-3zm3 0h3v3h-3zm6 0h3v3h-3zm3 0h3v3h-3zm-72 3h3v3h-3zm6 0h3v3h-3zm39 0h3v3h-3zm6 0h3v3h-3zm3 0h3v3h-3zm6 0h3v3h-3zm3 0h3v3h-3zm12 0h3v3h-3zm6 0h3v3h-3zm-120 3h3v3h-3zm27 0h3v3h-3zm18 0h3v3h-3zm39 0h3v3h-3zm9 0h3v3h-3zm6 0h3v3h-3zm6 0h3v3h-3zm6 0h3v3h-3zm-48 3h3v3h-3zm30 0h3v3h-3zm21 0h3v3h-3zm6 0h3v3h-3zm6 0h3v3h-3zm-135 3h3v3h-3zm39 0h3v3h-3zm3 0h3v3h-3zm33 0h3v3h-3zm12 0h3v3h-3zm33 0h3v3h-3zm-96 3h3v3h-3zm30 0h3v3h-3zm45 0h3v3h-3zm6 0h3v3h-3zm27 0h3v3h-3zm6 0h3v3h-3zm-117 3h3v3h-3zm0 3h3v3h-3zm15 0h3v3h-3zm12 0h3v3h-3zm6 0h3v3h-3zm15 0h3v3h-3zm15 0h3v3h-3zm3 0h3v3h-3zm30 0h3v3h-3zm21 0h3v3h-3zm-117 3h3v3h-3zm3 0h3v3h-3zm3 0h3v3h-3zm12 0h3v3h-3zm9 0h3v3h-3zm9 0h3v3h-3zm15 0h3v3h-3zm36 0h3v3h-3zm6 0h3v3h-3zm3 0h3v3h-3zm18 0h3v3h-3zm-123 3h3v3h-3zm6 0h3v3h-3zm9 0h3v3h-3zm3 0h3v3h-3zm12 0h3v3h-3zm15 0h3v3h-3zm15 0h3v3h-3zm6 0h3v3h-3zm15 0h3v3h-3zm9 0h3v3h-3zm12 0h3v3h-3zm6 0h3v3h-3zm18 0h3v3h-3zm-126 3h3v3h-3zm6 0h3v3h-3zm21 0h3v3h-3zm3 0h3v3h-3zm9 0h3v3h-3zm3 0h3v3h-3zm42 0h3v3h-3zm3 0h3v3h-3zm12 0h3v3h-3zm3 0h3v3h-3zm-105 3h3v3h-3zm36 0h3v3h-3zm33 0h3v3h-3zm15 0h3v3h-3zm-78 3h3v3h-3zm6 0h3v3h-3zm15 0h3v3h-3zm21 0h3v3h-3zm18 0h3v3h-3zm15 0h3v3h-3zm6 0h3v3h-3zm12 0h3v3h-3zm12 0h3v3h-3zm9 0h3v3h-3zm-132 3h3v3h-3zm27 0h3v3h-3zm9 0h3v3h-3zm15 0h3v3h-3zm3 0h3v3h-3zm21 0h3v3h-3zm6 0h3v3h-3zm27 0h3v3h-3zm9 0h3v3h-3zm-99 3h3v3h-3zm12 0h3v3h-3zm3 0h3v3h-3zm6 0h3v3h-3zm6 0h3v3h-3zm12 0h3v3h-3zm6 0h3v3h-3zm3 0h3v3h-3zm6 0h3v3h-3zm12 0h3v3h-3zm54 0h3v3h-3zm-129 3h3v3h-3zm3 0h3v3h-3zm3 0h3v3h-3zm3 0h3v3h-3zm3 0h3v3h-3zm24 0h3v3h-3zm6 0h3v3h-3zm6 0h3v3h-3zm12 0h3v3h-3zm48 0h3v3h-3zm-105 3h3v3h-3zm3 0h3v3h-3zm27 0h3v3h-3zm6 0h3v3h-3zm3 0h3v3h-3zm6 0h3v3h-3zm3 0h3v3h-3zm9 0h3v3h-3zm6 0h3v3h-3zm42 0h3v3h-3zm-105 3h3v3h-3zm12 0h3v3h-3zm12 0h3v3h-3zm3 0h3v3h-3zm15 0h3v3h-3zm24 0h3v3h-3zm51 0h3v3h-3zm12 0h3v3h-3zm-138 3h3v3h-3zm24 0h3v3h-3zm12 0h3v3h-3zm3 0h3v3h-3zm6 0h3v3h-3zm15 0h3v3h-3zm3 0h3v3h-3zm21 0h3v3h-3zm12 0h3v3h-3zm15 0h3v3h-3zm-78 3h3v3h-3zm6 0h3v3h-3zm12 0h3v3h-3zm9 0h3v3h-3zm3 0h3v3h-3zm3 0h3v3h-3zm27 0h3v3h-3zm9 0h3v3h-3zm-96 3h3v3h-3zm18 0h3v3h-3zm24 0h3v3h-3zm30 0h3v3h-3zm12 0h3v3h-3zm15 0h3v3h-3zm9 0h3v3h-3zm3 0h3v3h-3zm6 0h3v3h-3zm15 0h3v3h-3zm-132 3h3v3h-3zm21 0h3v3h-3zm21 0h3v3h-3zm12 0h3v3h-3zm3 0h3v3h-3zm3 0h3v3h-3zm21 0h3v3h-3zm3 0h3v3h-3zm6 0h3v3h-3zm36 0h3v3h-3zm-132 3h3v3h-3zm3 0h3v3h-3zm54 0h3v3h-3zm3 0h3v3h-3zm18 0h3v3h-3zm9 0h3v3h-3zm24 0h3v3h-3zm12 0h3v3h-3zm9 0h3v3h-3zm-132 3h3v3h-3zm36 0h3v3h-3zm15 0h3v3h-3zm36 0h3v3h-3zm3 0h3v3h-3zm18 0h3v3h-3zm6 0h3v3h-3zm15 0h3v3h-3zm3 0h3v3h-3zm-102 3h3v3h-3zm30 0h3v3h-3zm3 0h3v3h-3zm15 0h3v3h-3zm-48 3h3v3h-3zm6 0h3v3h-3zm9 0h3v3h-3zm15 0h3v3h-3zm3 0h3v3h-3zm15 0h3v3h-3zm6 0h3v3h-3zm48 0h3v3h-3z"/><path fill="#2060f0" d="M9 0h3v3h-3zm12 0h3v3h-3zm21 0h3v3h-3zm6 0h3v3h-3zm3 0h3v3h-3zm3 0h3v3h-3zm30 0h3v3h-3zm9 0h3v3h-3zm6 0h3v3h-3zm12 0h3v3h-3zm3 0h3v3h-3zm6 0h3v3h-3zm-114 3h3v3h-3zm12 0h3v3h-3zm39 0h3v3h-3zm39 0h3v3h-3zm9 0h3v3h-3zm12 0h3v3h-3zm3 0h3v3h-3zm6 0h3v3h-3zm3 0h3v3h-3zm-126 3h3v3h-3zm3 0h3v3h-3zm21 0h3v3h-3zm6 0h3v3h-3zm75 0h3v3h-3zm3 0h3v3h-3zm12 0h3v3h-3zm-117 3h3v3h-3zm3 0h3v3h-3zm3 0h3v3h-3zm15 0h3v3h-3zm3 0h3v3h-3zm33 0h3v3h-3zm57 0h3v3h-3zm-102 3h3v3h-3zm12 0h3v3h-3zm9 0h3v3h-3zm87 0h3v3h-3zm-117 3h3v3h-3zm9 0h3v3h-3zm15 0h3v3h-3zm21 0h3v3h-3zm6 0h3v3h-3zm30 0h3v3h-3zm36 0h3v3h-3zm-96 3h3v3h-3zm33 0h3v3h-3zm33 0h3v3h-3zm-81 3h3v3h-3zm75 0h3v3h-3zm3 0h3v3h-3zm-69 3h3v3h-3zm3 0h3v3h-3zm3 0h3v3h-3zm12 0h3v3h-3zm9 0h3v3h-3zm6 0h3v3h-3zm-36 3h3v3h-3zm9 0h3v3h-3zm3 0h3v3h-3zm12 0h3v3h-3zm6 0h3v3h-3zm3 0h3v3h-3zm36 0h3v3h-3zm12 0h3v3h-3zm6 0h3v3h-3zm30 0h3v3h-3zm-126 3h3v3h-3zm15 0h3v3h-3zm3 0h3v3h-3zm3 0h3v3h-3zm3 0h3v3h-3zm15 0h3v3h-3zm24 0h3v3h-3zm21 0h3v3h-3zm6 0h3v3h-3zm3 0h3v3h-3zm6 0h3v3h-3zm-90 3h3v3h-3zm9 0h3v3h-3zm9 0h3v3h-3zm3 0h3v3h-3zm24 0h3v3h-3zm15 0h3v3h-3zm9 0h3v3h-3zm6 0h3v3h-3zm3 0h3v3h-3zm3 0h3v3h-3zm6 0h3v3h-3zm-102 3h3v3h-3zm15 0h3v3h-3zm30 0h3v3h-3zm3 0h3v3h-3zm6 0h3v3h-3zm3 0h3v3h-3zm15 0h3v3h-3zm3 0h3v3h-3zm3 0h3v3h-3zm3 0h3v3h-3zm6 0h3v3h-3zm6 0h3v3h-3zm3 0h3v3h-3zm3 0h3v3h-3zm3 0h3v3h-3zm-105 3h3v3h-3zm48 0h3v3h-3zm6 0h3v3h-3zm27 0h3v3h-3zm3 0h3v3h-3zm3 0h3v3h-3zm3 0h3v3h-3zm3 0h3v3h-3zm6 0h3v3h-3zm24 0h3v3h-3zm-126 3h3v3h-3zm6 0h3v3h-3zm15 0h3v3h-3zm9 0h3v3h-3zm15 0h3v3h-3zm27 0h3v3h-3zm12 0h3v3h-3zm3 0h3v3h-3zm15 0h3v3h-3zm6 0h3v3h-3zm-108 3h3v3h-3zm9 0h3v3h-3zm3 0h3v3h-3zm27 0h3v3h-3zm42 0h3v3h-3zm3 0h3v3h-3zm3 0h3v3h-3zm3 0h3v3h-3zm15 0h3v3h-3zm9 0h3v3h-3zm9 0h3v3h-3zm9 0h3v3h-3zm6 0h3v3h-3zm-138 3h3v3h-3zm9 0h3v3h-3zm57 0h3v3h-3zm15 0h3v3h-3zm3 0h3v3h-3zm3 0h3v3h-3zm3 0h3v3h-3zm3 0h3v3h-3zm6 0h3v3h-3zm30 0h3v3h-3zm3 0h3v3h-3zm3 0h3v3h-3zm3 0h3v3h-3zm-129 3h3v3h-3zm63 0h3v3h-3zm3 0h3v3h-3zm9 0h3v3h-3zm54 0h3v3h-3zm3 0h3v3h-3zm-96 3h3v3h-3zm33 0h3v3h-3zm12 0h3v3h-3zm6 0h3v3h-3zm30 0h3v3h-3zm3 0h3v3h-3zm3 0h3v3h-3zm3 0h3v3h-3zm3 0h3v3h-3zm3 0h3v3h-3zm-126 3h3v3h-3zm57 0h3v3h-3zm3 0h3v3h-3zm12 0h3v3h-3zm3 0h3v3h-3zm3 0h3v3h-3zm24 0h3v3h-3zm12 0h3v3h-3zm3 0h3v3h-3zm3 0h3v3h-3zm-129 3h3v3h-3zm6 0h3v3h-3zm3 0h3v3h-3zm51 0h3v3h-3zm3 0h3v3h-3zm24 0h3v3h-3zm18 0h3v3h-3zm18 0h3v3h-3zm3 0h3v3h-3zm6 0h3v3h-3zm-138 3h3v3h-3zm9 0h3v3h-3zm6 0h3v3h-3zm9 0h3v3h-3zm9 0h3v3h-3zm36 0h3v3h-3zm9 0h3v3h-3zm3 0h3v3h-3zm3 0h3v3h-3zm3 0h3v3h-3zm6 0h3v3h-3zm-93 3h3v3h-3zm3 0h3v3h-3zm12 0h3v3h-3zm3 0h3v3h-3zm6 0h3v3h-3zm51 0h3v3h-3zm3 0h3v3h-3zm6 0h3v3h-3zm3 0h3v3h-3zm12 0h3v3h-3zm30 0h3v3h-3zm-123 3h3v3h-3zm9 0h3v3h-3zm3 0h3v3h-3zm69 0h3v3h-3zm3 0h3v3h-3zm-84 3h3v3h-3zm21 0h3v3h-3zm48 0h3v3h-3zm-12 3h3v3h-3zm3 0h3v3h-3zm3 0h3v3h-3zm3 0h3v3h-3zm42 0h3v3h-3zm-48 3h3v3h-3zm9 0h3v3h-3zm18 0h3v3h-3zm27 0h3v3h-3zm-108 3h3v3h-3zm21 0h3v3h-3zm33 0h3v3h-3zm6 0h3v3h-3zm-63 3h3v3h-3zm6 0h3v3h-3zm12 0h3v3h-3zm18 0h3v3h-3zm21 0h3v3h-3zm21 0h3v3h-3zm6 0h3v3h-3zm6 0h3v3h-3zm15 0h3v3h-3zm6 0h3v3h-3zm-114 3h3v3h-3zm6 0h3v3h-3zm3 0h3v3h-3zm78 0h3v3h-3zm9 0h3v3h-3zm3 0h3v3h-3zm30 0h3v3h-3zm-132 3h3v3h-3zm3 0h3v3h-3zm3 0h3v3h-3zm3 0h3v3h-3zm3 0h3v3h-3zm3 0h3v3h-3zm51 0h3v3h-3zm21 0h3v3h-3zm36 0h3v3h-3zm9 0h3v3h-3zm-108 3h3v3h-3zm24 0h3v3h-3zm48 0h3v3h-3zm-90 3h3v3h-3zm3 0h3v3h-3zm6 0h3v3h-3zm123 0h3v3h-3zm-141 3h3v3h-3zm9 0h3v3h-3zm120 0h3v3h-3zm-93 3h3v3h-3zm66 0h3v3h-3zm18 0h3v3h-3zm6 0h3v3h-3zm3 0h3v3h-3zm9 0h3v3h-3zm3 0h3v3h-3zm-135 3h3v3h-3zm99 0h3v3h-3zm18 0h3v3h-3zm3 0h3v3h-3zm3 0h3v3h-3zm3 0h3v3h-3zm9 0h3v3h-3zm-120 3h3v3h-3zm6 0h3v3h-3zm51 0h3v3h-3zm21 0h3v3h-3zm9 0h3v3h-3zm3 0h3v3h-3zm9 0h3v3h-3zm6 0h3v3h-3zm3 0h3v3h-3zm6 0h3v3h-3zm-135 3h3v3h-3zm30 0h3v3h-3zm75 0h3v3h-3zm6 0h3v3h-3zm9 0h3v3h-3zm6 0h3v3h-3zm3 0h3v3h-3zm9 0h3v3h-3zm-138 3h3v3h-3zm24 0h3v3h-3zm9 0h3v3h-3zm3 0h3v3h-3zm51 0h3v3h-3zm6 0h3v3h-3zm15 0h3v3h-3zm6 0h3v3h-3zm6 0h3v3h-3zm3 0h3v3h-3zm3 0h3v3h-3zm6 0h3v3h-3zm-132 3h3v3h-3zm69 0h3v3h-3zm15 0h3v3h-3zm9 0h3v3h-3zm12 0h3v3h-3zm15 0h3v3h-3zm6 0h3v3h-3zm6 0h3v3h-3zm3 0h3v3h-3zm-57 3h3v3h-3zm27 0h3v3h-3zm3 0h3v3h-3zm12 0h3v3h-3zm3 0h3v3h-3zm-114 3h3v3h-3zm78 0h3v3h-3zm21 0h3v3h-3zm12 0h3v3h-3zm3 0h3v3h-3zm-108 3h3v3h-3zm6 0h3v3h-3zm3 0h3v3h-3zm12 0h3v3h-3zm39 0h3v3h-3zm3 0h3v3h-3zm45 0h3v3h-3zm-105 3h3v3h-3zm3 0h3v3h-3zm15 0h3v3h-3zm6 0h3v3h-3zm30 0h3v3h-3zm-54 3h3v3h-3zm3 0h3v3h-3zm24 0h3v3h-3zm51 0h3v3h-3zm6 0h3v3h-3zm3 0h3v3h-3zm15 0h3v3h-3zm-108 3h3v3h-3zm9 0h3v3h-3zm81 0h3v3h-3zm3 0h3v3h-3zm3 0h3v3h-3zm15 0h3v3h-3zm3 0h3v3h-3zm-126 3h3v3h-3zm6 0h3v3h-3zm6 0h3v3h-3zm6 0h3v3h-3zm18 0h3v3h-3zm6 0h3v3h-3zm6 0h3v3h-3zm6 0h3v3h-3zm39 0h3v3h-3zm15 0h3v3h-3zm12 0h3v3h-3zm3 0h3v3h-3zm3 0h3v3h-3zm12 0h3v3h-3zm-138 3h3v3h-3zm9 0h3v3h-3zm6 0h3v3h-3zm3 0h3v3h-3zm24 0h3v3h-3zm48 0h3v3h-3zm3 0h3v3h-3zm6 0h3v3h-3zm3 0h3v3h-3zm6 0h3v3h-3zm6 0h3v3h-3zm3 0h3v3h-3zm3 0h3v3h-3zm3 0h3v3h-3z"/><path fill="#00d4b0" d="M12 0h3v3h-3zm15 0h3v3h-3zm42 0h3v3h-3zm9 0h3v3h-3zm12 0h3v3h-3zm15 0h3v3h-3zm-96 3h3v3h-3zm12 0h3v3h-3zm3 0h3v3h-3zm9 0h3v3h-3zm15 0h3v3h-3zm12 0h3v3h-3zm15 0h3v3h-3zm-39 3h3v3h-3zm6 0h3v3h-3zm12 0h3v3h-3zm9 0h3v3h-3zm3 0h3v3h-3zm12 0h3v3h-3zm6 0h3v3h-3zm3 0h3v3h-3zm3 0h3v3h-3zm9 0h3v3h-3zm-81 3h3v3h-3zm39 0h3v3h-3zm9 0h3v3h-3zm6 0h3v3h-3zm9 0h3v3h-3zm12 0h3v3h-3zm21 0h3v3h-3zm3 0h3v3h-3zm12 0h3v3h-3zm6 0h3v3h-3zm-84 3h3v3h-3zm6 0h3v3h-3zm45 0h3v3h-3zm3 0h3v3h-3zm15 0h3v3h-3zm12 0h3v3h-3zm-129 3h3v3h-3zm3 0h3v3h-3zm18 0h3v3h-3zm12 0h3v3h-3zm12 0h3v3h-3zm24 0h3v3h-3zm24 0h3v3h-3zm6 0h3v3h-3zm27 0h3v3h-3zm6 0h3v3h-3zm-132 3h3v3h-3zm36 0h3v3h-3zm15 0h3v3h-3zm24 0h3v3h-3zm6 0h3v3h-3zm15 0h3v3h-3zm6 0h3v3h-3zm12 0h3v3h-3zm9 0h3v3h-3zm9 0h3v3h-3zm-129 3h3v3h-3zm3 0h3v3h-3zm12 0h3v3h-3zm6 0h3v3h-3zm24 0h3v3h-3zm6 0h3v3h-3zm3 0h3v3h-3zm81 0h3v3h-3zm-126 3h3v3h-3zm21 0h3v3h-3zm3 0h3v3h-3zm6 0h3v3h-3zm15 0h3v3h-3zm27 0h3v3h-3zm3 0h3v3h-3zm3 0h3v3h-3zm3 0h3v3h-3zm15 0h3v3h-3zm15 0h3v3h-3zm6 0h3v3h-3zm3 0h3v3h-3zm-123 3h3v3h-3zm3 0h3v3h-3zm45 0h3v3h-3zm3 0h3v3h-3zm6 0h3v3h-3zm6 0h3v3h-3zm3 0h3v3h-3zm3 0h3v3h-3zm12 0h3v3h-3zm18 0h3v3h-3zm6 0h3v3h-3zm-102 3h3v3h-3zm3 0h3v3h-3zm3 0h3v3h-3zm3 0h3v3h-3zm24 0h3v3h-3zm12 0h3v3h-3zm12 0h3v3h-3zm9 0h3v3h-3zm3 0h3v3h-3zm33 0h3v3h-3zm24 0h3v3h-3zm-138 3h3v3h-3zm42 0h3v3h-3zm3 0h3v3h-3zm12 0h3v3h-3zm18 0h3v3h-3zm6 0h3v3h-3zm3 0h3v3h-3zm6 0h3v3h-3zm39 0h3v3h-3zm3 0h3v3h-3zm-93 3h3v3h-3zm3 0h3v3h-3zm21 0h3v3h-3zm6 0h3v3h-3zm57 0h3v3h-3zm-120 3h3v3h-3zm33 0h3v3h-3zm6 0h3v3h-3zm15 0h3v3h-3zm6 0h3v3h-3zm36 0h3v3h-3zm12 0h3v3h-3zm-102 3h3v3h-3zm12 0h3v3h-3zm27 0h3v3h-3zm6 0h3v3h-3zm3 0h3v3h-3zm3 0h3v3h-3zm3 0h3v3h-3zm36 0h3v3h-3zm15 0h3v3h-3zm-96 3h3v3h-3zm6 0h3v3h-3zm21 0h3v3h-3zm6 0h3v3h-3zm21 0h3v3h-3zm42 0h3v3h-3zm9 0h3v3h-3zm-96 3h3v3h-3zm21 0h3v3h-3zm6 0h3v3h-3zm12 0h3v3h-3zm36 0h3v3h-3zm15 0h3v3h-3zm-111 3h3v3h-3zm21 0h3v3h-3zm15 0h3v3h-3zm3 0h3v3h-3zm6 0h3v3h-3zm6 0h3v3h-3zm-63 3h3v3h-3zm12 0h3v3h-3zm15 0h3v3h-3zm21 0h3v3h-3zm12 0h3v3h-3zm15 0h3v3h-3zm18 0h3v3h-3zm9 0h3v3h-3zm3 0h3v3h-3zm-45 3h3v3h-3zm45 0h3v3h-3zm6 0h3v3h-3zm-78 3h3v3h-3zm3 0h3v3h-3zm3 0h3v3h-3zm18 0h3v3h-3zm27 0h3v3h-3zm36 0h3v3h-3zm3 0h3v3h-3zm12 0h3v3h-3zm-129 3h3v3h-3zm21 0h3v3h-3zm21 0h3v3h-3zm57 0h3v3h-3zm12 0h3v3h-3zm24 0h3v3h-3zm-135 3h3v3h-3zm3 0h3v3h-3zm12 0h3v3h-3zm9 0h3v3h-3zm33 0h3v3h-3zm54 0h3v3h-3zm21 0h3v3h-3zm3 0h3v3h-3zm-141 3h3v3h-3zm9 0h3v3h-3zm3 0h3v3h-3zm15 0h3v3h-3zm6 0h3v3h-3zm27 0h3v3h-3zm33 0h3v3h-3zm15 0h3v3h-3zm9 0h3v3h-3zm3 0h3v3h-3zm3 0h3v3h-3zm6 0h3v3h-3zm-81 3h3v3h-3zm6 0h3v3h-3zm6 0h3v3h-3zm9 0h3v3h-3zm33 0h3v3h-3zm6 0h3v3h-3zm6 0h3v3h-3zm6 0h3v3h-3zm-120 3h3v3h-3zm9 0h3v3h-3zm45 0h3v3h-3zm27 0h3v3h-3zm30 0h3v3h-3zm-96 3h3v3h-3zm39 0h3v3h-3zm51 0h3v3h-3zm6 0h3v3h-3zm27 0h3v3h-3zm-135 3h3v3h-3zm3 0h3v3h-3zm9 0h3v3h-3zm3 0h3v3h-3zm21 0h3v3h-3zm12 0h3v3h-3zm9 0h3v3h-3zm9 0h3v3h-3zm12 0h3v3h-3zm9 0h3v3h-3zm-90 3h3v3h-3zm21 0h3v3h-3zm9 0h3v3h-3zm6 0h3v3h-3zm27 0h3v3h-3zm27 0h3v3h-3zm15 0h3v3h-3zm3 0h3v3h-3zm18 0h3v3h-3zm6 0h3v3h-3zm-111 3h3v3h-3zm33 0h3v3h-3zm12 0h3v3h-3zm18 0h3v3h-3zm12 0h3v3h-3zm15 0h3v3h-3zm-66 3h3v3h-3zm21 0h3v3h-3zm15 0h3v3h-3zm27 0h3v3h-3zm15 0h3v3h-3zm18 0h3v3h-3zm-141 3h3v3h-3zm12 0h3v3h-3zm12 0h3v3h-3zm33 0h3v3h-3zm30 0h3v3h-3zm48 0h3v3h-3zm-96 3h3v3h-3zm39 0h3v3h-3zm6 0h3v3h-3zm12 0h3v3h-3zm12 0h3v3h-3zm21 0h3v3h-3zm-123 3h3v3h-3zm9 0h3v3h-3zm21 0h3v3h-3zm51 0h3v3h-3zm6 0h3v3h-3zm15 0h3v3h-3zm3 0h3v3h-3zm6 0h3v3h-3zm3 0h3v3h-3zm-120 3h3v3h-3zm15 0h3v3h-3zm27 0h3v3h-3zm12 0h3v3h-3zm9 0h3v3h-3zm18 0h3v3h-3zm3 0h3v3h-3zm6 0h3v3h-3zm6 0h3v3h-3zm9 0h3v3h-3zm3 0h3v3h-3zm-90 3h3v3h-3zm21 0h3v3h-3zm3 0h3v3h-3zm15 0h3v3h-3zm3 0h3v3h-3zm6 0h3v3h-3zm6 0h3v3h-3zm6 0h3v3h-3zm12 0h3v3h-3zm45 0h3v3h-3zm-132 3h3v3h-3zm3 0h3v3h-3zm3 0h3v3h-3zm6 0h3v3h-3zm33 0h3v3h-3zm33 0h3v3h-3zm24 0h3v3h-3zm-69 3h3v3h-3zm3 0h3v3h-3zm3 0h3v3h-3zm39 0h3v3h-3zm6 0h3v3h-3zm9 0h3v3h-3zm3 0h3v3h-3zm-93 3h3v3h-3zm15 0h3v3h-3zm18 0h3v3h-3zm24 0h3v3h-3zm27 0h3v3h-3zm12 0h3v3h-3zm9 0h3v3h-3zm18 0h3v3h-3zm-123 3h3v3h-3zm3 0h3v3h-3zm33 0h3v3h-3zm6 0h3v3h-3zm27 0h3v3h-3zm15 0h3v3h-3zm12 0h3v3h-3zm15 0h3v3h-3zm-102 3h3v3h-3zm9 0h3v3h-3zm9 0h3v3h-3zm12 0h3v3h-3zm24 0h3v3h-3zm6 0h3v3h-3zm27 0h3v3h-3zm9 0h3v3h-3zm6 0h3v3h-3zm9 0h3v3h-3zm6 0h3v3h-3zm9 0h3v3h-3zm-108 3h3v3h-3zm6 0h3v3h-3zm6 0h3v3h-3zm48 0h3v3h-3zm6 0h3v3h-3zm12 0h3v3h-3zm27 0h3v3h-3zm-126 3h3v3h-3zm6 0h3v3h-3zm12 0h3v3h-3zm3 0h3v3h-3zm6 0h3v3h-3zm3 0h3v3h-3zm15 0h3v3h-3zm15 0h3v3h-3zm18 0h3v3h-3zm15 0h3v3h-3zm9 0h3v3h-3zm15 0h3v3h-3zm6 0h3v3h-3zm-135 3h3v3h-3zm3 0h3v3h-3zm30 0h3v3h-3zm24 0h3v3h-3zm27 0h3v3h-3zm12 0h3v3h-3zm12 0h3v3h-3zm6 0h3v3h-3zm6 0h3v3h-3zm-90 3h3v3h-3zm54 0h3v3h-3zm27 0h3v3h-3zm27 0h3v3h-3zm3 0h3v3h-3zm-132 3h3v3h-3zm9 0h3v3h-3zm9 0h3v3h-3zm9 0h3v3h-3zm24 0h3v3h-3zm15 0h3v3h-3zm6 0h3v3h-3zm60 0h3v3h-3zm-132 3h3v3h-3zm42 0h3v3h-3zm6 0h3v3h-3zm30 0h3v3h-3zm9 0h3v3h-3zm15 0h3v3h-3zm18 0h3v3h-3zm-78 3h3v3h-3zm3 0h3v3h-3zm51 0h3v3h-3z"/></pattern>
<pattern id="pt_green2" width="144" height="144" patternUnits="userSpaceOnUse" patternTransform="rotate(-26.7)"><rect width="144" height="144" fill="#00c000"/><path fill="#70d800" d="M0 0h3v3h-3zm15 0h3v3h-3zm27 0h3v3h-3zm-30 3h3v3h-3zm72 0h3v3h-3zm-45 3h3v3h-3zm-30 3h3v3h-3zm18 0h3v3h-3zm18 0h3v3h-3zm60 0h3v3h-3zm33 0h3v3h-3zm-114 3h3v3h-3zm21 0h3v3h-3zm54 0h3v3h-3zm12 0h3v3h-3zm27 0h3v3h-3zm-138 3h3v3h-3zm24 0h3v3h-3zm27 0h3v3h-3zm78 0h3v3h-3zm6 0h3v3h-3zm-108 3h3v3h-3zm99 0h3v3h-3zm6 0h3v3h-3zm-42 3h3v3h-3zm-66 3h3v3h-3zm3 0h3v3h-3zm45 0h3v3h-3zm18 0h3v3h-3zm3 0h3v3h-3zm15 0h3v3h-3zm18 0h3v3h-3zm9 0h3v3h-3zm-111 3h3v3h-3zm15 0h3v3h-3zm27 0h3v3h-3zm60 0h3v3h-3zm12 0h3v3h-3zm-30 3h3v3h-3zm15 0h3v3h-3zm-123 3h3v3h-3zm18 0h3v3h-3zm3 0h3v3h-3zm66 0h3v3h-3zm48 0h3v3h-3zm-117 3h3v3h-3zm21 0h3v3h-3zm3 0h3v3h-3zm6 0h3v3h-3zm39 0h3v3h-3zm48 0h3v3h-3zm-102 3h3v3h-3zm57 0h3v3h-3zm6 0h3v3h-3zm-27 3h3v3h-3zm15 0h3v3h-3zm-84 3h3v3h-3zm45 0h3v3h-3zm48 0h3v3h-3zm-57 3h3v3h-3zm96 0h3v3h-3zm-90 3h3v3h-3zm66 3h3v3h-3zm-102 9h3v3h-3zm21 0h3v3h-3zm33 0h3v3h-3zm75 0h3v3h-3zm-126 3h3v3h-3zm6 0h3v3h-3zm36 0h3v3h-3zm21 0h3v3h-3zm48 0h3v3h-3zm-66 3h3v3h-3zm-27 3h3v3h-3zm18 0h3v3h-3zm87 0h3v3h-3zm-111 3h3v3h-3zm3 0h3v3h-3zm21 0h3v3h-3zm69 0h3v3h-3zm9 0h3v3h-3zm3 0h3v3h-3zm-45 3h3v3h-3zm6 3h3v3h-3zm-87 3h3v3h-3zm27 0h3v3h-3zm90 0h3v3h-3zm12 0h3v3h-3zm6 0h3v3h-3zm3 0h3v3h-3zm-138 3h3v3h-3zm45 0h3v3h-3zm45 0h3v3h-3zm-63 3h3v3h-3zm90 0h3v3h-3zm9 0h3v3h-3zm3 0h3v3h-3zm12 0h3v3h-3zm-102 3h3v3h-3zm90 0h3v3h-3zm3 0h3v3h-3zm-24 3h3v3h-3zm24 0h3v3h-3zm6 0h3v3h-3zm-75 3h3v3h-3zm69 0h3v3h-3zm3 0h3v3h-3zm-78 3h3v3h-3zm24 0h3v3h-3zm3 0h3v3h-3zm6 0h3v3h-3zm15 0h3v3h-3zm-78 3h3v3h-3zm87 0h3v3h-3zm6 3h3v3h-3zm-108 6h3v3h-3zm12 3h3v3h-3zm99 0h3v3h-3zm-102 3h3v3h-3zm6 0h3v3h-3zm105 0h3v3h-3zm3 0h3v3h-3zm-108 3h3v3h-3zm3 0h3v3h-3zm75 0h3v3h-3zm-36 3h3v3h-3zm33 0h3v3h-3zm30 0h3v3h-3zm-114 3h3v3h-3zm6 0h3v3h-3zm3 0h3v3h-3zm63 3h3v3h-3zm45 0h3v3h-3zm-117 3h3v3h-3zm6 0h3v3h-3zm18 0h3v3h-3zm78 0h3v3h-3zm9 0h3v3h-3zm9 0h3v3h-3zm-114 3h3v3h-3zm84 0h3v3h-3zm-105 3h3v3h-3zm15 0h3v3h-3zm120 0h3v3h-3z"/><path fill="#00d000" d="M6 0h3v3h-3zm6 0h3v3h-3zm45 0h3v3h-3zm3 0h3v3h-3zm3 0h3v3h-3zm6 0h3v3h-3zm6 0h3v3h-3zm3 0h3v3h-3zm12 0h3v3h-3zm9 0h3v3h-3zm6 0h3v3h-3zm18 0h3v3h-3zm-123 3h3v3h-3zm3 0h3v3h-3zm12 0h3v3h-3zm30 0h3v3h-3zm3 0h3v3h-3zm21 0h3v3h-3zm3 0h3v3h-3zm3 0h3v3h-3zm6 0h3v3h-3zm12 0h3v3h-3zm9 0h3v3h-3zm3 0h3v3h-3zm21 0h3v3h-3zm12 0h3v3h-3zm3 0h3v3h-3zm-141 3h3v3h-3zm3 0h3v3h-3zm3 0h3v3h-3zm21 0h3v3h-3zm3 0h3v3h-3zm6 0h3v3h-3zm6 0h3v3h-3zm6 0h3v3h-3zm3 0h3v3h-3zm51 0h3v3h-3zm36 0h3v3h-3zm3 0h3v3h-3zm-135 3h3v3h-3zm30 0h3v3h-3zm12 0h3v3h-3zm3 0h3v3h-3zm21 0h3v3h-3zm6 0h3v3h-3zm18 0h3v3h-3zm6 0h3v3h-3zm15 0h3v3h-3zm18 0h3v3h-3zm-117 3h3v3h-3zm3 0h3v3h-3zm6 0h3v3h-3zm9 0h3v3h-3zm3 0h3v3h-3zm9 0h3v3h-3zm6 0h3v3h-3zm12 0h3v3h-3zm48 0h3v3h-3zm18 0h3v3h-3zm-129 3h3v3h-3zm6 0h3v3h-3zm3 0h3v3h-3zm15 0h3v3h-3zm6 0h3v3h-3zm3 0h3v3h-3zm3 0h3v3h-3zm27 0h3v3h-3zm15 0h3v3h-3zm12 0h3v3h-3zm6 0h3v3h-3zm3 0h3v3h-3zm6 0h3v3h-3zm3 0h3v3h-3zm3 0h3v3h-3zm3 0h3v3h-3zm3 0h3v3h-3zm6 0h3v3h-3zm-123 3h3v3h-3zm12 0h3v3h-3zm51 0h3v3h-3zm12 0h3v3h-3zm6 0h3v3h-3zm21 0h3v3h-3zm36 0h3v3h-3zm-135 3h3v3h-3zm12 0h3v3h-3zm3 0h3v3h-3zm3 0h3v3h-3zm12 0h3v3h-3zm6 0h3v3h-3zm18 0h3v3h-3zm3 0h3v3h-3zm6 0h3v3h-3zm15 0h3v3h-3zm18 0h3v3h-3zm21 0h3v3h-3zm18 0h3v3h-3zm-138 3h3v3h-3zm12 0h3v3h-3zm3 0h3v3h-3zm18 0h3v3h-3zm12 0h3v3h-3zm6 0h3v3h-3zm9 0h3v3h-3zm39 0h3v3h-3zm3 0h3v3h-3zm6 0h3v3h-3zm6 0h3v3h-3zm-114 3h3v3h-3zm12 0h3v3h-3zm12 0h3v3h-3zm9 0h3v3h-3zm18 0h3v3h-3zm3 0h3v3h-3zm3 0h3v3h-3zm3 0h3v3h-3zm6 0h3v3h-3zm9 0h3v3h-3zm3 0h3v3h-3zm3 0h3v3h-3zm18 0h3v3h-3zm21 0h3v3h-3zm6 0h3v3h-3zm-126 3h3v3h-3zm3 0h3v3h-3zm3 0h3v3h-3zm6 0h3v3h-3zm12 0h3v3h-3zm3 0h3v3h-3zm12 0h3v3h-3zm3 0h3v3h-3zm18 0h3v3h-3zm30 0h3v3h-3zm3 0h3v3h-3zm3 0h3v3h-3zm3 0h3v3h-3zm39 0h3v3h-3zm-138 3h3v3h-3zm3 0h3v3h-3zm21 0h3v3h-3zm3 0h3v3h-3zm15 0h3v3h-3zm3 0h3v3h-3zm24 0h3v3h-3zm3 0h3v3h-3zm6 0h3v3h-3zm12 0h3v3h-3zm3 0h3v3h-3zm6 0h3v3h-3zm3 0h3v3h-3zm21 0h3v3h-3zm-126 3h3v3h-3zm15 0h3v3h-3zm6 0h3v3h-3zm6 0h3v3h-3zm18 0h3v3h-3zm9 0h3v3h-3zm12 0h3v3h-3zm6 0h3v3h-3zm6 0h3v3h-3zm12 0h3v3h-3zm6 0h3v3h-3zm30 0h3v3h-3zm3 0h3v3h-3zm9 0h3v3h-3zm3 0h3v3h-3zm-135 3h3v3h-3zm18 0h3v3h-3zm12 0h3v3h-3zm3 0h3v3h-3zm3 0h3v3h-3zm6 0h3v3h-3zm3 0h3v3h-3zm9 0h3v3h-3zm3 0h3v3h-3zm3 0h3v3h-3zm3 0h3v3h-3zm3 0h3v3h-3zm27 0h3v3h-3zm6 0h3v3h-3zm30 0h3v3h-3zm3 0h3v3h-3zm-132 3h3v3h-3zm21 0h3v3h-3zm6 0h3v3h-3zm3 0h3v3h-3zm24 0h3v3h-3zm3 0h3v3h-3zm9 0h3v3h-3zm9 0h3v3h-3zm9 0h3v3h-3zm6 0h3v3h-3zm6 0h3v3h-3zm24 0h3v3h-3zm15 0h3v3h-3zm-117 3h3v3h-3zm3 0h3v3h-3zm9 0h3v3h-3zm3 0h3v3h-3zm12 0h3v3h-3zm15 0h3v3h-3zm9 0h3v3h-3zm27 0h3v3h-3zm3 0h3v3h-3zm9 0h3v3h-3zm12 0h3v3h-3zm-126 3h3v3h-3zm21 0h3v3h-3zm45 0h3v3h-3zm42 0h3v3h-3zm15 0h3v3h-3zm18 0h3v3h-3zm-135 3h3v3h-3zm3 0h3v3h-3zm18 0h3v3h-3zm27 0h3v3h-3zm15 0h3v3h-3zm3 0h3v3h-3zm42 0h3v3h-3zm3 0h3v3h-3zm6 0h3v3h-3zm15 0h3v3h-3zm-135 3h3v3h-3zm3 0h3v3h-3zm18 0h3v3h-3zm3 0h3v3h-3zm12 0h3v3h-3zm3 0h3v3h-3zm9 0h3v3h-3zm45 0h3v3h-3zm15 0h3v3h-3zm12 0h3v3h-3zm3 0h3v3h-3zm-111 3h3v3h-3zm12 0h3v3h-3zm3 0h3v3h-3zm15 0h3v3h-3zm3 0h3v3h-3zm6 0h3v3h-3zm12 0h3v3h-3zm3 0h3v3h-3zm3 0h3v3h-3zm3 0h3v3h-3zm45 0h3v3h-3zm15 0h3v3h-3zm-132 3h3v3h-3zm12 0h3v3h-3zm3 0h3v3h-3zm9 0h3v3h-3zm9 0h3v3h-3zm6 0h3v3h-3zm9 0h3v3h-3zm9 0h3v3h-3zm3 0h3v3h-3zm6 0h3v3h-3zm3 0h3v3h-3zm6 0h3v3h-3zm15 0h3v3h-3zm3 0h3v3h-3zm15 0h3v3h-3zm12 0h3v3h-3zm6 0h3v3h-3zm6 0h3v3h-3zm3 0h3v3h-3zm-135 3h3v3h-3zm6 0h3v3h-3zm3 0h3v3h-3zm21 0h3v3h-3zm3 0h3v3h-3zm3 0h3v3h-3zm6 0h3v3h-3zm3 0h3v3h-3zm15 0h3v3h-3zm9 0h3v3h-3zm3 0h3v3h-3zm3 0h3v3h-3zm15 0h3v3h-3zm15 0h3v3h-3zm3 0h3v3h-3zm12 0h3v3h-3zm6 0h3v3h-3zm9 0h3v3h-3zm-138 3h3v3h-3zm18 0h3v3h-3zm9 0h3v3h-3zm3 0h3v3h-3zm27 0h3v3h-3zm12 0h3v3h-3zm6 0h3v3h-3zm3 0h3v3h-3zm3 0h3v3h-3zm12 0h3v3h-3zm9 0h3v3h-3zm12 0h3v3h-3zm12 0h3v3h-3zm3 0h3v3h-3zm3 0h3v3h-3zm9 0h3v3h-3zm-141 3h3v3h-3zm15 0h3v3h-3zm9 0h3v3h-3zm6 0h3v3h-3zm3 0h3v3h-3zm24 0h3v3h-3zm6 0h3v3h-3zm3 0h3v3h-3zm6 0h3v3h-3zm3 0h3v3h-3zm3 0h3v3h-3zm15 0h3v3h-3zm12 0h3v3h-3zm3 0h3v3h-3zm21 0h3v3h-3zm3 0h3v3h-3zm3 0h3v3h-3zm-132 3h3v3h-3zm15 0h3v3h-3zm15 0h3v3h-3zm21 0h3v3h-3zm18 0h3v3h-3zm39 0h3v3h-3zm9 0h3v3h-3zm3 0h3v3h-3zm6 0h3v3h-3zm6 0h3v3h-3zm-135 3h3v3h-3zm6 0h3v3h-3zm9 0h3v3h-3zm21 0h3v3h-3zm3 0h3v3h-3zm3 0h3v3h-3zm9 0h3v3h-3zm3 0h3v3h-3zm15 0h3v3h-3zm9 0h3v3h-3zm6 0h3v3h-3zm3 0h3v3h-3zm-87 3h3v3h-3zm3 0h3v3h-3zm3 0h3v3h-3zm21 0h3v3h-3zm12 0h3v3h-3zm9 0h3v3h-3zm3 0h3v3h-3zm6 0h3v3h-3zm15 0h3v3h-3zm6 0h3v3h-3zm33 0h3v3h-3zm12 0h3v3h-3zm6 0h3v3h-3zm6 0h3v3h-3zm6 0h3v3h-3zm-135 3h3v3h-3zm12 0h3v3h-3zm3 0h3v3h-3zm3 0h3v3h-3zm18 0h3v3h-3zm36 0h3v3h-3zm6 0h3v3h-3zm15 0h3v3h-3zm27 0h3v3h-3zm-96 3h3v3h-3zm33 0h3v3h-3zm12 0h3v3h-3zm6 0h3v3h-3zm9 0h3v3h-3zm3 0h3v3h-3zm3 0h3v3h-3zm6 0h3v3h-3zm18 0h3v3h-3zm-114 3h3v3h-3zm24 0h3v3h-3zm18 0h3v3h-3zm12 0h3v3h-3zm15 0h3v3h-3zm9 0h3v3h-3zm18 0h3v3h-3zm-78 3h3v3h-3zm24 0h3v3h-3zm3 0h3v3h-3zm3 0h3v3h-3zm3 0h3v3h-3zm6 0h3v3h-3zm15 0h3v3h-3zm9 0h3v3h-3zm3 0h3v3h-3zm3 0h3v3h-3zm15 0h3v3h-3zm12 0h3v3h-3zm12 0h3v3h-3zm-81 3h3v3h-3zm3 0h3v3h-3zm3 0h3v3h-3zm6 0h3v3h-3zm18 0h3v3h-3zm18 0h3v3h-3zm3 0h3v3h-3zm6 0h3v3h-3zm6 0h3v3h-3zm3 0h3v3h-3zm6 0h3v3h-3zm18 0h3v3h-3zm-141 3h3v3h-3zm9 0h3v3h-3zm3 0h3v3h-3zm3 0h3v3h-3zm27 0h3v3h-3zm6 0h3v3h-3zm6 0h3v3h-3zm3 0h3v3h-3zm21 0h3v3h-3zm33 0h3v3h-3zm15 0h3v3h-3zm-126 3h3v3h-3zm15 0h3v3h-3zm3 0h3v3h-3zm24 0h3v3h-3zm6 0h3v3h-3zm3 0h3v3h-3zm18 0h3v3h-3zm24 0h3v3h-3zm3 0h3v3h-3zm18 0h3v3h-3zm3 0h3v3h-3zm6 0h3v3h-3zm3 0h3v3h-3zm-123 3h3v3h-3zm9 0h3v3h-3zm3 0h3v3h-3zm9 0h3v3h-3zm3 0h3v3h-3zm12 0h3v3h-3zm3 0h3v3h-3zm3 0h3v3h-3zm9 0h3v3h-3zm15 0h3v3h-3zm3 0h3v3h-3zm3 0h3v3h-3zm18 0h3v3h-3zm18 0h3v3h-3zm9 0h3v3h-3zm3 0h3v3h-3zm12 0h3v3h-3zm3 0h3v3h-3zm3 0h3v3h-3zm-126 3h3v3h-3zm3 0h3v3h-3zm3 0h3v3h-3zm12 0h3v3h-3zm3 0h3v3h-3zm3 0h3v3h-3zm9 0h3v3h-3zm6 0h3v3h-3zm3 0h3v3h-3zm3 0h3v3h-3zm6 0h3v3h-3zm6 0h3v3h-3zm15 0h3v3h-3zm15 0h3v3h-3zm3 0h3v3h-3zm15 0h3v3h-3zm15 0h3v3h-3zm-135 3h3v3h-3zm3 0h3v3h-3zm6 0h3v3h-3zm15 0h3v3h-3zm3 0h3v3h-3zm12 0h3v3h-3zm3 0h3v3h-3zm12 0h3v3h-3zm3 0h3v3h-3zm9 0h3v3h-3zm3 0h3v3h-3zm6 0h3v3h-3zm3 0h3v3h-3zm3 0h3v3h-3zm6 0h3v3h-3zm3 0h3v3h-3zm12 0h3v3h-3zm3 0h3v3h-3zm9 0h3v3h-3zm3 0h3v3h-3zm9 0h3v3h-3zm9 0h3v3h-3zm-120 3h3v3h-3zm12 0h3v3h-3zm21 0h3v3h-3zm3 0h3v3h-3zm3 0h3v3h-3zm9 0h3v3h-3zm27 0h3v3h-3zm6 0h3v3h-3zm6 0h3v3h-3zm12 0h3v3h-3zm6 0h3v3h-3zm12 0h3v3h-3zm-105 3h3v3h-3zm6 0h3v3h-3zm6 0h3v3h-3zm6 0h3v3h-3zm21 0h3v3h-3zm3 0h3v3h-3zm3 0h3v3h-3zm6 0h3v3h-3zm3 0h3v3h-3zm24 0h3v3h-3zm6 0h3v3h-3zm6 0h3v3h-3zm6 0h3v3h-3zm12 0h3v3h-3zm-129 3h3v3h-3zm21 0h3v3h-3zm33 0h3v3h-3zm3 0h3v3h-3zm9 0h3v3h-3zm15 0h3v3h-3zm21 0h3v3h-3zm12 0h3v3h-3zm9 0h3v3h-3zm6 0h3v3h-3zm-117 3h3v3h-3zm6 0h3v3h-3zm6 0h3v3h-3zm15 0h3v3h-3zm18 0h3v3h-3zm15 0h3v3h-3zm3 0h3v3h-3zm12 0h3v3h-3zm3 0h3v3h-3zm6 0h3v3h-3zm6 0h3v3h-3zm12 0h3v3h-3zm-111 3h3v3h-3zm9 0h3v3h-3zm3 0h3v3h-3zm15 0h3v3h-3zm27 0h3v3h-3zm24 0h3v3h-3zm9 0h3v3h-3zm3 0h3v3h-3zm9 0h3v3h-3zm24 0h3v3h-3zm-129 3h3v3h-3zm33 0h3v3h-3zm3 0h3v3h-3zm6 0h3v3h-3zm18 0h3v3h-3zm12 0h3v3h-3zm9 0h3v3h-3zm21 0h3v3h-3zm9 0h3v3h-3zm21 0h3v3h-3zm3 0h3v3h-3zm3 0h3v3h-3zm-138 3h3v3h-3zm9 0h3v3h-3zm24 0h3v3h-3zm3 0h3v3h-3zm3 0h3v3h-3zm18 0h3v3h-3zm6 0h3v3h-3zm24 0h3v3h-3zm15 0h3v3h-3zm15 0h3v3h-3zm3 0h3v3h-3zm3 0h3v3h-3zm6 0h3v3h-3zm6 0h3v3h-3zm3 0h3v3h-3zm-141 3h3v3h-3zm12 0h3v3h-3zm6 0h3v3h-3zm15 0h3v3h-3zm21 0h3v3h-3zm3 0h3v3h-3zm3 0h3v3h-3zm12 0h3v3h-3zm12 0h3v3h-3zm12 0h3v3h-3zm6 0h3v3h-3zm3 0h3v3h-3zm6 0h3v3h-3zm30 0h3v3h-3zm-138 3h3v3h-3zm3 0h3v3h-3zm15 0h3v3h-3zm9 0h3v3h-3zm6 0h3v3h-3zm21 0h3v3h-3zm9 0h3v3h-3zm39 0h3v3h-3zm6 0h3v3h-3zm12 0h3v3h-3zm-123 3h3v3h-3zm18 0h3v3h-3zm3 0h3v3h-3zm9 0h3v3h-3zm30 0h3v3h-3zm6 0h3v3h-3zm3 0h3v3h-3zm42 0h3v3h-3zm3 0h3v3h-3zm9 0h3v3h-3zm3 0h3v3h-3zm-126 3h3v3h-3zm9 0h3v3h-3zm6 0h3v3h-3zm6 0h3v3h-3zm15 0h3v3h-3zm12 0h3v3h-3zm18 0h3v3h-3zm9 0h3v3h-3zm3 0h3v3h-3zm12 0h3v3h-3zm12 0h3v3h-3zm6 0h3v3h-3zm15 0h3v3h-3z"/><path fill="#d0c400" d="M39 3h3v3h-3zm3 0h3v3h-3zm36 0h3v3h-3zm-45 9h3v3h-3zm108 0h3v3h-3zm-111 3h3v3h-3zm111 0h3v3h-3zm-141 3h3v3h-3zm24 0h3v3h-3zm6 0h3v3h-3zm99 0h3v3h-3zm9 0h3v3h-3zm-84 3h3v3h-3zm3 0h3v3h-3zm30 0h3v3h-3zm9 0h3v3h-3zm15 0h3v3h-3zm15 0h3v3h-3zm12 0h3v3h-3zm-117 3h3v3h-3zm63 0h3v3h-3zm39 0h3v3h-3zm6 0h3v3h-3zm9 0h3v3h-3zm-120 3h3v3h-3zm3 0h3v3h-3zm66 0h3v3h-3zm6 0h3v3h-3zm3 0h3v3h-3zm3 0h3v3h-3zm21 0h3v3h-3zm-102 3h3v3h-3zm3 0h3v3h-3zm12 0h3v3h-3zm48 0h3v3h-3zm54 0h3v3h-3zm3 0h3v3h-3zm-54 9h3v3h-3zm12 6h3v3h-3zm-57 3h3v3h-3zm3 0h3v3h-3zm-18 3h3v3h-3zm24 0h3v3h-3zm66 6h3v3h-3zm-63 6h3v3h-3zm15 0h3v3h-3zm-60 3h3v3h-3zm27 0h3v3h-3zm6 3h3v3h-3zm-33 3h3v3h-3zm24 0h3v3h-3zm9 0h3v3h-3zm63 0h3v3h-3zm-90 3h3v3h-3zm57 3h3v3h-3zm63 0h3v3h-3zm-3 3h3v3h-3zm-84 3h3v3h-3zm6 0h3v3h-3zm36 0h3v3h-3zm-45 3h3v3h-3zm93 0h3v3h-3zm3 0h3v3h-3zm3 0h3v3h-3zm-141 3h3v3h-3zm111 0h3v3h-3zm-21 3h3v3h-3zm45 0h3v3h-3zm-21 3h3v3h-3zm15 0h3v3h-3zm6 0h3v3h-3zm-27 3h3v3h-3zm3 0h3v3h-3zm18 0h3v3h-3zm12 0h3v3h-3zm-33 3h3v3h-3zm6 0h3v3h-3zm15 0h3v3h-3zm-21 6h3v3h-3zm-33 3h3v3h-3zm36 0h3v3h-3zm9 3h3v3h-3zm-6 3h3v3h-3zm27 0h3v3h-3zm-18 3h3v3h-3zm3 0h3v3h-3zm-102 3h3v3h-3zm75 3h3v3h-3zm-78 3h3v3h-3zm42 0h3v3h-3zm36 0h3v3h-3zm9 0h3v3h-3zm27 0h3v3h-3zm-114 3h3v3h-3zm3 0h3v3h-3zm99 0h3v3h-3zm6 0h3v3h-3zm3 0h3v3h-3zm0 3h3v3h-3zm3 0h3v3h-3zm-3 3h3v3h-3zm3 0h3v3h-3zm-102 3h3v3h-3z"/><path fill="#00dc00" d="M3 0h3v3h-3zm6 0h3v3h-3zm9 0h3v3h-3zm3 0h3v3h-3zm24 0h3v3h-3zm6 0h3v3h-3zm15 0h3v3h-3zm18 0h3v3h-3zm12 0h3v3h-3zm6 0h3v3h-3zm9 0h3v3h-3zm6 0h3v3h-3zm9 0h3v3h-3zm9 0h3v3h-3zm3 0h3v3h-3zm3 0h3v3h-3zm-135 3h3v3h-3zm3 0h3v3h-3zm12 0h3v3h-3zm6 0h3v3h-3zm3 0h3v3h-3zm3 0h3v3h-3zm18 0h3v3h-3zm3 0h3v3h-3zm3 0h3v3h-3zm3 0h3v3h-3zm3 0h3v3h-3zm3 0h3v3h-3zm24 0h3v3h-3zm18 0h3v3h-3zm6 0h3v3h-3zm6 0h3v3h-3zm-108 3h3v3h-3zm6 0h3v3h-3zm27 0h3v3h-3zm9 0h3v3h-3zm9 0h3v3h-3zm3 0h3v3h-3zm6 0h3v3h-3zm3 0h3v3h-3zm6 0h3v3h-3zm3 0h3v3h-3zm3 0h3v3h-3zm12 0h3v3h-3zm9 0h3v3h-3zm3 0h3v3h-3zm9 0h3v3h-3zm6 0h3v3h-3zm3 0h3v3h-3zm-117 3h3v3h-3zm6 0h3v3h-3zm12 0h3v3h-3zm51 0h3v3h-3zm3 0h3v3h-3zm6 0h3v3h-3zm9 0h3v3h-3zm9 0h3v3h-3zm6 0h3v3h-3zm6 0h3v3h-3zm9 0h3v3h-3zm3 0h3v3h-3zm-123 3h3v3h-3zm3 0h3v3h-3zm3 0h3v3h-3zm15 0h3v3h-3zm27 0h3v3h-3zm3 0h3v3h-3zm15 0h3v3h-3zm3 0h3v3h-3zm3 0h3v3h-3zm3 0h3v3h-3zm3 0h3v3h-3zm3 0h3v3h-3zm3 0h3v3h-3zm3 0h3v3h-3zm9 0h3v3h-3zm3 0h3v3h-3zm15 0h3v3h-3zm3 0h3v3h-3zm3 0h3v3h-3zm-114 3h3v3h-3zm27 0h3v3h-3zm3 0h3v3h-3zm3 0h3v3h-3zm12 0h3v3h-3zm12 0h3v3h-3zm15 0h3v3h-3zm3 0h3v3h-3zm6 0h3v3h-3zm9 0h3v3h-3zm18 0h3v3h-3zm-111 3h3v3h-3zm6 0h3v3h-3zm15 0h3v3h-3zm9 0h3v3h-3zm3 0h3v3h-3zm9 0h3v3h-3zm9 0h3v3h-3zm39 0h3v3h-3zm12 0h3v3h-3zm9 0h3v3h-3zm-123 3h3v3h-3zm15 0h3v3h-3zm15 0h3v3h-3zm3 0h3v3h-3zm18 0h3v3h-3zm15 0h3v3h-3zm33 0h3v3h-3zm6 0h3v3h-3zm15 0h3v3h-3zm9 0h3v3h-3zm-123 3h3v3h-3zm3 0h3v3h-3zm3 0h3v3h-3zm21 0h3v3h-3zm9 0h3v3h-3zm3 0h3v3h-3zm21 0h3v3h-3zm48 0h3v3h-3zm-72 3h3v3h-3zm3 0h3v3h-3zm27 0h3v3h-3zm36 0h3v3h-3zm3 0h3v3h-3zm-111 3h3v3h-3zm36 0h3v3h-3zm3 0h3v3h-3zm12 0h3v3h-3zm3 0h3v3h-3zm12 0h3v3h-3zm3 0h3v3h-3zm3 0h3v3h-3zm12 0h3v3h-3zm30 0h3v3h-3zm6 0h3v3h-3zm-111 3h3v3h-3zm24 0h3v3h-3zm3 0h3v3h-3zm15 0h3v3h-3zm3 0h3v3h-3zm6 0h3v3h-3zm6 0h3v3h-3zm12 0h3v3h-3zm30 0h3v3h-3zm3 0h3v3h-3zm9 0h3v3h-3zm21 0h3v3h-3zm-135 3h3v3h-3zm24 0h3v3h-3zm6 0h3v3h-3zm15 0h3v3h-3zm6 0h3v3h-3zm12 0h3v3h-3zm6 0h3v3h-3zm18 0h3v3h-3zm9 0h3v3h-3zm6 0h3v3h-3zm-108 3h3v3h-3zm3 0h3v3h-3zm12 0h3v3h-3zm3 0h3v3h-3zm9 0h3v3h-3zm3 0h3v3h-3zm15 0h3v3h-3zm30 0h3v3h-3zm3 0h3v3h-3zm3 0h3v3h-3zm27 0h3v3h-3zm12 0h3v3h-3zm3 0h3v3h-3zm3 0h3v3h-3zm6 0h3v3h-3zm9 0h3v3h-3zm-141 3h3v3h-3zm12 0h3v3h-3zm3 0h3v3h-3zm9 0h3v3h-3zm6 0h3v3h-3zm21 0h3v3h-3zm3 0h3v3h-3zm3 0h3v3h-3zm18 0h3v3h-3zm30 0h3v3h-3zm6 0h3v3h-3zm9 0h3v3h-3zm12 0h3v3h-3zm3 0h3v3h-3zm3 0h3v3h-3zm-132 3h3v3h-3zm9 0h3v3h-3zm6 0h3v3h-3zm27 0h3v3h-3zm9 0h3v3h-3zm6 0h3v3h-3zm6 0h3v3h-3zm3 0h3v3h-3zm12 0h3v3h-3zm6 0h3v3h-3zm9 0h3v3h-3zm36 0h3v3h-3zm3 0h3v3h-3zm-135 3h3v3h-3zm12 0h3v3h-3zm3 0h3v3h-3zm15 0h3v3h-3zm15 0h3v3h-3zm6 0h3v3h-3zm3 0h3v3h-3zm6 0h3v3h-3zm9 0h3v3h-3zm3 0h3v3h-3zm21 0h3v3h-3zm6 0h3v3h-3zm9 0h3v3h-3zm3 0h3v3h-3zm3 0h3v3h-3zm18 0h3v3h-3zm-135 3h3v3h-3zm18 0h3v3h-3zm12 0h3v3h-3zm6 0h3v3h-3zm3 0h3v3h-3zm12 0h3v3h-3zm9 0h3v3h-3zm3 0h3v3h-3zm15 0h3v3h-3zm3 0h3v3h-3zm6 0h3v3h-3zm3 0h3v3h-3zm6 0h3v3h-3zm3 0h3v3h-3zm21 0h3v3h-3zm9 0h3v3h-3zm-117 3h3v3h-3zm6 0h3v3h-3zm12 0h3v3h-3zm6 0h3v3h-3zm30 0h3v3h-3zm3 0h3v3h-3zm3 0h3v3h-3zm6 0h3v3h-3zm6 0h3v3h-3zm3 0h3v3h-3zm6 0h3v3h-3zm24 0h3v3h-3zm15 0h3v3h-3zm3 0h3v3h-3zm6 0h3v3h-3zm-132 3h3v3h-3zm3 0h3v3h-3zm6 0h3v3h-3zm18 0h3v3h-3zm3 0h3v3h-3zm3 0h3v3h-3zm9 0h3v3h-3zm6 0h3v3h-3zm3 0h3v3h-3zm18 0h3v3h-3zm3 0h3v3h-3zm3 0h3v3h-3zm6 0h3v3h-3zm27 0h3v3h-3zm9 0h3v3h-3zm15 0h3v3h-3zm-141 3h3v3h-3zm9 0h3v3h-3zm15 0h3v3h-3zm6 0h3v3h-3zm3 0h3v3h-3zm21 0h3v3h-3zm12 0h3v3h-3zm9 0h3v3h-3zm6 0h3v3h-3zm3 0h3v3h-3zm21 0h3v3h-3zm3 0h3v3h-3zm9 0h3v3h-3zm3 0h3v3h-3zm6 0h3v3h-3zm-126 3h3v3h-3zm15 0h3v3h-3zm66 0h3v3h-3zm6 0h3v3h-3zm3 0h3v3h-3zm9 0h3v3h-3zm15 0h3v3h-3zm12 0h3v3h-3zm6 0h3v3h-3zm9 0h3v3h-3zm-129 3h3v3h-3zm24 0h3v3h-3zm6 0h3v3h-3zm24 0h3v3h-3zm24 0h3v3h-3zm6 0h3v3h-3zm9 0h3v3h-3zm6 0h3v3h-3zm6 0h3v3h-3zm21 0h3v3h-3zm-117 3h3v3h-3zm48 0h3v3h-3zm12 0h3v3h-3zm3 0h3v3h-3zm3 0h3v3h-3zm9 0h3v3h-3zm3 0h3v3h-3zm12 0h3v3h-3zm15 0h3v3h-3zm15 0h3v3h-3zm-126 3h3v3h-3zm9 0h3v3h-3zm18 0h3v3h-3zm6 0h3v3h-3zm9 0h3v3h-3zm3 0h3v3h-3zm15 0h3v3h-3zm9 0h3v3h-3zm3 0h3v3h-3zm3 0h3v3h-3zm3 0h3v3h-3zm21 0h3v3h-3zm27 0h3v3h-3zm-138 3h3v3h-3zm6 0h3v3h-3zm9 0h3v3h-3zm15 0h3v3h-3zm15 0h3v3h-3zm9 0h3v3h-3zm3 0h3v3h-3zm3 0h3v3h-3zm9 0h3v3h-3zm3 0h3v3h-3zm15 0h3v3h-3zm21 0h3v3h-3zm21 0h3v3h-3zm-123 3h3v3h-3zm6 0h3v3h-3zm6 0h3v3h-3zm3 0h3v3h-3zm6 0h3v3h-3zm3 0h3v3h-3zm3 0h3v3h-3zm18 0h3v3h-3zm30 0h3v3h-3zm15 0h3v3h-3zm6 0h3v3h-3zm3 0h3v3h-3zm9 0h3v3h-3zm-108 3h3v3h-3zm3 0h3v3h-3zm3 0h3v3h-3zm15 0h3v3h-3zm3 0h3v3h-3zm6 0h3v3h-3zm15 0h3v3h-3zm3 0h3v3h-3zm3 0h3v3h-3zm3 0h3v3h-3zm3 0h3v3h-3zm6 0h3v3h-3zm3 0h3v3h-3zm6 0h3v3h-3zm21 0h3v3h-3zm12 0h3v3h-3zm6 0h3v3h-3zm-105 3h3v3h-3zm9 0h3v3h-3zm9 0h3v3h-3zm3 0h3v3h-3zm18 0h3v3h-3zm3 0h3v3h-3zm12 0h3v3h-3zm30 0h3v3h-3zm6 0h3v3h-3zm3 0h3v3h-3zm3 0h3v3h-3zm15 0h3v3h-3zm-114 3h3v3h-3zm3 0h3v3h-3zm9 0h3v3h-3zm12 0h3v3h-3zm3 0h3v3h-3zm15 0h3v3h-3zm9 0h3v3h-3zm15 0h3v3h-3zm18 0h3v3h-3zm3 0h3v3h-3zm6 0h3v3h-3zm9 0h3v3h-3zm3 0h3v3h-3zm6 0h3v3h-3zm-117 3h3v3h-3zm12 0h3v3h-3zm3 0h3v3h-3zm9 0h3v3h-3zm3 0h3v3h-3zm6 0h3v3h-3zm3 0h3v3h-3zm18 0h3v3h-3zm9 0h3v3h-3zm6 0h3v3h-3zm21 0h3v3h-3zm3 0h3v3h-3zm3 0h3v3h-3zm12 0h3v3h-3zm9 0h3v3h-3zm-117 3h3v3h-3zm3 0h3v3h-3zm6 0h3v3h-3zm6 0h3v3h-3zm3 0h3v3h-3zm3 0h3v3h-3zm6 0h3v3h-3zm42 0h3v3h-3zm3 0h3v3h-3zm27 0h3v3h-3zm15 0h3v3h-3zm-117 3h3v3h-3zm3 0h3v3h-3zm12 0h3v3h-3zm6 0h3v3h-3zm6 0h3v3h-3zm33 0h3v3h-3zm6 0h3v3h-3zm12 0h3v3h-3zm6 0h3v3h-3zm6 0h3v3h-3zm12 0h3v3h-3zm12 0h3v3h-3zm3 0h3v3h-3zm3 0h3v3h-3zm-117 3h3v3h-3zm3 0h3v3h-3zm12 0h3v3h-3zm6 0h3v3h-3zm3 0h3v3h-3zm3 0h3v3h-3zm3 0h3v3h-3zm3 0h3v3h-3zm6 0h3v3h-3zm9 0h3v3h-3zm21 0h3v3h-3zm3 0h3v3h-3zm6 0h3v3h-3zm3 0h3v3h-3zm18 0h3v3h-3zm-87 3h3v3h-3zm3 0h3v3h-3zm12 0h3v3h-3zm30 0h3v3h-3zm24 0h3v3h-3zm30 0h3v3h-3zm9 0h3v3h-3zm-126 3h3v3h-3zm3 0h3v3h-3zm6 0h3v3h-3zm15 0h3v3h-3zm6 0h3v3h-3zm15 0h3v3h-3zm6 0h3v3h-3zm18 0h3v3h-3zm9 0h3v3h-3zm30 0h3v3h-3zm18 0h3v3h-3zm3 0h3v3h-3zm-123 3h3v3h-3zm6 0h3v3h-3zm3 0h3v3h-3zm3 0h3v3h-3zm3 0h3v3h-3zm12 0h3v3h-3zm12 0h3v3h-3zm15 0h3v3h-3zm24 0h3v3h-3zm12 0h3v3h-3zm27 0h3v3h-3zm6 0h3v3h-3zm3 0h3v3h-3zm6 0h3v3h-3zm3 0h3v3h-3zm-141 3h3v3h-3zm3 0h3v3h-3zm3 0h3v3h-3zm3 0h3v3h-3zm9 0h3v3h-3zm3 0h3v3h-3zm3 0h3v3h-3zm6 0h3v3h-3zm9 0h3v3h-3zm3 0h3v3h-3zm36 0h3v3h-3zm3 0h3v3h-3zm3 0h3v3h-3zm39 0h3v3h-3zm3 0h3v3h-3zm9 0h3v3h-3zm-132 3h3v3h-3zm6 0h3v3h-3zm6 0h3v3h-3zm9 0h3v3h-3zm6 0h3v3h-3zm24 0h3v3h-3zm3 0h3v3h-3zm3 0h3v3h-3zm24 0h3v3h-3zm6 0h3v3h-3zm3 0h3v3h-3zm3 0h3v3h-3zm6 0h3v3h-3zm12 0h3v3h-3zm12 0h3v3h-3zm6 0h3v3h-3zm-132 3h3v3h-3zm9 0h3v3h-3zm9 0h3v3h-3zm3 0h3v3h-3zm15 0h3v3h-3zm6 0h3v3h-3zm3 0h3v3h-3zm9 0h3v3h-3zm12 0h3v3h-3zm15 0h3v3h-3zm30 0h3v3h-3zm21 0h3v3h-3zm-126 3h3v3h-3zm3 0h3v3h-3zm24 0h3v3h-3zm3 0h3v3h-3zm3 0h3v3h-3zm9 0h3v3h-3zm3 0h3v3h-3zm9 0h3v3h-3zm12 0h3v3h-3zm15 0h3v3h-3zm3 0h3v3h-3zm21 0h3v3h-3zm3 0h3v3h-3zm3 0h3v3h-3zm-105 3h3v3h-3zm3 0h3v3h-3zm30 0h3v3h-3zm3 0h3v3h-3zm27 0h3v3h-3zm3 0h3v3h-3zm6 0h3v3h-3zm30 0h3v3h-3zm6 0h3v3h-3zm3 0h3v3h-3zm12 0h3v3h-3zm-135 3h3v3h-3zm6 0h3v3h-3zm45 0h3v3h-3zm6 0h3v3h-3zm3 0h3v3h-3zm21 0h3v3h-3zm6 0h3v3h-3zm9 0h3v3h-3zm24 0h3v3h-3zm6 0h3v3h-3zm3 0h3v3h-3zm-120 3h3v3h-3zm24 0h3v3h-3zm18 0h3v3h-3zm6 0h3v3h-3zm24 0h3v3h-3zm12 0h3v3h-3zm18 0h3v3h-3zm-108 3h3v3h-3zm3 0h3v3h-3zm3 0h3v3h-3zm54 0h3v3h-3zm3 0h3v3h-3zm3 0h3v3h-3zm9 0h3v3h-3zm15 0h3v3h-3zm21 0h3v3h-3zm3 0h3v3h-3zm9 0h3v3h-3zm-126 3h3v3h-3zm12 0h3v3h-3zm27 0h3v3h-3zm6 0h3v3h-3zm9 0h3v3h-3zm9 0h3v3h-3zm6 0h3v3h-3zm12 0h3v3h-3zm3 0h3v3h-3zm3 0h3v3h-3zm6 0h3v3h-3zm3 0h3v3h-3zm12 0h3v3h-3zm9 0h3v3h-3zm-108 3h3v3h-3zm3 0h3v3h-3zm33 0h3v3h-3zm3 0h3v3h-3zm3 0h3v3h-3zm6 0h3v3h-3zm15 0h3v3h-3zm3 0h3v3h-3zm3 0h3v3h-3zm21 0h3v3h-3zm18 0h3v3h-3zm12 0h3v3h-3zm-99 3h3v3h-3zm9 0h3v3h-3zm3 0h3v3h-3zm12 0h3v3h-3zm9 0h3v3h-3zm6 0h3v3h-3zm12 0h3v3h-3zm3 0h3v3h-3zm9 0h3v3h-3zm18 0h3v3h-3zm3 0h3v3h-3zm15 0h3v3h-3zm6 0h3v3h-3z"/><path fill="#00ec00" d="M24 0h3v3h-3zm3 0h3v3h-3zm3 0h3v3h-3zm18 0h3v3h-3zm6 0h3v3h-3zm33 0h3v3h-3zm21 0h3v3h-3zm6 0h3v3h-3zm18 0h3v3h-3zm-108 3h3v3h-3zm87 0h3v3h-3zm6 0h3v3h-3zm6 0h3v3h-3zm6 0h3v3h-3zm3 0h3v3h-3zm3 0h3v3h-3zm-126 3h3v3h-3zm6 0h3v3h-3zm6 0h3v3h-3zm3 0h3v3h-3zm33 0h3v3h-3zm3 0h3v3h-3zm9 0h3v3h-3zm24 0h3v3h-3zm3 0h3v3h-3zm9 0h3v3h-3zm12 0h3v3h-3zm6 0h3v3h-3zm9 0h3v3h-3zm3 0h3v3h-3zm-120 3h3v3h-3zm9 0h3v3h-3zm30 0h3v3h-3zm3 0h3v3h-3zm3 0h3v3h-3zm3 0h3v3h-3zm3 0h3v3h-3zm3 0h3v3h-3zm18 0h3v3h-3zm24 0h3v3h-3zm12 0h3v3h-3zm3 0h3v3h-3zm-75 3h3v3h-3zm12 0h3v3h-3zm6 0h3v3h-3zm3 0h3v3h-3zm45 0h3v3h-3zm-63 3h3v3h-3zm3 0h3v3h-3zm6 0h3v3h-3zm6 0h3v3h-3zm6 0h3v3h-3zm3 0h3v3h-3zm6 0h3v3h-3zm-75 3h3v3h-3zm27 0h3v3h-3zm3 0h3v3h-3zm18 0h3v3h-3zm3 0h3v3h-3zm12 0h3v3h-3zm3 0h3v3h-3zm6 0h3v3h-3zm9 0h3v3h-3zm3 0h3v3h-3zm3 0h3v3h-3zm3 0h3v3h-3zm-96 3h3v3h-3zm6 0h3v3h-3zm3 0h3v3h-3zm27 0h3v3h-3zm33 0h3v3h-3zm-33 3h3v3h-3zm30 0h3v3h-3zm-63 3h3v3h-3zm3 0h3v3h-3zm3 0h3v3h-3zm36 0h3v3h-3zm27 0h3v3h-3zm-27 3h3v3h-3zm9 0h3v3h-3zm3 0h3v3h-3zm51 0h3v3h-3zm6 0h3v3h-3zm12 0h3v3h-3zm-117 3h3v3h-3zm27 0h3v3h-3zm24 0h3v3h-3zm6 0h3v3h-3zm45 0h3v3h-3zm3 0h3v3h-3zm6 0h3v3h-3zm-114 3h3v3h-3zm3 0h3v3h-3zm21 0h3v3h-3zm27 0h3v3h-3zm3 0h3v3h-3zm18 0h3v3h-3zm30 0h3v3h-3zm3 0h3v3h-3zm3 0h3v3h-3zm3 0h3v3h-3zm3 0h3v3h-3zm-114 3h3v3h-3zm3 0h3v3h-3zm45 0h3v3h-3zm54 0h3v3h-3zm3 0h3v3h-3zm3 0h3v3h-3zm-114 3h3v3h-3zm6 0h3v3h-3zm12 0h3v3h-3zm57 0h3v3h-3zm30 0h3v3h-3zm6 0h3v3h-3zm3 0h3v3h-3zm6 0h3v3h-3zm6 0h3v3h-3zm-126 3h3v3h-3zm6 0h3v3h-3zm3 0h3v3h-3zm6 0h3v3h-3zm36 0h3v3h-3zm24 0h3v3h-3zm3 0h3v3h-3zm27 0h3v3h-3zm3 0h3v3h-3zm6 0h3v3h-3zm3 0h3v3h-3zm3 0h3v3h-3zm9 0h3v3h-3zm9 0h3v3h-3zm-135 3h3v3h-3zm3 0h3v3h-3zm3 0h3v3h-3zm18 0h3v3h-3zm21 0h3v3h-3zm27 0h3v3h-3zm3 0h3v3h-3zm3 0h3v3h-3zm3 0h3v3h-3zm3 0h3v3h-3zm15 0h3v3h-3zm33 0h3v3h-3zm-135 3h3v3h-3zm9 0h3v3h-3zm3 0h3v3h-3zm18 0h3v3h-3zm24 0h3v3h-3zm18 0h3v3h-3zm9 0h3v3h-3zm9 0h3v3h-3zm9 0h3v3h-3zm6 0h3v3h-3zm24 0h3v3h-3zm3 0h3v3h-3zm-126 3h3v3h-3zm6 0h3v3h-3zm18 0h3v3h-3zm21 0h3v3h-3zm3 0h3v3h-3zm3 0h3v3h-3zm3 0h3v3h-3zm12 0h3v3h-3zm6 0h3v3h-3zm9 0h3v3h-3zm9 0h3v3h-3zm3 0h3v3h-3zm18 0h3v3h-3zm18 0h3v3h-3zm-138 3h3v3h-3zm3 0h3v3h-3zm3 0h3v3h-3zm57 0h3v3h-3zm24 0h3v3h-3zm6 0h3v3h-3zm3 0h3v3h-3zm3 0h3v3h-3zm3 0h3v3h-3zm3 0h3v3h-3zm6 0h3v3h-3zm18 0h3v3h-3zm3 0h3v3h-3zm6 0h3v3h-3zm-132 3h3v3h-3zm6 0h3v3h-3zm9 0h3v3h-3zm18 0h3v3h-3zm18 0h3v3h-3zm30 0h3v3h-3zm3 0h3v3h-3zm9 0h3v3h-3zm3 0h3v3h-3zm39 0h3v3h-3zm-120 3h3v3h-3zm63 0h3v3h-3zm12 0h3v3h-3zm6 0h3v3h-3zm3 0h3v3h-3zm12 0h3v3h-3zm3 0h3v3h-3zm-99 3h3v3h-3zm3 0h3v3h-3zm75 0h3v3h-3zm9 0h3v3h-3zm27 0h3v3h-3zm-123 3h3v3h-3zm90 0h3v3h-3zm36 0h3v3h-3zm-126 3h3v3h-3zm9 0h3v3h-3zm42 0h3v3h-3zm15 0h3v3h-3zm3 0h3v3h-3zm15 0h3v3h-3zm3 0h3v3h-3zm6 0h3v3h-3zm33 0h3v3h-3zm-57 3h3v3h-3zm12 0h3v3h-3zm3 0h3v3h-3zm3 0h3v3h-3zm3 0h3v3h-3zm15 0h3v3h-3zm21 0h3v3h-3zm3 0h3v3h-3zm-129 3h3v3h-3zm51 0h3v3h-3zm12 0h3v3h-3zm15 0h3v3h-3zm3 0h3v3h-3zm3 0h3v3h-3zm6 0h3v3h-3zm12 0h3v3h-3zm-78 3h3v3h-3zm33 0h3v3h-3zm21 0h3v3h-3zm3 0h3v3h-3zm3 0h3v3h-3zm9 0h3v3h-3zm3 0h3v3h-3zm3 0h3v3h-3zm-99 3h3v3h-3zm6 0h3v3h-3zm3 0h3v3h-3zm45 0h3v3h-3zm6 0h3v3h-3zm42 0h3v3h-3zm-105 3h3v3h-3zm18 0h3v3h-3zm6 0h3v3h-3zm18 0h3v3h-3zm15 0h3v3h-3zm3 0h3v3h-3zm3 0h3v3h-3zm36 0h3v3h-3zm3 0h3v3h-3zm-99 3h3v3h-3zm24 0h3v3h-3zm30 0h3v3h-3zm6 0h3v3h-3zm9 0h3v3h-3zm24 0h3v3h-3zm-102 3h3v3h-3zm9 0h3v3h-3zm6 0h3v3h-3zm12 0h3v3h-3zm6 0h3v3h-3zm12 0h3v3h-3zm18 0h3v3h-3zm6 0h3v3h-3zm12 0h3v3h-3zm42 0h3v3h-3zm-105 3h3v3h-3zm6 0h3v3h-3zm6 0h3v3h-3zm18 0h3v3h-3zm21 0h3v3h-3zm12 0h3v3h-3zm15 0h3v3h-3zm3 0h3v3h-3zm-21 3h3v3h-3zm18 0h3v3h-3zm21 0h3v3h-3zm-111 3h3v3h-3zm21 0h3v3h-3zm6 0h3v3h-3zm-30 3h3v3h-3zm6 0h3v3h-3zm30 0h3v3h-3zm39 0h3v3h-3zm9 0h3v3h-3zm3 0h3v3h-3zm3 0h3v3h-3zm3 0h3v3h-3zm39 0h3v3h-3zm-108 3h3v3h-3zm6 0h3v3h-3zm12 0h3v3h-3zm51 0h3v3h-3zm-66 3h3v3h-3zm3 0h3v3h-3zm9 0h3v3h-3zm12 0h3v3h-3zm30 0h3v3h-3zm6 0h3v3h-3zm6 0h3v3h-3zm30 0h3v3h-3zm-129 3h3v3h-3zm18 0h3v3h-3zm18 0h3v3h-3zm6 0h3v3h-3zm6 0h3v3h-3zm27 0h3v3h-3zm12 0h3v3h-3zm42 0h3v3h-3zm-126 3h3v3h-3zm9 0h3v3h-3zm3 0h3v3h-3zm18 0h3v3h-3zm6 0h3v3h-3zm9 0h3v3h-3zm9 0h3v3h-3zm27 0h3v3h-3zm6 0h3v3h-3zm3 0h3v3h-3zm3 0h3v3h-3zm9 0h3v3h-3zm21 0h3v3h-3zm-126 3h3v3h-3zm3 0h3v3h-3zm9 0h3v3h-3zm3 0h3v3h-3zm27 0h3v3h-3zm12 0h3v3h-3zm3 0h3v3h-3zm18 0h3v3h-3zm9 0h3v3h-3zm-84 3h3v3h-3zm3 0h3v3h-3zm48 0h3v3h-3zm3 0h3v3h-3zm3 0h3v3h-3zm3 0h3v3h-3zm6 0h3v3h-3zm15 0h3v3h-3zm9 0h3v3h-3zm21 0h3v3h-3zm6 0h3v3h-3zm-75 3h3v3h-3zm6 0h3v3h-3zm6 0h3v3h-3zm18 0h3v3h-3zm45 0h3v3h-3zm6 0h3v3h-3zm-123 3h3v3h-3zm45 0h3v3h-3zm3 0h3v3h-3zm6 0h3v3h-3zm15 0h3v3h-3zm3 0h3v3h-3zm3 0h3v3h-3zm3 0h3v3h-3zm36 0h3v3h-3zm3 0h3v3h-3zm-102 3h3v3h-3zm15 0h3v3h-3zm6 0h3v3h-3zm3 0h3v3h-3zm3 0h3v3h-3zm3 0h3v3h-3zm3 0h3v3h-3zm3 0h3v3h-3zm24 0h3v3h-3zm6 0h3v3h-3zm6 0h3v3h-3zm12 0h3v3h-3zm-90 3h3v3h-3zm6 0h3v3h-3zm18 0h3v3h-3zm15 0h3v3h-3zm3 0h3v3h-3zm21 0h3v3h-3zm3 0h3v3h-3zm3 0h3v3h-3zm12 0h3v3h-3zm12 0h3v3h-3zm-99 3h3v3h-3zm12 0h3v3h-3zm18 0h3v3h-3zm3 0h3v3h-3zm3 0h3v3h-3zm3 0h3v3h-3zm12 0h3v3h-3zm9 0h3v3h-3zm18 0h3v3h-3zm3 0h3v3h-3zm3 0h3v3h-3zm3 0h3v3h-3zm3 0h3v3h-3zm27 0h3v3h-3zm-108 3h3v3h-3zm15 0h3v3h-3zm18 0h3v3h-3zm6 0h3v3h-3zm6 0h3v3h-3zm3 0h3v3h-3zm27 0h3v3h-3zm9 0h3v3h-3zm3 0h3v3h-3zm6 0h3v3h-3zm12 0h3v3h-3zm3 0h3v3h-3z"/></pattern>
<pattern id="pt_orange2" width="144" height="144" patternUnits="userSpaceOnUse" patternTransform="rotate(-26.7)"><rect width="144" height="144" fill="#f0b000"/><path fill="#e06800" d="M0 0h3v3h-3zm6 0h3v3h-3zm90 0h3v3h-3zm30 0h3v3h-3zm12 0h3v3h-3zm3 0h3v3h-3zm-60 3h3v3h-3zm15 0h3v3h-3zm3 0h3v3h-3zm33 0h3v3h-3zm6 0h3v3h-3zm3 0h3v3h-3zm-141 3h3v3h-3zm3 0h3v3h-3zm9 0h3v3h-3zm33 0h3v3h-3zm3 0h3v3h-3zm33 0h3v3h-3zm3 0h3v3h-3zm51 0h3v3h-3zm6 0h3v3h-3zm-138 3h3v3h-3zm69 0h3v3h-3zm66 0h3v3h-3zm-138 3h3v3h-3zm6 0h3v3h-3zm114 0h3v3h-3zm12 0h3v3h-3zm3 0h3v3h-3zm-129 3h3v3h-3zm24 0h3v3h-3zm12 0h3v3h-3zm6 0h3v3h-3zm66 0h3v3h-3zm3 0h3v3h-3zm3 0h3v3h-3zm9 0h3v3h-3zm3 0h3v3h-3zm9 0h3v3h-3zm-135 3h3v3h-3zm57 0h3v3h-3zm33 0h3v3h-3zm9 0h3v3h-3zm9 0h3v3h-3zm21 0h3v3h-3zm-33 3h3v3h-3zm3 0h3v3h-3zm3 0h3v3h-3zm21 0h3v3h-3zm6 0h3v3h-3zm-33 3h3v3h-3zm3 0h3v3h-3zm3 0h3v3h-3zm3 0h3v3h-3zm3 0h3v3h-3zm-99 3h3v3h-3zm9 0h3v3h-3zm81 0h3v3h-3zm3 0h3v3h-3zm6 0h3v3h-3zm-114 3h3v3h-3zm108 0h3v3h-3zm-108 3h3v3h-3zm27 3h3v3h-3zm57 0h3v3h-3zm21 0h3v3h-3zm3 0h3v3h-3zm-99 3h3v3h-3zm6 0h3v3h-3zm39 0h3v3h-3zm9 0h3v3h-3zm6 0h3v3h-3zm3 0h3v3h-3zm24 0h3v3h-3zm36 0h3v3h-3zm3 0h3v3h-3zm-135 3h3v3h-3zm6 0h3v3h-3zm18 0h3v3h-3zm6 0h3v3h-3zm33 0h3v3h-3zm3 0h3v3h-3zm3 0h3v3h-3zm27 0h3v3h-3zm3 0h3v3h-3zm9 0h3v3h-3zm12 0h3v3h-3zm-117 3h3v3h-3zm3 0h3v3h-3zm3 0h3v3h-3zm12 0h3v3h-3zm3 0h3v3h-3zm42 0h3v3h-3zm3 0h3v3h-3zm3 0h3v3h-3zm18 0h3v3h-3zm6 0h3v3h-3zm21 0h3v3h-3zm3 0h3v3h-3zm21 0h3v3h-3zm-141 3h3v3h-3zm3 0h3v3h-3zm24 0h3v3h-3zm36 0h3v3h-3zm3 0h3v3h-3zm21 0h3v3h-3zm9 0h3v3h-3zm36 0h3v3h-3zm-132 3h3v3h-3zm6 0h3v3h-3zm6 0h3v3h-3zm21 0h3v3h-3zm3 0h3v3h-3zm27 0h3v3h-3zm6 0h3v3h-3zm3 0h3v3h-3zm6 0h3v3h-3zm3 0h3v3h-3zm12 0h3v3h-3zm3 0h3v3h-3zm24 0h3v3h-3zm18 0h3v3h-3zm-138 3h3v3h-3zm3 0h3v3h-3zm3 0h3v3h-3zm63 0h3v3h-3zm9 0h3v3h-3zm3 0h3v3h-3zm3 0h3v3h-3zm6 0h3v3h-3zm51 0h3v3h-3zm-138 3h3v3h-3zm81 0h3v3h-3zm3 0h3v3h-3zm6 0h3v3h-3zm12 0h3v3h-3zm9 0h3v3h-3zm6 0h3v3h-3zm-120 3h3v3h-3zm6 0h3v3h-3zm18 0h3v3h-3zm57 0h3v3h-3zm3 0h3v3h-3zm12 0h3v3h-3zm27 0h3v3h-3zm-30 3h3v3h-3zm12 0h3v3h-3zm3 0h3v3h-3zm3 0h3v3h-3zm18 0h3v3h-3zm-126 3h3v3h-3zm21 0h3v3h-3zm60 0h3v3h-3zm9 0h3v3h-3zm3 0h3v3h-3zm3 0h3v3h-3zm3 0h3v3h-3zm3 0h3v3h-3zm6 0h3v3h-3zm27 0h3v3h-3zm-135 3h3v3h-3zm21 0h3v3h-3zm3 0h3v3h-3zm9 0h3v3h-3zm24 0h3v3h-3zm9 0h3v3h-3zm6 0h3v3h-3zm6 0h3v3h-3zm12 0h3v3h-3zm3 0h3v3h-3zm6 0h3v3h-3zm3 0h3v3h-3zm30 0h3v3h-3zm-132 3h3v3h-3zm27 0h3v3h-3zm12 0h3v3h-3zm33 0h3v3h-3zm15 0h3v3h-3zm6 0h3v3h-3zm39 0h3v3h-3zm3 0h3v3h-3zm-75 3h3v3h-3zm6 0h3v3h-3zm9 0h3v3h-3zm9 0h3v3h-3zm15 0h3v3h-3zm18 0h3v3h-3zm-111 3h3v3h-3zm21 0h3v3h-3zm21 0h3v3h-3zm12 0h3v3h-3zm21 0h3v3h-3zm3 0h3v3h-3zm3 0h3v3h-3zm-90 3h3v3h-3zm3 0h3v3h-3zm48 0h3v3h-3zm6 0h3v3h-3zm9 0h3v3h-3zm6 0h3v3h-3zm21 0h3v3h-3zm30 0h3v3h-3zm15 0h3v3h-3zm-105 3h3v3h-3zm6 0h3v3h-3zm3 0h3v3h-3zm6 0h3v3h-3zm15 0h3v3h-3zm9 0h3v3h-3zm18 0h3v3h-3zm3 0h3v3h-3zm33 0h3v3h-3zm9 0h3v3h-3zm3 0h3v3h-3zm-129 3h3v3h-3zm6 0h3v3h-3zm15 0h3v3h-3zm3 0h3v3h-3zm3 0h3v3h-3zm24 0h3v3h-3zm21 0h3v3h-3zm3 0h3v3h-3zm12 0h3v3h-3zm9 0h3v3h-3zm24 0h3v3h-3zm6 0h3v3h-3zm6 0h3v3h-3zm-123 3h3v3h-3zm18 0h3v3h-3zm9 0h3v3h-3zm18 0h3v3h-3zm12 0h3v3h-3zm51 0h3v3h-3zm-84 3h3v3h-3zm12 0h3v3h-3zm3 0h3v3h-3zm15 0h3v3h-3zm12 0h3v3h-3zm18 0h3v3h-3zm15 0h3v3h-3zm3 0h3v3h-3zm3 0h3v3h-3zm3 0h3v3h-3zm6 0h3v3h-3zm-105 3h3v3h-3zm33 0h3v3h-3zm3 0h3v3h-3zm3 0h3v3h-3zm42 0h3v3h-3zm6 0h3v3h-3zm3 0h3v3h-3zm-111 3h3v3h-3zm33 0h3v3h-3zm6 0h3v3h-3zm3 0h3v3h-3zm6 0h3v3h-3zm6 0h3v3h-3zm3 0h3v3h-3zm6 0h3v3h-3zm39 0h3v3h-3zm6 0h3v3h-3zm3 0h3v3h-3zm3 0h3v3h-3zm6 0h3v3h-3zm3 0h3v3h-3zm-87 3h3v3h-3zm3 0h3v3h-3zm12 0h3v3h-3zm3 0h3v3h-3zm3 0h3v3h-3zm3 0h3v3h-3zm39 0h3v3h-3zm6 0h3v3h-3zm-81 3h3v3h-3zm6 0h3v3h-3zm3 0h3v3h-3zm9 0h3v3h-3zm6 0h3v3h-3zm9 0h3v3h-3zm3 0h3v3h-3zm3 0h3v3h-3zm30 0h3v3h-3zm9 0h3v3h-3zm6 0h3v3h-3zm3 0h3v3h-3zm3 0h3v3h-3zm-117 3h3v3h-3zm15 0h3v3h-3zm3 0h3v3h-3zm39 0h3v3h-3zm3 0h3v3h-3zm3 0h3v3h-3zm21 0h3v3h-3zm-69 3h3v3h-3zm3 0h3v3h-3zm9 0h3v3h-3zm33 0h3v3h-3zm3 0h3v3h-3zm24 0h3v3h-3zm12 0h3v3h-3zm3 0h3v3h-3zm6 0h3v3h-3zm-111 3h3v3h-3zm108 0h3v3h-3zm21 0h3v3h-3zm3 0h3v3h-3zm-75 3h3v3h-3zm3 0h3v3h-3zm42 0h3v3h-3zm15 0h3v3h-3zm-96 3h3v3h-3zm9 0h3v3h-3zm48 0h3v3h-3zm36 0h3v3h-3zm-108 3h3v3h-3zm60 0h3v3h-3zm6 0h3v3h-3zm15 0h3v3h-3zm6 0h3v3h-3zm24 0h3v3h-3zm6 0h3v3h-3zm15 0h3v3h-3zm-132 3h3v3h-3zm15 0h3v3h-3zm3 0h3v3h-3zm6 0h3v3h-3zm3 0h3v3h-3zm30 0h3v3h-3zm-54 3h3v3h-3zm3 0h3v3h-3zm9 0h3v3h-3zm3 0h3v3h-3zm3 0h3v3h-3zm3 0h3v3h-3zm30 0h3v3h-3zm27 0h3v3h-3zm12 0h3v3h-3zm-87 3h3v3h-3zm9 0h3v3h-3zm6 0h3v3h-3zm30 0h3v3h-3zm3 0h3v3h-3zm3 0h3v3h-3zm3 0h3v3h-3zm6 0h3v3h-3zm9 0h3v3h-3zm6 0h3v3h-3zm3 0h3v3h-3zm15 0h3v3h-3zm12 0h3v3h-3zm3 0h3v3h-3zm3 0h3v3h-3zm9 0h3v3h-3zm-126 3h3v3h-3zm3 0h3v3h-3zm3 0h3v3h-3zm42 0h3v3h-3zm27 0h3v3h-3zm3 0h3v3h-3zm36 0h3v3h-3zm-117 3h3v3h-3zm30 0h3v3h-3zm3 0h3v3h-3zm27 0h3v3h-3zm6 0h3v3h-3zm3 0h3v3h-3zm6 0h3v3h-3zm3 0h3v3h-3zm9 0h3v3h-3zm3 0h3v3h-3zm12 0h3v3h-3zm9 0h3v3h-3zm15 0h3v3h-3zm3 0h3v3h-3zm-120 3h3v3h-3zm3 0h3v3h-3zm57 0h3v3h-3zm3 0h3v3h-3zm3 0h3v3h-3zm12 0h3v3h-3zm6 0h3v3h-3zm9 0h3v3h-3zm24 0h3v3h-3zm12 0h3v3h-3z"/><path fill="#ec9000" d="M3 0h3v3h-3zm15 0h3v3h-3zm6 0h3v3h-3zm24 0h3v3h-3zm24 0h3v3h-3zm3 0h3v3h-3zm18 0h3v3h-3zm6 0h3v3h-3zm3 0h3v3h-3zm33 0h3v3h-3zm-132 3h3v3h-3zm3 0h3v3h-3zm15 0h3v3h-3zm66 0h3v3h-3zm15 0h3v3h-3zm24 0h3v3h-3zm9 0h3v3h-3zm-57 3h3v3h-3zm9 0h3v3h-3zm9 0h3v3h-3zm-96 3h3v3h-3zm6 0h3v3h-3zm45 0h3v3h-3zm15 0h3v3h-3zm12 0h3v3h-3zm3 0h3v3h-3zm18 0h3v3h-3zm27 0h3v3h-3zm15 0h3v3h-3zm-111 3h3v3h-3zm9 0h3v3h-3zm6 0h3v3h-3zm96 0h3v3h-3zm-141 3h3v3h-3zm9 0h3v3h-3zm9 0h3v3h-3zm21 0h3v3h-3zm57 0h3v3h-3zm-69 3h3v3h-3zm24 0h3v3h-3zm51 0h3v3h-3zm6 0h3v3h-3zm9 0h3v3h-3zm9 0h3v3h-3zm3 0h3v3h-3zm3 0h3v3h-3zm9 0h3v3h-3zm-141 3h3v3h-3zm6 0h3v3h-3zm15 0h3v3h-3zm15 0h3v3h-3zm3 0h3v3h-3zm57 0h3v3h-3zm3 0h3v3h-3zm12 0h3v3h-3zm3 0h3v3h-3zm6 0h3v3h-3zm3 0h3v3h-3zm-99 3h3v3h-3zm72 0h3v3h-3zm33 0h3v3h-3zm12 0h3v3h-3zm-141 3h3v3h-3zm3 0h3v3h-3zm24 0h3v3h-3zm72 0h3v3h-3zm-66 3h3v3h-3zm66 0h3v3h-3zm6 0h3v3h-3zm6 0h3v3h-3zm15 0h3v3h-3zm3 0h3v3h-3zm-108 3h3v3h-3zm6 0h3v3h-3zm3 0h3v3h-3zm39 0h3v3h-3zm27 0h3v3h-3zm3 0h3v3h-3zm9 0h3v3h-3zm15 0h3v3h-3zm-102 3h3v3h-3zm39 0h3v3h-3zm9 0h3v3h-3zm-48 3h3v3h-3zm9 0h3v3h-3zm81 0h3v3h-3zm-102 3h3v3h-3zm6 0h3v3h-3zm36 0h3v3h-3zm9 0h3v3h-3zm42 0h3v3h-3zm15 0h3v3h-3zm12 0h3v3h-3zm-93 3h3v3h-3zm21 0h3v3h-3zm6 0h3v3h-3zm75 0h3v3h-3zm-132 3h3v3h-3zm3 0h3v3h-3zm3 0h3v3h-3zm6 0h3v3h-3zm3 0h3v3h-3zm30 0h3v3h-3zm18 0h3v3h-3zm48 0h3v3h-3zm-114 3h3v3h-3zm6 0h3v3h-3zm15 0h3v3h-3zm6 0h3v3h-3zm18 0h3v3h-3zm9 0h3v3h-3zm18 0h3v3h-3zm66 0h3v3h-3zm-126 3h3v3h-3zm21 0h3v3h-3zm18 0h3v3h-3zm12 0h3v3h-3zm6 0h3v3h-3zm24 0h3v3h-3zm3 0h3v3h-3zm33 0h3v3h-3zm-132 3h3v3h-3zm15 0h3v3h-3zm12 0h3v3h-3zm9 0h3v3h-3zm18 0h3v3h-3zm21 0h3v3h-3zm6 0h3v3h-3zm15 0h3v3h-3zm3 0h3v3h-3zm18 0h3v3h-3zm-102 3h3v3h-3zm15 0h3v3h-3zm3 0h3v3h-3zm6 0h3v3h-3zm39 0h3v3h-3zm12 0h3v3h-3zm3 0h3v3h-3zm9 0h3v3h-3zm6 0h3v3h-3zm3 0h3v3h-3zm18 0h3v3h-3zm12 0h3v3h-3zm-141 3h3v3h-3zm3 0h3v3h-3zm3 0h3v3h-3zm21 0h3v3h-3zm3 0h3v3h-3zm57 0h3v3h-3zm3 0h3v3h-3zm12 0h3v3h-3zm12 0h3v3h-3zm27 0h3v3h-3zm-135 3h3v3h-3zm3 0h3v3h-3zm39 0h3v3h-3zm24 0h3v3h-3zm6 0h3v3h-3zm3 0h3v3h-3zm9 0h3v3h-3zm42 0h3v3h-3zm3 0h3v3h-3zm6 0h3v3h-3zm-141 3h3v3h-3zm6 0h3v3h-3zm27 0h3v3h-3zm12 0h3v3h-3zm27 0h3v3h-3zm12 0h3v3h-3zm15 0h3v3h-3zm9 0h3v3h-3zm3 0h3v3h-3zm18 0h3v3h-3zm3 0h3v3h-3zm6 0h3v3h-3zm3 0h3v3h-3zm-141 3h3v3h-3zm9 0h3v3h-3zm57 0h3v3h-3zm6 0h3v3h-3zm30 0h3v3h-3zm12 0h3v3h-3zm6 0h3v3h-3zm21 0h3v3h-3zm-129 3h3v3h-3zm9 0h3v3h-3zm15 0h3v3h-3zm18 0h3v3h-3zm21 0h3v3h-3zm15 0h3v3h-3zm15 0h3v3h-3zm12 0h3v3h-3zm15 0h3v3h-3zm-87 3h3v3h-3zm9 0h3v3h-3zm12 0h3v3h-3zm15 0h3v3h-3zm18 0h3v3h-3zm24 0h3v3h-3zm-87 3h3v3h-3zm6 0h3v3h-3zm27 0h3v3h-3zm6 0h3v3h-3zm6 0h3v3h-3zm3 0h3v3h-3zm3 0h3v3h-3zm21 0h3v3h-3zm24 0h3v3h-3zm9 0h3v3h-3zm-135 3h3v3h-3zm3 0h3v3h-3zm45 0h3v3h-3zm3 0h3v3h-3zm3 0h3v3h-3zm15 0h3v3h-3zm3 0h3v3h-3zm21 0h3v3h-3zm30 0h3v3h-3zm3 0h3v3h-3zm-129 3h3v3h-3zm51 0h3v3h-3zm15 0h3v3h-3zm3 0h3v3h-3zm15 0h3v3h-3zm6 0h3v3h-3zm6 0h3v3h-3zm3 0h3v3h-3zm9 0h3v3h-3zm12 0h3v3h-3zm-120 3h3v3h-3zm3 0h3v3h-3zm48 0h3v3h-3zm3 0h3v3h-3zm9 0h3v3h-3zm15 0h3v3h-3zm3 0h3v3h-3zm6 0h3v3h-3zm18 0h3v3h-3zm12 0h3v3h-3zm9 0h3v3h-3zm-126 3h3v3h-3zm3 0h3v3h-3zm3 0h3v3h-3zm15 0h3v3h-3zm105 0h3v3h-3zm-123 3h3v3h-3zm6 0h3v3h-3zm6 0h3v3h-3zm12 0h3v3h-3zm3 0h3v3h-3zm3 0h3v3h-3zm18 0h3v3h-3zm3 0h3v3h-3zm15 0h3v3h-3zm12 0h3v3h-3zm6 0h3v3h-3zm12 0h3v3h-3zm3 0h3v3h-3zm6 0h3v3h-3zm9 0h3v3h-3zm3 0h3v3h-3zm15 0h3v3h-3zm-96 3h3v3h-3zm15 0h3v3h-3zm54 0h3v3h-3zm12 0h3v3h-3zm9 0h3v3h-3zm-129 3h3v3h-3zm18 0h3v3h-3zm6 0h3v3h-3zm6 0h3v3h-3zm6 0h3v3h-3zm36 0h3v3h-3zm21 0h3v3h-3zm6 0h3v3h-3zm21 0h3v3h-3zm9 0h3v3h-3zm-117 3h3v3h-3zm9 0h3v3h-3zm27 0h3v3h-3zm6 0h3v3h-3zm-33 3h3v3h-3zm12 0h3v3h-3zm36 0h3v3h-3zm3 0h3v3h-3zm30 0h3v3h-3zm3 0h3v3h-3zm3 0h3v3h-3zm-51 3h3v3h-3zm9 0h3v3h-3zm3 0h3v3h-3zm3 0h3v3h-3zm21 0h3v3h-3zm3 0h3v3h-3zm9 0h3v3h-3zm15 0h3v3h-3zm-102 3h3v3h-3zm51 0h3v3h-3zm18 0h3v3h-3zm3 0h3v3h-3zm9 0h3v3h-3zm3 0h3v3h-3zm6 0h3v3h-3zm6 0h3v3h-3zm-111 3h3v3h-3zm21 0h3v3h-3zm9 0h3v3h-3zm27 0h3v3h-3zm33 0h3v3h-3zm3 0h3v3h-3zm27 0h3v3h-3zm3 0h3v3h-3zm-126 3h3v3h-3zm24 0h3v3h-3zm96 0h3v3h-3zm15 0h3v3h-3zm-135 3h3v3h-3zm9 0h3v3h-3zm12 0h3v3h-3zm6 0h3v3h-3zm27 0h3v3h-3zm3 0h3v3h-3zm30 0h3v3h-3zm-90 3h3v3h-3zm3 0h3v3h-3zm12 0h3v3h-3zm12 0h3v3h-3zm39 0h3v3h-3zm18 0h3v3h-3zm6 0h3v3h-3zm3 0h3v3h-3zm3 0h3v3h-3zm21 0h3v3h-3zm9 0h3v3h-3zm-93 3h3v3h-3zm24 0h3v3h-3zm9 0h3v3h-3zm6 0h3v3h-3zm6 0h3v3h-3zm12 0h3v3h-3zm3 0h3v3h-3zm3 0h3v3h-3zm6 0h3v3h-3zm33 0h3v3h-3zm6 0h3v3h-3zm-141 3h3v3h-3zm24 0h3v3h-3zm6 0h3v3h-3zm3 0h3v3h-3zm18 0h3v3h-3zm24 0h3v3h-3zm18 0h3v3h-3zm6 0h3v3h-3zm12 0h3v3h-3zm15 0h3v3h-3zm3 0h3v3h-3zm-126 3h3v3h-3zm15 0h3v3h-3zm3 0h3v3h-3zm3 0h3v3h-3zm3 0h3v3h-3zm6 0h3v3h-3zm3 0h3v3h-3zm24 0h3v3h-3zm27 0h3v3h-3zm6 0h3v3h-3zm18 0h3v3h-3zm3 0h3v3h-3zm-114 3h3v3h-3zm12 0h3v3h-3zm3 0h3v3h-3zm42 0h3v3h-3zm9 0h3v3h-3zm9 0h3v3h-3zm9 0h3v3h-3zm36 0h3v3h-3zm3 0h3v3h-3zm12 0h3v3h-3zm3 0h3v3h-3zm-129 3h3v3h-3zm15 0h3v3h-3zm12 0h3v3h-3zm6 0h3v3h-3zm39 0h3v3h-3z"/><path fill="#f0c800" d="M15 0h3v3h-3zm15 0h3v3h-3zm48 0h3v3h-3zm3 0h3v3h-3zm27 0h3v3h-3zm12 0h3v3h-3zm-105 3h3v3h-3zm9 0h3v3h-3zm9 0h3v3h-3zm9 0h3v3h-3zm12 0h3v3h-3zm3 0h3v3h-3zm3 0h3v3h-3zm6 0h3v3h-3zm9 0h3v3h-3zm33 0h3v3h-3zm3 0h3v3h-3zm-105 3h3v3h-3zm3 0h3v3h-3zm18 0h3v3h-3zm15 0h3v3h-3zm9 0h3v3h-3zm3 0h3v3h-3zm18 0h3v3h-3zm18 0h3v3h-3zm3 0h3v3h-3zm39 0h3v3h-3zm-120 3h3v3h-3zm15 0h3v3h-3zm3 0h3v3h-3zm18 0h3v3h-3zm9 0h3v3h-3zm6 0h3v3h-3zm6 0h3v3h-3zm21 0h3v3h-3zm15 0h3v3h-3zm15 0h3v3h-3zm-105 3h3v3h-3zm9 0h3v3h-3zm12 0h3v3h-3zm12 0h3v3h-3zm12 0h3v3h-3zm9 0h3v3h-3zm6 0h3v3h-3zm27 0h3v3h-3zm15 0h3v3h-3zm-96 3h3v3h-3zm6 0h3v3h-3zm18 0h3v3h-3zm15 0h3v3h-3zm6 0h3v3h-3zm33 0h3v3h-3zm3 0h3v3h-3zm33 0h3v3h-3zm-135 3h3v3h-3zm30 0h3v3h-3zm3 0h3v3h-3zm6 0h3v3h-3zm9 0h3v3h-3zm72 0h3v3h-3zm18 0h3v3h-3zm-81 3h3v3h-3zm9 0h3v3h-3zm3 0h3v3h-3zm12 0h3v3h-3zm6 0h3v3h-3zm3 0h3v3h-3zm3 0h3v3h-3zm45 0h3v3h-3zm-108 3h3v3h-3zm15 0h3v3h-3zm9 0h3v3h-3zm15 0h3v3h-3zm15 0h3v3h-3zm6 0h3v3h-3zm30 0h3v3h-3zm6 0h3v3h-3zm6 0h3v3h-3zm3 0h3v3h-3zm3 0h3v3h-3zm-102 3h3v3h-3zm3 0h3v3h-3zm45 0h3v3h-3zm12 0h3v3h-3zm15 0h3v3h-3zm18 0h3v3h-3zm3 0h3v3h-3zm-129 3h3v3h-3zm3 0h3v3h-3zm3 0h3v3h-3zm39 0h3v3h-3zm24 0h3v3h-3zm42 0h3v3h-3zm3 0h3v3h-3zm3 0h3v3h-3zm-102 3h3v3h-3zm42 0h3v3h-3zm18 0h3v3h-3zm42 0h3v3h-3zm9 0h3v3h-3zm3 0h3v3h-3zm6 0h3v3h-3zm3 0h3v3h-3zm-141 3h3v3h-3zm3 0h3v3h-3zm30 0h3v3h-3zm54 0h3v3h-3zm12 0h3v3h-3zm12 0h3v3h-3zm3 0h3v3h-3zm6 0h3v3h-3zm3 0h3v3h-3zm12 0h3v3h-3zm-132 3h3v3h-3zm15 0h3v3h-3zm6 0h3v3h-3zm3 0h3v3h-3zm18 0h3v3h-3zm3 0h3v3h-3zm3 0h3v3h-3zm6 0h3v3h-3zm9 0h3v3h-3zm24 0h3v3h-3zm27 0h3v3h-3zm9 0h3v3h-3zm-108 3h3v3h-3zm18 0h3v3h-3zm48 0h3v3h-3zm6 0h3v3h-3zm24 0h3v3h-3zm-96 3h3v3h-3zm9 0h3v3h-3zm51 0h3v3h-3zm3 0h3v3h-3zm3 0h3v3h-3zm21 0h3v3h-3zm6 0h3v3h-3zm12 0h3v3h-3zm6 0h3v3h-3zm-114 3h3v3h-3zm15 0h3v3h-3zm45 0h3v3h-3zm3 0h3v3h-3zm6 0h3v3h-3zm9 0h3v3h-3zm9 0h3v3h-3zm12 0h3v3h-3zm9 0h3v3h-3zm3 0h3v3h-3zm15 0h3v3h-3zm-123 3h3v3h-3zm3 0h3v3h-3zm21 0h3v3h-3zm93 0h3v3h-3zm-123 3h3v3h-3zm18 0h3v3h-3zm9 0h3v3h-3zm24 0h3v3h-3zm39 0h3v3h-3zm9 0h3v3h-3zm6 0h3v3h-3zm9 0h3v3h-3zm-108 3h3v3h-3zm12 0h3v3h-3zm39 0h3v3h-3zm3 0h3v3h-3zm36 0h3v3h-3zm15 0h3v3h-3zm3 0h3v3h-3zm9 0h3v3h-3zm6 0h3v3h-3zm-138 3h3v3h-3zm6 0h3v3h-3zm3 0h3v3h-3zm15 0h3v3h-3zm9 0h3v3h-3zm51 0h3v3h-3zm30 0h3v3h-3zm18 0h3v3h-3zm-126 3h3v3h-3zm6 0h3v3h-3zm30 0h3v3h-3zm27 0h3v3h-3zm6 0h3v3h-3zm6 0h3v3h-3zm-42 3h3v3h-3zm9 0h3v3h-3zm15 0h3v3h-3zm9 0h3v3h-3zm39 0h3v3h-3zm9 0h3v3h-3zm3 0h3v3h-3zm-117 3h3v3h-3zm45 0h3v3h-3zm33 0h3v3h-3zm3 0h3v3h-3zm30 0h3v3h-3zm-108 3h3v3h-3zm12 0h3v3h-3zm9 0h3v3h-3zm15 0h3v3h-3zm6 0h3v3h-3zm3 0h3v3h-3zm3 0h3v3h-3zm3 0h3v3h-3zm15 0h3v3h-3zm6 0h3v3h-3zm15 0h3v3h-3zm30 0h3v3h-3zm3 0h3v3h-3zm-93 3h3v3h-3zm18 0h3v3h-3zm24 0h3v3h-3zm3 0h3v3h-3zm12 0h3v3h-3zm18 0h3v3h-3zm21 0h3v3h-3zm6 0h3v3h-3zm-129 3h3v3h-3zm12 0h3v3h-3zm9 0h3v3h-3zm3 0h3v3h-3zm12 0h3v3h-3zm30 0h3v3h-3zm24 0h3v3h-3zm12 0h3v3h-3zm21 0h3v3h-3zm6 0h3v3h-3zm-126 3h3v3h-3zm3 0h3v3h-3zm9 0h3v3h-3zm3 0h3v3h-3zm9 0h3v3h-3zm9 0h3v3h-3zm12 0h3v3h-3zm3 0h3v3h-3zm54 0h3v3h-3zm3 0h3v3h-3zm-36 3h3v3h-3zm3 0h3v3h-3zm9 0h3v3h-3zm15 0h3v3h-3zm6 0h3v3h-3zm-75 3h3v3h-3zm24 0h3v3h-3zm9 0h3v3h-3zm15 0h3v3h-3zm24 0h3v3h-3zm6 0h3v3h-3zm-120 3h3v3h-3zm9 0h3v3h-3zm6 0h3v3h-3zm54 0h3v3h-3zm3 0h3v3h-3zm6 0h3v3h-3zm9 0h3v3h-3zm12 0h3v3h-3zm-69 3h3v3h-3zm6 0h3v3h-3zm39 0h3v3h-3zm6 0h3v3h-3zm6 0h3v3h-3zm3 0h3v3h-3zm3 0h3v3h-3zm6 0h3v3h-3zm36 0h3v3h-3zm-126 3h3v3h-3zm12 0h3v3h-3zm27 0h3v3h-3zm27 0h3v3h-3zm3 0h3v3h-3zm18 0h3v3h-3zm3 0h3v3h-3zm30 0h3v3h-3zm-120 3h3v3h-3zm12 0h3v3h-3zm3 0h3v3h-3zm9 0h3v3h-3zm42 0h3v3h-3zm3 0h3v3h-3zm27 0h3v3h-3zm-99 3h3v3h-3zm12 0h3v3h-3zm18 0h3v3h-3zm12 0h3v3h-3zm6 0h3v3h-3zm81 0h3v3h-3zm-135 3h3v3h-3zm18 0h3v3h-3zm15 0h3v3h-3zm12 0h3v3h-3zm30 0h3v3h-3zm9 0h3v3h-3zm39 0h3v3h-3zm6 0h3v3h-3zm-120 3h3v3h-3zm21 0h3v3h-3zm15 0h3v3h-3zm48 0h3v3h-3zm24 0h3v3h-3zm12 0h3v3h-3zm6 0h3v3h-3zm-129 3h3v3h-3zm27 0h3v3h-3zm21 0h3v3h-3zm3 0h3v3h-3zm21 0h3v3h-3zm42 0h3v3h-3zm6 0h3v3h-3zm-60 3h3v3h-3zm30 0h3v3h-3zm3 0h3v3h-3zm15 0h3v3h-3zm27 0h3v3h-3zm-117 3h3v3h-3zm18 0h3v3h-3zm12 0h3v3h-3zm15 0h3v3h-3zm3 0h3v3h-3zm9 0h3v3h-3zm3 0h3v3h-3zm9 0h3v3h-3zm15 0h3v3h-3zm12 0h3v3h-3zm3 0h3v3h-3zm12 0h3v3h-3zm-135 3h3v3h-3zm9 0h3v3h-3zm15 0h3v3h-3zm9 0h3v3h-3zm27 0h3v3h-3zm6 0h3v3h-3zm6 0h3v3h-3zm3 0h3v3h-3zm18 0h3v3h-3zm12 0h3v3h-3zm6 0h3v3h-3zm18 0h3v3h-3zm-93 3h3v3h-3zm12 0h3v3h-3zm21 0h3v3h-3zm6 0h3v3h-3zm6 0h3v3h-3zm15 0h3v3h-3zm18 0h3v3h-3zm12 0h3v3h-3zm3 0h3v3h-3zm6 0h3v3h-3zm-99 3h3v3h-3zm18 0h3v3h-3zm3 0h3v3h-3zm24 0h3v3h-3zm21 0h3v3h-3zm3 0h3v3h-3zm6 0h3v3h-3zm-93 3h3v3h-3zm45 0h3v3h-3zm6 0h3v3h-3zm12 0h3v3h-3zm27 0h3v3h-3zm15 0h3v3h-3zm9 0h3v3h-3zm6 0h3v3h-3zm-135 3h3v3h-3zm6 0h3v3h-3zm9 0h3v3h-3zm24 0h3v3h-3zm42 0h3v3h-3zm18 0h3v3h-3zm12 0h3v3h-3zm-114 3h3v3h-3zm39 0h3v3h-3zm33 0h3v3h-3zm30 0h3v3h-3zm36 0h3v3h-3zm-132 3h3v3h-3zm12 0h3v3h-3zm30 0h3v3h-3zm54 0h3v3h-3zm-99 3h3v3h-3zm45 0h3v3h-3zm3 0h3v3h-3zm12 0h3v3h-3zm39 0h3v3h-3z"/><path fill="#c8dc00" d="M27 0h3v3h-3zm6 0h3v3h-3zm9 0h3v3h-3zm9 0h3v3h-3zm3 0h3v3h-3zm3 0h3v3h-3zm6 0h3v3h-3zm54 0h3v3h-3zm6 0h3v3h-3zm-114 3h3v3h-3zm9 0h3v3h-3zm9 0h3v3h-3zm12 0h3v3h-3zm12 0h3v3h-3zm12 0h3v3h-3zm51 0h3v3h-3zm3 0h3v3h-3zm3 0h3v3h-3zm-105 3h3v3h-3zm6 0h3v3h-3zm3 0h3v3h-3zm6 0h3v3h-3zm3 0h3v3h-3zm3 0h3v3h-3zm27 0h3v3h-3zm48 0h3v3h-3zm9 0h3v3h-3zm-105 3h3v3h-3zm3 0h3v3h-3zm6 0h3v3h-3zm9 0h3v3h-3zm81 0h3v3h-3zm-102 3h3v3h-3zm6 0h3v3h-3zm15 0h3v3h-3zm24 0h3v3h-3zm24 0h3v3h-3zm6 0h3v3h-3zm3 0h3v3h-3zm18 0h3v3h-3zm3 0h3v3h-3zm-108 3h3v3h-3zm9 0h3v3h-3zm12 0h3v3h-3zm9 0h3v3h-3zm3 0h3v3h-3zm15 0h3v3h-3zm12 0h3v3h-3zm6 0h3v3h-3zm3 0h3v3h-3zm6 0h3v3h-3zm3 0h3v3h-3zm9 0h3v3h-3zm18 0h3v3h-3zm3 0h3v3h-3zm27 0h3v3h-3zm-120 3h3v3h-3zm6 0h3v3h-3zm30 0h3v3h-3zm3 0h3v3h-3zm12 0h3v3h-3zm3 0h3v3h-3zm3 0h3v3h-3zm3 0h3v3h-3zm3 0h3v3h-3zm3 0h3v3h-3zm3 0h3v3h-3zm36 0h3v3h-3zm-93 3h3v3h-3zm42 0h3v3h-3zm3 0h3v3h-3zm3 0h3v3h-3zm-78 3h3v3h-3zm18 0h3v3h-3zm15 0h3v3h-3zm3 0h3v3h-3zm3 0h3v3h-3zm3 0h3v3h-3zm6 0h3v3h-3zm3 0h3v3h-3zm21 0h3v3h-3zm6 0h3v3h-3zm-72 3h3v3h-3zm27 0h3v3h-3zm15 0h3v3h-3zm3 0h3v3h-3zm15 0h3v3h-3zm3 0h3v3h-3zm3 0h3v3h-3zm3 0h3v3h-3zm3 0h3v3h-3zm12 0h3v3h-3zm33 0h3v3h-3zm12 0h3v3h-3zm3 0h3v3h-3zm-126 3h3v3h-3zm3 0h3v3h-3zm3 0h3v3h-3zm3 0h3v3h-3zm9 0h3v3h-3zm6 0h3v3h-3zm3 0h3v3h-3zm3 0h3v3h-3zm3 0h3v3h-3zm6 0h3v3h-3zm3 0h3v3h-3zm3 0h3v3h-3zm3 0h3v3h-3zm3 0h3v3h-3zm3 0h3v3h-3zm30 0h3v3h-3zm-93 3h3v3h-3zm6 0h3v3h-3zm3 0h3v3h-3zm24 0h3v3h-3zm3 0h3v3h-3zm3 0h3v3h-3zm3 0h3v3h-3zm42 0h3v3h-3zm6 0h3v3h-3zm18 0h3v3h-3zm3 0h3v3h-3zm3 0h3v3h-3zm-108 3h3v3h-3zm6 0h3v3h-3zm3 0h3v3h-3zm21 0h3v3h-3zm6 0h3v3h-3zm3 0h3v3h-3zm3 0h3v3h-3zm21 0h3v3h-3zm3 0h3v3h-3zm3 0h3v3h-3zm18 0h3v3h-3zm30 0h3v3h-3zm6 0h3v3h-3zm9 0h3v3h-3zm-102 3h3v3h-3zm3 0h3v3h-3zm18 0h3v3h-3zm24 0h3v3h-3zm-57 3h3v3h-3zm12 0h3v3h-3zm6 0h3v3h-3zm27 0h3v3h-3zm3 0h3v3h-3zm6 0h3v3h-3zm45 0h3v3h-3zm6 0h3v3h-3zm9 0h3v3h-3zm-99 3h3v3h-3zm60 0h3v3h-3zm12 0h3v3h-3zm18 0h3v3h-3zm3 0h3v3h-3zm-90 3h3v3h-3zm3 0h3v3h-3zm42 0h3v3h-3zm15 0h3v3h-3zm3 0h3v3h-3zm3 0h3v3h-3zm-66 3h3v3h-3zm57 0h3v3h-3zm6 0h3v3h-3zm15 0h3v3h-3zm3 0h3v3h-3zm3 0h3v3h-3zm3 0h3v3h-3zm-114 3h3v3h-3zm3 0h3v3h-3zm30 0h3v3h-3zm36 0h3v3h-3zm6 0h3v3h-3zm15 0h3v3h-3zm30 0h3v3h-3zm-114 3h3v3h-3zm33 0h3v3h-3zm3 0h3v3h-3zm3 0h3v3h-3zm69 0h3v3h-3zm-114 3h3v3h-3zm3 0h3v3h-3zm21 0h3v3h-3zm3 0h3v3h-3zm9 0h3v3h-3zm3 0h3v3h-3zm3 0h3v3h-3zm3 0h3v3h-3zm3 0h3v3h-3zm33 0h3v3h-3zm-87 3h3v3h-3zm21 0h3v3h-3zm3 0h3v3h-3zm12 0h3v3h-3zm3 0h3v3h-3zm3 0h3v3h-3zm3 0h3v3h-3zm3 0h3v3h-3zm6 0h3v3h-3zm3 0h3v3h-3zm54 0h3v3h-3zm-111 3h3v3h-3zm6 0h3v3h-3zm15 0h3v3h-3zm6 0h3v3h-3zm18 0h3v3h-3zm60 0h3v3h-3zm-105 3h3v3h-3zm3 0h3v3h-3zm24 0h3v3h-3zm3 0h3v3h-3zm6 0h3v3h-3zm15 0h3v3h-3zm51 0h3v3h-3zm3 0h3v3h-3zm6 0h3v3h-3zm-108 3h3v3h-3zm3 0h3v3h-3zm51 0h3v3h-3zm18 0h3v3h-3zm24 0h3v3h-3zm-105 3h3v3h-3zm12 0h3v3h-3zm6 0h3v3h-3zm105 0h3v3h-3zm-129 3h3v3h-3zm18 0h3v3h-3zm3 0h3v3h-3zm21 0h3v3h-3zm15 0h3v3h-3zm36 0h3v3h-3zm12 0h3v3h-3zm3 0h3v3h-3zm3 0h3v3h-3zm6 0h3v3h-3zm3 0h3v3h-3zm9 0h3v3h-3zm-120 3h3v3h-3zm12 0h3v3h-3zm12 0h3v3h-3zm12 0h3v3h-3zm57 0h3v3h-3zm-87 3h3v3h-3zm6 0h3v3h-3zm3 0h3v3h-3zm3 0h3v3h-3zm18 0h3v3h-3zm24 0h3v3h-3zm39 0h3v3h-3zm15 0h3v3h-3zm-99 3h3v3h-3zm102 0h3v3h-3zm-105 3h3v3h-3zm3 0h3v3h-3zm9 0h3v3h-3zm18 0h3v3h-3zm54 0h3v3h-3zm6 0h3v3h-3zm27 0h3v3h-3zm-117 3h3v3h-3zm6 0h3v3h-3zm6 0h3v3h-3zm6 0h3v3h-3zm9 0h3v3h-3zm15 0h3v3h-3zm42 0h3v3h-3zm33 0h3v3h-3zm-138 3h3v3h-3zm15 0h3v3h-3zm30 0h3v3h-3zm24 0h3v3h-3zm12 0h3v3h-3zm12 0h3v3h-3zm48 0h3v3h-3zm-129 3h3v3h-3zm6 0h3v3h-3zm18 0h3v3h-3zm30 0h3v3h-3zm21 0h3v3h-3zm3 0h3v3h-3zm3 0h3v3h-3zm3 0h3v3h-3zm3 0h3v3h-3zm39 0h3v3h-3zm3 0h3v3h-3zm-132 3h3v3h-3zm3 0h3v3h-3zm12 0h3v3h-3zm60 0h3v3h-3zm3 0h3v3h-3zm3 0h3v3h-3zm36 0h3v3h-3zm3 0h3v3h-3zm12 0h3v3h-3zm-138 3h3v3h-3zm39 0h3v3h-3zm45 0h3v3h-3zm48 0h3v3h-3zm3 0h3v3h-3zm-132 3h3v3h-3zm120 0h3v3h-3zm6 0h3v3h-3zm6 0h3v3h-3zm-129 3h3v3h-3zm3 0h3v3h-3zm27 0h3v3h-3zm3 0h3v3h-3zm9 0h3v3h-3zm30 0h3v3h-3zm3 0h3v3h-3zm45 0h3v3h-3zm3 0h3v3h-3zm3 0h3v3h-3zm-129 3h3v3h-3zm3 0h3v3h-3zm3 0h3v3h-3zm15 0h3v3h-3zm9 0h3v3h-3zm6 0h3v3h-3zm93 0h3v3h-3zm3 0h3v3h-3zm-135 3h3v3h-3zm6 0h3v3h-3zm3 0h3v3h-3zm3 0h3v3h-3zm6 0h3v3h-3zm18 0h3v3h-3zm6 0h3v3h-3zm3 0h3v3h-3zm30 0h3v3h-3zm9 0h3v3h-3zm54 0h3v3h-3zm-129 3h3v3h-3zm3 0h3v3h-3zm3 0h3v3h-3zm18 0h3v3h-3zm3 0h3v3h-3zm3 0h3v3h-3zm3 0h3v3h-3zm9 0h3v3h-3zm3 0h3v3h-3zm12 0h3v3h-3zm18 0h3v3h-3zm9 0h3v3h-3zm3 0h3v3h-3zm3 0h3v3h-3zm6 0h3v3h-3zm18 0h3v3h-3zm15 0h3v3h-3zm-123 3h3v3h-3zm66 0h3v3h-3zm15 0h3v3h-3zm3 0h3v3h-3zm3 0h3v3h-3zm15 0h3v3h-3zm12 0h3v3h-3zm-90 3h3v3h-3zm3 0h3v3h-3zm6 0h3v3h-3zm21 0h3v3h-3zm60 0h3v3h-3zm-93 3h3v3h-3zm6 0h3v3h-3zm3 0h3v3h-3zm3 0h3v3h-3zm60 0h3v3h-3zm15 0h3v3h-3zm3 0h3v3h-3zm-81 3h3v3h-3zm6 0h3v3h-3zm-6 3h3v3h-3zm3 0h3v3h-3zm12 0h3v3h-3zm42 0h3v3h-3zm-63 3h3v3h-3zm3 0h3v3h-3zm51 0h3v3h-3zm21 0h3v3h-3zm9 0h3v3h-3zm-93 3h3v3h-3zm6 0h3v3h-3zm6 0h3v3h-3zm66 0h3v3h-3zm6 0h3v3h-3z"/><path fill="#f0dc00" d="M21 0h3v3h-3zm15 0h3v3h-3zm3 0h3v3h-3zm6 0h3v3h-3zm21 0h3v3h-3zm24 0h3v3h-3zm21 0h3v3h-3zm3 0h3v3h-3zm15 0h3v3h-3zm-117 3h3v3h-3zm18 0h3v3h-3zm6 0h3v3h-3zm9 0h3v3h-3zm3 0h3v3h-3zm45 0h3v3h-3zm12 0h3v3h-3zm18 0h3v3h-3zm6 0h3v3h-3zm-90 3h3v3h-3zm60 0h3v3h-3zm6 0h3v3h-3zm9 0h3v3h-3zm3 0h3v3h-3zm9 0h3v3h-3zm12 0h3v3h-3zm-99 3h3v3h-3zm3 0h3v3h-3zm12 0h3v3h-3zm39 0h3v3h-3zm9 0h3v3h-3zm6 0h3v3h-3zm3 0h3v3h-3zm6 0h3v3h-3zm6 0h3v3h-3zm6 0h3v3h-3zm-126 3h3v3h-3zm6 0h3v3h-3zm12 0h3v3h-3zm6 0h3v3h-3zm15 0h3v3h-3zm9 0h3v3h-3zm3 0h3v3h-3zm18 0h3v3h-3zm12 0h3v3h-3zm9 0h3v3h-3zm3 0h3v3h-3zm3 0h3v3h-3zm6 0h3v3h-3zm18 0h3v3h-3zm-108 3h3v3h-3zm39 0h3v3h-3zm30 0h3v3h-3zm3 0h3v3h-3zm18 0h3v3h-3zm-93 3h3v3h-3zm9 0h3v3h-3zm15 0h3v3h-3zm9 0h3v3h-3zm15 0h3v3h-3zm6 0h3v3h-3zm24 0h3v3h-3zm3 0h3v3h-3zm-84 3h3v3h-3zm3 0h3v3h-3zm3 0h3v3h-3zm3 0h3v3h-3zm9 0h3v3h-3zm6 0h3v3h-3zm21 0h3v3h-3zm30 0h3v3h-3zm33 0h3v3h-3zm-114 3h3v3h-3zm6 0h3v3h-3zm3 0h3v3h-3zm9 0h3v3h-3zm36 0h3v3h-3zm3 0h3v3h-3zm3 0h3v3h-3zm3 0h3v3h-3zm9 0h3v3h-3zm6 0h3v3h-3zm6 0h3v3h-3zm30 0h3v3h-3zm6 0h3v3h-3zm-111 3h3v3h-3zm6 0h3v3h-3zm3 0h3v3h-3zm9 0h3v3h-3zm15 0h3v3h-3zm9 0h3v3h-3zm3 0h3v3h-3zm6 0h3v3h-3zm18 0h3v3h-3zm6 0h3v3h-3zm6 0h3v3h-3zm9 0h3v3h-3zm18 0h3v3h-3zm21 0h3v3h-3zm-117 3h3v3h-3zm45 0h3v3h-3zm6 0h3v3h-3zm9 0h3v3h-3zm3 0h3v3h-3zm6 0h3v3h-3zm39 0h3v3h-3zm3 0h3v3h-3zm3 0h3v3h-3zm3 0h3v3h-3zm-126 3h3v3h-3zm9 0h3v3h-3zm9 0h3v3h-3zm15 0h3v3h-3zm3 0h3v3h-3zm3 0h3v3h-3zm12 0h3v3h-3zm9 0h3v3h-3zm30 0h3v3h-3zm-93 3h3v3h-3zm12 0h3v3h-3zm12 0h3v3h-3zm21 0h3v3h-3zm9 0h3v3h-3zm15 0h3v3h-3zm12 0h3v3h-3zm9 0h3v3h-3zm15 0h3v3h-3zm21 0h3v3h-3zm-105 3h3v3h-3zm3 0h3v3h-3zm42 0h3v3h-3zm15 0h3v3h-3zm6 0h3v3h-3zm6 0h3v3h-3zm9 0h3v3h-3zm9 0h3v3h-3zm18 0h3v3h-3zm-129 3h3v3h-3zm21 0h3v3h-3zm9 0h3v3h-3zm36 0h3v3h-3zm33 0h3v3h-3zm12 0h3v3h-3zm12 0h3v3h-3zm-105 3h3v3h-3zm9 0h3v3h-3zm6 0h3v3h-3zm3 0h3v3h-3zm3 0h3v3h-3zm75 0h3v3h-3zm-90 3h3v3h-3zm3 0h3v3h-3zm3 0h3v3h-3zm12 0h3v3h-3zm3 0h3v3h-3zm3 0h3v3h-3zm39 0h3v3h-3zm30 0h3v3h-3zm6 0h3v3h-3zm-108 3h3v3h-3zm24 0h3v3h-3zm54 0h3v3h-3zm6 0h3v3h-3zm3 0h3v3h-3zm3 0h3v3h-3zm-93 3h3v3h-3zm3 0h3v3h-3zm15 0h3v3h-3zm6 0h3v3h-3zm12 0h3v3h-3zm54 0h3v3h-3zm6 0h3v3h-3zm3 0h3v3h-3zm6 0h3v3h-3zm-117 3h3v3h-3zm9 0h3v3h-3zm18 0h3v3h-3zm3 0h3v3h-3zm3 0h3v3h-3zm6 0h3v3h-3zm39 0h3v3h-3zm12 0h3v3h-3zm9 0h3v3h-3zm27 0h3v3h-3zm-90 3h3v3h-3zm3 0h3v3h-3zm21 0h3v3h-3zm54 0h3v3h-3zm-108 3h3v3h-3zm3 0h3v3h-3zm3 0h3v3h-3zm15 0h3v3h-3zm3 0h3v3h-3zm21 0h3v3h-3zm36 0h3v3h-3zm21 0h3v3h-3zm12 0h3v3h-3zm-117 3h3v3h-3zm15 0h3v3h-3zm15 0h3v3h-3zm9 0h3v3h-3zm6 0h3v3h-3zm3 0h3v3h-3zm6 0h3v3h-3zm60 0h3v3h-3zm-108 3h3v3h-3zm9 0h3v3h-3zm21 0h3v3h-3zm15 0h3v3h-3zm-60 3h3v3h-3zm15 0h3v3h-3zm6 0h3v3h-3zm9 0h3v3h-3zm9 0h3v3h-3zm48 0h3v3h-3zm24 0h3v3h-3zm6 0h3v3h-3zm-120 3h3v3h-3zm12 0h3v3h-3zm12 0h3v3h-3zm6 0h3v3h-3zm60 0h3v3h-3zm6 0h3v3h-3zm12 0h3v3h-3zm12 0h3v3h-3zm3 0h3v3h-3zm12 0h3v3h-3zm-135 3h3v3h-3zm3 0h3v3h-3zm9 0h3v3h-3zm12 0h3v3h-3zm12 0h3v3h-3zm21 0h3v3h-3zm15 0h3v3h-3zm57 0h3v3h-3zm-126 3h3v3h-3zm6 0h3v3h-3zm78 0h3v3h-3zm6 0h3v3h-3zm18 0h3v3h-3zm21 0h3v3h-3zm-135 3h3v3h-3zm3 0h3v3h-3zm15 0h3v3h-3zm12 0h3v3h-3zm75 0h3v3h-3zm36 0h3v3h-3zm-141 3h3v3h-3zm12 0h3v3h-3zm6 0h3v3h-3zm3 0h3v3h-3zm6 0h3v3h-3zm18 0h3v3h-3zm3 0h3v3h-3zm60 0h3v3h-3zm-81 3h3v3h-3zm108 0h3v3h-3zm-123 3h3v3h-3zm3 0h3v3h-3zm3 0h3v3h-3zm27 0h3v3h-3zm15 0h3v3h-3zm6 0h3v3h-3zm30 0h3v3h-3zm12 0h3v3h-3zm3 0h3v3h-3zm-72 3h3v3h-3zm12 0h3v3h-3zm75 0h3v3h-3zm-126 3h3v3h-3zm15 0h3v3h-3zm12 0h3v3h-3zm45 0h3v3h-3zm9 0h3v3h-3zm3 0h3v3h-3zm-84 3h3v3h-3zm69 0h3v3h-3zm9 0h3v3h-3zm3 0h3v3h-3zm12 0h3v3h-3zm-81 3h3v3h-3zm9 0h3v3h-3zm39 0h3v3h-3zm33 0h3v3h-3zm3 0h3v3h-3zm30 0h3v3h-3zm6 0h3v3h-3zm-132 3h3v3h-3zm12 0h3v3h-3zm21 0h3v3h-3zm6 0h3v3h-3zm9 0h3v3h-3zm30 0h3v3h-3zm3 0h3v3h-3zm3 0h3v3h-3zm36 0h3v3h-3zm3 0h3v3h-3zm-123 3h3v3h-3zm3 0h3v3h-3zm21 0h3v3h-3zm3 0h3v3h-3zm9 0h3v3h-3zm9 0h3v3h-3zm3 0h3v3h-3zm39 0h3v3h-3zm27 0h3v3h-3zm24 0h3v3h-3zm-114 3h3v3h-3zm6 0h3v3h-3zm9 0h3v3h-3zm12 0h3v3h-3zm9 0h3v3h-3zm18 0h3v3h-3zm3 0h3v3h-3zm6 0h3v3h-3zm36 0h3v3h-3zm-123 3h3v3h-3zm18 0h3v3h-3zm15 0h3v3h-3zm72 0h3v3h-3zm6 0h3v3h-3zm27 0h3v3h-3zm-132 3h3v3h-3zm45 0h3v3h-3zm30 0h3v3h-3zm3 0h3v3h-3zm6 0h3v3h-3zm27 0h3v3h-3zm3 0h3v3h-3zm12 0h3v3h-3zm3 0h3v3h-3zm-120 3h3v3h-3zm6 0h3v3h-3zm12 0h3v3h-3zm9 0h3v3h-3zm3 0h3v3h-3zm9 0h3v3h-3zm9 0h3v3h-3zm15 0h3v3h-3zm30 0h3v3h-3zm-90 3h3v3h-3zm21 0h3v3h-3zm30 0h3v3h-3zm9 0h3v3h-3zm45 0h3v3h-3zm6 0h3v3h-3zm6 0h3v3h-3zm6 0h3v3h-3zm-141 3h3v3h-3zm3 0h3v3h-3zm3 0h3v3h-3zm36 0h3v3h-3zm33 0h3v3h-3zm30 0h3v3h-3zm9 0h3v3h-3zm-69 3h3v3h-3zm63 0h3v3h-3zm27 0h3v3h-3zm-120 3h3v3h-3zm27 0h3v3h-3zm3 0h3v3h-3zm21 0h3v3h-3zm3 0h3v3h-3zm9 0h3v3h-3zm12 0h3v3h-3zm33 0h3v3h-3zm6 0h3v3h-3zm3 0h3v3h-3zm3 0h3v3h-3zm6 0h3v3h-3zm-120 3h3v3h-3zm6 0h3v3h-3zm24 0h3v3h-3zm9 0h3v3h-3zm27 0h3v3h-3zm12 0h3v3h-3zm-99 3h3v3h-3zm30 0h3v3h-3zm24 0h3v3h-3zm3 0h3v3h-3zm12 0h3v3h-3zm30 0h3v3h-3zm9 0h3v3h-3zm6 0h3v3h-3zm24 0h3v3h-3z"/></pattern>
<pattern id="pt_shell" width="144" height="144" patternUnits="userSpaceOnUse" patternTransform="rotate(-26.7)"><rect width="144" height="144" fill="#2408ec"/><path fill="#2a04ee" d="M0 0h3v3h-3zm3 0h3v3h-3zm9 0h3v3h-3zm9 0h3v3h-3zm12 0h3v3h-3zm12 0h3v3h-3zm30 0h3v3h-3zm3 0h3v3h-3zm27 0h3v3h-3zm18 0h3v3h-3zm9 0h3v3h-3zm6 0h3v3h-3zm-138 3h3v3h-3zm12 0h3v3h-3zm6 0h3v3h-3zm6 0h3v3h-3zm9 0h3v3h-3zm6 0h3v3h-3zm12 0h3v3h-3zm3 0h3v3h-3zm45 0h3v3h-3zm3 0h3v3h-3zm9 0h3v3h-3zm3 0h3v3h-3zm15 0h3v3h-3zm3 0h3v3h-3zm-129 3h3v3h-3zm6 0h3v3h-3zm6 0h3v3h-3zm9 0h3v3h-3zm15 0h3v3h-3zm3 0h3v3h-3zm3 0h3v3h-3zm9 0h3v3h-3zm30 0h3v3h-3zm12 0h3v3h-3zm3 0h3v3h-3zm15 0h3v3h-3zm12 0h3v3h-3zm-120 3h3v3h-3zm3 0h3v3h-3zm9 0h3v3h-3zm12 0h3v3h-3zm12 0h3v3h-3zm6 0h3v3h-3zm9 0h3v3h-3zm21 0h3v3h-3zm39 0h3v3h-3zm3 0h3v3h-3zm15 0h3v3h-3zm3 0h3v3h-3zm-123 3h3v3h-3zm18 0h3v3h-3zm3 0h3v3h-3zm15 0h3v3h-3zm21 0h3v3h-3zm12 0h3v3h-3zm24 0h3v3h-3zm12 0h3v3h-3zm12 0h3v3h-3zm-117 3h3v3h-3zm6 0h3v3h-3zm27 0h3v3h-3zm21 0h3v3h-3zm12 0h3v3h-3zm3 0h3v3h-3zm9 0h3v3h-3zm18 0h3v3h-3zm12 0h3v3h-3zm-96 3h3v3h-3zm6 0h3v3h-3zm3 0h3v3h-3zm9 0h3v3h-3zm6 0h3v3h-3zm15 0h3v3h-3zm39 0h3v3h-3zm9 0h3v3h-3zm3 0h3v3h-3zm6 0h3v3h-3zm3 0h3v3h-3zm3 0h3v3h-3zm6 0h3v3h-3zm6 0h3v3h-3zm-129 3h3v3h-3zm3 0h3v3h-3zm3 0h3v3h-3zm3 0h3v3h-3zm24 0h3v3h-3zm6 0h3v3h-3zm33 0h3v3h-3zm3 0h3v3h-3zm21 0h3v3h-3zm6 0h3v3h-3zm6 0h3v3h-3zm15 0h3v3h-3zm3 0h3v3h-3zm-132 3h3v3h-3zm12 0h3v3h-3zm3 0h3v3h-3zm3 0h3v3h-3zm3 0h3v3h-3zm6 0h3v3h-3zm3 0h3v3h-3zm27 0h3v3h-3zm6 0h3v3h-3zm9 0h3v3h-3zm15 0h3v3h-3zm24 0h3v3h-3zm18 0h3v3h-3zm6 0h3v3h-3zm-135 3h3v3h-3zm24 0h3v3h-3zm9 0h3v3h-3zm24 0h3v3h-3zm3 0h3v3h-3zm9 0h3v3h-3zm3 0h3v3h-3zm6 0h3v3h-3zm3 0h3v3h-3zm3 0h3v3h-3zm12 0h3v3h-3zm12 0h3v3h-3zm12 0h3v3h-3zm-111 3h3v3h-3zm27 0h3v3h-3zm6 0h3v3h-3zm18 0h3v3h-3zm6 0h3v3h-3zm6 0h3v3h-3zm6 0h3v3h-3zm9 0h3v3h-3zm12 0h3v3h-3zm27 0h3v3h-3zm9 0h3v3h-3zm-141 3h3v3h-3zm12 0h3v3h-3zm15 0h3v3h-3zm3 0h3v3h-3zm33 0h3v3h-3zm9 0h3v3h-3zm21 0h3v3h-3zm30 0h3v3h-3zm9 0h3v3h-3zm3 0h3v3h-3zm-114 3h3v3h-3zm12 0h3v3h-3zm24 0h3v3h-3zm9 0h3v3h-3zm6 0h3v3h-3zm12 0h3v3h-3zm3 0h3v3h-3zm3 0h3v3h-3zm6 0h3v3h-3zm6 0h3v3h-3zm3 0h3v3h-3zm3 0h3v3h-3zm12 0h3v3h-3zm3 0h3v3h-3zm-111 3h3v3h-3zm6 0h3v3h-3zm3 0h3v3h-3zm3 0h3v3h-3zm9 0h3v3h-3zm6 0h3v3h-3zm30 0h3v3h-3zm36 0h3v3h-3zm18 0h3v3h-3zm3 0h3v3h-3zm-123 3h3v3h-3zm3 0h3v3h-3zm6 0h3v3h-3zm51 0h3v3h-3zm3 0h3v3h-3zm3 0h3v3h-3zm9 0h3v3h-3zm6 0h3v3h-3zm12 0h3v3h-3zm21 0h3v3h-3zm9 0h3v3h-3zm6 0h3v3h-3zm-111 3h3v3h-3zm24 0h3v3h-3zm9 0h3v3h-3zm9 0h3v3h-3zm3 0h3v3h-3zm15 0h3v3h-3zm9 0h3v3h-3zm12 0h3v3h-3zm3 0h3v3h-3zm-105 3h3v3h-3zm9 0h3v3h-3zm9 0h3v3h-3zm3 0h3v3h-3zm6 0h3v3h-3zm3 0h3v3h-3zm9 0h3v3h-3zm3 0h3v3h-3zm3 0h3v3h-3zm3 0h3v3h-3zm12 0h3v3h-3zm3 0h3v3h-3zm3 0h3v3h-3zm6 0h3v3h-3zm24 0h3v3h-3zm3 0h3v3h-3zm3 0h3v3h-3zm6 0h3v3h-3zm9 0h3v3h-3zm12 0h3v3h-3zm12 0h3v3h-3zm-135 3h3v3h-3zm3 0h3v3h-3zm6 0h3v3h-3zm12 0h3v3h-3zm15 0h3v3h-3zm3 0h3v3h-3zm6 0h3v3h-3zm12 0h3v3h-3zm3 0h3v3h-3zm18 0h3v3h-3zm18 0h3v3h-3zm6 0h3v3h-3zm12 0h3v3h-3zm15 0h3v3h-3zm-132 3h3v3h-3zm6 0h3v3h-3zm3 0h3v3h-3zm3 0h3v3h-3zm3 0h3v3h-3zm24 0h3v3h-3zm30 0h3v3h-3zm6 0h3v3h-3zm39 0h3v3h-3zm6 0h3v3h-3zm3 0h3v3h-3zm3 0h3v3h-3zm12 0h3v3h-3zm-138 3h3v3h-3zm12 0h3v3h-3zm21 0h3v3h-3zm6 0h3v3h-3zm12 0h3v3h-3zm6 0h3v3h-3zm24 0h3v3h-3zm3 0h3v3h-3zm6 0h3v3h-3zm15 0h3v3h-3zm9 0h3v3h-3zm3 0h3v3h-3zm3 0h3v3h-3zm6 0h3v3h-3zm-69 3h3v3h-3zm33 0h3v3h-3zm33 0h3v3h-3zm-123 3h3v3h-3zm3 0h3v3h-3zm15 0h3v3h-3zm6 0h3v3h-3zm6 0h3v3h-3zm12 0h3v3h-3zm9 0h3v3h-3zm12 0h3v3h-3zm9 0h3v3h-3zm3 0h3v3h-3zm24 0h3v3h-3zm12 0h3v3h-3zm-105 3h3v3h-3zm21 0h3v3h-3zm3 0h3v3h-3zm3 0h3v3h-3zm18 0h3v3h-3zm6 0h3v3h-3zm15 0h3v3h-3zm3 0h3v3h-3zm15 0h3v3h-3zm39 0h3v3h-3zm-102 3h3v3h-3zm9 0h3v3h-3zm3 0h3v3h-3zm24 0h3v3h-3zm3 0h3v3h-3zm3 0h3v3h-3zm3 0h3v3h-3zm39 0h3v3h-3zm18 0h3v3h-3zm6 0h3v3h-3zm3 0h3v3h-3zm-114 3h3v3h-3zm12 0h3v3h-3zm21 0h3v3h-3zm9 0h3v3h-3zm27 0h3v3h-3zm6 0h3v3h-3zm18 0h3v3h-3zm-84 3h3v3h-3zm3 0h3v3h-3zm9 0h3v3h-3zm33 0h3v3h-3zm18 0h3v3h-3zm21 0h3v3h-3zm12 0h3v3h-3zm-132 3h3v3h-3zm21 0h3v3h-3zm18 0h3v3h-3zm6 0h3v3h-3zm15 0h3v3h-3zm12 0h3v3h-3zm3 0h3v3h-3zm9 0h3v3h-3zm-78 3h3v3h-3zm3 0h3v3h-3zm3 0h3v3h-3zm6 0h3v3h-3zm3 0h3v3h-3zm3 0h3v3h-3zm21 0h3v3h-3zm6 0h3v3h-3zm21 0h3v3h-3zm3 0h3v3h-3zm9 0h3v3h-3zm36 0h3v3h-3zm3 0h3v3h-3zm9 0h3v3h-3zm3 0h3v3h-3zm6 0h3v3h-3zm-132 3h3v3h-3zm3 0h3v3h-3zm18 0h3v3h-3zm18 0h3v3h-3zm6 0h3v3h-3zm12 0h3v3h-3zm6 0h3v3h-3zm3 0h3v3h-3zm3 0h3v3h-3zm48 0h3v3h-3zm6 0h3v3h-3zm3 0h3v3h-3zm-102 3h3v3h-3zm6 0h3v3h-3zm6 0h3v3h-3zm3 0h3v3h-3zm6 0h3v3h-3zm3 0h3v3h-3zm3 0h3v3h-3zm9 0h3v3h-3zm9 0h3v3h-3zm3 0h3v3h-3zm45 0h3v3h-3zm9 0h3v3h-3zm6 0h3v3h-3zm-141 3h3v3h-3zm3 0h3v3h-3zm9 0h3v3h-3zm36 0h3v3h-3zm6 0h3v3h-3zm6 0h3v3h-3zm3 0h3v3h-3zm3 0h3v3h-3zm6 0h3v3h-3zm3 0h3v3h-3zm60 0h3v3h-3zm3 0h3v3h-3zm-138 3h3v3h-3zm6 0h3v3h-3zm3 0h3v3h-3zm3 0h3v3h-3zm12 0h3v3h-3zm24 0h3v3h-3zm12 0h3v3h-3zm3 0h3v3h-3zm12 0h3v3h-3zm3 0h3v3h-3zm6 0h3v3h-3zm21 0h3v3h-3zm3 0h3v3h-3zm6 0h3v3h-3zm9 0h3v3h-3zm9 0h3v3h-3zm3 0h3v3h-3zm-132 3h3v3h-3zm12 0h3v3h-3zm9 0h3v3h-3zm21 0h3v3h-3zm6 0h3v3h-3zm6 0h3v3h-3zm6 0h3v3h-3zm6 0h3v3h-3zm3 0h3v3h-3zm9 0h3v3h-3zm6 0h3v3h-3zm30 0h3v3h-3zm3 0h3v3h-3zm6 0h3v3h-3zm12 0h3v3h-3zm-132 3h3v3h-3zm6 0h3v3h-3zm15 0h3v3h-3zm6 0h3v3h-3zm9 0h3v3h-3zm21 0h3v3h-3zm9 0h3v3h-3zm9 0h3v3h-3zm6 0h3v3h-3zm24 0h3v3h-3zm3 0h3v3h-3zm9 0h3v3h-3zm3 0h3v3h-3zm9 0h3v3h-3zm-135 3h3v3h-3zm3 0h3v3h-3zm3 0h3v3h-3zm18 0h3v3h-3zm3 0h3v3h-3zm12 0h3v3h-3zm12 0h3v3h-3zm15 0h3v3h-3zm24 0h3v3h-3zm6 0h3v3h-3zm33 0h3v3h-3zm9 0h3v3h-3zm3 0h3v3h-3zm-141 3h3v3h-3zm36 0h3v3h-3zm6 0h3v3h-3zm3 0h3v3h-3zm12 0h3v3h-3zm9 0h3v3h-3zm15 0h3v3h-3zm3 0h3v3h-3zm9 0h3v3h-3zm6 0h3v3h-3zm3 0h3v3h-3zm6 0h3v3h-3zm15 0h3v3h-3zm6 0h3v3h-3zm9 0h3v3h-3zm-105 3h3v3h-3zm6 0h3v3h-3zm9 0h3v3h-3zm3 0h3v3h-3zm6 0h3v3h-3zm24 0h3v3h-3zm3 0h3v3h-3zm15 0h3v3h-3zm21 0h3v3h-3zm3 0h3v3h-3zm3 0h3v3h-3zm9 0h3v3h-3zm-135 3h3v3h-3zm9 0h3v3h-3zm24 0h3v3h-3zm3 0h3v3h-3zm24 0h3v3h-3zm3 0h3v3h-3zm15 0h3v3h-3zm9 0h3v3h-3zm3 0h3v3h-3zm15 0h3v3h-3zm18 0h3v3h-3zm3 0h3v3h-3zm12 0h3v3h-3zm-120 3h3v3h-3zm3 0h3v3h-3zm12 0h3v3h-3zm18 0h3v3h-3zm30 0h3v3h-3zm9 0h3v3h-3zm45 0h3v3h-3zm-99 3h3v3h-3zm12 0h3v3h-3zm45 0h3v3h-3zm3 0h3v3h-3zm9 0h3v3h-3zm18 0h3v3h-3zm6 0h3v3h-3zm9 0h3v3h-3zm-138 3h3v3h-3zm12 0h3v3h-3zm36 0h3v3h-3zm3 0h3v3h-3zm18 0h3v3h-3zm27 0h3v3h-3zm9 0h3v3h-3zm3 0h3v3h-3zm6 0h3v3h-3zm3 0h3v3h-3zm3 0h3v3h-3zm9 0h3v3h-3zm9 0h3v3h-3zm-132 3h3v3h-3zm6 0h3v3h-3zm3 0h3v3h-3zm12 0h3v3h-3zm9 0h3v3h-3zm3 0h3v3h-3zm3 0h3v3h-3zm30 0h3v3h-3zm21 0h3v3h-3zm-78 3h3v3h-3zm6 0h3v3h-3zm6 0h3v3h-3zm3 0h3v3h-3zm12 0h3v3h-3zm6 0h3v3h-3zm6 0h3v3h-3zm3 0h3v3h-3zm6 0h3v3h-3zm9 0h3v3h-3zm3 0h3v3h-3zm3 0h3v3h-3zm9 0h3v3h-3zm6 0h3v3h-3zm18 0h3v3h-3zm3 0h3v3h-3zm6 0h3v3h-3zm3 0h3v3h-3zm-117 3h3v3h-3zm12 0h3v3h-3zm9 0h3v3h-3zm27 0h3v3h-3zm45 0h3v3h-3zm9 0h3v3h-3zm6 0h3v3h-3zm15 0h3v3h-3zm3 0h3v3h-3zm6 0h3v3h-3zm-138 3h3v3h-3zm9 0h3v3h-3zm3 0h3v3h-3zm3 0h3v3h-3zm39 0h3v3h-3zm3 0h3v3h-3zm24 0h3v3h-3zm3 0h3v3h-3zm3 0h3v3h-3zm15 0h3v3h-3zm15 0h3v3h-3zm3 0h3v3h-3zm6 0h3v3h-3zm3 0h3v3h-3zm6 0h3v3h-3zm-135 3h3v3h-3zm27 0h3v3h-3zm21 0h3v3h-3zm6 0h3v3h-3zm9 0h3v3h-3zm24 0h3v3h-3zm6 0h3v3h-3zm6 0h3v3h-3zm12 0h3v3h-3zm9 0h3v3h-3zm6 0h3v3h-3zm15 0h3v3h-3zm-138 3h3v3h-3zm18 0h3v3h-3zm3 0h3v3h-3zm6 0h3v3h-3zm9 0h3v3h-3zm15 0h3v3h-3zm3 0h3v3h-3zm30 0h3v3h-3zm12 0h3v3h-3zm3 0h3v3h-3zm3 0h3v3h-3zm6 0h3v3h-3zm6 0h3v3h-3zm-117 3h3v3h-3zm3 0h3v3h-3zm30 0h3v3h-3zm3 0h3v3h-3zm12 0h3v3h-3zm24 0h3v3h-3zm24 0h3v3h-3zm18 0h3v3h-3zm9 0h3v3h-3zm9 0h3v3h-3z"/><path fill="#2020ea" d="M6 0h3v3h-3zm12 0h3v3h-3zm18 0h3v3h-3zm27 0h3v3h-3zm3 0h3v3h-3zm3 0h3v3h-3zm3 0h3v3h-3zm9 0h3v3h-3zm39 0h3v3h-3zm-117 3h3v3h-3zm3 0h3v3h-3zm3 0h3v3h-3zm21 0h3v3h-3zm30 0h3v3h-3zm3 0h3v3h-3zm3 0h3v3h-3zm6 0h3v3h-3zm3 0h3v3h-3zm6 0h3v3h-3zm9 0h3v3h-3zm3 0h3v3h-3zm15 0h3v3h-3zm27 0h3v3h-3zm6 0h3v3h-3zm-135 3h3v3h-3zm24 0h3v3h-3zm30 0h3v3h-3zm3 0h3v3h-3zm3 0h3v3h-3zm3 0h3v3h-3zm3 0h3v3h-3zm3 0h3v3h-3zm15 0h3v3h-3zm3 0h3v3h-3zm18 0h3v3h-3zm-78 3h3v3h-3zm18 0h3v3h-3zm15 0h3v3h-3zm3 0h3v3h-3zm6 0h3v3h-3zm6 0h3v3h-3zm3 0h3v3h-3zm6 0h3v3h-3zm3 0h3v3h-3zm3 0h3v3h-3zm45 0h3v3h-3zm-141 3h3v3h-3zm3 0h3v3h-3zm3 0h3v3h-3zm3 0h3v3h-3zm30 0h3v3h-3zm3 0h3v3h-3zm6 0h3v3h-3zm12 0h3v3h-3zm9 0h3v3h-3zm6 0h3v3h-3zm27 0h3v3h-3zm3 0h3v3h-3zm36 0h3v3h-3zm-141 3h3v3h-3zm3 0h3v3h-3zm24 0h3v3h-3zm3 0h3v3h-3zm3 0h3v3h-3zm9 0h3v3h-3zm3 0h3v3h-3zm6 0h3v3h-3zm15 0h3v3h-3zm6 0h3v3h-3zm18 0h3v3h-3zm6 0h3v3h-3zm3 0h3v3h-3zm3 0h3v3h-3zm6 0h3v3h-3zm24 0h3v3h-3zm3 0h3v3h-3zm6 0h3v3h-3zm-141 3h3v3h-3zm6 0h3v3h-3zm48 0h3v3h-3zm6 0h3v3h-3zm9 0h3v3h-3zm3 0h3v3h-3zm6 0h3v3h-3zm9 0h3v3h-3zm3 0h3v3h-3zm6 0h3v3h-3zm3 0h3v3h-3zm3 0h3v3h-3zm36 0h3v3h-3zm-138 3h3v3h-3zm54 0h3v3h-3zm6 0h3v3h-3zm3 0h3v3h-3zm3 0h3v3h-3zm3 0h3v3h-3zm9 0h3v3h-3zm12 0h3v3h-3zm6 0h3v3h-3zm6 0h3v3h-3zm3 0h3v3h-3zm21 0h3v3h-3zm6 0h3v3h-3zm-132 3h3v3h-3zm42 0h3v3h-3zm6 0h3v3h-3zm3 0h3v3h-3zm9 0h3v3h-3zm15 0h3v3h-3zm21 0h3v3h-3zm3 0h3v3h-3zm9 0h3v3h-3zm6 0h3v3h-3zm-114 3h3v3h-3zm3 0h3v3h-3zm6 0h3v3h-3zm6 0h3v3h-3zm3 0h3v3h-3zm24 0h3v3h-3zm3 0h3v3h-3zm3 0h3v3h-3zm3 0h3v3h-3zm3 0h3v3h-3zm3 0h3v3h-3zm3 0h3v3h-3zm48 0h3v3h-3zm12 0h3v3h-3zm3 0h3v3h-3zm-123 3h3v3h-3zm12 0h3v3h-3zm24 0h3v3h-3zm3 0h3v3h-3zm18 0h3v3h-3zm3 0h3v3h-3zm15 0h3v3h-3zm6 0h3v3h-3zm21 0h3v3h-3zm6 0h3v3h-3zm3 0h3v3h-3zm9 0h3v3h-3zm3 0h3v3h-3zm3 0h3v3h-3zm3 0h3v3h-3zm-126 3h3v3h-3zm3 0h3v3h-3zm9 0h3v3h-3zm24 0h3v3h-3zm3 0h3v3h-3zm9 0h3v3h-3zm6 0h3v3h-3zm30 0h3v3h-3zm3 0h3v3h-3zm6 0h3v3h-3zm12 0h3v3h-3zm12 0h3v3h-3zm-111 3h3v3h-3zm3 0h3v3h-3zm30 0h3v3h-3zm21 0h3v3h-3zm6 0h3v3h-3zm9 0h3v3h-3zm3 0h3v3h-3zm-81 3h3v3h-3zm3 0h3v3h-3zm6 0h3v3h-3zm51 0h3v3h-3zm3 0h3v3h-3zm12 0h3v3h-3zm57 0h3v3h-3zm-132 3h3v3h-3zm9 0h3v3h-3zm6 0h3v3h-3zm15 0h3v3h-3zm3 0h3v3h-3zm9 0h3v3h-3zm3 0h3v3h-3zm6 0h3v3h-3zm3 0h3v3h-3zm3 0h3v3h-3zm18 0h3v3h-3zm63 0h3v3h-3zm3 0h3v3h-3zm-135 3h3v3h-3zm9 0h3v3h-3zm3 0h3v3h-3zm9 0h3v3h-3zm9 0h3v3h-3zm3 0h3v3h-3zm21 0h3v3h-3zm57 0h3v3h-3zm21 0h3v3h-3zm3 0h3v3h-3zm-138 3h3v3h-3zm3 0h3v3h-3zm18 0h3v3h-3zm9 0h3v3h-3zm3 0h3v3h-3zm15 0h3v3h-3zm24 0h3v3h-3zm63 0h3v3h-3zm-126 3h3v3h-3zm18 0h3v3h-3zm42 0h3v3h-3zm3 0h3v3h-3zm3 0h3v3h-3zm3 0h3v3h-3zm45 0h3v3h-3zm6 0h3v3h-3zm6 0h3v3h-3zm3 0h3v3h-3zm-117 3h3v3h-3zm27 0h3v3h-3zm15 0h3v3h-3zm3 0h3v3h-3zm12 0h3v3h-3zm21 0h3v3h-3zm30 0h3v3h-3zm6 0h3v3h-3zm-138 3h3v3h-3zm18 0h3v3h-3zm54 0h3v3h-3zm3 0h3v3h-3zm6 0h3v3h-3zm15 0h3v3h-3zm3 0h3v3h-3zm3 0h3v3h-3zm24 0h3v3h-3zm-117 3h3v3h-3zm3 0h3v3h-3zm3 0h3v3h-3zm9 0h3v3h-3zm18 0h3v3h-3zm3 0h3v3h-3zm21 0h3v3h-3zm3 0h3v3h-3zm3 0h3v3h-3zm3 0h3v3h-3zm3 0h3v3h-3zm3 0h3v3h-3zm15 0h3v3h-3zm3 0h3v3h-3zm15 0h3v3h-3zm6 0h3v3h-3zm3 0h3v3h-3zm-114 3h3v3h-3zm3 0h3v3h-3zm6 0h3v3h-3zm21 0h3v3h-3zm3 0h3v3h-3zm15 0h3v3h-3zm24 0h3v3h-3zm3 0h3v3h-3zm9 0h3v3h-3zm3 0h3v3h-3zm3 0h3v3h-3zm12 0h3v3h-3zm9 0h3v3h-3zm3 0h3v3h-3zm3 0h3v3h-3zm3 0h3v3h-3zm3 0h3v3h-3zm3 0h3v3h-3zm6 0h3v3h-3zm-129 3h3v3h-3zm3 0h3v3h-3zm3 0h3v3h-3zm3 0h3v3h-3zm21 0h3v3h-3zm24 0h3v3h-3zm15 0h3v3h-3zm3 0h3v3h-3zm3 0h3v3h-3zm15 0h3v3h-3zm3 0h3v3h-3zm3 0h3v3h-3zm3 0h3v3h-3zm6 0h3v3h-3zm3 0h3v3h-3zm3 0h3v3h-3zm3 0h3v3h-3zm3 0h3v3h-3zm12 0h3v3h-3zm-138 3h3v3h-3zm3 0h3v3h-3zm3 0h3v3h-3zm3 0h3v3h-3zm3 0h3v3h-3zm3 0h3v3h-3zm3 0h3v3h-3zm24 0h3v3h-3zm18 0h3v3h-3zm15 0h3v3h-3zm12 0h3v3h-3zm3 0h3v3h-3zm3 0h3v3h-3zm12 0h3v3h-3zm3 0h3v3h-3zm6 0h3v3h-3zm3 0h3v3h-3zm3 0h3v3h-3zm3 0h3v3h-3zm-126 3h3v3h-3zm3 0h3v3h-3zm3 0h3v3h-3zm3 0h3v3h-3zm3 0h3v3h-3zm9 0h3v3h-3zm45 0h3v3h-3zm18 0h3v3h-3zm3 0h3v3h-3zm3 0h3v3h-3zm3 0h3v3h-3zm18 0h3v3h-3zm6 0h3v3h-3zm9 0h3v3h-3zm6 0h3v3h-3zm-126 3h3v3h-3zm3 0h3v3h-3zm3 0h3v3h-3zm6 0h3v3h-3zm3 0h3v3h-3zm3 0h3v3h-3zm42 0h3v3h-3zm6 0h3v3h-3zm6 0h3v3h-3zm9 0h3v3h-3zm15 0h3v3h-3zm3 0h3v3h-3zm3 0h3v3h-3zm15 0h3v3h-3zm3 0h3v3h-3zm-114 3h3v3h-3zm3 0h3v3h-3zm3 0h3v3h-3zm9 0h3v3h-3zm9 0h3v3h-3zm30 0h3v3h-3zm12 0h3v3h-3zm15 0h3v3h-3zm3 0h3v3h-3zm3 0h3v3h-3zm3 0h3v3h-3zm3 0h3v3h-3zm3 0h3v3h-3zm3 0h3v3h-3zm3 0h3v3h-3zm3 0h3v3h-3zm9 0h3v3h-3zm3 0h3v3h-3zm3 0h3v3h-3zm-117 3h3v3h-3zm18 0h3v3h-3zm6 0h3v3h-3zm24 0h3v3h-3zm3 0h3v3h-3zm3 0h3v3h-3zm27 0h3v3h-3zm3 0h3v3h-3zm3 0h3v3h-3zm3 0h3v3h-3zm3 0h3v3h-3zm3 0h3v3h-3zm3 0h3v3h-3zm3 0h3v3h-3zm9 0h3v3h-3zm-111 3h3v3h-3zm3 0h3v3h-3zm3 0h3v3h-3zm15 0h3v3h-3zm27 0h3v3h-3zm6 0h3v3h-3zm12 0h3v3h-3zm9 0h3v3h-3zm3 0h3v3h-3zm6 0h3v3h-3zm3 0h3v3h-3zm3 0h3v3h-3zm6 0h3v3h-3zm3 0h3v3h-3zm3 0h3v3h-3zm-105 3h3v3h-3zm51 0h3v3h-3zm33 0h3v3h-3zm3 0h3v3h-3zm6 0h3v3h-3zm3 0h3v3h-3zm3 0h3v3h-3zm9 0h3v3h-3zm-105 3h3v3h-3zm3 0h3v3h-3zm3 0h3v3h-3zm30 0h3v3h-3zm30 0h3v3h-3zm12 0h3v3h-3zm3 0h3v3h-3zm9 0h3v3h-3zm-90 3h3v3h-3zm3 0h3v3h-3zm3 0h3v3h-3zm15 0h3v3h-3zm9 0h3v3h-3zm9 0h3v3h-3zm18 0h3v3h-3zm24 0h3v3h-3zm3 0h3v3h-3zm3 0h3v3h-3zm27 0h3v3h-3zm-129 3h3v3h-3zm6 0h3v3h-3zm3 0h3v3h-3zm3 0h3v3h-3zm9 0h3v3h-3zm12 0h3v3h-3zm60 0h3v3h-3zm6 0h3v3h-3zm6 0h3v3h-3zm6 0h3v3h-3zm24 0h3v3h-3zm-126 3h3v3h-3zm9 0h3v3h-3zm3 0h3v3h-3zm9 0h3v3h-3zm15 0h3v3h-3zm21 0h3v3h-3zm3 0h3v3h-3zm24 0h3v3h-3zm24 0h3v3h-3zm-108 3h3v3h-3zm3 0h3v3h-3zm3 0h3v3h-3zm3 0h3v3h-3zm18 0h3v3h-3zm9 0h3v3h-3zm12 0h3v3h-3zm6 0h3v3h-3zm12 0h3v3h-3zm3 0h3v3h-3zm3 0h3v3h-3zm6 0h3v3h-3zm6 0h3v3h-3zm9 0h3v3h-3zm12 0h3v3h-3zm9 0h3v3h-3zm9 0h3v3h-3zm-129 3h3v3h-3zm6 0h3v3h-3zm9 0h3v3h-3zm33 0h3v3h-3zm36 0h3v3h-3zm18 0h3v3h-3zm12 0h3v3h-3zm3 0h3v3h-3zm15 0h3v3h-3zm-135 3h3v3h-3zm6 0h3v3h-3zm3 0h3v3h-3zm9 0h3v3h-3zm3 0h3v3h-3zm6 0h3v3h-3zm36 0h3v3h-3zm24 0h3v3h-3zm3 0h3v3h-3zm3 0h3v3h-3zm3 0h3v3h-3zm9 0h3v3h-3zm3 0h3v3h-3zm3 0h3v3h-3zm3 0h3v3h-3zm-111 3h3v3h-3zm3 0h3v3h-3zm9 0h3v3h-3zm3 0h3v3h-3zm6 0h3v3h-3zm21 0h3v3h-3zm6 0h3v3h-3zm6 0h3v3h-3zm36 0h3v3h-3zm3 0h3v3h-3zm3 0h3v3h-3zm36 0h3v3h-3zm-135 3h3v3h-3zm6 0h3v3h-3zm3 0h3v3h-3zm3 0h3v3h-3zm3 0h3v3h-3zm9 0h3v3h-3zm24 0h3v3h-3zm24 0h3v3h-3zm21 0h3v3h-3zm21 0h3v3h-3zm3 0h3v3h-3zm-105 3h3v3h-3zm6 0h3v3h-3zm6 0h3v3h-3zm21 0h3v3h-3zm6 0h3v3h-3zm6 0h3v3h-3zm3 0h3v3h-3zm6 0h3v3h-3zm6 0h3v3h-3zm6 0h3v3h-3zm3 0h3v3h-3zm21 0h3v3h-3zm18 0h3v3h-3zm-102 3h3v3h-3zm3 0h3v3h-3zm45 0h3v3h-3zm9 0h3v3h-3zm15 0h3v3h-3zm36 0h3v3h-3zm-69 3h3v3h-3zm3 0h3v3h-3zm9 0h3v3h-3zm9 0h3v3h-3zm45 0h3v3h-3zm3 0h3v3h-3zm3 0h3v3h-3zm3 0h3v3h-3zm3 0h3v3h-3zm3 0h3v3h-3zm-135 3h3v3h-3zm6 0h3v3h-3zm27 0h3v3h-3zm30 0h3v3h-3zm3 0h3v3h-3zm30 0h3v3h-3zm36 0h3v3h-3zm3 0h3v3h-3zm3 0h3v3h-3zm-111 3h3v3h-3zm3 0h3v3h-3zm3 0h3v3h-3zm3 0h3v3h-3zm57 0h3v3h-3zm6 0h3v3h-3zm39 0h3v3h-3zm-111 3h3v3h-3zm6 0h3v3h-3zm3 0h3v3h-3zm21 0h3v3h-3zm3 0h3v3h-3zm3 0h3v3h-3zm3 0h3v3h-3zm3 0h3v3h-3zm24 0h3v3h-3zm3 0h3v3h-3zm42 0h3v3h-3zm-111 3h3v3h-3zm3 0h3v3h-3zm3 0h3v3h-3zm3 0h3v3h-3zm3 0h3v3h-3zm27 0h3v3h-3zm3 0h3v3h-3zm30 0h3v3h-3zm30 0h3v3h-3zm3 0h3v3h-3zm-120 3h3v3h-3zm3 0h3v3h-3zm9 0h3v3h-3zm6 0h3v3h-3zm3 0h3v3h-3zm30 0h3v3h-3zm3 0h3v3h-3zm60 0h3v3h-3zm9 0h3v3h-3zm-129 3h3v3h-3zm12 0h3v3h-3zm18 0h3v3h-3zm18 0h3v3h-3zm3 0h3v3h-3zm3 0h3v3h-3zm3 0h3v3h-3zm3 0h3v3h-3zm6 0h3v3h-3zm12 0h3v3h-3z"/><path fill="#3400f0" d="M15 0h3v3h-3zm12 0h3v3h-3zm12 0h3v3h-3zm9 0h3v3h-3zm3 0h3v3h-3zm3 0h3v3h-3zm30 0h3v3h-3zm6 0h3v3h-3zm3 0h3v3h-3zm9 0h3v3h-3zm6 0h3v3h-3zm6 0h3v3h-3zm3 0h3v3h-3zm9 0h3v3h-3zm3 0h3v3h-3zm6 0h3v3h-3zm6 0h3v3h-3zm-126 3h3v3h-3zm27 0h3v3h-3zm3 0h3v3h-3zm3 0h3v3h-3zm30 0h3v3h-3zm39 0h3v3h-3zm9 0h3v3h-3zm-114 3h3v3h-3zm6 0h3v3h-3zm3 0h3v3h-3zm6 0h3v3h-3zm6 0h3v3h-3zm3 0h3v3h-3zm12 0h3v3h-3zm30 0h3v3h-3zm30 0h3v3h-3zm12 0h3v3h-3zm3 0h3v3h-3zm6 0h3v3h-3zm-117 3h3v3h-3zm3 0h3v3h-3zm6 0h3v3h-3zm6 0h3v3h-3zm18 0h3v3h-3zm66 0h3v3h-3zm12 0h3v3h-3zm-111 3h3v3h-3zm9 0h3v3h-3zm3 0h3v3h-3zm3 0h3v3h-3zm3 0h3v3h-3zm48 0h3v3h-3zm9 0h3v3h-3zm6 0h3v3h-3zm3 0h3v3h-3zm15 0h3v3h-3zm3 0h3v3h-3zm3 0h3v3h-3zm6 0h3v3h-3zm-99 3h3v3h-3zm90 0h3v3h-3zm3 0h3v3h-3zm9 0h3v3h-3zm3 0h3v3h-3zm-120 3h3v3h-3zm3 0h3v3h-3zm6 0h3v3h-3zm3 0h3v3h-3zm3 0h3v3h-3zm6 0h3v3h-3zm45 0h3v3h-3zm33 0h3v3h-3zm3 0h3v3h-3zm9 0h3v3h-3zm12 0h3v3h-3zm-129 3h3v3h-3zm3 0h3v3h-3zm3 0h3v3h-3zm21 0h3v3h-3zm3 0h3v3h-3zm3 0h3v3h-3zm3 0h3v3h-3zm78 0h3v3h-3zm6 0h3v3h-3zm6 0h3v3h-3zm-126 3h3v3h-3zm9 0h3v3h-3zm18 0h3v3h-3zm36 0h3v3h-3zm36 0h3v3h-3zm3 0h3v3h-3zm6 0h3v3h-3zm9 0h3v3h-3zm6 0h3v3h-3zm3 0h3v3h-3zm3 0h3v3h-3zm-120 3h3v3h-3zm21 0h3v3h-3zm3 0h3v3h-3zm57 0h3v3h-3zm18 0h3v3h-3zm6 0h3v3h-3zm12 0h3v3h-3zm9 0h3v3h-3zm-117 3h3v3h-3zm6 0h3v3h-3zm3 0h3v3h-3zm33 0h3v3h-3zm6 0h3v3h-3zm21 0h3v3h-3zm6 0h3v3h-3zm3 0h3v3h-3zm15 0h3v3h-3zm21 0h3v3h-3zm-117 3h3v3h-3zm6 0h3v3h-3zm9 0h3v3h-3zm15 0h3v3h-3zm6 0h3v3h-3zm12 0h3v3h-3zm3 0h3v3h-3zm9 0h3v3h-3zm21 0h3v3h-3zm3 0h3v3h-3zm9 0h3v3h-3zm3 0h3v3h-3zm15 0h3v3h-3zm-102 3h3v3h-3zm9 0h3v3h-3zm3 0h3v3h-3zm12 0h3v3h-3zm3 0h3v3h-3zm39 0h3v3h-3zm6 0h3v3h-3zm12 0h3v3h-3zm6 0h3v3h-3zm12 0h3v3h-3zm3 0h3v3h-3zm3 0h3v3h-3zm3 0h3v3h-3zm3 0h3v3h-3zm-114 3h3v3h-3zm39 0h3v3h-3zm6 0h3v3h-3zm12 0h3v3h-3zm6 0h3v3h-3zm3 0h3v3h-3zm3 0h3v3h-3zm3 0h3v3h-3zm3 0h3v3h-3zm9 0h3v3h-3zm3 0h3v3h-3zm3 0h3v3h-3zm3 0h3v3h-3zm15 0h3v3h-3zm3 0h3v3h-3zm-114 3h3v3h-3zm3 0h3v3h-3zm12 0h3v3h-3zm33 0h3v3h-3zm9 0h3v3h-3zm6 0h3v3h-3zm3 0h3v3h-3zm3 0h3v3h-3zm6 0h3v3h-3zm9 0h3v3h-3zm6 0h3v3h-3zm6 0h3v3h-3zm3 0h3v3h-3zm6 0h3v3h-3zm-99 3h3v3h-3zm3 0h3v3h-3zm9 0h3v3h-3zm6 0h3v3h-3zm3 0h3v3h-3zm18 0h3v3h-3zm3 0h3v3h-3zm12 0h3v3h-3zm3 0h3v3h-3zm6 0h3v3h-3zm3 0h3v3h-3zm3 0h3v3h-3zm21 0h3v3h-3zm6 0h3v3h-3zm6 0h3v3h-3zm-63 3h3v3h-3zm9 0h3v3h-3zm9 0h3v3h-3zm3 0h3v3h-3zm3 0h3v3h-3zm12 0h3v3h-3zm6 0h3v3h-3zm3 0h3v3h-3zm6 0h3v3h-3zm3 0h3v3h-3zm3 0h3v3h-3zm-126 3h3v3h-3zm3 0h3v3h-3zm18 0h3v3h-3zm12 0h3v3h-3zm3 0h3v3h-3zm12 0h3v3h-3zm12 0h3v3h-3zm9 0h3v3h-3zm18 0h3v3h-3zm3 0h3v3h-3zm3 0h3v3h-3zm6 0h3v3h-3zm6 0h3v3h-3zm9 0h3v3h-3zm3 0h3v3h-3zm6 0h3v3h-3zm6 0h3v3h-3zm-108 3h3v3h-3zm12 0h3v3h-3zm21 0h3v3h-3zm6 0h3v3h-3zm3 0h3v3h-3zm12 0h3v3h-3zm15 0h3v3h-3zm6 0h3v3h-3zm9 0h3v3h-3zm3 0h3v3h-3zm3 0h3v3h-3zm3 0h3v3h-3zm6 0h3v3h-3zm15 0h3v3h-3zm-129 3h3v3h-3zm18 0h3v3h-3zm3 0h3v3h-3zm3 0h3v3h-3zm3 0h3v3h-3zm6 0h3v3h-3zm12 0h3v3h-3zm6 0h3v3h-3zm9 0h3v3h-3zm39 0h3v3h-3zm6 0h3v3h-3zm3 0h3v3h-3zm18 0h3v3h-3zm6 0h3v3h-3zm-135 3h3v3h-3zm3 0h3v3h-3zm15 0h3v3h-3zm6 0h3v3h-3zm6 0h3v3h-3zm15 0h3v3h-3zm3 0h3v3h-3zm3 0h3v3h-3zm36 0h3v3h-3zm12 0h3v3h-3zm3 0h3v3h-3zm6 0h3v3h-3zm-63 3h3v3h-3zm-21 3h3v3h-3zm21 0h3v3h-3zm3 0h3v3h-3zm6 0h3v3h-3zm15 0h3v3h-3zm66 0h3v3h-3zm-114 3h3v3h-3zm3 0h3v3h-3zm21 0h3v3h-3zm3 0h3v3h-3zm3 0h3v3h-3zm3 0h3v3h-3zm3 0h3v3h-3zm45 0h3v3h-3zm-72 3h3v3h-3zm3 0h3v3h-3zm9 0h3v3h-3zm3 0h3v3h-3zm3 0h3v3h-3zm3 0h3v3h-3zm3 0h3v3h-3zm6 0h3v3h-3zm15 0h3v3h-3zm3 0h3v3h-3zm24 0h3v3h-3zm30 0h3v3h-3zm3 0h3v3h-3zm-135 3h3v3h-3zm27 0h3v3h-3zm3 0h3v3h-3zm9 0h3v3h-3zm3 0h3v3h-3zm6 0h3v3h-3zm3 0h3v3h-3zm3 0h3v3h-3zm6 0h3v3h-3zm72 0h3v3h-3zm3 0h3v3h-3zm-90 3h3v3h-3zm3 0h3v3h-3zm3 0h3v3h-3zm3 0h3v3h-3zm12 0h3v3h-3zm12 0h3v3h-3zm39 0h3v3h-3zm18 0h3v3h-3zm-135 3h3v3h-3zm24 0h3v3h-3zm9 0h3v3h-3zm12 0h3v3h-3zm6 0h3v3h-3zm3 0h3v3h-3zm3 0h3v3h-3zm18 0h3v3h-3zm12 0h3v3h-3zm3 0h3v3h-3zm45 0h3v3h-3zm-138 3h3v3h-3zm3 0h3v3h-3zm3 0h3v3h-3zm27 0h3v3h-3zm6 0h3v3h-3zm6 0h3v3h-3zm6 0h3v3h-3zm9 0h3v3h-3zm24 0h3v3h-3zm3 0h3v3h-3zm36 0h3v3h-3zm6 0h3v3h-3zm12 0h3v3h-3zm-138 3h3v3h-3zm3 0h3v3h-3zm3 0h3v3h-3zm6 0h3v3h-3zm9 0h3v3h-3zm3 0h3v3h-3zm3 0h3v3h-3zm6 0h3v3h-3zm30 0h3v3h-3zm6 0h3v3h-3zm15 0h3v3h-3zm6 0h3v3h-3zm36 0h3v3h-3zm3 0h3v3h-3zm6 0h3v3h-3zm-132 3h3v3h-3zm18 0h3v3h-3zm3 0h3v3h-3zm3 0h3v3h-3zm3 0h3v3h-3zm3 0h3v3h-3zm3 0h3v3h-3zm18 0h3v3h-3zm12 0h3v3h-3zm15 0h3v3h-3zm3 0h3v3h-3zm3 0h3v3h-3zm21 0h3v3h-3zm6 0h3v3h-3zm3 0h3v3h-3zm3 0h3v3h-3zm3 0h3v3h-3zm3 0h3v3h-3zm3 0h3v3h-3zm9 0h3v3h-3zm-111 3h3v3h-3zm3 0h3v3h-3zm9 0h3v3h-3zm24 0h3v3h-3zm21 0h3v3h-3zm3 0h3v3h-3zm21 0h3v3h-3zm27 0h3v3h-3zm3 0h3v3h-3zm-114 3h3v3h-3zm3 0h3v3h-3zm9 0h3v3h-3zm36 0h3v3h-3zm3 0h3v3h-3zm18 0h3v3h-3zm27 0h3v3h-3zm6 0h3v3h-3zm12 0h3v3h-3zm-141 3h3v3h-3zm36 0h3v3h-3zm15 0h3v3h-3zm3 0h3v3h-3zm30 0h3v3h-3zm12 0h3v3h-3zm3 0h3v3h-3zm3 0h3v3h-3zm3 0h3v3h-3zm27 0h3v3h-3zm-102 3h3v3h-3zm12 0h3v3h-3zm42 0h3v3h-3zm15 0h3v3h-3zm9 0h3v3h-3zm3 0h3v3h-3zm-105 3h3v3h-3zm21 0h3v3h-3zm12 0h3v3h-3zm21 0h3v3h-3zm9 0h3v3h-3zm3 0h3v3h-3zm3 0h3v3h-3zm3 0h3v3h-3zm63 0h3v3h-3zm-111 3h3v3h-3zm6 0h3v3h-3zm9 0h3v3h-3zm9 0h3v3h-3zm15 0h3v3h-3zm6 0h3v3h-3zm3 0h3v3h-3zm51 0h3v3h-3zm3 0h3v3h-3zm6 0h3v3h-3zm3 0h3v3h-3zm-114 3h3v3h-3zm3 0h3v3h-3zm9 0h3v3h-3zm3 0h3v3h-3zm24 0h3v3h-3zm3 0h3v3h-3zm3 0h3v3h-3zm3 0h3v3h-3zm33 0h3v3h-3zm3 0h3v3h-3zm6 0h3v3h-3zm3 0h3v3h-3zm12 0h3v3h-3zm9 0h3v3h-3zm-138 3h3v3h-3zm24 0h3v3h-3zm3 0h3v3h-3zm6 0h3v3h-3zm3 0h3v3h-3zm3 0h3v3h-3zm24 0h3v3h-3zm12 0h3v3h-3zm6 0h3v3h-3zm3 0h3v3h-3zm15 0h3v3h-3zm3 0h3v3h-3zm3 0h3v3h-3zm3 0h3v3h-3zm12 0h3v3h-3zm3 0h3v3h-3zm3 0h3v3h-3zm3 0h3v3h-3zm6 0h3v3h-3zm3 0h3v3h-3zm-111 3h3v3h-3zm9 0h3v3h-3zm15 0h3v3h-3zm30 0h3v3h-3zm3 0h3v3h-3zm3 0h3v3h-3zm21 0h3v3h-3zm3 0h3v3h-3zm3 0h3v3h-3zm18 0h3v3h-3zm6 0h3v3h-3zm-135 3h3v3h-3zm21 0h3v3h-3zm3 0h3v3h-3zm3 0h3v3h-3zm3 0h3v3h-3zm18 0h3v3h-3zm3 0h3v3h-3zm24 0h3v3h-3zm3 0h3v3h-3zm3 0h3v3h-3zm6 0h3v3h-3zm9 0h3v3h-3zm9 0h3v3h-3zm24 0h3v3h-3zm6 0h3v3h-3zm-141 3h3v3h-3zm9 0h3v3h-3zm9 0h3v3h-3zm6 0h3v3h-3zm6 0h3v3h-3zm3 0h3v3h-3zm12 0h3v3h-3zm3 0h3v3h-3zm3 0h3v3h-3zm3 0h3v3h-3zm27 0h3v3h-3zm3 0h3v3h-3zm3 0h3v3h-3zm3 0h3v3h-3zm6 0h3v3h-3zm9 0h3v3h-3zm3 0h3v3h-3zm3 0h3v3h-3zm6 0h3v3h-3zm-111 3h3v3h-3zm6 0h3v3h-3zm33 0h3v3h-3zm6 0h3v3h-3zm30 0h3v3h-3zm9 0h3v3h-3zm15 0h3v3h-3zm3 0h3v3h-3zm-105 3h3v3h-3zm6 0h3v3h-3zm3 0h3v3h-3zm3 0h3v3h-3zm9 0h3v3h-3zm18 0h3v3h-3zm3 0h3v3h-3zm3 0h3v3h-3zm3 0h3v3h-3zm6 0h3v3h-3zm9 0h3v3h-3zm12 0h3v3h-3zm3 0h3v3h-3zm3 0h3v3h-3zm3 0h3v3h-3zm3 0h3v3h-3zm3 0h3v3h-3zm18 0h3v3h-3zm6 0h3v3h-3zm3 0h3v3h-3zm6 0h3v3h-3zm-78 3h3v3h-3zm3 0h3v3h-3zm24 0h3v3h-3zm3 0h3v3h-3zm12 0h3v3h-3zm3 0h3v3h-3zm12 0h3v3h-3zm3 0h3v3h-3zm3 0h3v3h-3zm3 0h3v3h-3zm-111 3h3v3h-3zm3 0h3v3h-3zm3 0h3v3h-3zm6 0h3v3h-3zm36 0h3v3h-3zm6 0h3v3h-3zm3 0h3v3h-3zm15 0h3v3h-3zm3 0h3v3h-3zm3 0h3v3h-3zm3 0h3v3h-3zm6 0h3v3h-3zm6 0h3v3h-3zm12 0h3v3h-3zm6 0h3v3h-3zm3 0h3v3h-3zm12 0h3v3h-3zm-129 3h3v3h-3zm9 0h3v3h-3zm36 0h3v3h-3zm6 0h3v3h-3zm27 0h3v3h-3zm6 0h3v3h-3zm6 0h3v3h-3zm3 0h3v3h-3zm3 0h3v3h-3zm12 0h3v3h-3zm6 0h3v3h-3zm6 0h3v3h-3zm3 0h3v3h-3zm18 0h3v3h-3zm-135 3h3v3h-3zm18 0h3v3h-3zm6 0h3v3h-3zm15 0h3v3h-3zm6 0h3v3h-3zm3 0h3v3h-3zm30 0h3v3h-3zm6 0h3v3h-3zm9 0h3v3h-3zm3 0h3v3h-3zm3 0h3v3h-3zm3 0h3v3h-3zm3 0h3v3h-3zm15 0h3v3h-3zm3 0h3v3h-3zm6 0h3v3h-3zm3 0h3v3h-3z"/></pattern></defs>
<rect width="2261" height="2564" fill="#fff"/>
<rect x="1950" y="63" width="71" height="1015" fill="url(#jet)"/>
<path d="M1950 63H2021" stroke="#000" stroke-width="7.5"/>
<text x="2039" y="81.5" font-size="62">15.0</text>
<path d="M1950 316.8H2021" stroke="#000" stroke-width="7.5"/>
<text x="2039" y="335.2" font-size="62">14.5</text>
<path d="M1950 570.5H2021" stroke="#000" stroke-width="7.5"/>
<text x="2039" y="589" font-size="62">14.0</text>
<path d="M1950 824.2H2021" stroke="#000" stroke-width="7.5"/>
<text x="2039" y="842.8" font-size="62">13.5</text>
<path d="M1950 1078H2021" stroke="#000" stroke-width="7.5"/>
<text x="2039" y="1096.5" font-size="62">13.0</text>
<text transform="translate(2226 570.5) rotate(-90)" text-anchor="middle" font-size="60">Atomic Mises stress (GPa)</text>
<path d="M261 1078V1100 M261 63V85 M345.4 1078V1091 M345.4 63V76 M429.9 1078V1100 M429.9 63V85 M514.4 1078V1091 M514.4 63V76 M598.8 1078V1100 M598.8 63V85 M683.2 1078V1091 M683.2 63V76 M767.7 1078V1100 M767.7 63V85 M852.1 1078V1091 M852.1 63V76 M936.6 1078V1100 M936.6 63V85 M1021.1 1078V1091 M1021.1 63V76 M1105.5 1078V1100 M1105.5 63V85 M1190 1078V1091 M1190 63V76 M1274.4 1078V1100 M1274.4 63V85 M1358.9 1078V1091 M1358.9 63V76 M1443.3 1078V1100 M1443.3 63V85 M1527.8 1078V1091 M1527.8 63V76 M1612.2 1078V1100 M1612.2 63V85 M1696.7 1078V1091 M1696.7 63V76 M1781.1 1078V1100 M1781.1 63V85 M1865.5 1078V1091 M1865.5 63V76 M1950 1078V1100 M1950 63V85 M261 1078H239 M261 976.5H248 M261 875H239 M261 773.5H248 M261 672H239 M261 570.5H248 M261 469H239 M261 367.5H248 M261 266H239 M261 164.5H248 M261 63H239" stroke="#000" stroke-width="7"/>
<text x="263" y="1159" font-size="61" text-anchor="middle">11.0</text>
<text x="431.9" y="1159" font-size="61" text-anchor="middle">11.5</text>
<text x="600.8" y="1159" font-size="61" text-anchor="middle">12.0</text>
<text x="769.7" y="1159" font-size="61" text-anchor="middle">12.5</text>
<text x="938.6" y="1159" font-size="61" text-anchor="middle">13.0</text>
<text x="1107.5" y="1159" font-size="61" text-anchor="middle">13.5</text>
<text x="1276.4" y="1159" font-size="61" text-anchor="middle">14.0</text>
<text x="1445.3" y="1159" font-size="61" text-anchor="middle">14.5</text>
<text x="1614.2" y="1159" font-size="61" text-anchor="middle">15.0</text>
<text x="1783.1" y="1159" font-size="61" text-anchor="middle">15.5</text>
<text x="1952" y="1159" font-size="61" text-anchor="middle">16.0</text>
<text x="228" y="1098" font-size="61" text-anchor="end">0.0</text>
<text x="228" y="895" font-size="61" text-anchor="end">2.0</text>
<text x="228" y="692" font-size="61" text-anchor="end">4.0</text>
<text x="228" y="489" font-size="61" text-anchor="end">6.0</text>
<text x="228" y="286" font-size="61" text-anchor="end">8.0</text>
<text x="228" y="83" font-size="61" text-anchor="end">10.0</text>
<text x="1105.5" y="1257" font-size="60" text-anchor="middle">Mises stress (GPa)</text>
<text transform="translate(71 570.5) rotate(-90)" font-size="60" text-anchor="middle">Probability density (%)</text>
<text x="10" y="82" font-size="76" letter-spacing="3.5">(a)</text>
<rect x="1948.5" y="1340" width="72.5" height="1015" fill="url(#jet)"/>
<path d="M1948.5 1340H2021" stroke="#000" stroke-width="7.5"/>
<text x="2039" y="1358.5" font-size="62">14.6</text>
<path d="M1948.5 1593.8H2021" stroke="#000" stroke-width="7.5"/>
<text x="2039" y="1612.2" font-size="62">14.2</text>
<path d="M1948.5 1847.5H2021" stroke="#000" stroke-width="7.5"/>
<text x="2039" y="1866" font-size="62">13.8</text>
<path d="M1948.5 2101.2H2021" stroke="#000" stroke-width="7.5"/>
<text x="2039" y="2119.8" font-size="62">13.4</text>
<path d="M1948.5 2355H2021" stroke="#000" stroke-width="7.5"/>
<text x="2039" y="2373.5" font-size="62">13.0</text>
<text transform="translate(2226 1847.5) rotate(-90)" text-anchor="middle" font-size="60">Atomic Mises stress (GPa)</text>
<path d="M260.5 2355V2377 M260.5 1340V1362 M344.9 2355V2368 M344.9 1340V1353 M429.3 2355V2377 M429.3 1340V1362 M513.7 2355V2368 M513.7 1340V1353 M598.1 2355V2377 M598.1 1340V1362 M682.5 2355V2368 M682.5 1340V1353 M766.9 2355V2377 M766.9 1340V1362 M851.3 2355V2368 M851.3 1340V1353 M935.7 2355V2377 M935.7 1340V1362 M1020.1 2355V2368 M1020.1 1340V1353 M1104.5 2355V2377 M1104.5 1340V1362 M1188.9 2355V2368 M1188.9 1340V1353 M1273.3 2355V2377 M1273.3 1340V1362 M1357.7 2355V2368 M1357.7 1340V1353 M1442.1 2355V2377 M1442.1 1340V1362 M1526.5 2355V2368 M1526.5 1340V1353 M1610.9 2355V2377 M1610.9 1340V1362 M1695.3 2355V2368 M1695.3 1340V1353 M1779.7 2355V2377 M1779.7 1340V1362 M1864.1 2355V2368 M1864.1 1340V1353 M1948.5 2355V2377 M1948.5 1340V1362 M260.5 2355H238.5 M260.5 2253.5H247.5 M260.5 2152H238.5 M260.5 2050.5H247.5 M260.5 1949H238.5 M260.5 1847.5H247.5 M260.5 1746H238.5 M260.5 1644.5H247.5 M260.5 1543H238.5 M260.5 1441.5H247.5 M260.5 1340H238.5" stroke="#000" stroke-width="7"/>
<text x="262.5" y="2436" font-size="61" text-anchor="middle">11.0</text>
<text x="431.3" y="2436" font-size="61" text-anchor="middle">11.5</text>
<text x="600.1" y="2436" font-size="61" text-anchor="middle">12.0</text>
<text x="768.9" y="2436" font-size="61" text-anchor="middle">12.5</text>
<text x="937.7" y="2436" font-size="61" text-anchor="middle">13.0</text>
<text x="1106.5" y="2436" font-size="61" text-anchor="middle">13.5</text>
<text x="1275.3" y="2436" font-size="61" text-anchor="middle">14.0</text>
<text x="1444.1" y="2436" font-size="61" text-anchor="middle">14.5</text>
<text x="1612.9" y="2436" font-size="61" text-anchor="middle">15.0</text>
<text x="1781.7" y="2436" font-size="61" text-anchor="middle">15.5</text>
<text x="1950.5" y="2436" font-size="61" text-anchor="middle">16.0</text>
<text x="228" y="2375" font-size="61" text-anchor="end">0.0</text>
<text x="228" y="2172" font-size="61" text-anchor="end">2.0</text>
<text x="228" y="1969" font-size="61" text-anchor="end">4.0</text>
<text x="228" y="1766" font-size="61" text-anchor="end">6.0</text>
<text x="228" y="1563" font-size="61" text-anchor="end">8.0</text>
<text x="228" y="1360" font-size="61" text-anchor="end">10.0</text>
<text x="1104.5" y="2534" font-size="60" text-anchor="middle">Mises stress (GPa)</text>
<text transform="translate(71 1847.5) rotate(-90)" font-size="60" text-anchor="middle">Probability density (%)</text>
<text x="10" y="1359" font-size="76" letter-spacing="3.5">(b)</text>
<g>
<path d="M337 774.6 L787.7 547.7 L805.3 547.7 L805.3 618.5 L863.2 637.8 L860.2 659.7 L385.3 900.2 C354.7 895.7 321.9 860.7 317.7 816.5 C316.7 802.5 334 778.6 337 774.6 Z" fill="url(#pt_shell)"/>
<path d="M357.7 779.2 L375.7 771.5 L389.7 761.9 L403.7 754.6 L417.7 750.2 L431.7 744.4 L445.7 735.5 L459.7 726.8 L473.7 717.8 L487.7 715.6 L501.7 706.5 L515.7 700.3 L529.7 693.5 L543.7 682.7 L557.7 679 L571.7 672.6 L585.7 666.3 L599.7 654.8 L613.7 651.6 L627.7 640.5 L641.7 639 L655.7 628.9 L669.7 624.7 L683.7 615.6 L697.7 608.8 L711.7 602.3 L725.7 595 L739.7 586.7 L753.7 573.6 L767.7 566.3 L781.7 559.7 L787.7 556.7 L805.3 554.7 L805.3 618.5 L863.2 637.8 L862.2 643.7 L847.7 649.4 L835.7 656.5 L823.7 654.7 L811.7 666.8 L799.7 673.5 L787.7 674 L775.7 675.4 L763.7 687.1 L751.7 690.7 L739.7 698.2 L727.7 698.4 L715.7 710 L703.7 719.2 L691.7 716.4 L679.7 728.7 L667.7 732.4 L655.7 736.8 L643.7 744.9 L631.7 754.1 L619.7 755.5 L607.7 759.4 L595.7 765.2 L583.7 772.8 L571.7 777.6 L559.7 782.7 L547.7 793.2 L535.7 799.7 L523.7 804.7 L511.7 816 L499.7 814.8 L487.7 820.3 L475.7 832.9 L463.7 839.5 L451.7 843.6 L439.7 856.5 L427.7 870.9 L415.7 876.5 L405.7 889.7 L389.7 894.7 L369.7 891.7 L351.7 882.7 L336.7 867.7 L326.7 845.7 L323.7 820.7 L328.7 801.7 L341.7 787.7Z" fill="url(#pt_cyan)"/>
<clipPath id="clip_aLL"><path d="M357.7 779.2 L375.7 771.5 L389.7 761.9 L403.7 754.6 L417.7 750.2 L431.7 744.4 L445.7 735.5 L459.7 726.8 L473.7 717.8 L487.7 715.6 L501.7 706.5 L515.7 700.3 L529.7 693.5 L543.7 682.7 L557.7 679 L571.7 672.6 L585.7 666.3 L599.7 654.8 L613.7 651.6 L627.7 640.5 L641.7 639 L655.7 628.9 L669.7 624.7 L683.7 615.6 L697.7 608.8 L711.7 602.3 L725.7 595 L739.7 586.7 L753.7 573.6 L767.7 566.3 L781.7 559.7 L787.7 556.7 L805.3 554.7 L805.3 618.5 L863.2 637.8 L862.2 643.7 L847.7 649.4 L835.7 656.5 L823.7 654.7 L811.7 666.8 L799.7 673.5 L787.7 674 L775.7 675.4 L763.7 687.1 L751.7 690.7 L739.7 698.2 L727.7 698.4 L715.7 710 L703.7 719.2 L691.7 716.4 L679.7 728.7 L667.7 732.4 L655.7 736.8 L643.7 744.9 L631.7 754.1 L619.7 755.5 L607.7 759.4 L595.7 765.2 L583.7 772.8 L571.7 777.6 L559.7 782.7 L547.7 793.2 L535.7 799.7 L523.7 804.7 L511.7 816 L499.7 814.8 L487.7 820.3 L475.7 832.9 L463.7 839.5 L451.7 843.6 L439.7 856.5 L427.7 870.9 L415.7 876.5 L405.7 889.7 L389.7 894.7 L369.7 891.7 L351.7 882.7 L336.7 867.7 L326.7 845.7 L323.7 820.7 L328.7 801.7 L341.7 787.7Z"/></clipPath>
<path clip-path="url(#clip_aLL)" d="M362.7 829.7 L804.7 611.7" stroke="#000" stroke-opacity="0.12" stroke-width="16" stroke-linecap="round"/>
<path d="M640 634.7h3.5v3.5h-3.5zM780.1 558.4h3.5v3.5h-3.5zM498.8 708.1h3.5v3.5h-3.5zM392.8 758h3.5v3.5h-3.5zM691.7 601.2h3.5v3.5h-3.5zM445.8 734.7h3.5v3.5h-3.5zM713 597.1h3.5v3.5h-3.5zM664.6 619.4h3.5v3.5h-3.5zM390.1 757.7h3.5v3.5h-3.5zM637.6 637.2h3.5v3.5h-3.5zM490.6 705.2h3.5v3.5h-3.5zM632.1 632.1h3.5v3.5h-3.5z" fill="#00e000"/>
<path d="M619 771.2h3.5v3.5h-3.5zM767.1 685.8h3.5v3.5h-3.5zM410 750.4h3.5v3.5h-3.5zM476.2 711.7h3.5v3.5h-3.5zM834.9 659.6h3.5v3.5h-3.5zM469.3 845.9h3.5v3.5h-3.5zM500.4 831.8h3.5v3.5h-3.5zM709.8 724.9h3.5v3.5h-3.5zM826.8 656.4h3.5v3.5h-3.5zM724.6 711.5h3.5v3.5h-3.5zM696.6 724.3h3.5v3.5h-3.5zM664.8 737.2h3.5v3.5h-3.5zM586.5 660.5h3.5v3.5h-3.5zM428.6 864.3h3.5v3.5h-3.5zM495.5 835.3h3.5v3.5h-3.5zM740.4 712h3.5v3.5h-3.5zM527.1 813.3h3.5v3.5h-3.5zM617.6 638.8h3.5v3.5h-3.5zM709.5 716.9h3.5v3.5h-3.5zM622.8 761.6h3.5v3.5h-3.5zM543.5 799.6h3.5v3.5h-3.5zM780.8 683.9h3.5v3.5h-3.5zM519.8 812.1h3.5v3.5h-3.5zM735.4 710.6h3.5v3.5h-3.5zM405.9 747.6h3.5v3.5h-3.5zM391.2 881.3h3.5v3.5h-3.5zM475.9 710.5h3.5v3.5h-3.5zM416.8 862.3h3.5v3.5h-3.5zM409.9 878.9h3.5v3.5h-3.5zM385.7 878.5h3.5v3.5h-3.5zM457.1 853.3h3.5v3.5h-3.5zM412.5 869.2h3.5v3.5h-3.5zM405.1 749.7h3.5v3.5h-3.5zM407.6 871.6h3.5v3.5h-3.5zM580.3 659.2h3.5v3.5h-3.5zM590.3 788.6h3.5v3.5h-3.5zM625.3 644.2h3.5v3.5h-3.5zM841 652.4h3.5v3.5h-3.5zM790.1 673.6h3.5v3.5h-3.5zM672 746.6h3.5v3.5h-3.5z" fill="#ff2000"/>
<path d="M545.8 676.9h3.5v3.5h-3.5zM578.9 665.4h3.5v3.5h-3.5zM401.1 753.9h3.5v3.5h-3.5zM516 697.8h3.5v3.5h-3.5zM606.9 645.1h3.5v3.5h-3.5zM598.9 653.7h3.5v3.5h-3.5zM656.5 627.5h3.5v3.5h-3.5zM704.4 598.8h3.5v3.5h-3.5zM645 628.4h3.5v3.5h-3.5zM532.7 682h3.5v3.5h-3.5zM528.7 690.6h3.5v3.5h-3.5zM582.8 663.7h3.5v3.5h-3.5zM377 759.6h3.5v3.5h-3.5zM543.2 684.2h3.5v3.5h-3.5zM787 556.5h3.5v3.5h-3.5zM618.1 645.3h3.5v3.5h-3.5zM558.1 673.9h3.5v3.5h-3.5zM491.3 704.5h3.5v3.5h-3.5zM434.3 736.5h3.5v3.5h-3.5zM773.6 566.9h3.5v3.5h-3.5zM426 736.1h3.5v3.5h-3.5z" fill="#ff6000"/>
<path d="M455.4 843.2h3.5v3.5h-3.5zM463 851h3.5v3.5h-3.5zM432.5 856.9h3.5v3.5h-3.5zM442.3 849.5h3.5v3.5h-3.5zM779.6 691.8h3.5v3.5h-3.5zM403.6 871.6h3.5v3.5h-3.5zM569.8 797.5h3.5v3.5h-3.5zM774.9 681.3h3.5v3.5h-3.5zM399.4 880.1h3.5v3.5h-3.5zM710.6 723.9h3.5v3.5h-3.5zM771.7 686.5h3.5v3.5h-3.5z" fill="#0080ff"/>
<path d="M825.8 660.8h3.5v3.5h-3.5zM396.4 888.2h3.5v3.5h-3.5zM479.3 844.3h3.5v3.5h-3.5zM420.5 874.5h3.5v3.5h-3.5zM816 674.2h3.5v3.5h-3.5zM637.9 754.6h3.5v3.5h-3.5zM581.5 787.4h3.5v3.5h-3.5zM615.3 775.3h3.5v3.5h-3.5zM776.4 686.6h3.5v3.5h-3.5zM729.4 711h3.5v3.5h-3.5zM500.8 819.9h3.5v3.5h-3.5zM650.5 746.9h3.5v3.5h-3.5zM553.5 796.7h3.5v3.5h-3.5z" fill="#00d000"/>
<path d="M347.3 775h3.5v3.5h-3.5zM639.9 631.4h3.5v3.5h-3.5zM582.2 665.9h3.5v3.5h-3.5zM655.1 625.5h3.5v3.5h-3.5zM349.9 775.9h3.5v3.5h-3.5zM774.8 567.9h3.5v3.5h-3.5zM561.4 675.9h3.5v3.5h-3.5zM710.2 595.6h3.5v3.5h-3.5zM716.2 593.6h3.5v3.5h-3.5zM622.2 636.5h3.5v3.5h-3.5zM640 635.3h3.5v3.5h-3.5zM499.2 702.8h3.5v3.5h-3.5zM768.8 563.8h3.5v3.5h-3.5z" fill="#00e0a0"/>
<path d="M595.7 785.9h3.5v3.5h-3.5zM826.8 666.5h3.5v3.5h-3.5zM457.1 855.6h3.5v3.5h-3.5zM460.4 840.2h3.5v3.5h-3.5zM431.8 855.1h3.5v3.5h-3.5zM744.6 696.5h3.5v3.5h-3.5zM549.7 804.6h3.5v3.5h-3.5zM548.2 800.7h3.5v3.5h-3.5zM515 817.7h3.5v3.5h-3.5zM642.6 759.1h3.5v3.5h-3.5zM777 686.9h3.5v3.5h-3.5zM449.9 861.4h3.5v3.5h-3.5zM782.4 684.7h3.5v3.5h-3.5zM540.9 803.9h3.5v3.5h-3.5zM431.8 868.2h3.5v3.5h-3.5z" fill="#e0a000"/>
<path d="M502.3 706.2h3.5v3.5h-3.5zM609.6 648.7h3.5v3.5h-3.5zM721.3 593.4h3.5v3.5h-3.5zM500.6 702.4h3.5v3.5h-3.5zM677.8 614.3h3.5v3.5h-3.5zM375.7 761.5h3.5v3.5h-3.5zM644.6 632.7h3.5v3.5h-3.5zM734.6 587.4h3.5v3.5h-3.5zM691.7 610.4h3.5v3.5h-3.5zM534.1 686.9h3.5v3.5h-3.5zM510.8 692.4h3.5v3.5h-3.5zM386.6 757.8h3.5v3.5h-3.5zM395.7 757.5h3.5v3.5h-3.5zM750.8 573.1h3.5v3.5h-3.5zM724.1 591.6h3.5v3.5h-3.5z" fill="#00c0ff"/>
</g>
<g>
<path d="M802.2 367.8 L1252.9 140.9 L1270.5 140.9 L1270.5 211.7 L1328.4 231 L1325.4 252.9 L850.5 493.4 C819.9 488.9 787.1 453.9 782.9 409.7 C781.9 395.7 799.2 371.8 802.2 367.8 Z" fill="url(#pt_shell)"/>
<path d="M822.9 372.4 L840.9 362.7 L854.9 354.8 L868.9 351.6 L882.9 341.8 L896.9 335.3 L910.9 328.4 L924.9 319.9 L938.9 315 L952.9 309.7 L966.9 296.9 L980.9 293.3 L994.9 284.1 L1008.9 279.8 L1022.9 272.6 L1036.9 261.5 L1050.9 254.9 L1064.9 250.8 L1078.9 246 L1092.9 238.5 L1106.9 231.7 L1120.9 219.8 L1134.9 214.3 L1148.9 208.8 L1162.9 200.3 L1176.9 191.4 L1190.9 188.2 L1204.9 178.2 L1218.9 168.6 L1232.9 161.2 L1246.9 154.7 L1252.9 149.9 L1270.5 147.9 L1270.5 211.7 L1328.4 231 L1327.4 236.9 L1312.9 245.8 L1300.9 250.8 L1288.9 251.2 L1276.9 262.3 L1264.9 265.1 L1252.9 265 L1240.9 270.1 L1228.9 278.7 L1216.9 283 L1204.9 295.2 L1192.9 292.5 L1180.9 306.7 L1168.9 306.1 L1156.9 318.6 L1144.9 320.9 L1132.9 323.9 L1120.9 338.5 L1108.9 338.8 L1096.9 350.4 L1084.9 349.9 L1072.9 355.1 L1060.9 364.3 L1048.9 366.7 L1036.9 376.6 L1024.9 383.9 L1012.9 389.3 L1000.9 388.9 L988.9 401.6 L976.9 403.6 L964.9 411.5 L952.9 421.6 L940.9 427.7 L928.9 427.7 L916.9 437.2 L904.9 453.8 L892.9 460.5 L880.9 473.2 L870.9 482.9 L854.9 487.9 L834.9 484.9 L816.9 475.9 L801.9 460.9 L791.9 438.9 L788.9 413.9 L793.9 394.9 L806.9 380.9Z" fill="url(#pt_green)"/>
<clipPath id="clip_aUM"><path d="M822.9 372.4 L840.9 362.7 L854.9 354.8 L868.9 351.6 L882.9 341.8 L896.9 335.3 L910.9 328.4 L924.9 319.9 L938.9 315 L952.9 309.7 L966.9 296.9 L980.9 293.3 L994.9 284.1 L1008.9 279.8 L1022.9 272.6 L1036.9 261.5 L1050.9 254.9 L1064.9 250.8 L1078.9 246 L1092.9 238.5 L1106.9 231.7 L1120.9 219.8 L1134.9 214.3 L1148.9 208.8 L1162.9 200.3 L1176.9 191.4 L1190.9 188.2 L1204.9 178.2 L1218.9 168.6 L1232.9 161.2 L1246.9 154.7 L1252.9 149.9 L1270.5 147.9 L1270.5 211.7 L1328.4 231 L1327.4 236.9 L1312.9 245.8 L1300.9 250.8 L1288.9 251.2 L1276.9 262.3 L1264.9 265.1 L1252.9 265 L1240.9 270.1 L1228.9 278.7 L1216.9 283 L1204.9 295.2 L1192.9 292.5 L1180.9 306.7 L1168.9 306.1 L1156.9 318.6 L1144.9 320.9 L1132.9 323.9 L1120.9 338.5 L1108.9 338.8 L1096.9 350.4 L1084.9 349.9 L1072.9 355.1 L1060.9 364.3 L1048.9 366.7 L1036.9 376.6 L1024.9 383.9 L1012.9 389.3 L1000.9 388.9 L988.9 401.6 L976.9 403.6 L964.9 411.5 L952.9 421.6 L940.9 427.7 L928.9 427.7 L916.9 437.2 L904.9 453.8 L892.9 460.5 L880.9 473.2 L870.9 482.9 L854.9 487.9 L834.9 484.9 L816.9 475.9 L801.9 460.9 L791.9 438.9 L788.9 413.9 L793.9 394.9 L806.9 380.9Z"/></clipPath>
<path clip-path="url(#clip_aUM)" d="M827.9 422.9 L1269.9 204.9" stroke="#000" stroke-opacity="0.12" stroke-width="16" stroke-linecap="round"/>
<path d="M1093.7 236h3.5v3.5h-3.5zM1263.8 268.1h3.5v3.5h-3.5zM1289.5 251.6h3.5v3.5h-3.5zM1227.7 164.2h3.5v3.5h-3.5zM974.3 422.2h3.5v3.5h-3.5zM1023.8 387.8h3.5v3.5h-3.5zM1079.2 357.9h3.5v3.5h-3.5zM1308.5 243.4h3.5v3.5h-3.5zM843.9 360.1h3.5v3.5h-3.5zM828.2 367.4h3.5v3.5h-3.5zM1121.3 334.7h3.5v3.5h-3.5zM1178.1 184h3.5v3.5h-3.5zM1314.5 237.2h3.5v3.5h-3.5zM935 311.7h3.5v3.5h-3.5zM905.6 448h3.5v3.5h-3.5zM1075.3 245h3.5v3.5h-3.5zM1063.1 246.1h3.5v3.5h-3.5zM1053 253h3.5v3.5h-3.5zM924.1 440.8h3.5v3.5h-3.5zM1001.5 276.9h3.5v3.5h-3.5zM894.2 449.3h3.5v3.5h-3.5zM1012.5 391.1h3.5v3.5h-3.5zM1153.8 323.6h3.5v3.5h-3.5zM1072.6 244.6h3.5v3.5h-3.5zM1019.5 387h3.5v3.5h-3.5zM884.1 463.7h3.5v3.5h-3.5zM1239.1 288.4h3.5v3.5h-3.5zM1028.5 383.9h3.5v3.5h-3.5zM916.1 447.7h3.5v3.5h-3.5zM1131.3 213.5h3.5v3.5h-3.5zM1004.7 273.7h3.5v3.5h-3.5zM859.8 473.9h3.5v3.5h-3.5zM1029.7 264.9h3.5v3.5h-3.5zM988.3 411.1h3.5v3.5h-3.5zM887.7 456.9h3.5v3.5h-3.5zM880.1 457.8h3.5v3.5h-3.5zM1153.7 324.7h3.5v3.5h-3.5zM962.6 415.4h3.5v3.5h-3.5zM1116.9 344.8h3.5v3.5h-3.5zM1152.8 206h3.5v3.5h-3.5zM1019.1 268.6h3.5v3.5h-3.5zM1053 253.6h3.5v3.5h-3.5zM1317.8 235.2h3.5v3.5h-3.5zM1105.8 229.6h3.5v3.5h-3.5z" fill="#ff2000"/>
<path d="M1323 233.7h3.5v3.5h-3.5zM936.3 431.2h3.5v3.5h-3.5zM983.3 418.7h3.5v3.5h-3.5zM955.4 430.6h3.5v3.5h-3.5zM1036.2 387h3.5v3.5h-3.5zM1149.7 322.7h3.5v3.5h-3.5zM1281.7 261.8h3.5v3.5h-3.5zM899.7 458.2h3.5v3.5h-3.5zM1237.9 289.2h3.5v3.5h-3.5zM880.3 466.6h3.5v3.5h-3.5zM982.6 420h3.5v3.5h-3.5zM996.5 402.8h3.5v3.5h-3.5zM1254.3 281.6h3.5v3.5h-3.5zM1309.5 251.8h3.5v3.5h-3.5zM965 415h3.5v3.5h-3.5zM893.2 465.3h3.5v3.5h-3.5zM1010.5 396.5h3.5v3.5h-3.5zM960.5 416h3.5v3.5h-3.5zM1159.3 321.3h3.5v3.5h-3.5z" fill="#0080ff"/>
<path d="M1099.7 224.6h3.5v3.5h-3.5zM1153.2 201.8h3.5v3.5h-3.5zM874.2 345.4h3.5v3.5h-3.5zM1233 163.5h3.5v3.5h-3.5zM854.5 356.1h3.5v3.5h-3.5zM1022.9 269h3.5v3.5h-3.5zM1006.9 272.8h3.5v3.5h-3.5zM1109.8 227.9h3.5v3.5h-3.5zM1098.8 228.4h3.5v3.5h-3.5zM1196.9 180.4h3.5v3.5h-3.5zM1102.7 231.3h3.5v3.5h-3.5zM1139.2 212.2h3.5v3.5h-3.5z" fill="#ff6000"/>
<path d="M951.1 302.9h3.5v3.5h-3.5zM1113 226h3.5v3.5h-3.5zM921.8 320.5h3.5v3.5h-3.5zM1120.4 217.9h3.5v3.5h-3.5zM1145.1 204h3.5v3.5h-3.5zM845.5 353.7h3.5v3.5h-3.5zM1066.8 248.1h3.5v3.5h-3.5zM1137.5 211.8h3.5v3.5h-3.5zM1104.8 223.9h3.5v3.5h-3.5zM1002.7 277.1h3.5v3.5h-3.5zM1004 279.4h3.5v3.5h-3.5zM934.7 308.1h3.5v3.5h-3.5zM915.3 319.3h3.5v3.5h-3.5zM1136.2 210.6h3.5v3.5h-3.5z" fill="#00c0ff"/>
<path d="M1192.8 301h3.5v3.5h-3.5zM964.6 416.3h3.5v3.5h-3.5zM1288.8 256.2h3.5v3.5h-3.5zM1087.4 361.6h3.5v3.5h-3.5zM1214.8 292.6h3.5v3.5h-3.5zM1193.7 312.5h3.5v3.5h-3.5zM938.4 436.8h3.5v3.5h-3.5zM970.1 416.5h3.5v3.5h-3.5zM873.9 474.9h3.5v3.5h-3.5zM1306.8 241.4h3.5v3.5h-3.5zM1299.5 256.9h3.5v3.5h-3.5zM880.8 462.1h3.5v3.5h-3.5zM925.8 434.3h3.5v3.5h-3.5z" fill="#00d000"/>
<path d="M990.4 284.2h3.5v3.5h-3.5zM974.4 291.7h3.5v3.5h-3.5zM978.9 286h3.5v3.5h-3.5zM991.1 278h3.5v3.5h-3.5zM935.1 315.2h3.5v3.5h-3.5zM836.5 355.8h3.5v3.5h-3.5zM819.3 369h3.5v3.5h-3.5zM1003.6 276.1h3.5v3.5h-3.5zM1023.1 266.7h3.5v3.5h-3.5zM1116.7 218.3h3.5v3.5h-3.5zM1070.5 243.8h3.5v3.5h-3.5zM1076.1 243.3h3.5v3.5h-3.5zM1198.7 175.9h3.5v3.5h-3.5z" fill="#00e0a0"/>
<path d="M972.1 422.3h3.5v3.5h-3.5zM855.1 480.7h3.5v3.5h-3.5zM1205.1 303.5h3.5v3.5h-3.5zM986.7 407.1h3.5v3.5h-3.5zM1025.6 384.2h3.5v3.5h-3.5zM1165.8 313.2h3.5v3.5h-3.5zM1311.9 251.6h3.5v3.5h-3.5zM1271.8 267.9h3.5v3.5h-3.5zM1047.9 374.8h3.5v3.5h-3.5zM907.3 445.3h3.5v3.5h-3.5zM895.8 450.6h3.5v3.5h-3.5zM1273.5 265.5h3.5v3.5h-3.5z" fill="#e0a000"/>
<path d="M806.1 374.4h3.5v3.5h-3.5zM860.5 344.6h3.5v3.5h-3.5zM916.4 319.7h3.5v3.5h-3.5zM875.1 342.3h3.5v3.5h-3.5zM828 366.1h3.5v3.5h-3.5zM880.8 333.3h3.5v3.5h-3.5zM1139.5 211.2h3.5v3.5h-3.5zM1029.6 267.9h3.5v3.5h-3.5zM998.7 281.7h3.5v3.5h-3.5zM1030.5 263h3.5v3.5h-3.5zM861.6 348.9h3.5v3.5h-3.5zM841.3 359.9h3.5v3.5h-3.5zM1059.9 245h3.5v3.5h-3.5z" fill="#00e000"/>
</g>
<g>
<path d="M1368.6 367.8 L1819.3 140.9 L1836.9 140.9 L1836.9 211.7 L1894.8 231 L1891.8 252.9 L1416.9 493.4 C1386.3 488.9 1353.5 453.9 1349.3 409.7 C1348.3 395.7 1365.6 371.8 1368.6 367.8 Z" fill="url(#pt_shell)"/>
<path d="M1389.3 372.4 L1407.3 360.6 L1421.3 355.3 L1435.3 351.3 L1449.3 342.1 L1463.3 335.1 L1477.3 330.2 L1491.3 318.5 L1505.3 312.8 L1519.3 304.9 L1533.3 302.4 L1547.3 292.7 L1561.3 286.7 L1575.3 277.3 L1589.3 272.3 L1603.3 261.9 L1617.3 260.7 L1631.3 249.4 L1645.3 242 L1659.3 239.8 L1673.3 229.5 L1687.3 223 L1701.3 216.8 L1715.3 208.2 L1729.3 204.5 L1743.3 191.8 L1757.3 184.5 L1771.3 177.7 L1785.3 168.3 L1799.3 159.7 L1813.3 154.6 L1819.3 149.9 L1836.9 147.9 L1836.9 211.7 L1894.8 231 L1893.8 236.9 L1879.3 246.2 L1867.3 253 L1855.3 256.3 L1843.3 257.9 L1831.3 264.4 L1819.3 263.3 L1807.3 270.4 L1795.3 282 L1783.3 289.1 L1771.3 289.8 L1759.3 301.4 L1747.3 308.3 L1735.3 313.3 L1723.3 320 L1711.3 321.7 L1699.3 328.9 L1687.3 329.9 L1675.3 339.9 L1663.3 347.9 L1651.3 351.2 L1639.3 357.8 L1627.3 361.5 L1615.3 372.6 L1603.3 375.6 L1591.3 377.5 L1579.3 387.6 L1567.3 398.4 L1555.3 402.1 L1543.3 403.2 L1531.3 410.2 L1519.3 419.8 L1507.3 423.9 L1495.3 426.4 L1483.3 445.1 L1471.3 451.7 L1459.3 456.6 L1447.3 474.3 L1437.3 482.9 L1421.3 487.9 L1401.3 484.9 L1383.3 475.9 L1368.3 460.9 L1358.3 438.9 L1355.3 413.9 L1360.3 394.9 L1373.3 380.9Z" fill="url(#pt_orange)"/>
<clipPath id="clip_aUR"><path d="M1389.3 372.4 L1407.3 360.6 L1421.3 355.3 L1435.3 351.3 L1449.3 342.1 L1463.3 335.1 L1477.3 330.2 L1491.3 318.5 L1505.3 312.8 L1519.3 304.9 L1533.3 302.4 L1547.3 292.7 L1561.3 286.7 L1575.3 277.3 L1589.3 272.3 L1603.3 261.9 L1617.3 260.7 L1631.3 249.4 L1645.3 242 L1659.3 239.8 L1673.3 229.5 L1687.3 223 L1701.3 216.8 L1715.3 208.2 L1729.3 204.5 L1743.3 191.8 L1757.3 184.5 L1771.3 177.7 L1785.3 168.3 L1799.3 159.7 L1813.3 154.6 L1819.3 149.9 L1836.9 147.9 L1836.9 211.7 L1894.8 231 L1893.8 236.9 L1879.3 246.2 L1867.3 253 L1855.3 256.3 L1843.3 257.9 L1831.3 264.4 L1819.3 263.3 L1807.3 270.4 L1795.3 282 L1783.3 289.1 L1771.3 289.8 L1759.3 301.4 L1747.3 308.3 L1735.3 313.3 L1723.3 320 L1711.3 321.7 L1699.3 328.9 L1687.3 329.9 L1675.3 339.9 L1663.3 347.9 L1651.3 351.2 L1639.3 357.8 L1627.3 361.5 L1615.3 372.6 L1603.3 375.6 L1591.3 377.5 L1579.3 387.6 L1567.3 398.4 L1555.3 402.1 L1543.3 403.2 L1531.3 410.2 L1519.3 419.8 L1507.3 423.9 L1495.3 426.4 L1483.3 445.1 L1471.3 451.7 L1459.3 456.6 L1447.3 474.3 L1437.3 482.9 L1421.3 487.9 L1401.3 484.9 L1383.3 475.9 L1368.3 460.9 L1358.3 438.9 L1355.3 413.9 L1360.3 394.9 L1373.3 380.9Z"/></clipPath>
<path clip-path="url(#clip_aUR)" d="M1394.3 422.9 L1836.3 204.9" stroke="#000" stroke-opacity="0.12" stroke-width="16" stroke-linecap="round"/>
<path d="M1407.1 361.5h3.5v3.5h-3.5zM1472 321h3.5v3.5h-3.5zM1430.5 347.1h3.5v3.5h-3.5zM1768 178.9h3.5v3.5h-3.5zM1415.4 357h3.5v3.5h-3.5zM1670.1 230.3h3.5v3.5h-3.5zM1645.6 234.6h3.5v3.5h-3.5zM1397.8 367.8h3.5v3.5h-3.5zM1421.6 354.3h3.5v3.5h-3.5zM1497.1 314.2h3.5v3.5h-3.5zM1445.7 337.1h3.5v3.5h-3.5zM1596.4 264.5h3.5v3.5h-3.5zM1557.2 278.3h3.5v3.5h-3.5zM1728 196.7h3.5v3.5h-3.5zM1812.5 155.8h3.5v3.5h-3.5z" fill="#ff6000"/>
<path d="M1685.7 350.5h3.5v3.5h-3.5zM1529 418.1h3.5v3.5h-3.5zM1661.8 359.4h3.5v3.5h-3.5zM1418.5 475.9h3.5v3.5h-3.5zM1847.8 262.6h3.5v3.5h-3.5zM1691 340.1h3.5v3.5h-3.5zM1644.2 365.8h3.5v3.5h-3.5zM1803.8 289.7h3.5v3.5h-3.5zM1449.8 469.3h3.5v3.5h-3.5zM1831 270h3.5v3.5h-3.5z" fill="#00d000"/>
<path d="M1742.7 191.6h3.5v3.5h-3.5zM1410 355.2h3.5v3.5h-3.5zM1402.7 363.6h3.5v3.5h-3.5zM1623.5 246.7h3.5v3.5h-3.5zM1428.8 343.9h3.5v3.5h-3.5zM1776.7 172.2h3.5v3.5h-3.5zM1563 279h3.5v3.5h-3.5zM1505.6 309.8h3.5v3.5h-3.5zM1518.8 304h3.5v3.5h-3.5zM1811.8 159.6h3.5v3.5h-3.5zM1556.3 278.4h3.5v3.5h-3.5zM1587.7 263.3h3.5v3.5h-3.5zM1419 354h3.5v3.5h-3.5zM1615.7 248.6h3.5v3.5h-3.5z" fill="#00e000"/>
<path d="M1577.1 397.4h3.5v3.5h-3.5zM1857.4 260.6h3.5v3.5h-3.5zM1447 463.8h3.5v3.5h-3.5zM1482.6 451.5h3.5v3.5h-3.5zM1599.2 386.8h3.5v3.5h-3.5zM1668.9 354.6h3.5v3.5h-3.5zM1880.4 238.4h3.5v3.5h-3.5zM1483.3 446.1h3.5v3.5h-3.5zM1815.4 280.2h3.5v3.5h-3.5zM1687.6 341.8h3.5v3.5h-3.5zM1600.1 382.6h3.5v3.5h-3.5zM1539.1 411.2h3.5v3.5h-3.5zM1488.5 446.8h3.5v3.5h-3.5zM1435.6 472.2h3.5v3.5h-3.5zM1662.6 358.4h3.5v3.5h-3.5zM1672.6 354h3.5v3.5h-3.5zM1864.6 258.4h3.5v3.5h-3.5zM1648.3 367.6h3.5v3.5h-3.5zM1799.7 280.4h3.5v3.5h-3.5zM1427.8 473.9h3.5v3.5h-3.5z" fill="#e0a000"/>
<path d="M1648.2 232.5h3.5v3.5h-3.5zM1660 232.2h3.5v3.5h-3.5zM1857.4 254.8h3.5v3.5h-3.5zM1636.5 369.2h3.5v3.5h-3.5zM1534 292.6h3.5v3.5h-3.5zM1575.9 393.6h3.5v3.5h-3.5zM1642 365.5h3.5v3.5h-3.5zM1643 240.4h3.5v3.5h-3.5zM1400.9 364.4h3.5v3.5h-3.5zM1601.5 384h3.5v3.5h-3.5zM1450.6 334.1h3.5v3.5h-3.5zM1451.7 454.7h3.5v3.5h-3.5zM1850 260.1h3.5v3.5h-3.5zM1558 415.1h3.5v3.5h-3.5zM1787.9 296.5h3.5v3.5h-3.5zM1680.5 224.5h3.5v3.5h-3.5zM1538.6 423.9h3.5v3.5h-3.5zM1641.9 367.1h3.5v3.5h-3.5zM1445.5 463.6h3.5v3.5h-3.5zM1870.3 251.8h3.5v3.5h-3.5zM1744 305.8h3.5v3.5h-3.5zM1776.3 175.6h3.5v3.5h-3.5zM1670.4 343h3.5v3.5h-3.5zM1683.4 336.5h3.5v3.5h-3.5zM1503.1 305.7h3.5v3.5h-3.5zM1631.7 364.2h3.5v3.5h-3.5zM1464.5 459.8h3.5v3.5h-3.5zM1628.6 365.7h3.5v3.5h-3.5zM1470.2 325.5h3.5v3.5h-3.5zM1711.6 336h3.5v3.5h-3.5zM1704.2 337.8h3.5v3.5h-3.5zM1823.8 275.2h3.5v3.5h-3.5zM1456.4 338.6h3.5v3.5h-3.5zM1657.4 231.3h3.5v3.5h-3.5zM1683.6 223.4h3.5v3.5h-3.5zM1574.6 398.3h3.5v3.5h-3.5zM1814.4 284h3.5v3.5h-3.5zM1526.1 416.1h3.5v3.5h-3.5zM1632.1 364.9h3.5v3.5h-3.5zM1636.1 367.2h3.5v3.5h-3.5zM1571.4 276.3h3.5v3.5h-3.5zM1683.3 352.3h3.5v3.5h-3.5zM1654.8 359.2h3.5v3.5h-3.5z" fill="#ff2000"/>
<path d="M1453 331.4h3.5v3.5h-3.5zM1626 249.3h3.5v3.5h-3.5zM1732.3 194.2h3.5v3.5h-3.5zM1620.1 255.2h3.5v3.5h-3.5zM1574.6 276.9h3.5v3.5h-3.5zM1557.8 281.9h3.5v3.5h-3.5zM1791.3 161.7h3.5v3.5h-3.5zM1550.4 286h3.5v3.5h-3.5zM1453.9 334.9h3.5v3.5h-3.5zM1687.4 219.8h3.5v3.5h-3.5zM1512.1 303.6h3.5v3.5h-3.5zM1650.3 237.2h3.5v3.5h-3.5zM1369.1 379.4h3.5v3.5h-3.5zM1392.8 363.2h3.5v3.5h-3.5z" fill="#00e0a0"/>
<path d="M1471.5 454.3h3.5v3.5h-3.5zM1722.2 321.3h3.5v3.5h-3.5zM1854.1 262.2h3.5v3.5h-3.5zM1672.2 343h3.5v3.5h-3.5zM1850.4 255.6h3.5v3.5h-3.5zM1810.3 277.8h3.5v3.5h-3.5zM1751.7 317.2h3.5v3.5h-3.5zM1766.8 304.3h3.5v3.5h-3.5zM1669.8 355.6h3.5v3.5h-3.5zM1609.6 376h3.5v3.5h-3.5zM1501.6 432.5h3.5v3.5h-3.5z" fill="#0080ff"/>
<path d="M1418.8 349.7h3.5v3.5h-3.5zM1555.6 287.9h3.5v3.5h-3.5zM1371.5 378.8h3.5v3.5h-3.5zM1561.2 280.1h3.5v3.5h-3.5zM1463.8 333.6h3.5v3.5h-3.5zM1404.3 362.1h3.5v3.5h-3.5zM1692.4 218.9h3.5v3.5h-3.5zM1746.1 188.7h3.5v3.5h-3.5zM1495 315.9h3.5v3.5h-3.5zM1598.4 265.2h3.5v3.5h-3.5zM1799 158.7h3.5v3.5h-3.5zM1470.5 328.6h3.5v3.5h-3.5zM1533.8 290.4h3.5v3.5h-3.5z" fill="#00c0ff"/>
</g>
<g>
<path d="M318.7 2104.8 L732.5 1896.5 L748.6 1896.5 L748.6 1961.5 L801.8 1979.2 L799 1999.3 L363.1 2220.1 C335 2216 304.9 2183.8 301 2143.3 C300.1 2130.4 316 2108.5 318.7 2104.8 Z" fill="url(#pt_shell)"/>
<path d="M337.7 2110.7 L354.2 2100.6 L367.1 2097.9 L379.9 2090.7 L392.8 2081.7 L405.7 2075.8 L418.5 2069.1 L431.4 2064.3 L444.2 2056 L457.1 2050.8 L469.9 2043.7 L482.8 2041 L495.6 2031.6 L508.5 2025.1 L521.3 2016.6 L534.2 2012.3 L547 2008.5 L559.9 2002.8 L572.7 1991.7 L585.6 1983.9 L598.4 1983.5 L611.3 1975.8 L624.1 1967.5 L637 1959.4 L649.8 1956.3 L662.7 1949.2 L675.5 1937.2 L688.4 1934.2 L701.2 1926.4 L714.1 1913.5 L727 1910.7 L732.5 1904.8 L748.6 1902.9 L748.6 1961.5 L801.8 1979.2 L800.9 1984.6 L787.5 1988.1 L776.5 1990.9 L765.5 1998.1 L754.5 2002 L743.5 2001.3 L732.5 2008.5 L721.4 2017.2 L710.4 2016.9 L699.4 2022.3 L688.4 2029.8 L677.4 2032.6 L666.4 2038.8 L655.3 2047.9 L644.3 2054.5 L633.3 2053.4 L622.3 2064.1 L611.3 2065.3 L600.3 2070.2 L589.3 2078.6 L578.2 2089.9 L567.2 2091.7 L556.2 2096.5 L545.2 2098.4 L534.2 2106 L523.2 2110.5 L512.1 2119.8 L501.1 2127.5 L490.1 2130.1 L479.1 2133.5 L468.1 2138.8 L457.1 2146.4 L446 2153.9 L435 2159.2 L424 2167.8 L413 2175.7 L402 2187.7 L391 2196.8 L381.8 2210.5 L367.1 2215 L348.7 2212.3 L332.2 2204 L318.4 2190.3 L309.3 2170.1 L306.5 2147.1 L311.1 2129.7 L323 2116.8Z" fill="url(#pt_teal)"/>
<clipPath id="clip_bLL"><path d="M337.7 2110.7 L354.2 2100.6 L367.1 2097.9 L379.9 2090.7 L392.8 2081.7 L405.7 2075.8 L418.5 2069.1 L431.4 2064.3 L444.2 2056 L457.1 2050.8 L469.9 2043.7 L482.8 2041 L495.6 2031.6 L508.5 2025.1 L521.3 2016.6 L534.2 2012.3 L547 2008.5 L559.9 2002.8 L572.7 1991.7 L585.6 1983.9 L598.4 1983.5 L611.3 1975.8 L624.1 1967.5 L637 1959.4 L649.8 1956.3 L662.7 1949.2 L675.5 1937.2 L688.4 1934.2 L701.2 1926.4 L714.1 1913.5 L727 1910.7 L732.5 1904.8 L748.6 1902.9 L748.6 1961.5 L801.8 1979.2 L800.9 1984.6 L787.5 1988.1 L776.5 1990.9 L765.5 1998.1 L754.5 2002 L743.5 2001.3 L732.5 2008.5 L721.4 2017.2 L710.4 2016.9 L699.4 2022.3 L688.4 2029.8 L677.4 2032.6 L666.4 2038.8 L655.3 2047.9 L644.3 2054.5 L633.3 2053.4 L622.3 2064.1 L611.3 2065.3 L600.3 2070.2 L589.3 2078.6 L578.2 2089.9 L567.2 2091.7 L556.2 2096.5 L545.2 2098.4 L534.2 2106 L523.2 2110.5 L512.1 2119.8 L501.1 2127.5 L490.1 2130.1 L479.1 2133.5 L468.1 2138.8 L457.1 2146.4 L446 2153.9 L435 2159.2 L424 2167.8 L413 2175.7 L402 2187.7 L391 2196.8 L381.8 2210.5 L367.1 2215 L348.7 2212.3 L332.2 2204 L318.4 2190.3 L309.3 2170.1 L306.5 2147.1 L311.1 2129.7 L323 2116.8Z"/></clipPath>
<path clip-path="url(#clip_bLL)" d="M342.3 2155.4 L748.1 1955.3" stroke="#000" stroke-opacity="0.12" stroke-width="14.7" stroke-linecap="round"/>
<path d="M564.9 1992.7h3.2v3.2h-3.2zM477.9 2142.8h3.2v3.2h-3.2zM753.4 2012.3h3.2v3.2h-3.2zM539.9 2123.8h3.2v3.2h-3.2zM653.1 2064.6h3.2v3.2h-3.2zM369.7 2206.6h3.2v3.2h-3.2zM480.9 2149.4h3.2v3.2h-3.2zM524 2126.5h3.2v3.2h-3.2zM453 2047.4h3.2v3.2h-3.2zM403 2192.4h3.2v3.2h-3.2zM622.6 1962.1h3.2v3.2h-3.2zM477.4 2155h3.2v3.2h-3.2zM663.7 1944.5h3.2v3.2h-3.2zM472 2158.1h3.2v3.2h-3.2zM450.6 2051.3h3.2v3.2h-3.2zM770.2 2004h3.2v3.2h-3.2zM662.7 1943.1h3.2v3.2h-3.2zM660.2 2055.3h3.2v3.2h-3.2zM463.4 2038.4h3.2v3.2h-3.2zM368.7 2210.5h3.2v3.2h-3.2zM327.8 2105.1h3.2v3.2h-3.2zM454.3 2164.4h3.2v3.2h-3.2zM418.1 2063.4h3.2v3.2h-3.2zM601.3 2091h3.2v3.2h-3.2zM658.6 2063.2h3.2v3.2h-3.2zM477.1 2152.6h3.2v3.2h-3.2zM443.9 2167h3.2v3.2h-3.2zM432.1 2165.3h3.2v3.2h-3.2zM760.6 2009.9h3.2v3.2h-3.2zM707.5 2036.2h3.2v3.2h-3.2zM629.8 1956h3.2v3.2h-3.2zM581.6 2099.6h3.2v3.2h-3.2zM610.7 2078.7h3.2v3.2h-3.2zM725.6 1908.2h3.2v3.2h-3.2zM683.5 2044.3h3.2v3.2h-3.2zM470.9 2038.5h3.2v3.2h-3.2zM798 1991.5h3.2v3.2h-3.2zM663.5 2057.2h3.2v3.2h-3.2zM515.1 2134.7h3.2v3.2h-3.2zM627.8 2080h3.2v3.2h-3.2zM399 2074.3h3.2v3.2h-3.2zM632.9 1959.2h3.2v3.2h-3.2zM665.7 2056h3.2v3.2h-3.2zM349.4 2098.2h3.2v3.2h-3.2zM429.5 2055.2h3.2v3.2h-3.2zM574.7 2106.7h3.2v3.2h-3.2zM539.4 2120.9h3.2v3.2h-3.2zM363.4 2089.8h3.2v3.2h-3.2zM407 2066.1h3.2v3.2h-3.2zM601.8 2082.2h3.2v3.2h-3.2z" fill="#ff2000"/>
<path d="M393.2 2073.5h3.2v3.2h-3.2zM451.5 2048.2h3.2v3.2h-3.2zM585.7 1977.2h3.2v3.2h-3.2zM673.9 1936.9h3.2v3.2h-3.2zM461.1 2043.6h3.2v3.2h-3.2zM464.3 2044.3h3.2v3.2h-3.2zM326 2110.1h3.2v3.2h-3.2zM540.3 2002.4h3.2v3.2h-3.2zM418.7 2065.4h3.2v3.2h-3.2zM464.8 2038.2h3.2v3.2h-3.2zM577.1 1982.3h3.2v3.2h-3.2zM499.7 2027.4h3.2v3.2h-3.2z" fill="#00e000"/>
<path d="M506 2016.3h3.2v3.2h-3.2zM417.9 2065.3h3.2v3.2h-3.2zM704.8 1915.5h3.2v3.2h-3.2zM415.3 2063.8h3.2v3.2h-3.2zM610.1 1967.9h3.2v3.2h-3.2zM540.9 2000.3h3.2v3.2h-3.2zM390.2 2082.1h3.2v3.2h-3.2zM392 2074h3.2v3.2h-3.2zM474.6 2035.9h3.2v3.2h-3.2zM546.4 1996.3h3.2v3.2h-3.2zM630.3 1959.4h3.2v3.2h-3.2zM628.4 1960.8h3.2v3.2h-3.2zM527.1 2010h3.2v3.2h-3.2zM586.8 1977.9h3.2v3.2h-3.2zM649.3 1947.5h3.2v3.2h-3.2zM320.2 2115.5h3.2v3.2h-3.2zM467.3 2039.5h3.2v3.2h-3.2z" fill="#00c0ff"/>
<path d="M555.2 2106.3h3.2v3.2h-3.2zM693.1 2037.8h3.2v3.2h-3.2zM410.4 2182.4h3.2v3.2h-3.2zM389.2 2196.5h3.2v3.2h-3.2zM483 2145.6h3.2v3.2h-3.2zM723 2031.2h3.2v3.2h-3.2zM651 2065.9h3.2v3.2h-3.2zM480.9 2142.9h3.2v3.2h-3.2zM594.4 2088.5h3.2v3.2h-3.2zM523.8 2128.7h3.2v3.2h-3.2zM612.7 2082h3.2v3.2h-3.2zM661.1 2054.4h3.2v3.2h-3.2z" fill="#e0a000"/>
<path d="M402 2073h3.2v3.2h-3.2zM700.6 1925h3.2v3.2h-3.2zM445.1 2053.3h3.2v3.2h-3.2zM591.1 1979.6h3.2v3.2h-3.2zM674.1 1937.8h3.2v3.2h-3.2zM437.2 2050.9h3.2v3.2h-3.2zM552.5 1998.5h3.2v3.2h-3.2zM340.5 2100.7h3.2v3.2h-3.2zM425.9 2058.5h3.2v3.2h-3.2zM593.9 1974.9h3.2v3.2h-3.2z" fill="#ff6000"/>
<path d="M451.2 2046.5h3.2v3.2h-3.2zM578.8 1983.4h3.2v3.2h-3.2zM705.2 1923.2h3.2v3.2h-3.2zM400.6 2074.2h3.2v3.2h-3.2zM474.8 2033.6h3.2v3.2h-3.2zM702.1 1920.2h3.2v3.2h-3.2zM478.7 2037.1h3.2v3.2h-3.2zM634.5 1951.5h3.2v3.2h-3.2zM710.5 1919.8h3.2v3.2h-3.2zM582.7 1984h3.2v3.2h-3.2zM545.9 1995.5h3.2v3.2h-3.2zM336.3 2109h3.2v3.2h-3.2zM395.7 2076.7h3.2v3.2h-3.2z" fill="#00e0a0"/>
<path d="M558.7 2111.8h3.2v3.2h-3.2zM493.2 2137h3.2v3.2h-3.2zM581.7 2089.7h3.2v3.2h-3.2zM615.9 2074.3h3.2v3.2h-3.2zM503.2 2136h3.2v3.2h-3.2zM762.3 2005.3h3.2v3.2h-3.2zM661.1 2057.5h3.2v3.2h-3.2zM536.1 2125.5h3.2v3.2h-3.2zM365 2212.8h3.2v3.2h-3.2zM466.2 2149.5h3.2v3.2h-3.2zM410.3 2183.7h3.2v3.2h-3.2zM686.5 2043.6h3.2v3.2h-3.2zM650.6 2056.4h3.2v3.2h-3.2zM574.5 2094.9h3.2v3.2h-3.2z" fill="#00d000"/>
<path d="M578.4 2098.2h3.2v3.2h-3.2zM425.6 2174.5h3.2v3.2h-3.2zM549 2106.6h3.2v3.2h-3.2zM530.3 2118.2h3.2v3.2h-3.2zM720.7 2028.1h3.2v3.2h-3.2zM708.5 2035.3h3.2v3.2h-3.2zM459 2161h3.2v3.2h-3.2zM449.4 2164h3.2v3.2h-3.2zM428.9 2176.8h3.2v3.2h-3.2zM602 2087.3h3.2v3.2h-3.2zM739.1 2021h3.2v3.2h-3.2zM578.6 2101h3.2v3.2h-3.2z" fill="#0080ff"/>
</g>
<g>
<path d="M805.7 1588.3 L1219.5 1380 L1235.6 1380 L1235.6 1445 L1288.8 1462.7 L1286 1482.8 L850.1 1703.6 C822 1699.5 791.9 1667.3 788 1626.8 C787.1 1613.9 803 1592 805.7 1588.3 Z" fill="url(#pt_shell)"/>
<path d="M824.7 1594.4 L841.2 1584.6 L854.1 1578 L866.9 1577.6 L879.8 1565.7 L892.7 1564.2 L905.5 1554.2 L918.4 1547.7 L931.2 1540.2 L944.1 1532.9 L956.9 1527.2 L969.8 1519.7 L982.6 1516.3 L995.5 1512.2 L1008.3 1505 L1021.2 1496.3 L1034 1489.9 L1046.9 1482.8 L1059.7 1478.5 L1072.6 1473 L1085.4 1466.1 L1098.3 1458.9 L1111.1 1451 L1124 1445.1 L1136.8 1436.7 L1149.7 1433.7 L1162.5 1421.3 L1175.4 1412.1 L1188.2 1404.4 L1201.1 1397.1 L1214 1391 L1219.5 1388.3 L1235.6 1386.4 L1235.6 1445 L1288.8 1462.7 L1287.9 1468.1 L1274.5 1476.7 L1263.5 1476.6 L1252.5 1478.1 L1241.5 1486.8 L1230.5 1488.4 L1219.5 1494.2 L1208.4 1496.8 L1197.4 1499.2 L1186.4 1508.3 L1175.4 1513.4 L1164.4 1517.5 L1153.4 1521 L1142.3 1526 L1131.3 1536.4 L1120.3 1537.3 L1109.3 1545.4 L1098.3 1548.1 L1087.3 1557.5 L1076.3 1566.3 L1065.2 1565.3 L1054.2 1574.3 L1043.2 1582.6 L1032.2 1588.7 L1021.2 1588.8 L1010.2 1598.8 L999.1 1600.9 L988.1 1610 L977.1 1614.3 L966.1 1617.3 L955.1 1623.3 L944.1 1630 L933 1636.3 L922 1646.3 L911 1656.6 L900 1662.1 L889 1670.5 L878 1680.7 L868.8 1694 L854.1 1698.5 L835.7 1695.8 L819.2 1687.5 L805.4 1673.8 L796.3 1653.6 L793.5 1630.6 L798.1 1613.2 L810 1600.3Z" fill="url(#pt_green2)"/>
<clipPath id="clip_bUM"><path d="M824.7 1594.4 L841.2 1584.6 L854.1 1578 L866.9 1577.6 L879.8 1565.7 L892.7 1564.2 L905.5 1554.2 L918.4 1547.7 L931.2 1540.2 L944.1 1532.9 L956.9 1527.2 L969.8 1519.7 L982.6 1516.3 L995.5 1512.2 L1008.3 1505 L1021.2 1496.3 L1034 1489.9 L1046.9 1482.8 L1059.7 1478.5 L1072.6 1473 L1085.4 1466.1 L1098.3 1458.9 L1111.1 1451 L1124 1445.1 L1136.8 1436.7 L1149.7 1433.7 L1162.5 1421.3 L1175.4 1412.1 L1188.2 1404.4 L1201.1 1397.1 L1214 1391 L1219.5 1388.3 L1235.6 1386.4 L1235.6 1445 L1288.8 1462.7 L1287.9 1468.1 L1274.5 1476.7 L1263.5 1476.6 L1252.5 1478.1 L1241.5 1486.8 L1230.5 1488.4 L1219.5 1494.2 L1208.4 1496.8 L1197.4 1499.2 L1186.4 1508.3 L1175.4 1513.4 L1164.4 1517.5 L1153.4 1521 L1142.3 1526 L1131.3 1536.4 L1120.3 1537.3 L1109.3 1545.4 L1098.3 1548.1 L1087.3 1557.5 L1076.3 1566.3 L1065.2 1565.3 L1054.2 1574.3 L1043.2 1582.6 L1032.2 1588.7 L1021.2 1588.8 L1010.2 1598.8 L999.1 1600.9 L988.1 1610 L977.1 1614.3 L966.1 1617.3 L955.1 1623.3 L944.1 1630 L933 1636.3 L922 1646.3 L911 1656.6 L900 1662.1 L889 1670.5 L878 1680.7 L868.8 1694 L854.1 1698.5 L835.7 1695.8 L819.2 1687.5 L805.4 1673.8 L796.3 1653.6 L793.5 1630.6 L798.1 1613.2 L810 1600.3Z"/></clipPath>
<path clip-path="url(#clip_bUM)" d="M829.3 1638.9 L1235.1 1438.8" stroke="#000" stroke-opacity="0.12" stroke-width="14.7" stroke-linecap="round"/>
<path d="M833.5 1586.4h3.2v3.2h-3.2zM1048.4 1477.3h3.2v3.2h-3.2zM1095.6 1452.5h3.2v3.2h-3.2zM1202.3 1400.6h3.2v3.2h-3.2zM1183.1 1408.8h3.2v3.2h-3.2zM1172.4 1415.9h3.2v3.2h-3.2zM1068.8 1466.5h3.2v3.2h-3.2zM1201 1394.5h3.2v3.2h-3.2zM1216.9 1390.2h3.2v3.2h-3.2zM969.9 1514.6h3.2v3.2h-3.2zM820.6 1592.7h3.2v3.2h-3.2zM810 1598.1h3.2v3.2h-3.2zM994 1500.1h3.2v3.2h-3.2zM999.3 1501.6h3.2v3.2h-3.2z" fill="#00e0a0"/>
<path d="M1065.3 1575.8h3.2v3.2h-3.2zM1014.2 1612.7h3.2v3.2h-3.2zM941.3 1640h3.2v3.2h-3.2zM1053.2 1592.4h3.2v3.2h-3.2zM943 1643.4h3.2v3.2h-3.2zM971.7 1630.2h3.2v3.2h-3.2zM858.3 1683.8h3.2v3.2h-3.2zM984.4 1625.6h3.2v3.2h-3.2zM883.2 1679.9h3.2v3.2h-3.2zM1171.9 1528.9h3.2v3.2h-3.2zM1173.4 1524.6h3.2v3.2h-3.2zM1277.4 1473.6h3.2v3.2h-3.2zM1243.6 1493h3.2v3.2h-3.2zM916 1663.3h3.2v3.2h-3.2zM1129.9 1548.2h3.2v3.2h-3.2z" fill="#0080ff"/>
<path d="M1098.6 1448.4h3.2v3.2h-3.2zM1085.3 1459.4h3.2v3.2h-3.2zM899.4 1554.5h3.2v3.2h-3.2zM999.3 1497.6h3.2v3.2h-3.2zM999.8 1502.5h3.2v3.2h-3.2zM882.6 1559.6h3.2v3.2h-3.2zM930.6 1531.1h3.2v3.2h-3.2zM1150.8 1424.3h3.2v3.2h-3.2zM1085.8 1458h3.2v3.2h-3.2zM1119.5 1443h3.2v3.2h-3.2zM979.6 1509h3.2v3.2h-3.2zM950.5 1521.5h3.2v3.2h-3.2zM1056.6 1468.7h3.2v3.2h-3.2zM1000 1502.7h3.2v3.2h-3.2zM1162.2 1413.8h3.2v3.2h-3.2zM836.5 1579.1h3.2v3.2h-3.2zM847.8 1575h3.2v3.2h-3.2zM1069.3 1465.6h3.2v3.2h-3.2zM1195.9 1404.8h3.2v3.2h-3.2zM888.3 1551.4h3.2v3.2h-3.2zM1190.2 1405.9h3.2v3.2h-3.2zM982.1 1512.7h3.2v3.2h-3.2zM854.8 1569.5h3.2v3.2h-3.2zM1208.2 1396.2h3.2v3.2h-3.2zM1012.2 1495.3h3.2v3.2h-3.2z" fill="#ff6000"/>
<path d="M1168.1 1529.1h3.2v3.2h-3.2zM1204.1 1394h3.2v3.2h-3.2zM962.8 1639.1h3.2v3.2h-3.2zM1198.8 1514.4h3.2v3.2h-3.2zM865.4 1683h3.2v3.2h-3.2zM1249.2 1495.9h3.2v3.2h-3.2zM1125.9 1554.1h3.2v3.2h-3.2zM1196.7 1513.4h3.2v3.2h-3.2zM1220.5 1509.4h3.2v3.2h-3.2zM1153.4 1533.1h3.2v3.2h-3.2zM876 1565.8h3.2v3.2h-3.2zM979.5 1629.5h3.2v3.2h-3.2zM1025.5 1485.5h3.2v3.2h-3.2zM1153.4 1538.3h3.2v3.2h-3.2zM1285.2 1476.8h3.2v3.2h-3.2zM996.3 1617.2h3.2v3.2h-3.2zM1113.3 1443.2h3.2v3.2h-3.2zM1001.7 1616.2h3.2v3.2h-3.2zM1146.8 1425.7h3.2v3.2h-3.2zM969.3 1513.9h3.2v3.2h-3.2zM1142.1 1536h3.2v3.2h-3.2zM930.4 1643.9h3.2v3.2h-3.2zM1208.4 1514.3h3.2v3.2h-3.2zM1041.8 1476.5h3.2v3.2h-3.2zM1133 1541.4h3.2v3.2h-3.2zM1072.2 1462.3h3.2v3.2h-3.2zM1129.5 1553h3.2v3.2h-3.2zM869.9 1674.7h3.2v3.2h-3.2zM867.9 1675.9h3.2v3.2h-3.2zM921.8 1542.7h3.2v3.2h-3.2zM1103.9 1561h3.2v3.2h-3.2zM932.5 1656.1h3.2v3.2h-3.2zM954 1632.5h3.2v3.2h-3.2zM1121.8 1547.8h3.2v3.2h-3.2zM959.8 1524.1h3.2v3.2h-3.2zM1180.2 1406.4h3.2v3.2h-3.2zM1260.8 1479.1h3.2v3.2h-3.2zM1053.4 1581.9h3.2v3.2h-3.2zM816.8 1591.4h3.2v3.2h-3.2zM926.8 1649h3.2v3.2h-3.2zM1103.3 1447.6h3.2v3.2h-3.2zM1164.1 1535.8h3.2v3.2h-3.2zM1167.8 1535.6h3.2v3.2h-3.2zM1057.1 1590h3.2v3.2h-3.2zM1002.2 1620.7h3.2v3.2h-3.2z" fill="#ff2000"/>
<path d="M1174.7 1522.3h3.2v3.2h-3.2zM882.8 1678.8h3.2v3.2h-3.2zM900 1659.2h3.2v3.2h-3.2zM1268.1 1476.5h3.2v3.2h-3.2zM1007.7 1611.1h3.2v3.2h-3.2zM1031.3 1593.7h3.2v3.2h-3.2zM977.7 1632h3.2v3.2h-3.2zM1167.7 1531h3.2v3.2h-3.2zM1149.9 1543.5h3.2v3.2h-3.2zM905 1660.9h3.2v3.2h-3.2zM1163.7 1526.1h3.2v3.2h-3.2zM1122.6 1546h3.2v3.2h-3.2zM890.8 1668.4h3.2v3.2h-3.2zM1282 1471.1h3.2v3.2h-3.2z" fill="#00d000"/>
<path d="M1038.7 1477.3h3.2v3.2h-3.2zM861.4 1568.6h3.2v3.2h-3.2zM1103 1445.5h3.2v3.2h-3.2zM958.5 1520.6h3.2v3.2h-3.2zM1156.9 1423.7h3.2v3.2h-3.2zM842.8 1579h3.2v3.2h-3.2zM1166.3 1411.9h3.2v3.2h-3.2zM1068.8 1469.6h3.2v3.2h-3.2zM893.1 1555.4h3.2v3.2h-3.2zM1029.5 1484.7h3.2v3.2h-3.2z" fill="#00e000"/>
<path d="M1020.8 1486.1h3.2v3.2h-3.2zM1080.7 1462.9h3.2v3.2h-3.2zM1131.8 1433.4h3.2v3.2h-3.2zM967.8 1513h3.2v3.2h-3.2zM871.3 1564.6h3.2v3.2h-3.2zM844.4 1577.6h3.2v3.2h-3.2zM1191.8 1401.5h3.2v3.2h-3.2zM812 1595.9h3.2v3.2h-3.2z" fill="#00c0ff"/>
<path d="M1102.5 1561.5h3.2v3.2h-3.2zM1129.3 1550.1h3.2v3.2h-3.2zM1122.6 1559.5h3.2v3.2h-3.2zM1100.4 1559.9h3.2v3.2h-3.2zM1097.1 1561.4h3.2v3.2h-3.2zM871.3 1682.5h3.2v3.2h-3.2zM1198.3 1518.6h3.2v3.2h-3.2zM1058.4 1581.1h3.2v3.2h-3.2zM1185.8 1514.5h3.2v3.2h-3.2z" fill="#e0a000"/>
</g>
<g>
<path d="M1447.7 1588.3 L1861.5 1380 L1877.6 1380 L1877.6 1445 L1930.8 1462.7 L1928 1482.8 L1492.1 1703.6 C1464 1699.5 1433.9 1667.3 1430 1626.8 C1429.1 1613.9 1445 1592 1447.7 1588.3 Z" fill="url(#pt_shell)"/>
<path d="M1466.7 1594.4 L1483.2 1586 L1496.1 1582.7 L1508.9 1571.6 L1521.8 1569.9 L1534.7 1559.9 L1547.5 1555.5 L1560.4 1550.7 L1573.2 1540.5 L1586.1 1536.8 L1598.9 1532.2 L1611.8 1523.5 L1624.6 1515.2 L1637.5 1507.7 L1650.3 1506.5 L1663.2 1495.5 L1676 1492.7 L1688.9 1484.2 L1701.7 1475.2 L1714.6 1470.3 L1727.4 1463.7 L1740.3 1458.7 L1753.1 1449.8 L1766 1445.3 L1778.8 1438.9 L1791.7 1429.2 L1804.5 1425.1 L1817.4 1415 L1830.2 1409.4 L1843.1 1402 L1856 1393 L1861.5 1388.3 L1877.6 1386.4 L1877.6 1445 L1930.8 1462.7 L1929.9 1468.1 L1916.5 1475.3 L1905.5 1479.2 L1894.5 1477.8 L1883.5 1486.5 L1872.5 1491.9 L1861.5 1493 L1850.4 1498.5 L1839.4 1505.4 L1828.4 1508.8 L1817.4 1517.7 L1806.4 1522.4 L1795.4 1520.4 L1784.3 1532.4 L1773.3 1536 L1762.3 1542.5 L1751.3 1545.5 L1740.3 1556.3 L1729.3 1555.5 L1718.3 1563.8 L1707.2 1570.3 L1696.2 1573.8 L1685.2 1575.7 L1674.2 1581.2 L1663.2 1591.3 L1652.2 1599.1 L1641.1 1598.7 L1630.1 1609.6 L1619.1 1609.9 L1608.1 1618.9 L1597.1 1622.9 L1586.1 1626.8 L1575 1639.5 L1564 1642.7 L1553 1648.2 L1542 1662.2 L1531 1669.8 L1520 1685 L1510.8 1694 L1496.1 1698.5 L1477.7 1695.8 L1461.2 1687.5 L1447.4 1673.8 L1438.3 1653.6 L1435.5 1630.6 L1440.1 1613.2 L1452 1600.3Z" fill="url(#pt_orange2)"/>
<clipPath id="clip_bUR"><path d="M1466.7 1594.4 L1483.2 1586 L1496.1 1582.7 L1508.9 1571.6 L1521.8 1569.9 L1534.7 1559.9 L1547.5 1555.5 L1560.4 1550.7 L1573.2 1540.5 L1586.1 1536.8 L1598.9 1532.2 L1611.8 1523.5 L1624.6 1515.2 L1637.5 1507.7 L1650.3 1506.5 L1663.2 1495.5 L1676 1492.7 L1688.9 1484.2 L1701.7 1475.2 L1714.6 1470.3 L1727.4 1463.7 L1740.3 1458.7 L1753.1 1449.8 L1766 1445.3 L1778.8 1438.9 L1791.7 1429.2 L1804.5 1425.1 L1817.4 1415 L1830.2 1409.4 L1843.1 1402 L1856 1393 L1861.5 1388.3 L1877.6 1386.4 L1877.6 1445 L1930.8 1462.7 L1929.9 1468.1 L1916.5 1475.3 L1905.5 1479.2 L1894.5 1477.8 L1883.5 1486.5 L1872.5 1491.9 L1861.5 1493 L1850.4 1498.5 L1839.4 1505.4 L1828.4 1508.8 L1817.4 1517.7 L1806.4 1522.4 L1795.4 1520.4 L1784.3 1532.4 L1773.3 1536 L1762.3 1542.5 L1751.3 1545.5 L1740.3 1556.3 L1729.3 1555.5 L1718.3 1563.8 L1707.2 1570.3 L1696.2 1573.8 L1685.2 1575.7 L1674.2 1581.2 L1663.2 1591.3 L1652.2 1599.1 L1641.1 1598.7 L1630.1 1609.6 L1619.1 1609.9 L1608.1 1618.9 L1597.1 1622.9 L1586.1 1626.8 L1575 1639.5 L1564 1642.7 L1553 1648.2 L1542 1662.2 L1531 1669.8 L1520 1685 L1510.8 1694 L1496.1 1698.5 L1477.7 1695.8 L1461.2 1687.5 L1447.4 1673.8 L1438.3 1653.6 L1435.5 1630.6 L1440.1 1613.2 L1452 1600.3Z"/></clipPath>
<path clip-path="url(#clip_bUR)" d="M1471.3 1638.9 L1877.1 1438.8" stroke="#000" stroke-opacity="0.12" stroke-width="14.7" stroke-linecap="round"/>
<path d="M1774.5 1432.5h3.2v3.2h-3.2zM1679.7 1479.1h3.2v3.2h-3.2zM1686.6 1474.8h3.2v3.2h-3.2zM1848.8 1392.6h3.2v3.2h-3.2zM1786.8 1427.3h3.2v3.2h-3.2zM1800.9 1416.1h3.2v3.2h-3.2zM1622.6 1513.6h3.2v3.2h-3.2zM1831.4 1400.9h3.2v3.2h-3.2zM1744.7 1451.7h3.2v3.2h-3.2zM1631.5 1501.5h3.2v3.2h-3.2zM1784 1424.7h3.2v3.2h-3.2zM1758.5 1442.4h3.2v3.2h-3.2zM1463 1593.3h3.2v3.2h-3.2zM1685.8 1473.5h3.2v3.2h-3.2zM1472.8 1588.7h3.2v3.2h-3.2z" fill="#00c0ff"/>
<path d="M1857.9 1510.9h3.2v3.2h-3.2zM1912.2 1485.2h3.2v3.2h-3.2zM1605.7 1637.1h3.2v3.2h-3.2zM1566.7 1657.2h3.2v3.2h-3.2zM1610.4 1627.1h3.2v3.2h-3.2zM1804.1 1533.9h3.2v3.2h-3.2zM1747.9 1556.9h3.2v3.2h-3.2zM1726.1 1577.7h3.2v3.2h-3.2zM1879.7 1499.5h3.2v3.2h-3.2zM1738.5 1570.7h3.2v3.2h-3.2zM1687.7 1597.5h3.2v3.2h-3.2zM1799 1539.1h3.2v3.2h-3.2zM1641.6 1613.9h3.2v3.2h-3.2zM1615 1634.2h3.2v3.2h-3.2zM1809.2 1529.2h3.2v3.2h-3.2z" fill="#00d000"/>
<path d="M1632.4 1506.2h3.2v3.2h-3.2zM1627.2 1503.4h3.2v3.2h-3.2zM1633.7 1499.7h3.2v3.2h-3.2zM1554.9 1545.7h3.2v3.2h-3.2zM1660.3 1494.3h3.2v3.2h-3.2zM1646.4 1501.1h3.2v3.2h-3.2zM1566.9 1535.7h3.2v3.2h-3.2zM1560.2 1541.8h3.2v3.2h-3.2zM1709.3 1462.7h3.2v3.2h-3.2zM1753.7 1447.4h3.2v3.2h-3.2zM1852.9 1391.7h3.2v3.2h-3.2zM1709.1 1465.4h3.2v3.2h-3.2zM1475.8 1579.3h3.2v3.2h-3.2zM1774.8 1434.8h3.2v3.2h-3.2zM1849.6 1392.4h3.2v3.2h-3.2z" fill="#00e000"/>
<path d="M1841.8 1516.4h3.2v3.2h-3.2zM1632.1 1626.2h3.2v3.2h-3.2zM1781.8 1541h3.2v3.2h-3.2zM1810.8 1526.6h3.2v3.2h-3.2zM1561.6 1660.9h3.2v3.2h-3.2zM1899.8 1483.4h3.2v3.2h-3.2zM1641.4 1612.9h3.2v3.2h-3.2zM1671.2 1597.3h3.2v3.2h-3.2zM1801.4 1529.4h3.2v3.2h-3.2zM1727.9 1576.5h3.2v3.2h-3.2zM1534.6 1664.2h3.2v3.2h-3.2zM1750.5 1563.7h3.2v3.2h-3.2zM1626.8 1616.5h3.2v3.2h-3.2zM1765.7 1554h3.2v3.2h-3.2zM1586.3 1648h3.2v3.2h-3.2zM1509 1681.4h3.2v3.2h-3.2zM1663.3 1603h3.2v3.2h-3.2z" fill="#e0a000"/>
<path d="M1768.2 1438h3.2v3.2h-3.2zM1804.5 1414.6h3.2v3.2h-3.2zM1546.1 1668.8h3.2v3.2h-3.2zM1648.6 1499.4h3.2v3.2h-3.2zM1592.7 1520.9h3.2v3.2h-3.2zM1772.1 1553.5h3.2v3.2h-3.2zM1880.8 1498.8h3.2v3.2h-3.2zM1689.5 1595.6h3.2v3.2h-3.2zM1553.8 1662.8h3.2v3.2h-3.2zM1606.5 1515.5h3.2v3.2h-3.2zM1622.7 1621.8h3.2v3.2h-3.2zM1855.2 1390.6h3.2v3.2h-3.2zM1767.2 1550.4h3.2v3.2h-3.2zM1784 1548.3h3.2v3.2h-3.2zM1654.6 1611.8h3.2v3.2h-3.2zM1717.9 1575.1h3.2v3.2h-3.2zM1530.2 1671.1h3.2v3.2h-3.2zM1919.5 1479.2h3.2v3.2h-3.2zM1623.2 1629.5h3.2v3.2h-3.2zM1920.7 1472.9h3.2v3.2h-3.2zM1784.5 1427.7h3.2v3.2h-3.2zM1586.7 1640.4h3.2v3.2h-3.2zM1460.5 1589.8h3.2v3.2h-3.2zM1771 1543.3h3.2v3.2h-3.2zM1880.2 1498.1h3.2v3.2h-3.2zM1652.7 1615h3.2v3.2h-3.2zM1524.7 1666.9h3.2v3.2h-3.2zM1603.5 1633.8h3.2v3.2h-3.2zM1699.8 1468.6h3.2v3.2h-3.2zM1691.7 1588h3.2v3.2h-3.2zM1542.3 1659.2h3.2v3.2h-3.2zM1742.8 1562.9h3.2v3.2h-3.2zM1768.5 1545.1h3.2v3.2h-3.2zM1583.5 1533.2h3.2v3.2h-3.2zM1520 1677.7h3.2v3.2h-3.2zM1785.5 1427.6h3.2v3.2h-3.2zM1832.7 1401.5h3.2v3.2h-3.2zM1547.8 1547.3h3.2v3.2h-3.2zM1898.2 1480.2h3.2v3.2h-3.2z" fill="#ff2000"/>
<path d="M1647.4 1500h3.2v3.2h-3.2zM1628.7 1506.1h3.2v3.2h-3.2zM1678.6 1482.3h3.2v3.2h-3.2zM1849.4 1392.4h3.2v3.2h-3.2zM1733.5 1458.1h3.2v3.2h-3.2zM1626.5 1511.1h3.2v3.2h-3.2zM1792.7 1422.9h3.2v3.2h-3.2zM1511.7 1564.6h3.2v3.2h-3.2zM1488.6 1573.7h3.2v3.2h-3.2zM1618.7 1510.4h3.2v3.2h-3.2zM1727.9 1452.5h3.2v3.2h-3.2zM1635.1 1499.7h3.2v3.2h-3.2zM1759.9 1437.7h3.2v3.2h-3.2zM1640.2 1498.7h3.2v3.2h-3.2zM1594.1 1520.7h3.2v3.2h-3.2zM1574.5 1534h3.2v3.2h-3.2zM1551.5 1544h3.2v3.2h-3.2z" fill="#ff6000"/>
<path d="M1687 1588.2h3.2v3.2h-3.2zM1611.1 1624.1h3.2v3.2h-3.2zM1786 1549.2h3.2v3.2h-3.2zM1805.5 1526.3h3.2v3.2h-3.2zM1591.7 1645.3h3.2v3.2h-3.2zM1712.3 1577.3h3.2v3.2h-3.2zM1899 1487.4h3.2v3.2h-3.2zM1640.6 1608.2h3.2v3.2h-3.2zM1715.4 1584.5h3.2v3.2h-3.2zM1721.8 1570.5h3.2v3.2h-3.2zM1915.4 1469.5h3.2v3.2h-3.2zM1505.2 1678.8h3.2v3.2h-3.2z" fill="#0080ff"/>
<path d="M1786.2 1423.1h3.2v3.2h-3.2zM1731.5 1458.5h3.2v3.2h-3.2zM1486.4 1577.2h3.2v3.2h-3.2zM1639.4 1499.1h3.2v3.2h-3.2zM1468.8 1589.8h3.2v3.2h-3.2zM1531.8 1556.8h3.2v3.2h-3.2zM1860.1 1393h3.2v3.2h-3.2zM1574.2 1536.1h3.2v3.2h-3.2zM1740.4 1453.6h3.2v3.2h-3.2zM1497.3 1572.2h3.2v3.2h-3.2z" fill="#00e0a0"/>
</g>
<clipPath id="pc_a"><rect x="261" y="63" width="1689" height="1015"/></clipPath>
<clipPath id="pc_b"><rect x="260.5" y="1340" width="1688" height="1015"/></clipPath>
<g clip-path="url(#pc_a)">
<path d="M317.4 1054 L397.9 1049 L477.8 1044 L556.9 1037.5 L638.7 1025.3 L717.8 1005.3 L737.7 1002 L757.7 991.6 L778.1 977.1 L797.7 962 L817.2 941.4 L838 918 L858.7 883.2 L877.6 849.3 L898.7 809.5 L918.6 764.1 L938 715.3 L959.3 662 L978.6 613.6 L997.9 576.6 L1019.2 548.8 L1039 527.7 L1058.5 541 L1080 548.8 L1099.1 594 L1118.3 640.7 L1138.3 695.6 L1159.1 753 L1178.1 811.6 L1200.1 858.1 L1219.9 904.5 L1239.7 932 L1260.3 966.4 L1280.1 994.8 L1299 1007.7 L1321.4 1021.5 L1340.3 1030 L1360 1036.5 L1381.1 1044.3 L1459.9 1053.2 L1539.2 1062.1 L1618.7 1067 L1700 1069 L1780 1070 L1860 1071 L1939 1072" fill="none" stroke="#515151" stroke-width="5.8" stroke-linejoin="round"/>
<path d="M305.9 1042.5h23v23h-23zM386.4 1037.5h23v23h-23zM466.3 1032.5h23v23h-23zM545.4 1026h23v23h-23zM627.2 1013.8h23v23h-23zM706.3 993.8h23v23h-23zM726.2 990.5h23v23h-23zM746.2 980.1h23v23h-23zM766.6 965.6h23v23h-23zM786.2 950.5h23v23h-23zM805.7 929.9h23v23h-23zM826.5 906.5h23v23h-23zM847.2 871.7h23v23h-23zM866.1 837.8h23v23h-23zM887.2 798h23v23h-23zM907.1 752.6h23v23h-23zM926.5 703.8h23v23h-23zM947.8 650.5h23v23h-23zM967.1 602.1h23v23h-23zM986.4 565.1h23v23h-23zM1007.7 537.3h23v23h-23zM1027.5 516.2h23v23h-23zM1047 529.5h23v23h-23zM1068.5 537.3h23v23h-23zM1087.6 582.5h23v23h-23zM1106.8 629.2h23v23h-23zM1126.8 684.1h23v23h-23zM1147.6 741.5h23v23h-23zM1166.6 800.1h23v23h-23zM1188.6 846.6h23v23h-23zM1208.4 893h23v23h-23zM1228.2 920.5h23v23h-23zM1248.8 954.9h23v23h-23zM1268.6 983.3h23v23h-23zM1287.5 996.2h23v23h-23zM1309.9 1010h23v23h-23zM1328.8 1018.5h23v23h-23zM1348.5 1025h23v23h-23zM1369.6 1032.8h23v23h-23zM1448.4 1041.7h23v23h-23zM1527.7 1050.6h23v23h-23zM1607.2 1055.5h23v23h-23zM1688.5 1057.5h23v23h-23zM1768.5 1058.5h23v23h-23zM1848.5 1059.5h23v23h-23zM1927.5 1060.5h23v23h-23z" fill="#515151"/>
<path d="M317.4 1056 L397.3 1054.5 L477.3 1054.5 L556.9 1049 L636.5 1048.5 L716.6 1041.3 L797 1033 L877.6 1022 L957.5 1008.5 L977.5 995.7 L997.4 982 L1018 959.2 L1037.8 938.4 L1057.8 911.7 L1077.4 879.6 L1096.2 837 L1117.5 792.2 L1138.3 748 L1158.2 684 L1178.2 642.3 L1198.2 584.9 L1218.2 564.1 L1237.3 540 L1259 537.5 L1278.9 553.3 L1298.1 586.6 L1318.1 634.8 L1338 694 L1358.8 752.2 L1378.6 810.9 L1399.1 864.7 L1418.7 913.6 L1439.3 950.8 L1458.8 976.6 L1478.8 992.2 L1498.7 1007.7 L1518.7 1024.4 L1538.7 1034.3 L1618.7 1048.5 L1700.4 1056.2 L1780.3 1062.5 L1860 1069 L1939 1074" fill="none" stroke="#ff4040" stroke-width="5.8" stroke-linejoin="round"/>
<path d="M305.4 1056a12 12 0 1 0 24 0a12 12 0 1 0 -24 0zM385.3 1054.5a12 12 0 1 0 24 0a12 12 0 1 0 -24 0zM465.3 1054.5a12 12 0 1 0 24 0a12 12 0 1 0 -24 0zM544.9 1049a12 12 0 1 0 24 0a12 12 0 1 0 -24 0zM624.5 1048.5a12 12 0 1 0 24 0a12 12 0 1 0 -24 0zM704.6 1041.3a12 12 0 1 0 24 0a12 12 0 1 0 -24 0zM785 1033a12 12 0 1 0 24 0a12 12 0 1 0 -24 0zM865.6 1022a12 12 0 1 0 24 0a12 12 0 1 0 -24 0zM945.5 1008.5a12 12 0 1 0 24 0a12 12 0 1 0 -24 0zM965.5 995.7a12 12 0 1 0 24 0a12 12 0 1 0 -24 0zM985.4 982a12 12 0 1 0 24 0a12 12 0 1 0 -24 0zM1006 959.2a12 12 0 1 0 24 0a12 12 0 1 0 -24 0zM1025.8 938.4a12 12 0 1 0 24 0a12 12 0 1 0 -24 0zM1045.8 911.7a12 12 0 1 0 24 0a12 12 0 1 0 -24 0zM1065.4 879.6a12 12 0 1 0 24 0a12 12 0 1 0 -24 0zM1084.2 837a12 12 0 1 0 24 0a12 12 0 1 0 -24 0zM1105.5 792.2a12 12 0 1 0 24 0a12 12 0 1 0 -24 0zM1126.3 748a12 12 0 1 0 24 0a12 12 0 1 0 -24 0zM1146.2 684a12 12 0 1 0 24 0a12 12 0 1 0 -24 0zM1166.2 642.3a12 12 0 1 0 24 0a12 12 0 1 0 -24 0zM1186.2 584.9a12 12 0 1 0 24 0a12 12 0 1 0 -24 0zM1206.2 564.1a12 12 0 1 0 24 0a12 12 0 1 0 -24 0zM1225.3 540a12 12 0 1 0 24 0a12 12 0 1 0 -24 0zM1247 537.5a12 12 0 1 0 24 0a12 12 0 1 0 -24 0zM1266.9 553.3a12 12 0 1 0 24 0a12 12 0 1 0 -24 0zM1286.1 586.6a12 12 0 1 0 24 0a12 12 0 1 0 -24 0zM1306.1 634.8a12 12 0 1 0 24 0a12 12 0 1 0 -24 0zM1326 694a12 12 0 1 0 24 0a12 12 0 1 0 -24 0zM1346.8 752.2a12 12 0 1 0 24 0a12 12 0 1 0 -24 0zM1366.6 810.9a12 12 0 1 0 24 0a12 12 0 1 0 -24 0zM1387.1 864.7a12 12 0 1 0 24 0a12 12 0 1 0 -24 0zM1406.7 913.6a12 12 0 1 0 24 0a12 12 0 1 0 -24 0zM1427.3 950.8a12 12 0 1 0 24 0a12 12 0 1 0 -24 0zM1446.8 976.6a12 12 0 1 0 24 0a12 12 0 1 0 -24 0zM1466.8 992.2a12 12 0 1 0 24 0a12 12 0 1 0 -24 0zM1486.7 1007.7a12 12 0 1 0 24 0a12 12 0 1 0 -24 0zM1506.7 1024.4a12 12 0 1 0 24 0a12 12 0 1 0 -24 0zM1526.7 1034.3a12 12 0 1 0 24 0a12 12 0 1 0 -24 0zM1606.7 1048.5a12 12 0 1 0 24 0a12 12 0 1 0 -24 0zM1688.4 1056.2a12 12 0 1 0 24 0a12 12 0 1 0 -24 0zM1768.3 1062.5a12 12 0 1 0 24 0a12 12 0 1 0 -24 0zM1848 1069a12 12 0 1 0 24 0a12 12 0 1 0 -24 0zM1927 1074a12 12 0 1 0 24 0a12 12 0 1 0 -24 0z" fill="#ff4040"/>
<path d="M316.9 1062.7 L396.8 1063.5 L477.3 1060.5 L556.6 1058.6 L637.9 1057 L717.1 1052.3 L797 1051.5 L877.6 1047 L957.5 1043.7 L1037.8 1029.3 L1118.4 1016.9 L1200.1 982.5 L1220.7 968.7 L1239.7 948.1 L1260.3 927.4 L1279.2 896.5 L1298.2 858.6 L1318.8 815.6 L1339 762 L1359.1 707.9 L1378.6 671 L1398.9 625.4 L1418.4 583.6 L1438.8 557.4 L1459.1 542.8 L1478.6 543.8 L1499 562.3 L1518.4 592.4 L1538.8 641.9 L1559.2 693.4 L1578.6 746.8 L1598 802.1 L1619.4 847.8 L1639.1 896.8 L1658.3 933.8 L1678.7 963.1 L1699.1 991.2 L1780.3 1037.2 L1860 1052.5 L1939.1 1060.2" fill="none" stroke="#0872e4" stroke-width="5.8" stroke-linejoin="round"/>
<path d="M316.9 1046l14.5 25h-29zM396.8 1046.8l14.5 25h-29zM477.3 1043.8l14.5 25h-29zM556.6 1041.9l14.5 25h-29zM637.9 1040.3l14.5 25h-29zM717.1 1035.6l14.5 25h-29zM797 1034.8l14.5 25h-29zM877.6 1030.3l14.5 25h-29zM957.5 1027l14.5 25h-29zM1037.8 1012.6l14.5 25h-29zM1118.4 1000.2l14.5 25h-29zM1200.1 965.8l14.5 25h-29zM1220.7 952l14.5 25h-29zM1239.7 931.4l14.5 25h-29zM1260.3 910.7l14.5 25h-29zM1279.2 879.8l14.5 25h-29zM1298.2 841.9l14.5 25h-29zM1318.8 798.9l14.5 25h-29zM1339 745.3l14.5 25h-29zM1359.1 691.2l14.5 25h-29zM1378.6 654.3l14.5 25h-29zM1398.9 608.7l14.5 25h-29zM1418.4 566.9l14.5 25h-29zM1438.8 540.7l14.5 25h-29zM1459.1 526.1l14.5 25h-29zM1478.6 527.1l14.5 25h-29zM1499 545.6l14.5 25h-29zM1518.4 575.7l14.5 25h-29zM1538.8 625.2l14.5 25h-29zM1559.2 676.7l14.5 25h-29zM1578.6 730.1l14.5 25h-29zM1598 785.4l14.5 25h-29zM1619.4 831.1l14.5 25h-29zM1639.1 880.1l14.5 25h-29zM1658.3 917.1l14.5 25h-29zM1678.7 946.4l14.5 25h-29zM1699.1 974.5l14.5 25h-29zM1780.3 1020.5l14.5 25h-29zM1860 1035.8l14.5 25h-29zM1939.1 1043.5l14.5 25h-29z" fill="#0872e4"/>
</g>
<g clip-path="url(#pc_b)">
<path d="M315.9 2331 L396.4 2326 L476.3 2321 L555.4 2314.5 L637.2 2302.3 L716.3 2282.3 L736.2 2279 L756.2 2268.6 L776.6 2254.1 L796.2 2239 L815.7 2218.4 L836.5 2195 L857.2 2160.2 L876.1 2126.3 L897.2 2086.5 L917.1 2041.1 L936.5 1992.3 L957.8 1939 L977.1 1890.6 L996.4 1853.6 L1017.7 1825.8 L1037.5 1804.7 L1057 1818 L1078.5 1825.8 L1097.6 1871 L1116.8 1917.7 L1136.8 1972.6 L1157.6 2030 L1176.6 2088.6 L1198.6 2135.1 L1218.4 2181.5 L1238.2 2209 L1258.8 2243.4 L1278.6 2271.8 L1297.5 2284.7 L1319.9 2298.5 L1338.8 2307 L1358.5 2313.5 L1379.6 2321.3 L1458.4 2330.2 L1537.7 2339.1 L1617.2 2344 L1698.5 2346 L1778.5 2347 L1858.5 2348 L1937.5 2349" fill="none" stroke="#515151" stroke-width="5.8" stroke-linejoin="round"/>
<path d="M304.4 2319.5h23v23h-23zM384.9 2314.5h23v23h-23zM464.8 2309.5h23v23h-23zM543.9 2303h23v23h-23zM625.7 2290.8h23v23h-23zM704.8 2270.8h23v23h-23zM724.7 2267.5h23v23h-23zM744.7 2257.1h23v23h-23zM765.1 2242.6h23v23h-23zM784.7 2227.5h23v23h-23zM804.2 2206.9h23v23h-23zM825 2183.5h23v23h-23zM845.7 2148.7h23v23h-23zM864.6 2114.8h23v23h-23zM885.7 2075h23v23h-23zM905.6 2029.6h23v23h-23zM925 1980.8h23v23h-23zM946.3 1927.5h23v23h-23zM965.6 1879.1h23v23h-23zM984.9 1842.1h23v23h-23zM1006.2 1814.3h23v23h-23zM1026 1793.2h23v23h-23zM1045.5 1806.5h23v23h-23zM1067 1814.3h23v23h-23zM1086.1 1859.5h23v23h-23zM1105.3 1906.2h23v23h-23zM1125.3 1961.1h23v23h-23zM1146.1 2018.5h23v23h-23zM1165.1 2077.1h23v23h-23zM1187.1 2123.6h23v23h-23zM1206.9 2170h23v23h-23zM1226.7 2197.5h23v23h-23zM1247.3 2231.9h23v23h-23zM1267.1 2260.3h23v23h-23zM1286 2273.2h23v23h-23zM1308.4 2287h23v23h-23zM1327.3 2295.5h23v23h-23zM1347 2302h23v23h-23zM1368.1 2309.8h23v23h-23zM1446.9 2318.7h23v23h-23zM1526.2 2327.6h23v23h-23zM1605.7 2332.5h23v23h-23zM1687 2334.5h23v23h-23zM1767 2335.5h23v23h-23zM1847 2336.5h23v23h-23zM1926 2337.5h23v23h-23z" fill="#515151"/>
<path d="M315.7 2328 L394.9 2327 L475.3 2326 L555.2 2322 L634.9 2321 L714.8 2316 L795.4 2312 L875.4 2306 L955.3 2294.5 L975.2 2289.5 L995.2 2284.4 L1015.2 2278.1 L1035.2 2271 L1055.2 2259.5 L1076.3 2240.8 L1095.9 2216 L1115.8 2183.5 L1136.6 2124 L1155.7 2059.1 L1175.4 1992.9 L1196.3 1890.6 L1216.1 1812.4 L1235.9 1734.3 L1255.8 1690.2 L1276.7 1653.9 L1296.5 1689.1 L1316.3 1755.2 L1337.2 1832.2 L1357 1930.2 L1377.5 2022.5 L1397.1 2104.4 L1416.5 2165.6 L1437.2 2212.7 L1457.2 2245.8 L1477.3 2265.8 L1497.3 2283.9 L1517.4 2294.9 L1537.4 2303.9 L1557.5 2311 L1577.5 2317 L1597.6 2321 L1617.6 2325 L1697.7 2338.5 L1778.2 2343.8 L1858.4 2349 L1938 2352.7" fill="none" stroke="#ff4040" stroke-width="5.8" stroke-linejoin="round"/>
<path d="M303.7 2328a12 12 0 1 0 24 0a12 12 0 1 0 -24 0zM382.9 2327a12 12 0 1 0 24 0a12 12 0 1 0 -24 0zM463.3 2326a12 12 0 1 0 24 0a12 12 0 1 0 -24 0zM543.2 2322a12 12 0 1 0 24 0a12 12 0 1 0 -24 0zM622.9 2321a12 12 0 1 0 24 0a12 12 0 1 0 -24 0zM702.8 2316a12 12 0 1 0 24 0a12 12 0 1 0 -24 0zM783.4 2312a12 12 0 1 0 24 0a12 12 0 1 0 -24 0zM863.4 2306a12 12 0 1 0 24 0a12 12 0 1 0 -24 0zM943.3 2294.5a12 12 0 1 0 24 0a12 12 0 1 0 -24 0zM963.2 2289.5a12 12 0 1 0 24 0a12 12 0 1 0 -24 0zM983.2 2284.4a12 12 0 1 0 24 0a12 12 0 1 0 -24 0zM1003.2 2278.1a12 12 0 1 0 24 0a12 12 0 1 0 -24 0zM1023.2 2271a12 12 0 1 0 24 0a12 12 0 1 0 -24 0zM1043.2 2259.5a12 12 0 1 0 24 0a12 12 0 1 0 -24 0zM1064.3 2240.8a12 12 0 1 0 24 0a12 12 0 1 0 -24 0zM1083.9 2216a12 12 0 1 0 24 0a12 12 0 1 0 -24 0zM1103.8 2183.5a12 12 0 1 0 24 0a12 12 0 1 0 -24 0zM1124.6 2124a12 12 0 1 0 24 0a12 12 0 1 0 -24 0zM1143.7 2059.1a12 12 0 1 0 24 0a12 12 0 1 0 -24 0zM1163.4 1992.9a12 12 0 1 0 24 0a12 12 0 1 0 -24 0zM1184.3 1890.6a12 12 0 1 0 24 0a12 12 0 1 0 -24 0zM1204.1 1812.4a12 12 0 1 0 24 0a12 12 0 1 0 -24 0zM1223.9 1734.3a12 12 0 1 0 24 0a12 12 0 1 0 -24 0zM1243.8 1690.2a12 12 0 1 0 24 0a12 12 0 1 0 -24 0zM1264.7 1653.9a12 12 0 1 0 24 0a12 12 0 1 0 -24 0zM1284.5 1689.1a12 12 0 1 0 24 0a12 12 0 1 0 -24 0zM1304.3 1755.2a12 12 0 1 0 24 0a12 12 0 1 0 -24 0zM1325.2 1832.2a12 12 0 1 0 24 0a12 12 0 1 0 -24 0zM1345 1930.2a12 12 0 1 0 24 0a12 12 0 1 0 -24 0zM1365.5 2022.5a12 12 0 1 0 24 0a12 12 0 1 0 -24 0zM1385.1 2104.4a12 12 0 1 0 24 0a12 12 0 1 0 -24 0zM1404.5 2165.6a12 12 0 1 0 24 0a12 12 0 1 0 -24 0zM1425.2 2212.7a12 12 0 1 0 24 0a12 12 0 1 0 -24 0zM1445.2 2245.8a12 12 0 1 0 24 0a12 12 0 1 0 -24 0zM1465.3 2265.8a12 12 0 1 0 24 0a12 12 0 1 0 -24 0zM1485.3 2283.9a12 12 0 1 0 24 0a12 12 0 1 0 -24 0zM1505.4 2294.9a12 12 0 1 0 24 0a12 12 0 1 0 -24 0zM1525.4 2303.9a12 12 0 1 0 24 0a12 12 0 1 0 -24 0zM1545.5 2311a12 12 0 1 0 24 0a12 12 0 1 0 -24 0zM1565.5 2317a12 12 0 1 0 24 0a12 12 0 1 0 -24 0zM1585.6 2321a12 12 0 1 0 24 0a12 12 0 1 0 -24 0zM1605.6 2325a12 12 0 1 0 24 0a12 12 0 1 0 -24 0zM1685.7 2338.5a12 12 0 1 0 24 0a12 12 0 1 0 -24 0zM1766.2 2343.8a12 12 0 1 0 24 0a12 12 0 1 0 -24 0zM1846.4 2349a12 12 0 1 0 24 0a12 12 0 1 0 -24 0zM1926 2352.7a12 12 0 1 0 24 0a12 12 0 1 0 -24 0z" fill="#ff4040"/>
<path d="M315.3 2335.3 L395.2 2332.6 L475.1 2330 L555.3 2329.6 L635.2 2329 L715.1 2323.6 L796 2319.3 L875.9 2312.3 L955.1 2306.6 L1035.9 2298.1 L1056.4 2296.1 L1076.8 2293.3 L1095.9 2288.4 L1116.3 2283.9 L1136.6 2273.3 L1155.7 2266.2 L1176.6 2256.2 L1196.5 2238.7 L1216.5 2212.1 L1236.5 2180.5 L1256.5 2118 L1276.5 2027 L1296.5 1899 L1316.3 1744.9 L1336 1581.6 L1356.6 1504 L1377.1 1500.6 L1396.5 1575 L1416.4 1707.5 L1437.3 1852.7 L1457 1992 L1477.3 2099.4 L1497.3 2172.6 L1517.4 2214.7 L1537.4 2247.8 L1557.5 2267.2 L1577.5 2282.9 L1597.6 2292.5 L1617.6 2304.8 L1637.7 2309.8 L1657.7 2315.3 L1677.3 2321 L1697.7 2324.5 L1778.2 2330 L1858.4 2335 L1938.3 2340" fill="none" stroke="#0872e4" stroke-width="5.8" stroke-linejoin="round"/>
<path d="M315.3 2318.6l14.5 25h-29zM395.2 2315.9l14.5 25h-29zM475.1 2313.3l14.5 25h-29zM555.3 2312.9l14.5 25h-29zM635.2 2312.3l14.5 25h-29zM715.1 2306.9l14.5 25h-29zM796 2302.6l14.5 25h-29zM875.9 2295.6l14.5 25h-29zM955.1 2289.9l14.5 25h-29zM1035.9 2281.4l14.5 25h-29zM1056.4 2279.4l14.5 25h-29zM1076.8 2276.6l14.5 25h-29zM1095.9 2271.7l14.5 25h-29zM1116.3 2267.2l14.5 25h-29zM1136.6 2256.6l14.5 25h-29zM1155.7 2249.5l14.5 25h-29zM1176.6 2239.5l14.5 25h-29zM1196.5 2222l14.5 25h-29zM1216.5 2195.4l14.5 25h-29zM1236.5 2163.8l14.5 25h-29zM1256.5 2101.3l14.5 25h-29zM1276.5 2010.3l14.5 25h-29zM1296.5 1882.3l14.5 25h-29zM1316.3 1728.2l14.5 25h-29zM1336 1564.9l14.5 25h-29zM1356.6 1487.3l14.5 25h-29zM1377.1 1483.9l14.5 25h-29zM1396.5 1558.3l14.5 25h-29zM1416.4 1690.8l14.5 25h-29zM1437.3 1836l14.5 25h-29zM1457 1975.3l14.5 25h-29zM1477.3 2082.7l14.5 25h-29zM1497.3 2155.9l14.5 25h-29zM1517.4 2198l14.5 25h-29zM1537.4 2231.1l14.5 25h-29zM1557.5 2250.5l14.5 25h-29zM1577.5 2266.2l14.5 25h-29zM1597.6 2275.8l14.5 25h-29zM1617.6 2288.1l14.5 25h-29zM1637.7 2293.1l14.5 25h-29zM1657.7 2298.6l14.5 25h-29zM1677.3 2304.3l14.5 25h-29zM1697.7 2307.8l14.5 25h-29zM1778.2 2313.3l14.5 25h-29zM1858.4 2318.3l14.5 25h-29zM1938.3 2323.3l14.5 25h-29z" fill="#0872e4"/>
</g>
<rect x="261" y="63" width="1689" height="1015" fill="none" stroke="#000" stroke-width="8"/>
<rect x="260.5" y="1340" width="1688" height="1015" fill="none" stroke="#000" stroke-width="8"/>
<path d="M866.5 795.5 L787 763.1" stroke="#515151" stroke-width="6"/><path d="M760.2 752.1 L798.9 747.4 L787 763.1 L784.5 782.5Z" fill="#515151"/>
<path d="M1204.5 496.5 L1145.7 432.5" stroke="#ff0000" stroke-width="6"/><path d="M1126.1 411.1 L1163.5 423 L1145.7 432.5 L1134.7 449.3Z" fill="#ff0000"/>
<path d="M1539.2 557.6 L1554.7 473.4" stroke="#0872e4" stroke-width="5.8"/><path d="M1559.9 444.9 L1572.4 481.8 L1554.7 473.4 L1535.1 474.9Z" fill="#0872e4"/>
<path d="M957 717.5 L1099 717.5" stroke="#000" stroke-width="7.5"/><path d="M1134 717.5 L1099 733.7 L1099 717.5 L1099 701.3Z" fill="#000"/>
<path d="M1163 717.5 L1305 717.5" stroke="#000" stroke-width="7.5"/><path d="M1340 717.5 L1305 733.7 L1305 717.5 L1305 701.3Z" fill="#000"/>
<path d="M1381 717.5 L1522 717.5" stroke="#000" stroke-width="7.5"/><path d="M1557 717.5 L1522 733.7 L1522 717.5 L1522 701.3Z" fill="#000"/>
<text x="1582" y="672" font-size="52" font-weight="normal">Peak shift</text>
<path d="M849.9 2111.9 L770.8 2079.5" stroke="#515151" stroke-width="5.8"/><path d="M744 2068.5 L782.7 2063.8 L770.8 2079.5 L768.3 2099Z" fill="#515151"/>
<path d="M1234.5 1674.7 L1174.7 1610.4" stroke="#ff0000" stroke-width="6"/><path d="M1155 1589.2 L1192.4 1600.8 L1174.7 1610.4 L1163.9 1627.4Z" fill="#ff0000"/>
<path d="M1462.1 1805.9 L1516.1 1740.2" stroke="#0872e4" stroke-width="6.5"/><path d="M1534.5 1717.8 L1527.6 1756.1 L1516.1 1740.2 L1498.2 1732Z" fill="#0872e4"/>
<rect x="264" y="63" width="493" height="220" fill="#fff" stroke="#000" stroke-width="6"/>
<path d="M272 106.8H390" stroke="#515151" stroke-width="7"/>
<path d="M318 95.3h23v23h-23z" fill="#515151"/>
<text x="398" y="125" font-size="51" word-spacing="-2">10<tspan dy="-21" font-size="33">-2</tspan><tspan dy="21">/ps, </tspan><tspan font-style="italic">&#949;</tspan> = 0.152</text>
<path d="M272 175.6H390" stroke="#ff4040" stroke-width="7"/>
<path d="M317.5 175.6a12 12 0 1 0 24 0a12 12 0 1 0 -24 0z" fill="#ff4040"/>
<text x="398" y="193" font-size="51" word-spacing="-2">10<tspan dy="-21" font-size="33">-2</tspan><tspan dy="21">/ps, </tspan><tspan font-style="italic">&#949;</tspan> = 0.155</text>
<path d="M272 244.7H390" stroke="#0872e4" stroke-width="7"/>
<path d="M330 228l14.5 25h-29z" fill="#0872e4"/>
<text x="398" y="261.5" font-size="51" word-spacing="-2">10<tspan dy="-21" font-size="33">-2</tspan><tspan dy="21">/ps, </tspan><tspan font-style="italic">&#949;</tspan> = 0.158</text>
<rect x="264" y="1340" width="493" height="220" fill="#fff" stroke="#000" stroke-width="6"/>
<path d="M272 1383.8H390" stroke="#515151" stroke-width="7"/>
<path d="M318 1372.3h23v23h-23z" fill="#515151"/>
<text x="398" y="1402" font-size="51" word-spacing="-2">10<tspan dy="-21" font-size="33">-2</tspan><tspan dy="21">/ps, </tspan><tspan font-style="italic">&#949;</tspan> = 0.152</text>
<path d="M272 1452.6H390" stroke="#ff4040" stroke-width="7"/>
<path d="M317.5 1452.6a12 12 0 1 0 24 0a12 12 0 1 0 -24 0z" fill="#ff4040"/>
<text x="398" y="1470" font-size="51" word-spacing="-2">10<tspan dy="-21" font-size="33">-4</tspan><tspan dy="21">/ps, </tspan><tspan font-style="italic">&#949;</tspan> = 0.152</text>
<path d="M272 1521.7H390" stroke="#0872e4" stroke-width="7"/>
<path d="M330 1505l14.5 25h-29z" fill="#0872e4"/>
<text x="398" y="1538.5" font-size="51" word-spacing="-2">10<tspan dy="-21" font-size="33">-6</tspan><tspan dy="21">/ps, </tspan><tspan font-style="italic">&#949;</tspan> = 0.152</text>
</svg>
</div></body></html>
